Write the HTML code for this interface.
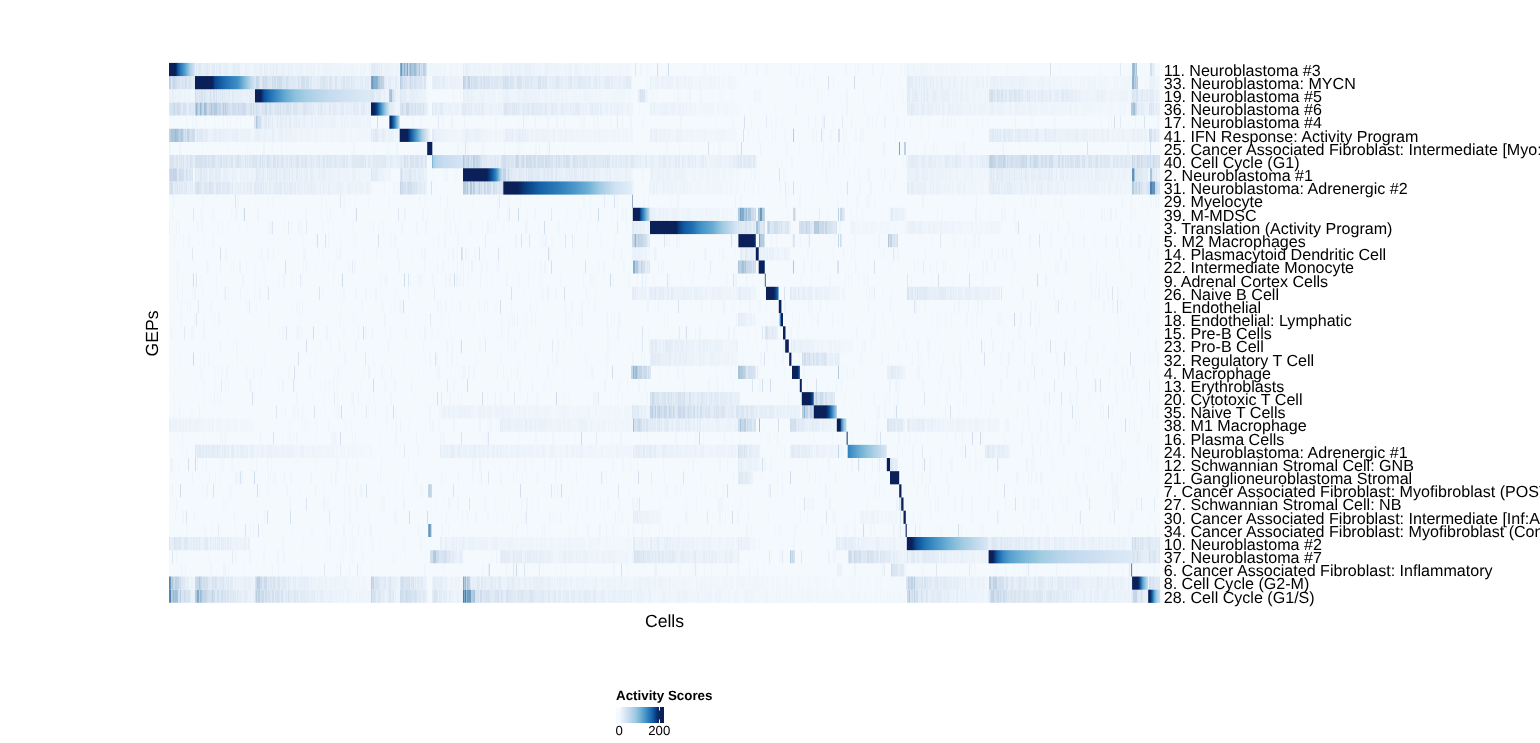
<!DOCTYPE html>
<html><head><meta charset="utf-8"><title>Heatmap</title><style>html,body{margin:0;padding:0;background:#fff;}body{width:1540px;height:743px;overflow:hidden;}svg{display:block;will-change:transform;text-rendering:geometricPrecision;}</style></head><body>
<svg width="1540" height="743" viewBox="0 0 1540 743">
<rect width="1540" height="743" fill="#fff"/>
<g><defs><linearGradient id="g0" x1="0" x2="1" y1="0" y2="0"><stop offset="0.0000" stop-color="#0b2059"/><stop offset="0.2692" stop-color="#0b2059"/><stop offset="0.3154" stop-color="#084a92"/><stop offset="0.4231" stop-color="#2070b4"/><stop offset="0.6154" stop-color="#56a0ce"/><stop offset="0.8077" stop-color="#aacfe5"/><stop offset="1.0000" stop-color="#d6e5f4"/></linearGradient><linearGradient id="g1" x1="0" x2="1" y1="0" y2="0"><stop offset="0.0000" stop-color="#0b2059"/><stop offset="0.2883" stop-color="#0b2059"/><stop offset="0.3417" stop-color="#084a92"/><stop offset="0.5167" stop-color="#2070b4"/><stop offset="0.7167" stop-color="#4191c5"/><stop offset="0.8250" stop-color="#7fb9da"/><stop offset="0.9167" stop-color="#b5d4e9"/><stop offset="1.0000" stop-color="#d6e5f4"/></linearGradient><linearGradient id="g2" x1="0" x2="1" y1="0" y2="0"><stop offset="0.0000" stop-color="#0b2059"/><stop offset="0.0517" stop-color="#0b2059"/><stop offset="0.0776" stop-color="#08509b"/><stop offset="0.1293" stop-color="#2070b4"/><stop offset="0.1983" stop-color="#4191c5"/><stop offset="0.2586" stop-color="#65aad4"/><stop offset="0.3448" stop-color="#8dc1dd"/><stop offset="0.4397" stop-color="#a6cee4"/><stop offset="0.5431" stop-color="#b8d5ea"/><stop offset="0.6466" stop-color="#c6dbef"/><stop offset="0.7759" stop-color="#cfe1f2"/><stop offset="0.9052" stop-color="#d8e7f5"/><stop offset="1.0000" stop-color="#dceaf6"/></linearGradient><linearGradient id="g3" x1="0" x2="1" y1="0" y2="0"><stop offset="0.0000" stop-color="#0b2059"/><stop offset="0.1944" stop-color="#0a245e"/><stop offset="0.3333" stop-color="#084489"/><stop offset="0.5000" stop-color="#2f7fbc"/><stop offset="0.6667" stop-color="#69add5"/><stop offset="0.8333" stop-color="#aacfe5"/><stop offset="1.0000" stop-color="#d3e4f3"/></linearGradient><linearGradient id="g4" x1="0" x2="1" y1="0" y2="0"><stop offset="0.0000" stop-color="#0a2761"/><stop offset="0.1553" stop-color="#082e69"/><stop offset="0.3495" stop-color="#0e59a2"/><stop offset="0.5437" stop-color="#3585bf"/><stop offset="0.7379" stop-color="#76b4d8"/><stop offset="1.0000" stop-color="#c6dbef"/></linearGradient><linearGradient id="g5" x1="0" x2="1" y1="0" y2="0"><stop offset="0.0000" stop-color="#0b2059"/><stop offset="0.2836" stop-color="#0b2059"/><stop offset="0.4109" stop-color="#0e59a2"/><stop offset="0.6291" stop-color="#56a0ce"/><stop offset="0.8109" stop-color="#aacfe5"/><stop offset="1.0000" stop-color="#dae8f6"/></linearGradient><linearGradient id="g7" x1="0" x2="1" y1="0" y2="0"><stop offset="0.0000" stop-color="#56a0ce"/><stop offset="0.0326" stop-color="#a3cce3"/><stop offset="0.1205" stop-color="#b8d5ea"/><stop offset="0.4137" stop-color="#c9ddf0"/><stop offset="0.7394" stop-color="#cfe1f2"/><stop offset="1.0000" stop-color="#d6e5f4"/></linearGradient><linearGradient id="g8" x1="0" x2="1" y1="0" y2="0"><stop offset="0.0000" stop-color="#0b2059"/><stop offset="0.6000" stop-color="#0b2059"/><stop offset="0.7250" stop-color="#0c56a0"/><stop offset="0.8250" stop-color="#3585bf"/><stop offset="0.9250" stop-color="#9fcbe1"/><stop offset="1.0000" stop-color="#d6e5f4"/></linearGradient><linearGradient id="g9" x1="0" x2="1" y1="0" y2="0"><stop offset="0.0000" stop-color="#0b2059"/><stop offset="0.1138" stop-color="#0b2059"/><stop offset="0.1680" stop-color="#083c7c"/><stop offset="0.2841" stop-color="#1562a9"/><stop offset="0.4698" stop-color="#3585bf"/><stop offset="0.6478" stop-color="#69add5"/><stop offset="0.7485" stop-color="#a3cce3"/><stop offset="0.8646" stop-color="#cfe1f2"/><stop offset="1.0000" stop-color="#e3eef9"/></linearGradient><linearGradient id="g11" x1="0" x2="1" y1="0" y2="0"><stop offset="0.0000" stop-color="#0b2059"/><stop offset="0.3905" stop-color="#0b2059"/><stop offset="0.4852" stop-color="#0e59a2"/><stop offset="0.6627" stop-color="#4191c5"/><stop offset="0.8402" stop-color="#8dc1dd"/><stop offset="1.0000" stop-color="#c6dbef"/></linearGradient><linearGradient id="g12" x1="0" x2="1" y1="0" y2="0"><stop offset="0.0000" stop-color="#0b2059"/><stop offset="0.2986" stop-color="#0b2059"/><stop offset="0.3281" stop-color="#083c7c"/><stop offset="0.3846" stop-color="#0e59a2"/><stop offset="0.4842" stop-color="#2070b4"/><stop offset="0.5724" stop-color="#4191c5"/><stop offset="0.7127" stop-color="#69add5"/><stop offset="0.8190" stop-color="#9fcbe1"/><stop offset="0.9276" stop-color="#c6dbef"/><stop offset="1.0000" stop-color="#dceaf6"/></linearGradient><linearGradient id="g13" x1="0" x2="1" y1="0" y2="0"><stop offset="0.0000" stop-color="#0b2059"/><stop offset="0.8678" stop-color="#0b2059"/><stop offset="1.0000" stop-color="#083c7c"/></linearGradient><linearGradient id="g15" x1="0" x2="1" y1="0" y2="0"><stop offset="0.0000" stop-color="#0b2059"/><stop offset="0.7869" stop-color="#0b2059"/><stop offset="1.0000" stop-color="#083c7c"/></linearGradient><linearGradient id="g17" x1="0" x2="1" y1="0" y2="0"><stop offset="0.0000" stop-color="#0b2059"/><stop offset="0.6111" stop-color="#0b2059"/><stop offset="0.7937" stop-color="#084489"/><stop offset="1.0000" stop-color="#2676b8"/></linearGradient><linearGradient id="g19" x1="0" x2="1" y1="0" y2="0"><stop offset="0.0000" stop-color="#69add5"/><stop offset="0.4286" stop-color="#1a67ae"/><stop offset="0.5714" stop-color="#0b2059"/><stop offset="1.0000" stop-color="#0b2059"/></linearGradient><linearGradient id="g23" x1="0" x2="1" y1="0" y2="0"><stop offset="0.0000" stop-color="#0b2059"/><stop offset="0.6750" stop-color="#0b2059"/><stop offset="0.8750" stop-color="#08509b"/><stop offset="1.0000" stop-color="#3585bf"/></linearGradient><linearGradient id="g25" x1="0" x2="1" y1="0" y2="0"><stop offset="0.0000" stop-color="#0b2059"/><stop offset="0.6833" stop-color="#0b2059"/><stop offset="0.8500" stop-color="#083c7c"/><stop offset="1.0000" stop-color="#1a67ae"/></linearGradient><linearGradient id="g26" x1="0" x2="1" y1="0" y2="0"><stop offset="0.0000" stop-color="#0b2059"/><stop offset="0.5259" stop-color="#0b2059"/><stop offset="0.6552" stop-color="#084a92"/><stop offset="0.7845" stop-color="#3585bf"/><stop offset="0.9138" stop-color="#7fb9da"/><stop offset="1.0000" stop-color="#bcd7ec"/></linearGradient><linearGradient id="g27" x1="0" x2="1" y1="0" y2="0"><stop offset="0.0000" stop-color="#0b2059"/><stop offset="0.3505" stop-color="#0b2059"/><stop offset="0.4845" stop-color="#3585bf"/><stop offset="0.7423" stop-color="#96c6df"/><stop offset="1.0000" stop-color="#c6dbef"/></linearGradient><linearGradient id="g29" x1="0" x2="1" y1="0" y2="0"><stop offset="0.0000" stop-color="#2f7fbc"/><stop offset="0.1100" stop-color="#4493c7"/><stop offset="0.3146" stop-color="#6dafd6"/><stop offset="0.5703" stop-color="#9bc8e0"/><stop offset="0.8133" stop-color="#c0d8ed"/><stop offset="1.0000" stop-color="#d8e7f5"/></linearGradient><linearGradient id="g31" x1="0" x2="1" y1="0" y2="0"><stop offset="0.0000" stop-color="#0b2059"/><stop offset="0.9239" stop-color="#0b2059"/><stop offset="1.0000" stop-color="#082e69"/></linearGradient><linearGradient id="g36" x1="0" x2="1" y1="0" y2="0"><stop offset="0.0000" stop-color="#0b2059"/><stop offset="0.0636" stop-color="#0b2059"/><stop offset="0.1125" stop-color="#084a92"/><stop offset="0.2225" stop-color="#2373b6"/><stop offset="0.3447" stop-color="#4191c5"/><stop offset="0.5281" stop-color="#76b4d8"/><stop offset="0.6748" stop-color="#9fcbe1"/><stop offset="0.8337" stop-color="#c0d8ed"/><stop offset="1.0000" stop-color="#dae8f6"/></linearGradient><linearGradient id="g37" x1="0" x2="1" y1="0" y2="0"><stop offset="0.0000" stop-color="#0b2059"/><stop offset="0.0307" stop-color="#0b2059"/><stop offset="0.0587" stop-color="#0e59a2"/><stop offset="0.1006" stop-color="#3585bf"/><stop offset="0.1494" stop-color="#56a0ce"/><stop offset="0.2542" stop-color="#7fb9da"/><stop offset="0.3589" stop-color="#9fcbe1"/><stop offset="0.4986" stop-color="#b8d5ea"/><stop offset="0.6383" stop-color="#c6dbef"/><stop offset="0.7779" stop-color="#cfe1f2"/><stop offset="1.0000" stop-color="#dceaf6"/></linearGradient><linearGradient id="g39" x1="0" x2="1" y1="0" y2="0"><stop offset="0.0000" stop-color="#0b2059"/><stop offset="0.3665" stop-color="#0b2059"/><stop offset="0.4783" stop-color="#084a92"/><stop offset="0.6708" stop-color="#5ea5d1"/><stop offset="0.8634" stop-color="#aacfe5"/><stop offset="1.0000" stop-color="#c6dbef"/></linearGradient><linearGradient id="g40" x1="0" x2="1" y1="0" y2="0"><stop offset="0.0000" stop-color="#0b2059"/><stop offset="0.1250" stop-color="#0b2059"/><stop offset="0.2333" stop-color="#083c7c"/><stop offset="0.3833" stop-color="#2373b6"/><stop offset="0.5417" stop-color="#69add5"/><stop offset="0.7333" stop-color="#aacfe5"/><stop offset="0.9500" stop-color="#cbdef1"/><stop offset="1.0000" stop-color="#cfe1f2"/></linearGradient></defs><rect x="169" y="62.9" width="991.2" height="539.97" fill="#f4f9fe"/>
<path fill="#eff6fb" d="M175 62.9h1v13.17h-1zM177 62.9h2v13.17h-2zM186 62.9h1v13.17h-1zM304 62.9h1v13.17h-1zM309 62.9h1v13.17h-1zM315 62.9h1v13.17h-1zM323 62.9h1v13.17h-1zM333 62.9h1v13.17h-1zM341 62.9h1v13.17h-1zM354 62.9h3v13.17h-3zM365 62.9h1v13.17h-1zM393 62.9h2v13.17h-2zM432 62.9h1v13.17h-1zM437 62.9h1v13.17h-1zM440 62.9h1v13.17h-1zM449 62.9h2v13.17h-2zM452 62.9h1v13.17h-1zM455 62.9h3v13.17h-3zM477 62.9h1v13.17h-1zM491 62.9h2v13.17h-2zM499 62.9h2v13.17h-2zM541 62.9h3v13.17h-3zM561 62.9h1v13.17h-1zM592 62.9h1v13.17h-1zM597 62.9h1v13.17h-1zM601 62.9h1v13.17h-1zM617 62.9h2v13.17h-2zM627 62.9h1v13.17h-1zM702 62.9h1v13.17h-1zM765 62.9h1v13.17h-1zM791 62.9h1v13.17h-1zM814 62.9h1v13.17h-1zM855 62.9h1v13.17h-1zM882 62.9h1v13.17h-1zM907 62.9h1v13.17h-1zM911 62.9h1v13.17h-1zM916 62.9h3v13.17h-3zM924 62.9h1v13.17h-1zM926 62.9h1v13.17h-1zM928 62.9h1v13.17h-1zM930 62.9h1v13.17h-1zM937 62.9h1v13.17h-1zM943 62.9h1v13.17h-1zM945 62.9h2v13.17h-2zM951 62.9h1v13.17h-1zM1006 62.9h1v13.17h-1zM1059 62.9h1v13.17h-1zM243 76.1h1v13.17h-1zM682 76.1h1v13.17h-1zM701 76.1h1v13.17h-1zM712 76.1h1v13.17h-1zM715 76.1h1v13.17h-1zM718 76.1h2v13.17h-2zM728 76.1h3v13.17h-3zM732 76.1h1v13.17h-1zM796 76.1h1v13.17h-1zM963 76.1h1v13.17h-1zM968 76.1h4v13.17h-4zM973 76.1h2v13.17h-2zM1032 76.1h2v13.17h-2zM1040 76.1h1v13.17h-1zM1053 76.1h1v13.17h-1zM1061 76.1h1v13.17h-1zM1064 76.1h1v13.17h-1zM1069 76.1h1v13.17h-1zM1083 76.1h1v13.17h-1zM1089 76.1h2v13.17h-2zM1113 76.1h1v13.17h-1zM1117 76.1h2v13.17h-2zM1122 76.1h1v13.17h-1zM1124 76.1h1v13.17h-1zM1126 76.1h6v13.17h-6zM1145 76.1h1v13.17h-1zM182 89.2h2v13.17h-2zM185 89.2h2v13.17h-2zM262 89.2h1v13.17h-1zM278 89.2h2v13.17h-2zM426 89.2h1v13.17h-1zM460 89.2h1v13.17h-1zM478 89.2h1v13.17h-1zM497 89.2h3v13.17h-3zM501 89.2h1v13.17h-1zM514 89.2h2v13.17h-2zM522 89.2h1v13.17h-1zM545 89.2h1v13.17h-1zM548 89.2h2v13.17h-2zM552 89.2h2v13.17h-2zM567 89.2h1v13.17h-1zM583 89.2h1v13.17h-1zM614 89.2h1v13.17h-1zM620 89.2h3v13.17h-3zM625 89.2h1v13.17h-1zM653 89.2h1v13.17h-1zM677 89.2h2v13.17h-2zM699 89.2h1v13.17h-1zM754 89.2h2v13.17h-2zM972 89.2h1v13.17h-1zM979 89.2h1v13.17h-1zM982 89.2h1v13.17h-1zM986 89.2h1v13.17h-1zM1100 89.2h1v13.17h-1zM1106 89.2h1v13.17h-1zM1108 89.2h3v13.17h-3zM1119 89.2h1v13.17h-1zM661 102.4h1v13.17h-1zM681 102.4h1v13.17h-1zM694 102.4h1v13.17h-1zM703 102.4h2v13.17h-2zM706 102.4h2v13.17h-2zM712 102.4h2v13.17h-2zM717 102.4h2v13.17h-2zM724 102.4h1v13.17h-1zM731 102.4h1v13.17h-1zM795 102.4h1v13.17h-1zM971 102.4h1v13.17h-1zM986 102.4h2v13.17h-2zM1007 102.4h2v13.17h-2zM1049 102.4h1v13.17h-1zM1055 102.4h1v13.17h-1zM1059 102.4h3v13.17h-3zM1063 102.4h1v13.17h-1zM1082 102.4h5v13.17h-5zM1088 102.4h3v13.17h-3zM1092 102.4h1v13.17h-1zM1119 102.4h2v13.17h-2zM1123 102.4h2v13.17h-2zM186 115.6h1v13.17h-1zM192 115.6h1v13.17h-1zM214 115.6h1v13.17h-1zM338 115.6h3v13.17h-3zM395 115.6h2v13.17h-2zM413 115.6h1v13.17h-1zM420 115.6h2v13.17h-2zM442 115.6h2v13.17h-2zM526 115.6h1v13.17h-1zM610 115.6h1v13.17h-1zM680 115.6h2v13.17h-2zM782 115.6h1v13.17h-1zM815 115.6h1v13.17h-1zM833 115.6h1v13.17h-1zM876 115.6h1v13.17h-1zM921 115.6h1v13.17h-1zM929 115.6h1v13.17h-1zM947 115.6h2v13.17h-2zM951 115.6h1v13.17h-1zM1101 115.6h1v13.17h-1zM1108 115.6h1v13.17h-1zM250 128.8h4v13.17h-4zM297 128.8h2v13.17h-2zM303 128.8h2v13.17h-2zM320 128.8h1v13.17h-1zM322 128.8h1v13.17h-1zM330 128.8h1v13.17h-1zM336 128.8h1v13.17h-1zM345 128.8h1v13.17h-1zM358 128.8h2v13.17h-2zM361 128.8h1v13.17h-1zM364 128.8h1v13.17h-1zM366 128.8h1v13.17h-1zM370 128.8h1v13.17h-1zM452 128.8h3v13.17h-3zM484 128.8h1v13.17h-1zM491 128.8h1v13.17h-1zM499 128.8h1v13.17h-1zM551 128.8h2v13.17h-2zM556 128.8h2v13.17h-2zM562 128.8h2v13.17h-2zM567 128.8h2v13.17h-2zM580 128.8h2v13.17h-2zM584 128.8h2v13.17h-2zM587 128.8h3v13.17h-3zM610 128.8h2v13.17h-2zM615 128.8h1v13.17h-1zM622 128.8h5v13.17h-5zM658 128.8h1v13.17h-1zM685 128.8h1v13.17h-1zM691 128.8h2v13.17h-2zM696 128.8h1v13.17h-1zM698 128.8h1v13.17h-1zM703 128.8h1v13.17h-1zM705 128.8h2v13.17h-2zM720 128.8h1v13.17h-1zM722 128.8h2v13.17h-2zM725 128.8h1v13.17h-1zM730 128.8h1v13.17h-1zM775 128.8h1v13.17h-1zM823 128.8h1v13.17h-1zM830 128.8h2v13.17h-2zM855 128.8h2v13.17h-2zM1105 128.8h1v13.17h-1zM1110 128.8h2v13.17h-2zM1114 128.8h2v13.17h-2zM1125 128.8h2v13.17h-2zM386 141.9h1v13.17h-1zM388 141.9h1v13.17h-1zM431 141.9h2v13.17h-2zM457 141.9h2v13.17h-2zM462 141.9h1v13.17h-1zM519 141.9h1v13.17h-1zM666 141.9h2v13.17h-2zM713 141.9h1v13.17h-1zM718 141.9h1v13.17h-1zM844 141.9h1v13.17h-1zM1144 141.9h2v13.17h-2zM781 155.1h1v13.17h-1zM791 155.1h2v13.17h-2zM833 155.1h1v13.17h-1zM854 155.1h1v13.17h-1zM249 168.3h1v13.17h-1zM253 168.3h1v13.17h-1zM356 168.3h3v13.17h-3zM364 168.3h1v13.17h-1zM384 168.3h1v13.17h-1zM388 168.3h2v13.17h-2zM446 168.3h2v13.17h-2zM641 168.3h1v13.17h-1zM671 168.3h2v13.17h-2zM686 168.3h1v13.17h-1zM691 168.3h3v13.17h-3zM702 168.3h2v13.17h-2zM706 168.3h1v13.17h-1zM709 168.3h1v13.17h-1zM713 168.3h1v13.17h-1zM724 168.3h2v13.17h-2zM730 168.3h2v13.17h-2zM881 168.3h1v13.17h-1zM960 168.3h3v13.17h-3zM964 168.3h1v13.17h-1zM966 168.3h1v13.17h-1zM975 168.3h1v13.17h-1zM980 168.3h1v13.17h-1zM358 181.4h1v13.17h-1zM365 181.4h1v13.17h-1zM384 181.4h1v13.17h-1zM393 181.4h1v13.17h-1zM435 181.4h1v13.17h-1zM536 181.4h1v13.17h-1zM607 181.4h2v13.17h-2zM673 181.4h2v13.17h-2zM681 181.4h1v13.17h-1zM686 181.4h1v13.17h-1zM688 181.4h2v13.17h-2zM708 181.4h2v13.17h-2zM713 181.4h3v13.17h-3zM720 181.4h1v13.17h-1zM727 181.4h1v13.17h-1zM731 181.4h1v13.17h-1zM744 181.4h1v13.17h-1zM800 181.4h1v13.17h-1zM859 181.4h1v13.17h-1zM871 181.4h1v13.17h-1zM934 181.4h1v13.17h-1zM955 181.4h2v13.17h-2zM969 181.4h1v13.17h-1zM1081 181.4h1v13.17h-1zM1087 181.4h1v13.17h-1zM1113 181.4h2v13.17h-2zM1122 181.4h1v13.17h-1zM1128 181.4h2v13.17h-2zM343 194.6h2v13.17h-2zM389 194.6h1v13.17h-1zM419 194.6h1v13.17h-1zM473 194.6h1v13.17h-1zM583 194.6h2v13.17h-2zM648 194.6h1v13.17h-1zM670 194.6h1v13.17h-1zM740 194.6h2v13.17h-2zM799 194.6h2v13.17h-2zM847 194.6h1v13.17h-1zM874 194.6h1v13.17h-1zM1151 194.6h1v13.17h-1zM257 207.8h2v13.17h-2zM355 207.8h1v13.17h-1zM422 207.8h1v13.17h-1zM498 207.8h1v13.17h-1zM526 207.8h1v13.17h-1zM638 207.8h1v13.17h-1zM668 207.8h4v13.17h-4zM679 207.8h1v13.17h-1zM696 207.8h3v13.17h-3zM703 207.8h1v13.17h-1zM708 207.8h2v13.17h-2zM711 207.8h1v13.17h-1zM717 207.8h3v13.17h-3zM723 207.8h2v13.17h-2zM726 207.8h2v13.17h-2zM736 207.8h2v13.17h-2zM850 207.8h1v13.17h-1zM862 207.8h1v13.17h-1zM937 207.8h1v13.17h-1zM1001 207.8h1v13.17h-1zM1014 207.8h1v13.17h-1zM1135 207.8h1v13.17h-1zM228 220.9h1v13.17h-1zM238 220.9h1v13.17h-1zM268 220.9h3v13.17h-3zM291 220.9h1v13.17h-1zM322 220.9h1v13.17h-1zM353 220.9h1v13.17h-1zM383 220.9h1v13.17h-1zM455 220.9h1v13.17h-1zM491 220.9h1v13.17h-1zM588 220.9h1v13.17h-1zM626 220.9h1v13.17h-1zM645 220.9h2v13.17h-2zM649 220.9h1v13.17h-1zM839 220.9h2v13.17h-2zM875 220.9h1v13.17h-1zM905 220.9h2v13.17h-2zM926 220.9h2v13.17h-2zM931 220.9h1v13.17h-1zM936 220.9h1v13.17h-1zM943 220.9h1v13.17h-1zM948 220.9h2v13.17h-2zM953 220.9h2v13.17h-2zM960 220.9h1v13.17h-1zM968 220.9h1v13.17h-1zM971 220.9h1v13.17h-1zM980 220.9h2v13.17h-2zM987 220.9h1v13.17h-1zM991 220.9h9v13.17h-9zM1068 220.9h2v13.17h-2zM1145 220.9h1v13.17h-1zM183 234.1h1v13.17h-1zM540 234.1h1v13.17h-1zM601 234.1h1v13.17h-1zM808 234.1h1v13.17h-1zM834 234.1h1v13.17h-1zM931 234.1h1v13.17h-1zM978 234.1h2v13.17h-2zM1065 234.1h1v13.17h-1zM1073 234.1h1v13.17h-1zM1083 234.1h2v13.17h-2zM1105 234.1h2v13.17h-2zM1151 234.1h1v13.17h-1zM225 247.3h2v13.17h-2zM303 247.3h1v13.17h-1zM364 247.3h1v13.17h-1zM452 247.3h1v13.17h-1zM474 247.3h2v13.17h-2zM549 247.3h2v13.17h-2zM573 247.3h1v13.17h-1zM644 247.3h1v13.17h-1zM649 247.3h1v13.17h-1zM722 247.3h2v13.17h-2zM779 247.3h2v13.17h-2zM833 247.3h1v13.17h-1zM851 247.3h1v13.17h-1zM894 247.3h1v13.17h-1zM991 247.3h2v13.17h-2zM1011 247.3h2v13.17h-2zM1040 247.3h1v13.17h-1zM1069 247.3h1v13.17h-1zM206 260.4h2v13.17h-2zM209 260.4h1v13.17h-1zM334 260.4h1v13.17h-1zM354 260.4h2v13.17h-2zM442 260.4h2v13.17h-2zM534 260.4h1v13.17h-1zM603 260.4h1v13.17h-1zM623 260.4h2v13.17h-2zM661 260.4h1v13.17h-1zM693 260.4h2v13.17h-2zM803 260.4h2v13.17h-2zM1055 260.4h2v13.17h-2zM1121 260.4h1v13.17h-1zM265 273.6h1v13.17h-1zM302 273.6h1v13.17h-1zM380 273.6h1v13.17h-1zM384 273.6h1v13.17h-1zM419 273.6h2v13.17h-2zM506 273.6h2v13.17h-2zM528 273.6h1v13.17h-1zM637 273.6h1v13.17h-1zM669 273.6h1v13.17h-1zM911 273.6h1v13.17h-1zM953 273.6h1v13.17h-1zM1089 273.6h1v13.17h-1zM1096 273.6h1v13.17h-1zM1099 273.6h1v13.17h-1zM1105 273.6h1v13.17h-1zM202 286.8h1v13.17h-1zM217 286.8h1v13.17h-1zM254 286.8h1v13.17h-1zM260 286.8h1v13.17h-1zM595 286.8h1v13.17h-1zM707 286.8h1v13.17h-1zM722 286.8h1v13.17h-1zM727 286.8h2v13.17h-2zM731 286.8h1v13.17h-1zM753 286.8h1v13.17h-1zM769 286.8h2v13.17h-2zM831 286.8h1v13.17h-1zM837 286.8h3v13.17h-3zM844 286.8h1v13.17h-1zM866 286.8h1v13.17h-1zM1049 286.8h1v13.17h-1zM1095 286.8h1v13.17h-1zM1102 286.8h1v13.17h-1zM181 300.0h1v13.17h-1zM187 300.0h1v13.17h-1zM211 300.0h1v13.17h-1zM381 300.0h1v13.17h-1zM390 300.0h1v13.17h-1zM394 300.0h1v13.17h-1zM469 300.0h1v13.17h-1zM487 300.0h1v13.17h-1zM581 300.0h2v13.17h-2zM588 300.0h1v13.17h-1zM740 300.0h1v13.17h-1zM749 300.0h2v13.17h-2zM958 300.0h2v13.17h-2zM977 300.0h2v13.17h-2zM1030 300.0h2v13.17h-2zM1066 300.0h1v13.17h-1zM1103 300.0h2v13.17h-2zM1112 300.0h2v13.17h-2zM339 313.1h1v13.17h-1zM614 313.1h1v13.17h-1zM619 313.1h2v13.17h-2zM752 313.1h2v13.17h-2zM799 313.1h1v13.17h-1zM803 313.1h1v13.17h-1zM832 313.1h2v13.17h-2zM838 313.1h1v13.17h-1zM893 313.1h1v13.17h-1zM932 313.1h1v13.17h-1zM966 313.1h2v13.17h-2zM971 313.1h1v13.17h-1zM1117 313.1h1v13.17h-1zM192 326.3h2v13.17h-2zM282 326.3h1v13.17h-1zM296 326.3h1v13.17h-1zM501 326.3h2v13.17h-2zM526 326.3h1v13.17h-1zM790 326.3h2v13.17h-2zM856 326.3h2v13.17h-2zM1004 326.3h1v13.17h-1zM1074 326.3h1v13.17h-1zM330 339.5h1v13.17h-1zM479 339.5h2v13.17h-2zM508 339.5h1v13.17h-1zM557 339.5h2v13.17h-2zM724 339.5h2v13.17h-2zM728 339.5h1v13.17h-1zM733 339.5h1v13.17h-1zM816 339.5h1v13.17h-1zM818 339.5h3v13.17h-3zM823 339.5h1v13.17h-1zM826 339.5h2v13.17h-2zM918 339.5h1v13.17h-1zM927 339.5h2v13.17h-2zM968 339.5h1v13.17h-1zM1012 339.5h2v13.17h-2zM1065 339.5h2v13.17h-2zM204 352.6h1v13.17h-1zM501 352.6h1v13.17h-1zM525 352.6h1v13.17h-1zM702 352.6h1v13.17h-1zM707 352.6h1v13.17h-1zM709 352.6h1v13.17h-1zM720 352.6h2v13.17h-2zM782 352.6h2v13.17h-2zM881 352.6h2v13.17h-2zM888 352.6h1v13.17h-1zM912 352.6h1v13.17h-1zM928 352.6h1v13.17h-1zM1031 352.6h1v13.17h-1zM1056 352.6h1v13.17h-1zM1144 352.6h1v13.17h-1zM1153 352.6h1v13.17h-1zM1157 352.6h1v13.17h-1zM200 365.8h1v13.17h-1zM221 365.8h1v13.17h-1zM261 365.8h1v13.17h-1zM363 365.8h1v13.17h-1zM463 365.8h3v13.17h-3zM473 365.8h2v13.17h-2zM547 365.8h2v13.17h-2zM591 365.8h2v13.17h-2zM659 365.8h1v13.17h-1zM716 365.8h1v13.17h-1zM730 365.8h1v13.17h-1zM784 365.8h1v13.17h-1zM794 365.8h2v13.17h-2zM904 365.8h2v13.17h-2zM919 365.8h1v13.17h-1zM1006 365.8h2v13.17h-2zM1030 365.8h1v13.17h-1zM1093 365.8h1v13.17h-1zM1121 365.8h2v13.17h-2zM1133 365.8h1v13.17h-1zM225 379.0h1v13.17h-1zM228 379.0h1v13.17h-1zM325 379.0h1v13.17h-1zM394 379.0h2v13.17h-2zM507 379.0h2v13.17h-2zM627 379.0h1v13.17h-1zM759 379.0h2v13.17h-2zM939 379.0h1v13.17h-1zM1018 379.0h3v13.17h-3zM1077 379.0h2v13.17h-2zM1096 379.0h1v13.17h-1zM1122 379.0h1v13.17h-1zM217 392.1h1v13.17h-1zM351 392.1h2v13.17h-2zM373 392.1h1v13.17h-1zM390 392.1h2v13.17h-2zM449 392.1h1v13.17h-1zM569 392.1h1v13.17h-1zM595 392.1h2v13.17h-2zM808 392.1h1v13.17h-1zM861 392.1h1v13.17h-1zM981 392.1h1v13.17h-1zM992 392.1h1v13.17h-1zM1069 392.1h2v13.17h-2zM174 405.3h1v13.17h-1zM375 405.3h1v13.17h-1zM462 405.3h1v13.17h-1zM467 405.3h1v13.17h-1zM475 405.3h3v13.17h-3zM486 405.3h1v13.17h-1zM491 405.3h1v13.17h-1zM533 405.3h1v13.17h-1zM540 405.3h1v13.17h-1zM542 405.3h3v13.17h-3zM551 405.3h1v13.17h-1zM560 405.3h1v13.17h-1zM568 405.3h1v13.17h-1zM573 405.3h1v13.17h-1zM580 405.3h2v13.17h-2zM584 405.3h1v13.17h-1zM587 405.3h1v13.17h-1zM590 405.3h1v13.17h-1zM595 405.3h2v13.17h-2zM604 405.3h1v13.17h-1zM606 405.3h1v13.17h-1zM608 405.3h3v13.17h-3zM614 405.3h2v13.17h-2zM618 405.3h1v13.17h-1zM620 405.3h1v13.17h-1zM624 405.3h7v13.17h-7zM877 405.3h2v13.17h-2zM884 405.3h2v13.17h-2zM1078 405.3h1v13.17h-1zM1112 405.3h1v13.17h-1zM1141 405.3h2v13.17h-2zM177 418.5h1v13.17h-1zM203 418.5h3v13.17h-3zM210 418.5h1v13.17h-1zM216 418.5h1v13.17h-1zM225 418.5h1v13.17h-1zM227 418.5h2v13.17h-2zM235 418.5h3v13.17h-3zM243 418.5h1v13.17h-1zM328 418.5h1v13.17h-1zM409 418.5h1v13.17h-1zM438 418.5h1v13.17h-1zM490 418.5h2v13.17h-2zM566 418.5h1v13.17h-1zM572 418.5h3v13.17h-3zM576 418.5h2v13.17h-2zM590 418.5h1v13.17h-1zM593 418.5h1v13.17h-1zM600 418.5h3v13.17h-3zM606 418.5h1v13.17h-1zM611 418.5h4v13.17h-4zM621 418.5h1v13.17h-1zM623 418.5h1v13.17h-1zM629 418.5h2v13.17h-2zM732 418.5h2v13.17h-2zM941 418.5h1v13.17h-1zM944 418.5h2v13.17h-2zM954 418.5h1v13.17h-1zM961 418.5h1v13.17h-1zM964 418.5h1v13.17h-1zM979 418.5h1v13.17h-1zM990 418.5h1v13.17h-1zM994 418.5h1v13.17h-1zM996 418.5h1v13.17h-1zM1005 418.5h3v13.17h-3zM1022 418.5h1v13.17h-1zM1047 418.5h1v13.17h-1zM1076 418.5h1v13.17h-1zM1106 418.5h1v13.17h-1zM296 431.7h2v13.17h-2zM331 431.7h2v13.17h-2zM379 431.7h1v13.17h-1zM395 431.7h2v13.17h-2zM443 431.7h2v13.17h-2zM483 431.7h1v13.17h-1zM574 431.7h1v13.17h-1zM612 431.7h1v13.17h-1zM647 431.7h1v13.17h-1zM675 431.7h2v13.17h-2zM740 431.7h1v13.17h-1zM852 431.7h1v13.17h-1zM946 431.7h1v13.17h-1zM982 431.7h1v13.17h-1zM1060 431.7h2v13.17h-2zM1068 431.7h2v13.17h-2zM1139 431.7h1v13.17h-1zM186 444.8h1v13.17h-1zM285 444.8h1v13.17h-1zM308 444.8h2v13.17h-2zM311 444.8h1v13.17h-1zM318 444.8h1v13.17h-1zM324 444.8h3v13.17h-3zM336 444.8h2v13.17h-2zM340 444.8h2v13.17h-2zM353 444.8h1v13.17h-1zM508 444.8h3v13.17h-3zM526 444.8h1v13.17h-1zM539 444.8h2v13.17h-2zM546 444.8h2v13.17h-2zM555 444.8h2v13.17h-2zM563 444.8h3v13.17h-3zM570 444.8h1v13.17h-1zM574 444.8h2v13.17h-2zM591 444.8h1v13.17h-1zM607 444.8h2v13.17h-2zM612 444.8h1v13.17h-1zM623 444.8h2v13.17h-2zM627 444.8h2v13.17h-2zM693 444.8h1v13.17h-1zM705 444.8h1v13.17h-1zM713 444.8h2v13.17h-2zM724 444.8h1v13.17h-1zM726 444.8h2v13.17h-2zM734 444.8h1v13.17h-1zM737 444.8h1v13.17h-1zM826 444.8h2v13.17h-2zM837 444.8h1v13.17h-1zM841 444.8h1v13.17h-1zM897 444.8h1v13.17h-1zM912 444.8h2v13.17h-2zM975 444.8h1v13.17h-1zM1063 444.8h1v13.17h-1zM1105 444.8h1v13.17h-1zM1147 444.8h2v13.17h-2zM267 458.0h1v13.17h-1zM381 458.0h1v13.17h-1zM525 458.0h1v13.17h-1zM531 458.0h1v13.17h-1zM555 458.0h2v13.17h-2zM612 458.0h2v13.17h-2zM622 458.0h2v13.17h-2zM663 458.0h1v13.17h-1zM692 458.0h2v13.17h-2zM719 458.0h2v13.17h-2zM727 458.0h1v13.17h-1zM758 458.0h1v13.17h-1zM764 458.0h2v13.17h-2zM828 458.0h1v13.17h-1zM912 458.0h2v13.17h-2zM922 458.0h1v13.17h-1zM941 458.0h1v13.17h-1zM950 458.0h1v13.17h-1zM1125 458.0h1v13.17h-1zM1137 458.0h1v13.17h-1zM1155 458.0h1v13.17h-1zM270 471.2h1v13.17h-1zM290 471.2h2v13.17h-2zM310 471.2h2v13.17h-2zM403 471.2h1v13.17h-1zM414 471.2h1v13.17h-1zM472 471.2h1v13.17h-1zM513 471.2h1v13.17h-1zM664 471.2h1v13.17h-1zM777 471.2h1v13.17h-1zM809 471.2h1v13.17h-1zM815 471.2h1v13.17h-1zM946 471.2h2v13.17h-2zM989 471.2h1v13.17h-1zM202 484.3h1v13.17h-1zM287 484.3h1v13.17h-1zM324 484.3h1v13.17h-1zM348 484.3h1v13.17h-1zM360 484.3h1v13.17h-1zM402 484.3h1v13.17h-1zM421 484.3h2v13.17h-2zM554 484.3h1v13.17h-1zM723 484.3h1v13.17h-1zM917 484.3h1v13.17h-1zM925 484.3h1v13.17h-1zM980 484.3h1v13.17h-1zM996 484.3h1v13.17h-1zM1042 484.3h1v13.17h-1zM1049 484.3h1v13.17h-1zM1157 484.3h1v13.17h-1zM383 497.5h2v13.17h-2zM538 497.5h1v13.17h-1zM600 497.5h1v13.17h-1zM607 497.5h1v13.17h-1zM794 497.5h1v13.17h-1zM807 497.5h2v13.17h-2zM954 497.5h2v13.17h-2zM971 497.5h2v13.17h-2zM1023 497.5h1v13.17h-1zM1038 497.5h1v13.17h-1zM1065 497.5h1v13.17h-1zM1137 497.5h1v13.17h-1zM175 510.7h1v13.17h-1zM182 510.7h2v13.17h-2zM257 510.7h1v13.17h-1zM524 510.7h2v13.17h-2zM549 510.7h2v13.17h-2zM577 510.7h1v13.17h-1zM649 510.7h2v13.17h-2zM657 510.7h2v13.17h-2zM660 510.7h1v13.17h-1zM725 510.7h1v13.17h-1zM768 510.7h1v13.17h-1zM864 510.7h1v13.17h-1zM881 510.7h1v13.17h-1zM885 510.7h2v13.17h-2zM888 510.7h2v13.17h-2zM895 510.7h2v13.17h-2zM970 510.7h1v13.17h-1zM1109 510.7h2v13.17h-2zM1130 510.7h2v13.17h-2zM212 523.9h1v13.17h-1zM235 523.9h1v13.17h-1zM569 523.9h1v13.17h-1zM746 523.9h2v13.17h-2zM794 523.9h1v13.17h-1zM828 523.9h1v13.17h-1zM854 523.9h1v13.17h-1zM920 523.9h1v13.17h-1zM940 523.9h1v13.17h-1zM980 523.9h1v13.17h-1zM1046 523.9h1v13.17h-1zM1089 523.9h1v13.17h-1zM1128 523.9h1v13.17h-1zM1148 523.9h1v13.17h-1zM282 537.0h2v13.17h-2zM302 537.0h1v13.17h-1zM326 537.0h1v13.17h-1zM475 537.0h1v13.17h-1zM498 537.0h1v13.17h-1zM502 537.0h2v13.17h-2zM506 537.0h1v13.17h-1zM513 537.0h4v13.17h-4zM520 537.0h1v13.17h-1zM526 537.0h4v13.17h-4zM552 537.0h1v13.17h-1zM558 537.0h1v13.17h-1zM561 537.0h2v13.17h-2zM565 537.0h2v13.17h-2zM569 537.0h1v13.17h-1zM572 537.0h1v13.17h-1zM575 537.0h1v13.17h-1zM577 537.0h1v13.17h-1zM579 537.0h2v13.17h-2zM584 537.0h1v13.17h-1zM597 537.0h1v13.17h-1zM607 537.0h1v13.17h-1zM620 537.0h1v13.17h-1zM627 537.0h2v13.17h-2zM644 537.0h1v13.17h-1zM648 537.0h1v13.17h-1zM689 537.0h1v13.17h-1zM698 537.0h3v13.17h-3zM705 537.0h1v13.17h-1zM711 537.0h1v13.17h-1zM713 537.0h2v13.17h-2zM721 537.0h1v13.17h-1zM729 537.0h2v13.17h-2zM753 537.0h2v13.17h-2zM793 537.0h2v13.17h-2zM884 537.0h2v13.17h-2zM887 537.0h2v13.17h-2zM940 537.0h1v13.17h-1zM1103 537.0h2v13.17h-2zM1128 537.0h3v13.17h-3zM176 550.2h1v13.17h-1zM209 550.2h1v13.17h-1zM235 550.2h2v13.17h-2zM491 550.2h1v13.17h-1zM589 550.2h2v13.17h-2zM616 550.2h1v13.17h-1zM619 550.2h2v13.17h-2zM835 550.2h1v13.17h-1zM975 550.2h1v13.17h-1zM1099 550.2h1v13.17h-1zM1104 550.2h1v13.17h-1zM228 563.4h1v13.17h-1zM424 563.4h2v13.17h-2zM443 563.4h1v13.17h-1zM561 563.4h1v13.17h-1zM679 563.4h2v13.17h-2zM704 563.4h1v13.17h-1zM726 563.4h2v13.17h-2zM922 563.4h1v13.17h-1zM996 563.4h1v13.17h-1zM1122 563.4h1v13.17h-1zM251 576.5h1v13.17h-1zM253 576.5h1v13.17h-1zM341 576.5h1v13.17h-1zM352 576.5h2v13.17h-2zM357 576.5h1v13.17h-1zM369 576.5h1v13.17h-1zM448 576.5h3v13.17h-3zM461 576.5h1v13.17h-1zM553 576.5h1v13.17h-1zM555 576.5h1v13.17h-1zM558 576.5h1v13.17h-1zM569 576.5h1v13.17h-1zM573 576.5h2v13.17h-2zM588 576.5h4v13.17h-4zM593 576.5h1v13.17h-1zM598 576.5h1v13.17h-1zM600 576.5h2v13.17h-2zM609 576.5h1v13.17h-1zM618 576.5h1v13.17h-1zM627 576.5h2v13.17h-2zM642 576.5h2v13.17h-2zM651 576.5h1v13.17h-1zM668 576.5h1v13.17h-1zM672 576.5h1v13.17h-1zM675 576.5h1v13.17h-1zM679 576.5h4v13.17h-4zM690 576.5h1v13.17h-1zM702 576.5h1v13.17h-1zM706 576.5h1v13.17h-1zM717 576.5h2v13.17h-2zM725 576.5h1v13.17h-1zM727 576.5h1v13.17h-1zM730 576.5h1v13.17h-1zM740 576.5h1v13.17h-1zM742 576.5h2v13.17h-2zM752 576.5h1v13.17h-1zM758 576.5h1v13.17h-1zM761 576.5h2v13.17h-2zM772 576.5h1v13.17h-1zM776 576.5h1v13.17h-1zM786 576.5h2v13.17h-2zM799 576.5h1v13.17h-1zM352 589.7h2v13.17h-2zM362 589.7h1v13.17h-1zM366 589.7h2v13.17h-2zM399 589.7h1v13.17h-1zM655 589.7h1v13.17h-1zM658 589.7h1v13.17h-1zM660 589.7h2v13.17h-2zM666 589.7h1v13.17h-1zM670 589.7h3v13.17h-3zM676 589.7h1v13.17h-1zM682 589.7h1v13.17h-1zM688 589.7h3v13.17h-3zM692 589.7h3v13.17h-3zM704 589.7h2v13.17h-2zM734 589.7h1v13.17h-1zM751 589.7h2v13.17h-2zM756 589.7h1v13.17h-1zM759 589.7h1v13.17h-1zM776 589.7h1v13.17h-1zM801 589.7h1v13.17h-1zM807 589.7h5v13.17h-5zM818 589.7h1v13.17h-1zM978 589.7h1v13.17h-1zM986 589.7h2v13.17h-2zM1112 589.7h1v13.17h-1zM1122 589.7h1v13.17h-1z"/>
<path fill="#f1f7fd" d="M181 62.9h2v13.17h-2zM342 62.9h1v13.17h-1zM358 62.9h2v13.17h-2zM362 62.9h1v13.17h-1zM366 62.9h3v13.17h-3zM442 62.9h1v13.17h-1zM446 62.9h2v13.17h-2zM459 62.9h2v13.17h-2zM462 62.9h1v13.17h-1zM501 62.9h1v13.17h-1zM572 62.9h2v13.17h-2zM583 62.9h1v13.17h-1zM590 62.9h1v13.17h-1zM594 62.9h1v13.17h-1zM600 62.9h1v13.17h-1zM602 62.9h2v13.17h-2zM609 62.9h2v13.17h-2zM612 62.9h1v13.17h-1zM614 62.9h1v13.17h-1zM616 62.9h1v13.17h-1zM622 62.9h1v13.17h-1zM624 62.9h1v13.17h-1zM629 62.9h1v13.17h-1zM658 62.9h1v13.17h-1zM740 62.9h2v13.17h-2zM789 62.9h1v13.17h-1zM919 62.9h1v13.17h-1zM929 62.9h1v13.17h-1zM933 62.9h2v13.17h-2zM938 62.9h1v13.17h-1zM947 62.9h4v13.17h-4zM953 62.9h1v13.17h-1zM960 62.9h3v13.17h-3zM972 62.9h1v13.17h-1zM975 62.9h1v13.17h-1zM980 62.9h2v13.17h-2zM986 62.9h3v13.17h-3zM1129 62.9h1v13.17h-1zM233 76.1h1v13.17h-1zM694 76.1h1v13.17h-1zM698 76.1h1v13.17h-1zM702 76.1h1v13.17h-1zM706 76.1h1v13.17h-1zM709 76.1h1v13.17h-1zM716 76.1h2v13.17h-2zM723 76.1h2v13.17h-2zM733 76.1h2v13.17h-2zM862 76.1h1v13.17h-1zM1068 76.1h1v13.17h-1zM1072 76.1h3v13.17h-3zM1078 76.1h2v13.17h-2zM1082 76.1h1v13.17h-1zM1103 76.1h1v13.17h-1zM1108 76.1h2v13.17h-2zM1159 76.1h1.2v13.17h-1.2zM191 89.2h1v13.17h-1zM257 89.2h1v13.17h-1zM272 89.2h1v13.17h-1zM496 89.2h1v13.17h-1zM569 89.2h1v13.17h-1zM577 89.2h1v13.17h-1zM579 89.2h1v13.17h-1zM581 89.2h2v13.17h-2zM593 89.2h1v13.17h-1zM595 89.2h1v13.17h-1zM598 89.2h1v13.17h-1zM602 89.2h1v13.17h-1zM613 89.2h1v13.17h-1zM619 89.2h1v13.17h-1zM626 89.2h1v13.17h-1zM648 89.2h1v13.17h-1zM651 89.2h1v13.17h-1zM679 89.2h2v13.17h-2zM687 89.2h1v13.17h-1zM719 89.2h2v13.17h-2zM731 89.2h1v13.17h-1zM793 89.2h1v13.17h-1zM818 89.2h1v13.17h-1zM821 89.2h1v13.17h-1zM828 89.2h1v13.17h-1zM840 89.2h1v13.17h-1zM697 102.4h2v13.17h-2zM702 102.4h1v13.17h-1zM714 102.4h1v13.17h-1zM721 102.4h2v13.17h-2zM725 102.4h1v13.17h-1zM728 102.4h2v13.17h-2zM733 102.4h2v13.17h-2zM736 102.4h1v13.17h-1zM738 102.4h2v13.17h-2zM775 102.4h1v13.17h-1zM841 102.4h2v13.17h-2zM878 102.4h2v13.17h-2zM1079 102.4h2v13.17h-2zM1091 102.4h1v13.17h-1zM1093 102.4h1v13.17h-1zM1095 102.4h2v13.17h-2zM1101 102.4h1v13.17h-1zM1103 102.4h2v13.17h-2zM1106 102.4h3v13.17h-3zM1112 102.4h1v13.17h-1zM1114 102.4h4v13.17h-4zM1121 102.4h1v13.17h-1zM1126 102.4h1v13.17h-1zM1128 102.4h3v13.17h-3zM204 115.6h2v13.17h-2zM482 115.6h1v13.17h-1zM580 115.6h2v13.17h-2zM642 115.6h1v13.17h-1zM716 115.6h1v13.17h-1zM775 115.6h2v13.17h-2zM870 115.6h1v13.17h-1zM967 115.6h1v13.17h-1zM987 115.6h2v13.17h-2zM1002 115.6h1v13.17h-1zM1031 115.6h2v13.17h-2zM348 128.8h2v13.17h-2zM352 128.8h3v13.17h-3zM367 128.8h2v13.17h-2zM399 128.8h1v13.17h-1zM416 128.8h1v13.17h-1zM459 128.8h1v13.17h-1zM492 128.8h1v13.17h-1zM502 128.8h1v13.17h-1zM609 128.8h1v13.17h-1zM621 128.8h1v13.17h-1zM628 128.8h2v13.17h-2zM712 128.8h1v13.17h-1zM714 128.8h1v13.17h-1zM726 128.8h2v13.17h-2zM731 128.8h2v13.17h-2zM798 128.8h1v13.17h-1zM811 128.8h1v13.17h-1zM228 141.9h1v13.17h-1zM247 141.9h1v13.17h-1zM373 141.9h2v13.17h-2zM691 141.9h1v13.17h-1zM770 141.9h1v13.17h-1zM787 141.9h1v13.17h-1zM848 141.9h2v13.17h-2zM936 141.9h2v13.17h-2zM958 141.9h3v13.17h-3zM1006 141.9h1v13.17h-1zM447 155.1h1v13.17h-1zM810 155.1h1v13.17h-1zM838 155.1h1v13.17h-1zM902 155.1h2v13.17h-2zM443 168.3h2v13.17h-2zM704 168.3h2v13.17h-2zM710 168.3h2v13.17h-2zM719 168.3h2v13.17h-2zM729 168.3h1v13.17h-1zM758 168.3h1v13.17h-1zM761 168.3h1v13.17h-1zM809 168.3h1v13.17h-1zM849 168.3h1v13.17h-1zM858 168.3h2v13.17h-2zM867 168.3h1v13.17h-1zM974 168.3h1v13.17h-1zM430 181.4h1v13.17h-1zM523 181.4h2v13.17h-2zM617 181.4h1v13.17h-1zM691 181.4h1v13.17h-1zM693 181.4h2v13.17h-2zM703 181.4h1v13.17h-1zM717 181.4h1v13.17h-1zM725 181.4h2v13.17h-2zM748 181.4h1v13.17h-1zM752 181.4h2v13.17h-2zM812 181.4h2v13.17h-2zM978 181.4h1v13.17h-1zM984 181.4h3v13.17h-3zM272 194.6h1v13.17h-1zM285 194.6h1v13.17h-1zM325 194.6h2v13.17h-2zM424 194.6h1v13.17h-1zM842 194.6h1v13.17h-1zM1023 194.6h2v13.17h-2zM237 207.8h1v13.17h-1zM326 207.8h2v13.17h-2zM343 207.8h2v13.17h-2zM449 207.8h1v13.17h-1zM534 207.8h1v13.17h-1zM567 207.8h1v13.17h-1zM618 207.8h1v13.17h-1zM693 207.8h1v13.17h-1zM704 207.8h1v13.17h-1zM725 207.8h1v13.17h-1zM728 207.8h2v13.17h-2zM787 207.8h2v13.17h-2zM866 207.8h1v13.17h-1zM888 207.8h1v13.17h-1zM941 207.8h1v13.17h-1zM989 207.8h2v13.17h-2zM1147 207.8h1v13.17h-1zM201 220.9h1v13.17h-1zM246 220.9h2v13.17h-2zM328 220.9h1v13.17h-1zM333 220.9h1v13.17h-1zM379 220.9h1v13.17h-1zM381 220.9h1v13.17h-1zM403 220.9h1v13.17h-1zM445 220.9h2v13.17h-2zM471 220.9h1v13.17h-1zM503 220.9h2v13.17h-2zM508 220.9h1v13.17h-1zM538 220.9h2v13.17h-2zM657 220.9h1v13.17h-1zM666 220.9h1v13.17h-1zM668 220.9h1v13.17h-1zM856 220.9h1v13.17h-1zM861 220.9h1v13.17h-1zM870 220.9h1v13.17h-1zM874 220.9h1v13.17h-1zM876 220.9h2v13.17h-2zM879 220.9h1v13.17h-1zM883 220.9h3v13.17h-3zM889 220.9h1v13.17h-1zM892 220.9h4v13.17h-4zM897 220.9h1v13.17h-1zM901 220.9h1v13.17h-1zM963 220.9h2v13.17h-2zM969 220.9h1v13.17h-1zM973 220.9h2v13.17h-2zM978 220.9h2v13.17h-2zM982 220.9h3v13.17h-3zM989 220.9h1v13.17h-1zM1000 220.9h2v13.17h-2zM1098 220.9h1v13.17h-1zM315 234.1h2v13.17h-2zM340 234.1h2v13.17h-2zM391 234.1h1v13.17h-1zM434 234.1h1v13.17h-1zM543 234.1h2v13.17h-2zM551 234.1h2v13.17h-2zM749 234.1h1v13.17h-1zM873 234.1h2v13.17h-2zM971 234.1h2v13.17h-2zM1019 234.1h1v13.17h-1zM1072 234.1h1v13.17h-1zM1122 234.1h2v13.17h-2zM322 247.3h2v13.17h-2zM457 247.3h1v13.17h-1zM647 247.3h2v13.17h-2zM653 247.3h1v13.17h-1zM735 247.3h1v13.17h-1zM808 247.3h1v13.17h-1zM880 247.3h1v13.17h-1zM883 247.3h2v13.17h-2zM973 247.3h1v13.17h-1zM984 247.3h1v13.17h-1zM1121 247.3h1v13.17h-1zM176 260.4h2v13.17h-2zM231 260.4h1v13.17h-1zM255 260.4h1v13.17h-1zM262 260.4h3v13.17h-3zM328 260.4h1v13.17h-1zM425 260.4h1v13.17h-1zM490 260.4h1v13.17h-1zM528 260.4h2v13.17h-2zM597 260.4h1v13.17h-1zM856 260.4h1v13.17h-1zM917 260.4h2v13.17h-2zM1005 260.4h1v13.17h-1zM1123 260.4h1v13.17h-1zM1148 260.4h1v13.17h-1zM192 273.6h1v13.17h-1zM258 273.6h1v13.17h-1zM296 273.6h1v13.17h-1zM382 273.6h1v13.17h-1zM421 273.6h2v13.17h-2zM430 273.6h1v13.17h-1zM519 273.6h1v13.17h-1zM560 273.6h2v13.17h-2zM591 273.6h1v13.17h-1zM595 273.6h1v13.17h-1zM612 273.6h2v13.17h-2zM724 273.6h1v13.17h-1zM826 273.6h1v13.17h-1zM866 273.6h1v13.17h-1zM971 273.6h1v13.17h-1zM975 273.6h1v13.17h-1zM981 273.6h1v13.17h-1zM1149 273.6h2v13.17h-2zM214 286.8h1v13.17h-1zM278 286.8h1v13.17h-1zM329 286.8h1v13.17h-1zM340 286.8h1v13.17h-1zM370 286.8h1v13.17h-1zM614 286.8h1v13.17h-1zM882 286.8h2v13.17h-2zM1042 286.8h1v13.17h-1zM1107 286.8h1v13.17h-1zM1128 286.8h1v13.17h-1zM173 300.0h1v13.17h-1zM210 300.0h1v13.17h-1zM292 300.0h1v13.17h-1zM314 300.0h1v13.17h-1zM396 300.0h1v13.17h-1zM495 300.0h2v13.17h-2zM536 300.0h1v13.17h-1zM689 300.0h1v13.17h-1zM721 300.0h1v13.17h-1zM731 300.0h1v13.17h-1zM733 300.0h2v13.17h-2zM758 300.0h1v13.17h-1zM766 300.0h1v13.17h-1zM826 300.0h2v13.17h-2zM1139 300.0h1v13.17h-1zM1146 300.0h1v13.17h-1zM203 313.1h2v13.17h-2zM273 313.1h1v13.17h-1zM340 313.1h1v13.17h-1zM352 313.1h1v13.17h-1zM408 313.1h1v13.17h-1zM441 313.1h2v13.17h-2zM473 313.1h2v13.17h-2zM511 313.1h1v13.17h-1zM524 313.1h1v13.17h-1zM526 313.1h2v13.17h-2zM568 313.1h2v13.17h-2zM576 313.1h1v13.17h-1zM758 313.1h1v13.17h-1zM779 313.1h1v13.17h-1zM792 313.1h1v13.17h-1zM825 313.1h1v13.17h-1zM917 313.1h1v13.17h-1zM940 313.1h1v13.17h-1zM1066 313.1h1v13.17h-1zM1133 313.1h2v13.17h-2zM178 326.3h1v13.17h-1zM194 326.3h1v13.17h-1zM228 326.3h1v13.17h-1zM279 326.3h1v13.17h-1zM343 326.3h2v13.17h-2zM420 326.3h1v13.17h-1zM520 326.3h1v13.17h-1zM806 326.3h1v13.17h-1zM817 326.3h1v13.17h-1zM830 326.3h1v13.17h-1zM903 326.3h2v13.17h-2zM320 339.5h2v13.17h-2zM559 339.5h1v13.17h-1zM580 339.5h1v13.17h-1zM749 339.5h1v13.17h-1zM842 339.5h1v13.17h-1zM845 339.5h2v13.17h-2zM848 339.5h2v13.17h-2zM1002 339.5h2v13.17h-2zM1020 339.5h1v13.17h-1zM1073 339.5h1v13.17h-1zM1103 339.5h2v13.17h-2zM1117 339.5h1v13.17h-1zM315 352.6h1v13.17h-1zM446 352.6h2v13.17h-2zM518 352.6h1v13.17h-1zM546 352.6h1v13.17h-1zM555 352.6h1v13.17h-1zM587 352.6h1v13.17h-1zM607 352.6h2v13.17h-2zM798 352.6h2v13.17h-2zM1086 352.6h2v13.17h-2zM1149 352.6h2v13.17h-2zM175 365.8h1v13.17h-1zM198 365.8h1v13.17h-1zM314 365.8h2v13.17h-2zM375 365.8h1v13.17h-1zM459 365.8h1v13.17h-1zM586 365.8h1v13.17h-1zM593 365.8h1v13.17h-1zM607 365.8h1v13.17h-1zM667 365.8h1v13.17h-1zM676 365.8h2v13.17h-2zM735 365.8h1v13.17h-1zM759 365.8h1v13.17h-1zM878 365.8h1v13.17h-1zM955 365.8h1v13.17h-1zM975 365.8h1v13.17h-1zM986 365.8h1v13.17h-1zM1066 365.8h1v13.17h-1zM1156 365.8h1v13.17h-1zM195 379.0h1v13.17h-1zM237 379.0h1v13.17h-1zM320 379.0h1v13.17h-1zM355 379.0h1v13.17h-1zM462 379.0h1v13.17h-1zM543 379.0h2v13.17h-2zM732 379.0h2v13.17h-2zM772 379.0h1v13.17h-1zM828 379.0h1v13.17h-1zM980 379.0h2v13.17h-2zM1001 379.0h2v13.17h-2zM1093 379.0h2v13.17h-2zM1158 379.0h2v13.17h-2zM312 392.1h1v13.17h-1zM382 392.1h1v13.17h-1zM425 392.1h1v13.17h-1zM433 392.1h1v13.17h-1zM458 392.1h1v13.17h-1zM538 392.1h1v13.17h-1zM561 392.1h1v13.17h-1zM629 392.1h1v13.17h-1zM784 392.1h1v13.17h-1zM843 392.1h1v13.17h-1zM873 392.1h1v13.17h-1zM884 392.1h1v13.17h-1zM937 392.1h2v13.17h-2zM957 392.1h1v13.17h-1zM1071 392.1h1v13.17h-1zM1136 392.1h1v13.17h-1zM269 405.3h1v13.17h-1zM295 405.3h1v13.17h-1zM336 405.3h1v13.17h-1zM338 405.3h1v13.17h-1zM365 405.3h1v13.17h-1zM368 405.3h1v13.17h-1zM552 405.3h3v13.17h-3zM574 405.3h1v13.17h-1zM583 405.3h1v13.17h-1zM585 405.3h1v13.17h-1zM593 405.3h2v13.17h-2zM603 405.3h1v13.17h-1zM605 405.3h1v13.17h-1zM631 405.3h1v13.17h-1zM851 405.3h1v13.17h-1zM980 405.3h1v13.17h-1zM1070 405.3h1v13.17h-1zM214 418.5h2v13.17h-2zM222 418.5h3v13.17h-3zM232 418.5h1v13.17h-1zM238 418.5h1v13.17h-1zM241 418.5h2v13.17h-2zM244 418.5h2v13.17h-2zM248 418.5h2v13.17h-2zM301 418.5h2v13.17h-2zM307 418.5h1v13.17h-1zM310 418.5h1v13.17h-1zM316 418.5h2v13.17h-2zM421 418.5h1v13.17h-1zM439 418.5h1v13.17h-1zM456 418.5h1v13.17h-1zM488 418.5h2v13.17h-2zM496 418.5h1v13.17h-1zM607 418.5h1v13.17h-1zM624 418.5h1v13.17h-1zM631 418.5h2v13.17h-2zM763 418.5h1v13.17h-1zM973 418.5h1v13.17h-1zM985 418.5h1v13.17h-1zM999 418.5h1v13.17h-1zM203 431.7h1v13.17h-1zM293 431.7h1v13.17h-1zM316 431.7h1v13.17h-1zM336 431.7h1v13.17h-1zM519 431.7h1v13.17h-1zM545 431.7h2v13.17h-2zM640 431.7h1v13.17h-1zM731 431.7h1v13.17h-1zM767 431.7h1v13.17h-1zM809 431.7h1v13.17h-1zM920 431.7h1v13.17h-1zM927 431.7h1v13.17h-1zM1093 431.7h2v13.17h-2zM1113 431.7h1v13.17h-1zM181 444.8h2v13.17h-2zM310 444.8h1v13.17h-1zM323 444.8h1v13.17h-1zM335 444.8h1v13.17h-1zM342 444.8h1v13.17h-1zM350 444.8h2v13.17h-2zM357 444.8h1v13.17h-1zM359 444.8h1v13.17h-1zM361 444.8h4v13.17h-4zM367 444.8h1v13.17h-1zM370 444.8h1v13.17h-1zM584 444.8h1v13.17h-1zM597 444.8h2v13.17h-2zM603 444.8h2v13.17h-2zM613 444.8h1v13.17h-1zM615 444.8h1v13.17h-1zM631 444.8h1v13.17h-1zM934 444.8h1v13.17h-1zM1014 444.8h1v13.17h-1zM1051 444.8h1v13.17h-1zM1064 444.8h1v13.17h-1zM1078 444.8h1v13.17h-1zM1086 444.8h1v13.17h-1zM1133 444.8h1v13.17h-1zM202 458.0h1v13.17h-1zM297 458.0h1v13.17h-1zM499 458.0h1v13.17h-1zM550 458.0h1v13.17h-1zM568 458.0h1v13.17h-1zM759 458.0h2v13.17h-2zM827 458.0h1v13.17h-1zM864 458.0h1v13.17h-1zM1035 458.0h1v13.17h-1zM1087 458.0h1v13.17h-1zM1118 458.0h1v13.17h-1zM1124 458.0h1v13.17h-1zM1151 458.0h2v13.17h-2zM201 471.2h1v13.17h-1zM265 471.2h1v13.17h-1zM350 471.2h1v13.17h-1zM416 471.2h1v13.17h-1zM478 471.2h1v13.17h-1zM573 471.2h1v13.17h-1zM634 471.2h2v13.17h-2zM878 471.2h2v13.17h-2zM1018 471.2h1v13.17h-1zM1089 471.2h2v13.17h-2zM1116 471.2h1v13.17h-1zM186 484.3h1v13.17h-1zM230 484.3h2v13.17h-2zM259 484.3h2v13.17h-2zM300 484.3h1v13.17h-1zM419 484.3h2v13.17h-2zM558 484.3h1v13.17h-1zM637 484.3h1v13.17h-1zM651 484.3h1v13.17h-1zM741 484.3h1v13.17h-1zM749 484.3h1v13.17h-1zM765 484.3h1v13.17h-1zM829 484.3h1v13.17h-1zM884 484.3h1v13.17h-1zM934 484.3h2v13.17h-2zM1015 484.3h1v13.17h-1zM1059 484.3h1v13.17h-1zM1079 484.3h2v13.17h-2zM225 497.5h2v13.17h-2zM443 497.5h1v13.17h-1zM451 497.5h1v13.17h-1zM494 497.5h2v13.17h-2zM532 497.5h1v13.17h-1zM603 497.5h1v13.17h-1zM655 497.5h1v13.17h-1zM659 497.5h2v13.17h-2zM685 497.5h2v13.17h-2zM728 497.5h1v13.17h-1zM746 497.5h2v13.17h-2zM821 497.5h1v13.17h-1zM828 497.5h1v13.17h-1zM925 497.5h1v13.17h-1zM1024 497.5h2v13.17h-2zM330 510.7h1v13.17h-1zM344 510.7h2v13.17h-2zM368 510.7h2v13.17h-2zM502 510.7h2v13.17h-2zM556 510.7h1v13.17h-1zM604 510.7h1v13.17h-1zM629 510.7h1v13.17h-1zM722 510.7h1v13.17h-1zM753 510.7h1v13.17h-1zM854 510.7h2v13.17h-2zM879 510.7h2v13.17h-2zM882 510.7h3v13.17h-3zM887 510.7h1v13.17h-1zM920 510.7h2v13.17h-2zM1054 510.7h2v13.17h-2zM1154 510.7h1v13.17h-1zM186 523.9h2v13.17h-2zM292 523.9h1v13.17h-1zM311 523.9h2v13.17h-2zM325 523.9h2v13.17h-2zM549 523.9h1v13.17h-1zM575 523.9h2v13.17h-2zM586 523.9h2v13.17h-2zM679 523.9h1v13.17h-1zM775 523.9h1v13.17h-1zM778 523.9h1v13.17h-1zM795 523.9h2v13.17h-2zM844 523.9h1v13.17h-1zM1004 523.9h1v13.17h-1zM1040 523.9h1v13.17h-1zM1118 523.9h2v13.17h-2zM265 537.0h1v13.17h-1zM317 537.0h1v13.17h-1zM341 537.0h2v13.17h-2zM350 537.0h1v13.17h-1zM425 537.0h1v13.17h-1zM539 537.0h1v13.17h-1zM549 537.0h1v13.17h-1zM555 537.0h1v13.17h-1zM563 537.0h1v13.17h-1zM567 537.0h1v13.17h-1zM600 537.0h2v13.17h-2zM608 537.0h1v13.17h-1zM611 537.0h2v13.17h-2zM619 537.0h1v13.17h-1zM626 537.0h1v13.17h-1zM631 537.0h1v13.17h-1zM735 537.0h1v13.17h-1zM751 537.0h1v13.17h-1zM758 537.0h2v13.17h-2zM973 537.0h1v13.17h-1zM182 550.2h1v13.17h-1zM342 550.2h1v13.17h-1zM351 550.2h3v13.17h-3zM392 550.2h2v13.17h-2zM395 550.2h1v13.17h-1zM629 550.2h3v13.17h-3zM750 550.2h1v13.17h-1zM771 550.2h1v13.17h-1zM182 563.4h1v13.17h-1zM210 563.4h1v13.17h-1zM290 563.4h1v13.17h-1zM336 563.4h2v13.17h-2zM359 563.4h2v13.17h-2zM483 563.4h1v13.17h-1zM543 563.4h1v13.17h-1zM689 563.4h1v13.17h-1zM692 563.4h2v13.17h-2zM736 563.4h1v13.17h-1zM842 563.4h1v13.17h-1zM881 563.4h1v13.17h-1zM993 563.4h1v13.17h-1zM1107 563.4h1v13.17h-1zM1117 563.4h1v13.17h-1zM1136 563.4h1v13.17h-1zM360 576.5h1v13.17h-1zM362 576.5h1v13.17h-1zM370 576.5h1v13.17h-1zM460 576.5h1v13.17h-1zM691 576.5h1v13.17h-1zM694 576.5h2v13.17h-2zM698 576.5h1v13.17h-1zM707 576.5h1v13.17h-1zM712 576.5h1v13.17h-1zM716 576.5h1v13.17h-1zM720 576.5h2v13.17h-2zM728 576.5h1v13.17h-1zM733 576.5h1v13.17h-1zM746 576.5h1v13.17h-1zM751 576.5h1v13.17h-1zM760 576.5h1v13.17h-1zM765 576.5h1v13.17h-1zM769 576.5h2v13.17h-2zM781 576.5h2v13.17h-2zM788 576.5h1v13.17h-1zM800 576.5h1v13.17h-1zM808 576.5h1v13.17h-1zM811 576.5h1v13.17h-1zM813 576.5h1v13.17h-1zM816 576.5h2v13.17h-2zM819 576.5h1v13.17h-1zM823 576.5h2v13.17h-2zM834 576.5h2v13.17h-2zM840 576.5h1v13.17h-1zM843 576.5h1v13.17h-1zM845 576.5h2v13.17h-2zM848 576.5h4v13.17h-4zM855 576.5h1v13.17h-1zM858 576.5h1v13.17h-1zM866 576.5h1v13.17h-1zM868 576.5h1v13.17h-1zM870 576.5h1v13.17h-1zM876 576.5h2v13.17h-2zM879 576.5h3v13.17h-3zM892 576.5h1v13.17h-1zM894 576.5h1v13.17h-1zM898 576.5h1v13.17h-1zM900 576.5h1v13.17h-1zM902 576.5h2v13.17h-2zM713 589.7h2v13.17h-2zM730 589.7h2v13.17h-2zM733 589.7h1v13.17h-1zM739 589.7h5v13.17h-5zM754 589.7h2v13.17h-2zM757 589.7h2v13.17h-2zM760 589.7h1v13.17h-1zM763 589.7h1v13.17h-1zM768 589.7h2v13.17h-2zM771 589.7h2v13.17h-2zM774 589.7h2v13.17h-2zM784 589.7h2v13.17h-2zM799 589.7h1v13.17h-1zM804 589.7h1v13.17h-1zM806 589.7h1v13.17h-1zM812 589.7h4v13.17h-4zM817 589.7h1v13.17h-1zM820 589.7h2v13.17h-2zM823 589.7h3v13.17h-3zM833 589.7h1v13.17h-1zM837 589.7h1v13.17h-1zM839 589.7h3v13.17h-3zM850 589.7h1v13.17h-1zM866 589.7h2v13.17h-2zM871 589.7h1v13.17h-1zM876 589.7h1v13.17h-1zM878 589.7h1v13.17h-1zM881 589.7h1v13.17h-1zM888 589.7h2v13.17h-2zM891 589.7h1v13.17h-1zM900 589.7h2v13.17h-2zM904 589.7h2v13.17h-2z"/>
<path fill="#ebf2fa" d="M194 62.9h2v13.17h-2zM215 62.9h1v13.17h-1zM278 62.9h1v13.17h-1zM280 62.9h1v13.17h-1zM296 62.9h2v13.17h-2zM307 62.9h1v13.17h-1zM310 62.9h2v13.17h-2zM389 62.9h2v13.17h-2zM392 62.9h1v13.17h-1zM430 62.9h1v13.17h-1zM464 62.9h2v13.17h-2zM469 62.9h2v13.17h-2zM476 62.9h1v13.17h-1zM479 62.9h1v13.17h-1zM486 62.9h1v13.17h-1zM506 62.9h1v13.17h-1zM533 62.9h1v13.17h-1zM554 62.9h1v13.17h-1zM394 76.1h1v13.17h-1zM441 76.1h1v13.17h-1zM445 76.1h2v13.17h-2zM450 76.1h1v13.17h-1zM457 76.1h3v13.17h-3zM591 76.1h2v13.17h-2zM598 76.1h1v13.17h-1zM601 76.1h2v13.17h-2zM617 76.1h1v13.17h-1zM622 76.1h1v13.17h-1zM655 76.1h3v13.17h-3zM661 76.1h1v13.17h-1zM668 76.1h4v13.17h-4zM677 76.1h2v13.17h-2zM914 76.1h1v13.17h-1zM917 76.1h1v13.17h-1zM922 76.1h1v13.17h-1zM939 76.1h2v13.17h-2zM992 76.1h1v13.17h-1zM1005 76.1h1v13.17h-1zM1008 76.1h1v13.17h-1zM1013 76.1h4v13.17h-4zM1022 76.1h2v13.17h-2zM1149 76.1h1v13.17h-1zM184 89.2h1v13.17h-1zM243 89.2h2v13.17h-2zM248 89.2h1v13.17h-1zM381 89.2h1v13.17h-1zM398 89.2h2v13.17h-2zM480 89.2h2v13.17h-2zM484 89.2h1v13.17h-1zM503 89.2h1v13.17h-1zM532 89.2h1v13.17h-1zM539 89.2h1v13.17h-1zM910 89.2h2v13.17h-2zM925 89.2h1v13.17h-1zM938 89.2h1v13.17h-1zM954 89.2h1v13.17h-1zM1036 89.2h2v13.17h-2zM1082 89.2h1v13.17h-1zM1118 89.2h1v13.17h-1zM1145 89.2h1v13.17h-1zM1157 89.2h2v13.17h-2zM352 102.4h1v13.17h-1zM359 102.4h1v13.17h-1zM444 102.4h2v13.17h-2zM448 102.4h1v13.17h-1zM451 102.4h2v13.17h-2zM491 102.4h2v13.17h-2zM550 102.4h1v13.17h-1zM558 102.4h2v13.17h-2zM571 102.4h1v13.17h-1zM584 102.4h1v13.17h-1zM607 102.4h1v13.17h-1zM662 102.4h1v13.17h-1zM671 102.4h4v13.17h-4zM916 102.4h1v13.17h-1zM935 102.4h1v13.17h-1zM944 102.4h1v13.17h-1zM947 102.4h1v13.17h-1zM1001 102.4h1v13.17h-1zM1017 102.4h1v13.17h-1zM1145 102.4h2v13.17h-2zM267 115.6h1v13.17h-1zM271 115.6h1v13.17h-1zM274 115.6h2v13.17h-2zM322 115.6h2v13.17h-2zM334 115.6h1v13.17h-1zM341 115.6h2v13.17h-2zM347 115.6h1v13.17h-1zM208 128.8h4v13.17h-4zM222 128.8h1v13.17h-1zM233 128.8h1v13.17h-1zM240 128.8h3v13.17h-3zM260 128.8h2v13.17h-2zM267 128.8h3v13.17h-3zM288 128.8h4v13.17h-4zM295 128.8h2v13.17h-2zM300 128.8h1v13.17h-1zM379 128.8h1v13.17h-1zM391 128.8h1v13.17h-1zM393 128.8h1v13.17h-1zM441 128.8h2v13.17h-2zM449 128.8h1v13.17h-1zM508 128.8h1v13.17h-1zM521 128.8h1v13.17h-1zM528 128.8h1v13.17h-1zM544 128.8h1v13.17h-1zM547 128.8h1v13.17h-1zM565 128.8h2v13.17h-2zM660 128.8h1v13.17h-1zM663 128.8h3v13.17h-3zM678 128.8h1v13.17h-1zM680 128.8h1v13.17h-1zM1034 128.8h1v13.17h-1zM1038 128.8h2v13.17h-2zM1060 128.8h3v13.17h-3zM1064 128.8h2v13.17h-2zM1069 128.8h1v13.17h-1zM1081 128.8h1v13.17h-1zM1095 128.8h2v13.17h-2zM1103 128.8h2v13.17h-2zM1106 128.8h1v13.17h-1zM1112 128.8h1v13.17h-1zM1116 128.8h1v13.17h-1zM1119 128.8h1v13.17h-1zM1121 128.8h2v13.17h-2zM1124 128.8h1v13.17h-1zM1131 128.8h1v13.17h-1zM648 155.1h1v13.17h-1zM657 155.1h1v13.17h-1zM667 155.1h1v13.17h-1zM680 155.1h1v13.17h-1zM715 155.1h1v13.17h-1zM724 155.1h1v13.17h-1zM936 155.1h2v13.17h-2zM942 155.1h2v13.17h-2zM961 155.1h2v13.17h-2zM965 155.1h1v13.17h-1zM967 155.1h2v13.17h-2zM244 168.3h1v13.17h-1zM281 168.3h1v13.17h-1zM298 168.3h1v13.17h-1zM300 168.3h1v13.17h-1zM313 168.3h2v13.17h-2zM331 168.3h2v13.17h-2zM335 168.3h1v13.17h-1zM337 168.3h2v13.17h-2zM352 168.3h1v13.17h-1zM558 168.3h1v13.17h-1zM581 168.3h1v13.17h-1zM591 168.3h1v13.17h-1zM597 168.3h1v13.17h-1zM605 168.3h1v13.17h-1zM612 168.3h1v13.17h-1zM614 168.3h2v13.17h-2zM657 168.3h1v13.17h-1zM669 168.3h2v13.17h-2zM674 168.3h2v13.17h-2zM914 168.3h1v13.17h-1zM919 168.3h1v13.17h-1zM926 168.3h1v13.17h-1zM931 168.3h1v13.17h-1zM936 168.3h1v13.17h-1zM941 168.3h1v13.17h-1zM946 168.3h1v13.17h-1zM949 168.3h1v13.17h-1zM1022 168.3h1v13.17h-1zM1054 168.3h2v13.17h-2zM1069 168.3h2v13.17h-2zM1072 168.3h1v13.17h-1zM1076 168.3h1v13.17h-1zM1080 168.3h2v13.17h-2zM1101 168.3h3v13.17h-3zM1106 168.3h1v13.17h-1zM1124 168.3h3v13.17h-3zM1157 168.3h2v13.17h-2zM189 181.4h1v13.17h-1zM233 181.4h2v13.17h-2zM246 181.4h1v13.17h-1zM268 181.4h1v13.17h-1zM296 181.4h1v13.17h-1zM302 181.4h2v13.17h-2zM359 181.4h2v13.17h-2zM362 181.4h1v13.17h-1zM369 181.4h1v13.17h-1zM680 181.4h1v13.17h-1zM915 181.4h1v13.17h-1zM952 181.4h1v13.17h-1zM1000 181.4h1v13.17h-1zM1049 181.4h4v13.17h-4zM1055 181.4h1v13.17h-1zM1061 181.4h1v13.17h-1zM1079 181.4h2v13.17h-2zM1088 181.4h2v13.17h-2zM1097 181.4h1v13.17h-1zM1102 181.4h1v13.17h-1zM1104 181.4h1v13.17h-1zM1109 181.4h2v13.17h-2zM659 207.8h2v13.17h-2zM675 207.8h2v13.17h-2zM890 207.8h1v13.17h-1zM894 207.8h1v13.17h-1zM899 207.8h1v13.17h-1zM901 207.8h1v13.17h-1zM789 220.9h2v13.17h-2zM934 220.9h1v13.17h-1zM632 247.3h2v13.17h-2zM639 247.3h2v13.17h-2zM642 247.3h1v13.17h-1zM754 247.3h1v13.17h-1zM761 247.3h2v13.17h-2zM777 247.3h2v13.17h-2zM658 286.8h1v13.17h-1zM673 286.8h2v13.17h-2zM677 286.8h1v13.17h-1zM680 286.8h2v13.17h-2zM702 286.8h1v13.17h-1zM718 286.8h1v13.17h-1zM721 286.8h1v13.17h-1zM796 286.8h2v13.17h-2zM806 286.8h2v13.17h-2zM827 286.8h2v13.17h-2zM949 286.8h1v13.17h-1zM954 286.8h1v13.17h-1zM972 286.8h2v13.17h-2zM980 286.8h1v13.17h-1zM983 286.8h2v13.17h-2zM987 286.8h1v13.17h-1zM992 286.8h1v13.17h-1zM742 313.1h1v13.17h-1zM658 339.5h1v13.17h-1zM697 339.5h1v13.17h-1zM712 339.5h1v13.17h-1zM721 339.5h2v13.17h-2zM795 339.5h2v13.17h-2zM808 339.5h2v13.17h-2zM812 339.5h1v13.17h-1zM681 352.6h2v13.17h-2zM701 352.6h1v13.17h-1zM713 352.6h2v13.17h-2zM718 352.6h1v13.17h-1zM833 352.6h2v13.17h-2zM896 365.8h1v13.17h-1zM899 365.8h1v13.17h-1zM901 365.8h2v13.17h-2zM446 405.3h1v13.17h-1zM452 405.3h1v13.17h-1zM458 405.3h1v13.17h-1zM468 405.3h1v13.17h-1zM482 405.3h1v13.17h-1zM487 405.3h2v13.17h-2zM495 405.3h2v13.17h-2zM758 405.3h1v13.17h-1zM774 405.3h2v13.17h-2zM781 405.3h2v13.17h-2zM789 405.3h2v13.17h-2zM792 405.3h2v13.17h-2zM175 418.5h2v13.17h-2zM180 418.5h2v13.17h-2zM185 418.5h2v13.17h-2zM190 418.5h1v13.17h-1zM506 418.5h2v13.17h-2zM527 418.5h1v13.17h-1zM529 418.5h1v13.17h-1zM539 418.5h1v13.17h-1zM547 418.5h2v13.17h-2zM551 418.5h1v13.17h-1zM558 418.5h2v13.17h-2zM563 418.5h3v13.17h-3zM569 418.5h1v13.17h-1zM579 418.5h1v13.17h-1zM583 418.5h1v13.17h-1zM673 418.5h3v13.17h-3zM683 418.5h1v13.17h-1zM726 418.5h3v13.17h-3zM825 418.5h2v13.17h-2zM830 418.5h1v13.17h-1zM903 418.5h2v13.17h-2zM911 418.5h1v13.17h-1zM935 418.5h1v13.17h-1zM943 418.5h1v13.17h-1zM952 418.5h1v13.17h-1zM956 418.5h2v13.17h-2zM238 444.8h1v13.17h-1zM244 444.8h1v13.17h-1zM257 444.8h1v13.17h-1zM262 444.8h1v13.17h-1zM288 444.8h2v13.17h-2zM292 444.8h1v13.17h-1zM445 444.8h1v13.17h-1zM448 444.8h2v13.17h-2zM460 444.8h1v13.17h-1zM484 444.8h1v13.17h-1zM519 444.8h1v13.17h-1zM522 444.8h1v13.17h-1zM634 444.8h1v13.17h-1zM656 444.8h2v13.17h-2zM684 444.8h2v13.17h-2zM719 444.8h1v13.17h-1zM790 444.8h1v13.17h-1zM822 444.8h2v13.17h-2zM829 444.8h1v13.17h-1zM835 444.8h1v13.17h-1zM995 444.8h1v13.17h-1zM742 458.0h1v13.17h-1zM751 458.0h1v13.17h-1zM754 458.0h2v13.17h-2zM897 458.0h1v13.17h-1zM634 510.7h1v13.17h-1zM636 510.7h1v13.17h-1zM638 510.7h3v13.17h-3zM643 510.7h2v13.17h-2zM647 510.7h2v13.17h-2zM863 510.7h1v13.17h-1zM873 510.7h1v13.17h-1zM208 537.0h2v13.17h-2zM212 537.0h1v13.17h-1zM220 537.0h1v13.17h-1zM224 537.0h1v13.17h-1zM237 537.0h1v13.17h-1zM243 537.0h1v13.17h-1zM468 537.0h1v13.17h-1zM470 537.0h2v13.17h-2zM479 537.0h1v13.17h-1zM481 537.0h1v13.17h-1zM486 537.0h2v13.17h-2zM492 537.0h1v13.17h-1zM636 537.0h1v13.17h-1zM638 537.0h2v13.17h-2zM642 537.0h2v13.17h-2zM645 537.0h2v13.17h-2zM668 537.0h1v13.17h-1zM675 537.0h1v13.17h-1zM679 537.0h1v13.17h-1zM682 537.0h1v13.17h-1zM739 537.0h2v13.17h-2zM746 537.0h2v13.17h-2zM861 537.0h4v13.17h-4zM894 537.0h2v13.17h-2zM1023 537.0h1v13.17h-1zM1028 537.0h1v13.17h-1zM1034 537.0h2v13.17h-2zM1048 537.0h1v13.17h-1zM1052 537.0h1v13.17h-1zM1065 537.0h1v13.17h-1zM1088 537.0h1v13.17h-1zM1090 537.0h1v13.17h-1zM1100 537.0h1v13.17h-1zM1106 537.0h2v13.17h-2zM1109 537.0h1v13.17h-1zM1111 537.0h1v13.17h-1zM1114 537.0h2v13.17h-2zM1122 537.0h1v13.17h-1zM1125 537.0h1v13.17h-1zM457 550.2h1v13.17h-1zM524 550.2h1v13.17h-1zM538 550.2h1v13.17h-1zM559 550.2h1v13.17h-1zM561 550.2h1v13.17h-1zM566 550.2h1v13.17h-1zM592 550.2h1v13.17h-1zM608 550.2h1v13.17h-1zM678 550.2h1v13.17h-1zM689 550.2h1v13.17h-1zM692 550.2h1v13.17h-1zM696 550.2h2v13.17h-2zM699 550.2h2v13.17h-2zM702 550.2h1v13.17h-1zM727 550.2h1v13.17h-1zM920 550.2h1v13.17h-1zM957 550.2h2v13.17h-2zM971 550.2h1v13.17h-1zM978 550.2h1v13.17h-1zM982 550.2h1v13.17h-1zM840 563.4h1v13.17h-1zM236 576.5h1v13.17h-1zM243 576.5h1v13.17h-1zM291 576.5h2v13.17h-2zM330 576.5h1v13.17h-1zM426 576.5h1v13.17h-1zM432 576.5h1v13.17h-1zM480 576.5h1v13.17h-1zM489 576.5h1v13.17h-1zM506 576.5h1v13.17h-1zM531 576.5h2v13.17h-2zM544 576.5h3v13.17h-3zM563 576.5h2v13.17h-2zM566 576.5h1v13.17h-1zM570 576.5h1v13.17h-1zM583 576.5h1v13.17h-1zM644 576.5h1v13.17h-1zM964 576.5h1v13.17h-1zM978 576.5h2v13.17h-2zM983 576.5h2v13.17h-2zM1047 576.5h1v13.17h-1zM1053 576.5h1v13.17h-1zM1064 576.5h1v13.17h-1zM1075 576.5h1v13.17h-1zM1084 576.5h2v13.17h-2zM1087 576.5h3v13.17h-3zM249 589.7h1v13.17h-1zM254 589.7h1v13.17h-1zM318 589.7h2v13.17h-2zM324 589.7h2v13.17h-2zM334 589.7h2v13.17h-2zM338 589.7h1v13.17h-1zM342 589.7h1v13.17h-1zM385 589.7h2v13.17h-2zM456 589.7h1v13.17h-1zM561 589.7h2v13.17h-2zM569 589.7h2v13.17h-2zM592 589.7h1v13.17h-1zM596 589.7h4v13.17h-4zM606 589.7h1v13.17h-1zM664 589.7h2v13.17h-2zM683 589.7h3v13.17h-3zM952 589.7h1v13.17h-1zM964 589.7h1v13.17h-1zM969 589.7h2v13.17h-2zM976 589.7h1v13.17h-1zM1081 589.7h1v13.17h-1zM1099 589.7h1v13.17h-1zM1101 589.7h2v13.17h-2zM1115 589.7h1v13.17h-1zM1117 589.7h1v13.17h-1zM1120 589.7h2v13.17h-2zM1129 589.7h1v13.17h-1z"/>
<path fill="#dae5f2" d="M196 62.9h1v13.17h-1zM426 62.9h1v13.17h-1zM171 76.1h1v13.17h-1zM190 76.1h1v13.17h-1zM255 76.1h1v13.17h-1zM288 76.1h1v13.17h-1zM299 76.1h1v13.17h-1zM321 76.1h1v13.17h-1zM324 76.1h2v13.17h-2zM511 76.1h3v13.17h-3zM199 89.2h1v13.17h-1zM1009 89.2h1v13.17h-1zM1014 89.2h2v13.17h-2zM1133 89.2h1v13.17h-1zM246 102.4h1v13.17h-1zM249 102.4h1v13.17h-1zM293 102.4h1v13.17h-1zM295 102.4h2v13.17h-2zM505 102.4h1v13.17h-1zM1149 102.4h1v13.17h-1zM1144 115.6h1v13.17h-1zM465 141.9h1v13.17h-1zM176 155.1h2v13.17h-2zM195 155.1h1v13.17h-1zM203 155.1h1v13.17h-1zM214 155.1h1v13.17h-1zM218 155.1h1v13.17h-1zM232 155.1h1v13.17h-1zM252 155.1h2v13.17h-2zM282 155.1h1v13.17h-1zM291 155.1h1v13.17h-1zM301 155.1h1v13.17h-1zM319 155.1h1v13.17h-1zM415 155.1h1v13.17h-1zM509 155.1h1v13.17h-1zM576 155.1h2v13.17h-2zM583 155.1h2v13.17h-2zM594 155.1h1v13.17h-1zM1014 155.1h1v13.17h-1zM1072 155.1h2v13.17h-2zM1076 155.1h1v13.17h-1zM1089 155.1h2v13.17h-2zM1117 155.1h1v13.17h-1zM1143 155.1h1v13.17h-1zM1149 155.1h1v13.17h-1zM1157 155.1h2v13.17h-2zM187 168.3h1v13.17h-1zM192 168.3h1v13.17h-1zM409 168.3h1v13.17h-1zM779 168.3h1v13.17h-1zM1136 168.3h1v13.17h-1zM195 181.4h2v13.17h-2zM199 181.4h2v13.17h-2zM412 181.4h2v13.17h-2zM847 181.4h1v13.17h-1zM1158 181.4h2v13.17h-2zM325 234.1h1v13.17h-1zM1039 234.1h1v13.17h-1zM585 260.4h1v13.17h-1zM917 286.8h1v13.17h-1zM1117 300.0h1v13.17h-1zM286 326.3h1v13.17h-1zM767 326.3h1v13.17h-1zM818 352.6h1v13.17h-1zM293 379.0h1v13.17h-1zM651 392.1h1v13.17h-1zM683 392.1h1v13.17h-1zM823 392.1h1v13.17h-1zM662 405.3h1v13.17h-1zM705 405.3h2v13.17h-2zM736 405.3h3v13.17h-3zM890 458.0h2v13.17h-2zM899 497.5h1v13.17h-1zM169 537.0h1v13.17h-1zM1140 537.0h1v13.17h-1zM635 550.2h1v13.17h-1zM638 550.2h1v13.17h-1zM643 550.2h1v13.17h-1zM848 550.2h1v13.17h-1zM869 550.2h1v13.17h-1zM880 550.2h1v13.17h-1zM892 563.4h2v13.17h-2zM896 563.4h1v13.17h-1zM390 576.5h1v13.17h-1zM400 576.5h1v13.17h-1zM404 576.5h2v13.17h-2zM181 589.7h2v13.17h-2zM187 589.7h1v13.17h-1zM223 589.7h2v13.17h-2zM375 589.7h1v13.17h-1zM390 589.7h1v13.17h-1zM510 589.7h1v13.17h-1zM1002 589.7h1v13.17h-1zM1008 589.7h1v13.17h-1zM1027 589.7h1v13.17h-1zM1039 589.7h1v13.17h-1z"/>
<path fill="#e6eef7" d="M197 62.9h1v13.17h-1zM201 62.9h3v13.17h-3zM246 62.9h1v13.17h-1zM379 62.9h1v13.17h-1zM511 62.9h1v13.17h-1zM312 76.1h2v13.17h-2zM333 76.1h2v13.17h-2zM337 76.1h2v13.17h-2zM345 76.1h1v13.17h-1zM356 76.1h1v13.17h-1zM366 76.1h1v13.17h-1zM385 76.1h1v13.17h-1zM437 76.1h2v13.17h-2zM524 76.1h1v13.17h-1zM529 76.1h1v13.17h-1zM560 76.1h2v13.17h-2zM566 76.1h1v13.17h-1zM576 76.1h1v13.17h-1zM623 76.1h3v13.17h-3zM921 76.1h1v13.17h-1zM933 76.1h1v13.17h-1zM941 76.1h2v13.17h-2zM172 89.2h2v13.17h-2zM225 89.2h1v13.17h-1zM228 89.2h1v13.17h-1zM239 89.2h2v13.17h-2zM249 89.2h1v13.17h-1zM467 89.2h1v13.17h-1zM923 89.2h1v13.17h-1zM932 89.2h3v13.17h-3zM1007 89.2h2v13.17h-2zM1031 89.2h2v13.17h-2zM1043 89.2h2v13.17h-2zM1055 89.2h2v13.17h-2zM1060 89.2h2v13.17h-2zM1070 89.2h1v13.17h-1zM1074 89.2h1v13.17h-1zM1149 89.2h1v13.17h-1zM187 102.4h1v13.17h-1zM319 102.4h1v13.17h-1zM322 102.4h2v13.17h-2zM331 102.4h2v13.17h-2zM336 102.4h2v13.17h-2zM348 102.4h1v13.17h-1zM350 102.4h2v13.17h-2zM369 102.4h1v13.17h-1zM393 102.4h1v13.17h-1zM433 102.4h1v13.17h-1zM466 102.4h1v13.17h-1zM503 102.4h1v13.17h-1zM520 102.4h1v13.17h-1zM525 102.4h1v13.17h-1zM542 102.4h3v13.17h-3zM549 102.4h1v13.17h-1zM553 102.4h1v13.17h-1zM561 102.4h1v13.17h-1zM572 102.4h1v13.17h-1zM595 102.4h1v13.17h-1zM914 102.4h1v13.17h-1zM923 102.4h2v13.17h-2zM927 102.4h2v13.17h-2zM936 102.4h1v13.17h-1zM939 102.4h1v13.17h-1zM1137 102.4h1v13.17h-1zM1142 102.4h2v13.17h-2zM1155 102.4h2v13.17h-2zM262 115.6h1v13.17h-1zM269 115.6h2v13.17h-2zM294 115.6h1v13.17h-1zM304 115.6h1v13.17h-1zM219 128.8h1v13.17h-1zM223 128.8h1v13.17h-1zM232 128.8h1v13.17h-1zM234 128.8h1v13.17h-1zM237 128.8h1v13.17h-1zM425 128.8h1v13.17h-1zM507 128.8h1v13.17h-1zM996 128.8h1v13.17h-1zM1017 128.8h1v13.17h-1zM1020 128.8h2v13.17h-2zM1024 128.8h2v13.17h-2zM1035 128.8h1v13.17h-1zM1048 128.8h1v13.17h-1zM1054 128.8h2v13.17h-2zM1075 128.8h1v13.17h-1zM184 155.1h1v13.17h-1zM243 155.1h1v13.17h-1zM261 155.1h1v13.17h-1zM288 155.1h1v13.17h-1zM308 155.1h1v13.17h-1zM314 155.1h2v13.17h-2zM320 155.1h2v13.17h-2zM345 155.1h1v13.17h-1zM371 155.1h2v13.17h-2zM386 155.1h2v13.17h-2zM397 155.1h1v13.17h-1zM499 155.1h2v13.17h-2zM614 155.1h1v13.17h-1zM622 155.1h1v13.17h-1zM624 155.1h1v13.17h-1zM636 155.1h2v13.17h-2zM653 155.1h1v13.17h-1zM668 155.1h2v13.17h-2zM683 155.1h1v13.17h-1zM730 155.1h1v13.17h-1zM736 155.1h1v13.17h-1zM739 155.1h1v13.17h-1zM931 155.1h2v13.17h-2zM938 155.1h1v13.17h-1zM969 155.1h3v13.17h-3zM983 155.1h1v13.17h-1zM1087 155.1h1v13.17h-1zM1092 155.1h1v13.17h-1zM205 168.3h1v13.17h-1zM277 168.3h1v13.17h-1zM282 168.3h2v13.17h-2zM285 168.3h3v13.17h-3zM323 168.3h1v13.17h-1zM377 168.3h2v13.17h-2zM516 168.3h1v13.17h-1zM549 168.3h1v13.17h-1zM561 168.3h1v13.17h-1zM565 168.3h3v13.17h-3zM570 168.3h1v13.17h-1zM578 168.3h1v13.17h-1zM585 168.3h3v13.17h-3zM609 168.3h2v13.17h-2zM924 168.3h1v13.17h-1zM1000 168.3h1v13.17h-1zM1006 168.3h1v13.17h-1zM1016 168.3h1v13.17h-1zM1033 168.3h1v13.17h-1zM1035 168.3h1v13.17h-1zM1060 168.3h1v13.17h-1zM1071 168.3h1v13.17h-1zM1073 168.3h1v13.17h-1zM1144 168.3h1v13.17h-1zM178 181.4h1v13.17h-1zM183 181.4h1v13.17h-1zM214 181.4h2v13.17h-2zM240 181.4h1v13.17h-1zM243 181.4h1v13.17h-1zM249 181.4h2v13.17h-2zM262 181.4h1v13.17h-1zM266 181.4h2v13.17h-2zM299 181.4h1v13.17h-1zM301 181.4h1v13.17h-1zM320 181.4h1v13.17h-1zM328 181.4h2v13.17h-2zM422 181.4h2v13.17h-2zM918 181.4h1v13.17h-1zM991 181.4h1v13.17h-1zM1001 181.4h2v13.17h-2zM1012 181.4h1v13.17h-1zM1015 181.4h1v13.17h-1zM1020 181.4h1v13.17h-1zM1027 181.4h2v13.17h-2zM636 220.9h2v13.17h-2zM639 220.9h2v13.17h-2zM740 247.3h1v13.17h-1zM750 247.3h1v13.17h-1zM758 247.3h1v13.17h-1zM434 286.8h1v13.17h-1zM651 286.8h1v13.17h-1zM660 286.8h2v13.17h-2zM793 286.8h2v13.17h-2zM803 286.8h2v13.17h-2zM810 286.8h2v13.17h-2zM916 286.8h1v13.17h-1zM934 286.8h2v13.17h-2zM953 286.8h1v13.17h-1zM969 286.8h1v13.17h-1zM975 286.8h2v13.17h-2zM744 313.1h1v13.17h-1zM663 339.5h1v13.17h-1zM668 339.5h1v13.17h-1zM675 339.5h1v13.17h-1zM678 339.5h1v13.17h-1zM682 339.5h1v13.17h-1zM686 339.5h1v13.17h-1zM793 339.5h1v13.17h-1zM679 352.6h2v13.17h-2zM683 352.6h1v13.17h-1zM829 352.6h1v13.17h-1zM831 352.6h2v13.17h-2zM694 392.1h1v13.17h-1zM734 392.1h2v13.17h-2zM1049 392.1h1v13.17h-1zM726 405.3h2v13.17h-2zM745 405.3h1v13.17h-1zM766 405.3h1v13.17h-1zM780 405.3h1v13.17h-1zM791 405.3h1v13.17h-1zM525 418.5h2v13.17h-2zM530 418.5h1v13.17h-1zM660 418.5h1v13.17h-1zM671 418.5h1v13.17h-1zM678 418.5h1v13.17h-1zM699 418.5h2v13.17h-2zM810 418.5h1v13.17h-1zM817 418.5h3v13.17h-3zM916 418.5h1v13.17h-1zM196 444.8h1v13.17h-1zM201 444.8h1v13.17h-1zM218 444.8h1v13.17h-1zM227 444.8h2v13.17h-2zM240 444.8h1v13.17h-1zM242 444.8h2v13.17h-2zM459 444.8h1v13.17h-1zM470 444.8h1v13.17h-1zM635 444.8h2v13.17h-2zM646 444.8h2v13.17h-2zM651 444.8h1v13.17h-1zM663 444.8h2v13.17h-2zM677 444.8h1v13.17h-1zM756 444.8h2v13.17h-2zM797 444.8h1v13.17h-1zM802 444.8h2v13.17h-2zM805 444.8h1v13.17h-1zM811 444.8h1v13.17h-1zM990 444.8h1v13.17h-1zM999 444.8h1v13.17h-1zM1003 444.8h1v13.17h-1zM481 471.2h1v13.17h-1zM651 471.2h1v13.17h-1zM743 471.2h2v13.17h-2zM748 471.2h1v13.17h-1zM635 510.7h1v13.17h-1zM172 537.0h2v13.17h-2zM181 537.0h3v13.17h-3zM222 537.0h2v13.17h-2zM230 537.0h1v13.17h-1zM664 537.0h1v13.17h-1zM666 537.0h2v13.17h-2zM669 537.0h1v13.17h-1zM837 537.0h1v13.17h-1zM848 537.0h1v13.17h-1zM850 537.0h2v13.17h-2zM998 537.0h2v13.17h-2zM1017 537.0h1v13.17h-1zM1045 537.0h1v13.17h-1zM1063 537.0h1v13.17h-1zM1074 537.0h1v13.17h-1zM1083 537.0h1v13.17h-1zM1157 537.0h1v13.17h-1zM459 550.2h1v13.17h-1zM506 550.2h1v13.17h-1zM528 550.2h1v13.17h-1zM536 550.2h2v13.17h-2zM539 550.2h3v13.17h-3zM543 550.2h1v13.17h-1zM565 550.2h1v13.17h-1zM660 550.2h2v13.17h-2zM680 550.2h2v13.17h-2zM703 550.2h1v13.17h-1zM706 550.2h1v13.17h-1zM711 550.2h2v13.17h-2zM725 550.2h1v13.17h-1zM896 550.2h2v13.17h-2zM915 550.2h1v13.17h-1zM921 550.2h2v13.17h-2zM931 550.2h1v13.17h-1zM937 550.2h2v13.17h-2zM1148 550.2h1v13.17h-1zM488 563.4h1v13.17h-1zM235 576.5h1v13.17h-1zM289 576.5h2v13.17h-2zM300 576.5h1v13.17h-1zM304 576.5h2v13.17h-2zM307 576.5h2v13.17h-2zM391 576.5h2v13.17h-2zM394 576.5h2v13.17h-2zM414 576.5h1v13.17h-1zM438 576.5h2v13.17h-2zM441 576.5h2v13.17h-2zM472 576.5h4v13.17h-4zM514 576.5h1v13.17h-1zM525 576.5h1v13.17h-1zM529 576.5h1v13.17h-1zM533 576.5h1v13.17h-1zM537 576.5h1v13.17h-1zM540 576.5h2v13.17h-2zM942 576.5h1v13.17h-1zM1009 576.5h1v13.17h-1zM1044 576.5h1v13.17h-1zM1079 576.5h2v13.17h-2zM1112 576.5h2v13.17h-2zM1120 576.5h1v13.17h-1zM239 589.7h1v13.17h-1zM247 589.7h1v13.17h-1zM306 589.7h1v13.17h-1zM310 589.7h1v13.17h-1zM313 589.7h1v13.17h-1zM317 589.7h1v13.17h-1zM382 589.7h1v13.17h-1zM391 589.7h1v13.17h-1zM445 589.7h1v13.17h-1zM537 589.7h1v13.17h-1zM546 589.7h1v13.17h-1zM577 589.7h2v13.17h-2zM589 589.7h1v13.17h-1zM602 589.7h3v13.17h-3zM935 589.7h1v13.17h-1zM948 589.7h2v13.17h-2zM1090 589.7h2v13.17h-2zM1143 589.7h6v13.17h-6z"/>
<path fill="#dee9f4" d="M198 62.9h1v13.17h-1zM200 62.9h1v13.17h-1zM207 62.9h1v13.17h-1zM212 62.9h1v13.17h-1zM374 62.9h1v13.17h-1zM635 62.9h1v13.17h-1zM180 76.1h1v13.17h-1zM191 76.1h1v13.17h-1zM193 76.1h2v13.17h-2zM260 76.1h2v13.17h-2zM289 76.1h4v13.17h-4zM294 76.1h1v13.17h-1zM295 76.1h1v13.17h-1zM305 76.1h1v13.17h-1zM331 76.1h1v13.17h-1zM341 76.1h1v13.17h-1zM408 76.1h1v13.17h-1zM413 76.1h1v13.17h-1zM500 76.1h1v13.17h-1zM502 76.1h1v13.17h-1zM570 76.1h2v13.17h-2zM579 76.1h1v13.17h-1zM580 76.1h1v13.17h-1zM198 89.2h1v13.17h-1zM205 89.2h2v13.17h-2zM220 89.2h1v13.17h-1zM224 89.2h1v13.17h-1zM229 89.2h1v13.17h-1zM232 89.2h1v13.17h-1zM400 89.2h2v13.17h-2zM1011 89.2h1v13.17h-1zM1142 89.2h1v13.17h-1zM182 102.4h1v13.17h-1zM186 102.4h1v13.17h-1zM191 102.4h1v13.17h-1zM247 102.4h2v13.17h-2zM271 102.4h1v13.17h-1zM284 102.4h2v13.17h-2zM289 102.4h1v13.17h-1zM297 102.4h1v13.17h-1zM318 102.4h1v13.17h-1zM389 102.4h1v13.17h-1zM413 102.4h1v13.17h-1zM421 102.4h2v13.17h-2zM432 102.4h1v13.17h-1zM512 102.4h1v13.17h-1zM513 102.4h1v13.17h-1zM514 102.4h1v13.17h-1zM533 102.4h1v13.17h-1zM537 102.4h1v13.17h-1zM539 102.4h1v13.17h-1zM1138 102.4h1v13.17h-1zM824 115.6h1v13.17h-1zM197 128.8h1v13.17h-1zM199 128.8h2v13.17h-2zM375 128.8h1v13.17h-1zM376 128.8h1v13.17h-1zM992 128.8h1v13.17h-1zM993 128.8h1v13.17h-1zM1004 128.8h1v13.17h-1zM1009 128.8h1v13.17h-1zM174 155.1h1v13.17h-1zM180 155.1h1v13.17h-1zM207 155.1h1v13.17h-1zM215 155.1h1v13.17h-1zM225 155.1h1v13.17h-1zM239 155.1h1v13.17h-1zM249 155.1h2v13.17h-2zM264 155.1h1v13.17h-1zM283 155.1h1v13.17h-1zM286 155.1h2v13.17h-2zM302 155.1h1v13.17h-1zM306 155.1h1v13.17h-1zM346 155.1h2v13.17h-2zM352 155.1h1v13.17h-1zM355 155.1h3v13.17h-3zM359 155.1h2v13.17h-2zM377 155.1h1v13.17h-1zM380 155.1h2v13.17h-2zM383 155.1h2v13.17h-2zM385 155.1h1v13.17h-1zM401 155.1h1v13.17h-1zM420 155.1h1v13.17h-1zM426 155.1h1v13.17h-1zM485 155.1h1v13.17h-1zM486 155.1h1v13.17h-1zM491 155.1h1v13.17h-1zM514 155.1h1v13.17h-1zM519 155.1h2v13.17h-2zM536 155.1h1v13.17h-1zM555 155.1h1v13.17h-1zM557 155.1h1v13.17h-1zM560 155.1h1v13.17h-1zM590 155.1h3v13.17h-3zM598 155.1h2v13.17h-2zM600 155.1h1v13.17h-1zM612 155.1h1v13.17h-1zM616 155.1h1v13.17h-1zM627 155.1h1v13.17h-1zM632 155.1h2v13.17h-2zM744 155.1h1v13.17h-1zM749 155.1h1v13.17h-1zM753 155.1h2v13.17h-2zM1027 155.1h2v13.17h-2zM1039 155.1h1v13.17h-1zM1053 155.1h2v13.17h-2zM1060 155.1h2v13.17h-2zM1069 155.1h1v13.17h-1zM1103 155.1h1v13.17h-1zM1107 155.1h2v13.17h-2zM1113 155.1h2v13.17h-2zM1121 155.1h2v13.17h-2zM198 168.3h1v13.17h-1zM204 168.3h1v13.17h-1zM256 168.3h1v13.17h-1zM263 168.3h1v13.17h-1zM276 168.3h1v13.17h-1zM402 168.3h1v13.17h-1zM414 168.3h1v13.17h-1zM519 168.3h1v13.17h-1zM531 168.3h1v13.17h-1zM538 168.3h1v13.17h-1zM547 168.3h1v13.17h-1zM548 168.3h1v13.17h-1zM551 168.3h2v13.17h-2zM991 168.3h1v13.17h-1zM997 168.3h1v13.17h-1zM1002 168.3h1v13.17h-1zM1014 168.3h1v13.17h-1zM1021 168.3h1v13.17h-1zM1138 168.3h2v13.17h-2zM1140 168.3h1v13.17h-1zM175 181.4h1v13.17h-1zM179 181.4h1v13.17h-1zM181 181.4h1v13.17h-1zM212 181.4h1v13.17h-1zM218 181.4h2v13.17h-2zM222 181.4h1v13.17h-1zM227 181.4h1v13.17h-1zM258 181.4h1v13.17h-1zM260 181.4h1v13.17h-1zM406 181.4h1v13.17h-1zM415 181.4h1v13.17h-1zM424 181.4h1v13.17h-1zM500 181.4h2v13.17h-2zM993 181.4h1v13.17h-1zM1142 181.4h2v13.17h-2zM193 207.8h1v13.17h-1zM398 207.8h1v13.17h-1zM739 220.9h1v13.17h-1zM749 220.9h2v13.17h-2zM753 220.9h2v13.17h-2zM761 220.9h2v13.17h-2zM786 220.9h1v13.17h-1zM811 220.9h1v13.17h-1zM833 220.9h1v13.17h-1zM529 234.1h1v13.17h-1zM647 234.1h1v13.17h-1zM841 234.1h1v13.17h-1zM647 260.4h1v13.17h-1zM915 286.8h1v13.17h-1zM921 286.8h1v13.17h-1zM1001 286.8h1v13.17h-1zM196 313.1h1v13.17h-1zM430 313.1h1v13.17h-1zM1030 313.1h1v13.17h-1zM810 352.6h2v13.17h-2zM826 352.6h1v13.17h-1zM655 392.1h1v13.17h-1zM669 392.1h1v13.17h-1zM670 392.1h1v13.17h-1zM673 392.1h1v13.17h-1zM706 392.1h1v13.17h-1zM830 392.1h1v13.17h-1zM924 392.1h1v13.17h-1zM638 405.3h1v13.17h-1zM675 405.3h2v13.17h-2zM702 405.3h2v13.17h-2zM720 405.3h2v13.17h-2zM818 405.3h1v13.17h-1zM654 418.5h1v13.17h-1zM659 418.5h1v13.17h-1zM661 418.5h1v13.17h-1zM752 418.5h1v13.17h-1zM796 418.5h1v13.17h-1zM195 444.8h1v13.17h-1zM206 444.8h1v13.17h-1zM746 444.8h1v13.17h-1zM987 444.8h2v13.17h-2zM488 471.2h1v13.17h-1zM601 471.2h1v13.17h-1zM739 471.2h2v13.17h-2zM770 484.3h1v13.17h-1zM900 497.5h1v13.17h-1zM1089 497.5h1v13.17h-1zM1141 497.5h1v13.17h-1zM526 510.7h1v13.17h-1zM175 537.0h1v13.17h-1zM178 537.0h2v13.17h-2zM184 537.0h1v13.17h-1zM185 537.0h3v13.17h-3zM199 537.0h1v13.17h-1zM996 537.0h1v13.17h-1zM1000 537.0h2v13.17h-2zM1004 537.0h1v13.17h-1zM1136 537.0h2v13.17h-2zM1150 537.0h1v13.17h-1zM447 550.2h2v13.17h-2zM647 550.2h1v13.17h-1zM649 550.2h1v13.17h-1zM655 550.2h1v13.17h-1zM662 550.2h1v13.17h-1zM801 550.2h1v13.17h-1zM852 550.2h2v13.17h-2zM861 550.2h1v13.17h-1zM862 550.2h1v13.17h-1zM866 550.2h1v13.17h-1zM875 550.2h2v13.17h-2zM881 550.2h4v13.17h-4zM1139 550.2h2v13.17h-2zM513 563.4h1v13.17h-1zM895 563.4h1v13.17h-1zM901 563.4h1v13.17h-1zM1129 563.4h1v13.17h-1zM183 576.5h2v13.17h-2zM208 576.5h2v13.17h-2zM228 576.5h1v13.17h-1zM267 576.5h1v13.17h-1zM272 576.5h1v13.17h-1zM276 576.5h2v13.17h-2zM283 576.5h2v13.17h-2zM288 576.5h1v13.17h-1zM384 576.5h2v13.17h-2zM389 576.5h1v13.17h-1zM415 576.5h1v13.17h-1zM418 576.5h1v13.17h-1zM477 576.5h2v13.17h-2zM481 576.5h1v13.17h-1zM918 576.5h1v13.17h-1zM920 576.5h1v13.17h-1zM935 576.5h2v13.17h-2zM938 576.5h1v13.17h-1zM1019 576.5h1v13.17h-1zM1052 576.5h1v13.17h-1zM1151 576.5h1v13.17h-1zM1154 576.5h2v13.17h-2zM1157 576.5h1v13.17h-1zM1159 576.5h1v13.17h-1zM215 589.7h2v13.17h-2zM219 589.7h2v13.17h-2zM231 589.7h1v13.17h-1zM232 589.7h4v13.17h-4zM270 589.7h2v13.17h-2zM289 589.7h1v13.17h-1zM297 589.7h1v13.17h-1zM301 589.7h1v13.17h-1zM377 589.7h2v13.17h-2zM380 589.7h1v13.17h-1zM413 589.7h1v13.17h-1zM418 589.7h2v13.17h-2zM423 589.7h2v13.17h-2zM433 589.7h1v13.17h-1zM437 589.7h1v13.17h-1zM482 589.7h1v13.17h-1zM491 589.7h1v13.17h-1zM494 589.7h1v13.17h-1zM509 589.7h1v13.17h-1zM511 589.7h2v13.17h-2zM520 589.7h1v13.17h-1zM529 589.7h1v13.17h-1zM542 589.7h2v13.17h-2zM927 589.7h1v13.17h-1zM1007 589.7h1v13.17h-1zM1009 589.7h2v13.17h-2zM1012 589.7h2v13.17h-2zM1016 589.7h1v13.17h-1zM1020 589.7h1v13.17h-1zM1028 589.7h1v13.17h-1zM1029 589.7h1v13.17h-1zM1042 589.7h1v13.17h-1zM1049 589.7h1v13.17h-1zM1054 589.7h1v13.17h-1zM1066 589.7h1v13.17h-1z"/>
<path fill="#dde8f3" d="M199 62.9h1v13.17h-1zM270 76.1h2v13.17h-2zM293 76.1h1v13.17h-1zM310 76.1h1v13.17h-1zM320 76.1h1v13.17h-1zM327 76.1h1v13.17h-1zM347 76.1h1v13.17h-1zM407 76.1h1v13.17h-1zM418 76.1h1v13.17h-1zM470 76.1h1v13.17h-1zM495 76.1h2v13.17h-2zM530 76.1h2v13.17h-2zM542 76.1h2v13.17h-2zM557 76.1h2v13.17h-2zM643 89.2h1v13.17h-1zM1016 89.2h1v13.17h-1zM1022 89.2h1v13.17h-1zM1027 89.2h1v13.17h-1zM1029 89.2h1v13.17h-1zM192 102.4h1v13.17h-1zM279 102.4h1v13.17h-1zM404 102.4h2v13.17h-2zM414 102.4h1v13.17h-1zM416 102.4h2v13.17h-2zM419 102.4h1v13.17h-1zM465 102.4h1v13.17h-1zM507 102.4h1v13.17h-1zM528 102.4h1v13.17h-1zM532 102.4h1v13.17h-1zM995 128.8h1v13.17h-1zM1155 128.8h1v13.17h-1zM192 155.1h1v13.17h-1zM210 155.1h2v13.17h-2zM223 155.1h2v13.17h-2zM235 155.1h2v13.17h-2zM240 155.1h1v13.17h-1zM259 155.1h1v13.17h-1zM269 155.1h2v13.17h-2zM311 155.1h1v13.17h-1zM326 155.1h1v13.17h-1zM329 155.1h2v13.17h-2zM353 155.1h1v13.17h-1zM361 155.1h3v13.17h-3zM369 155.1h1v13.17h-1zM378 155.1h1v13.17h-1zM497 155.1h1v13.17h-1zM513 155.1h1v13.17h-1zM524 155.1h2v13.17h-2zM553 155.1h2v13.17h-2zM589 155.1h1v13.17h-1zM593 155.1h1v13.17h-1zM595 155.1h2v13.17h-2zM740 155.1h1v13.17h-1zM1006 155.1h1v13.17h-1zM1040 155.1h1v13.17h-1zM1093 155.1h1v13.17h-1zM1100 155.1h1v13.17h-1zM1106 155.1h1v13.17h-1zM1125 155.1h2v13.17h-2zM1151 155.1h1v13.17h-1zM200 168.3h2v13.17h-2zM509 168.3h3v13.17h-3zM530 168.3h1v13.17h-1zM1156 168.3h1v13.17h-1zM169 181.4h1v13.17h-1zM204 181.4h1v13.17h-1zM213 181.4h1v13.17h-1zM228 181.4h1v13.17h-1zM571 181.4h1v13.17h-1zM1140 181.4h1v13.17h-1zM340 194.6h1v13.17h-1zM795 207.8h1v13.17h-1zM843 207.8h1v13.17h-1zM740 220.9h2v13.17h-2zM810 220.9h1v13.17h-1zM834 220.9h1v13.17h-1zM895 234.1h2v13.17h-2zM649 260.4h1v13.17h-1zM196 273.6h1v13.17h-1zM907 273.6h1v13.17h-1zM912 286.8h1v13.17h-1zM1058 300.0h1v13.17h-1zM765 326.3h1v13.17h-1zM814 352.6h1v13.17h-1zM647 365.8h1v13.17h-1zM661 392.1h1v13.17h-1zM675 392.1h3v13.17h-3zM693 392.1h1v13.17h-1zM711 392.1h1v13.17h-1zM829 392.1h1v13.17h-1zM276 405.3h1v13.17h-1zM632 405.3h1v13.17h-1zM724 405.3h1v13.17h-1zM741 405.3h1v13.17h-1zM751 405.3h2v13.17h-2zM753 418.5h1v13.17h-1zM802 418.5h1v13.17h-1zM890 418.5h2v13.17h-2zM742 444.8h1v13.17h-1zM742 471.2h1v13.17h-1zM618 484.3h1v13.17h-1zM1114 510.7h1v13.17h-1zM1002 537.0h1v13.17h-1zM1141 537.0h1v13.17h-1zM1143 537.0h1v13.17h-1zM172 550.2h1v13.17h-1zM658 550.2h2v13.17h-2zM889 550.2h1v13.17h-1zM1150 550.2h1v13.17h-1zM902 563.4h1v13.17h-1zM936 563.4h1v13.17h-1zM220 576.5h1v13.17h-1zM374 576.5h1v13.17h-1zM378 576.5h2v13.17h-2zM470 576.5h1v13.17h-1zM926 576.5h2v13.17h-2zM1011 576.5h2v13.17h-2zM1024 576.5h1v13.17h-1zM1034 576.5h1v13.17h-1zM237 589.7h1v13.17h-1zM439 589.7h1v13.17h-1zM489 589.7h2v13.17h-2zM502 589.7h1v13.17h-1zM555 589.7h1v13.17h-1zM1017 589.7h2v13.17h-2zM1025 589.7h2v13.17h-2zM1033 589.7h2v13.17h-2zM1048 589.7h1v13.17h-1zM1140 589.7h1v13.17h-1zM1142 589.7h1v13.17h-1z"/>
<path fill="#e7eff8" d="M204 62.9h1v13.17h-1zM224 62.9h1v13.17h-1zM236 62.9h2v13.17h-2zM254 62.9h1v13.17h-1zM257 62.9h1v13.17h-1zM259 62.9h2v13.17h-2zM270 62.9h1v13.17h-1zM275 62.9h1v13.17h-1zM288 62.9h1v13.17h-1zM292 62.9h1v13.17h-1zM378 62.9h1v13.17h-1zM385 62.9h1v13.17h-1zM467 62.9h1v13.17h-1zM510 62.9h1v13.17h-1zM519 62.9h1v13.17h-1zM1153 62.9h2v13.17h-2zM328 76.1h1v13.17h-1zM340 76.1h1v13.17h-1zM357 76.1h1v13.17h-1zM433 76.1h1v13.17h-1zM440 76.1h1v13.17h-1zM451 76.1h1v13.17h-1zM549 76.1h1v13.17h-1zM553 76.1h1v13.17h-1zM573 76.1h1v13.17h-1zM593 76.1h1v13.17h-1zM597 76.1h1v13.17h-1zM650 76.1h1v13.17h-1zM925 76.1h1v13.17h-1zM993 76.1h2v13.17h-2zM221 89.2h1v13.17h-1zM241 89.2h2v13.17h-2zM251 89.2h1v13.17h-1zM416 89.2h3v13.17h-3zM505 89.2h1v13.17h-1zM936 89.2h1v13.17h-1zM942 89.2h2v13.17h-2zM945 89.2h2v13.17h-2zM1025 89.2h2v13.17h-2zM1033 89.2h2v13.17h-2zM1040 89.2h1v13.17h-1zM1045 89.2h3v13.17h-3zM1079 89.2h1v13.17h-1zM1097 89.2h1v13.17h-1zM1139 89.2h2v13.17h-2zM1143 89.2h1v13.17h-1zM314 102.4h2v13.17h-2zM347 102.4h1v13.17h-1zM366 102.4h1v13.17h-1zM368 102.4h1v13.17h-1zM370 102.4h1v13.17h-1zM438 102.4h2v13.17h-2zM477 102.4h2v13.17h-2zM490 102.4h1v13.17h-1zM496 102.4h1v13.17h-1zM498 102.4h1v13.17h-1zM517 102.4h1v13.17h-1zM538 102.4h1v13.17h-1zM547 102.4h1v13.17h-1zM556 102.4h2v13.17h-2zM560 102.4h1v13.17h-1zM606 102.4h1v13.17h-1zM611 102.4h1v13.17h-1zM614 102.4h1v13.17h-1zM910 102.4h1v13.17h-1zM921 102.4h1v13.17h-1zM942 102.4h2v13.17h-2zM948 102.4h1v13.17h-1zM992 102.4h1v13.17h-1zM1139 102.4h2v13.17h-2zM1157 102.4h2v13.17h-2zM283 115.6h1v13.17h-1zM295 115.6h1v13.17h-1zM311 115.6h2v13.17h-2zM216 128.8h2v13.17h-2zM224 128.8h1v13.17h-1zM236 128.8h1v13.17h-1zM258 128.8h1v13.17h-1zM272 128.8h2v13.17h-2zM384 128.8h2v13.17h-2zM388 128.8h1v13.17h-1zM438 128.8h1v13.17h-1zM509 128.8h2v13.17h-2zM517 128.8h1v13.17h-1zM525 128.8h1v13.17h-1zM651 128.8h1v13.17h-1zM656 128.8h1v13.17h-1zM1016 128.8h1v13.17h-1zM1022 128.8h1v13.17h-1zM1029 128.8h2v13.17h-2zM1049 128.8h1v13.17h-1zM1057 128.8h1v13.17h-1zM1076 128.8h1v13.17h-1zM1083 128.8h1v13.17h-1zM1085 128.8h1v13.17h-1zM1093 128.8h2v13.17h-2zM1133 128.8h2v13.17h-2zM234 155.1h1v13.17h-1zM244 155.1h1v13.17h-1zM246 155.1h1v13.17h-1zM300 155.1h1v13.17h-1zM349 155.1h2v13.17h-2zM396 155.1h1v13.17h-1zM399 155.1h1v13.17h-1zM610 155.1h2v13.17h-2zM628 155.1h2v13.17h-2zM652 155.1h1v13.17h-1zM660 155.1h3v13.17h-3zM673 155.1h1v13.17h-1zM694 155.1h1v13.17h-1zM699 155.1h1v13.17h-1zM720 155.1h1v13.17h-1zM732 155.1h4v13.17h-4zM742 155.1h1v13.17h-1zM914 155.1h1v13.17h-1zM959 155.1h1v13.17h-1zM976 155.1h2v13.17h-2zM1110 155.1h3v13.17h-3zM1131 155.1h1v13.17h-1zM199 168.3h1v13.17h-1zM207 168.3h1v13.17h-1zM223 168.3h2v13.17h-2zM232 168.3h1v13.17h-1zM260 168.3h1v13.17h-1zM304 168.3h2v13.17h-2zM319 168.3h1v13.17h-1zM322 168.3h1v13.17h-1zM324 168.3h2v13.17h-2zM413 168.3h1v13.17h-1zM417 168.3h1v13.17h-1zM524 168.3h2v13.17h-2zM527 168.3h1v13.17h-1zM560 168.3h1v13.17h-1zM562 168.3h1v13.17h-1zM589 168.3h2v13.17h-2zM626 168.3h1v13.17h-1zM651 168.3h2v13.17h-2zM909 168.3h1v13.17h-1zM915 168.3h1v13.17h-1zM992 168.3h1v13.17h-1zM1003 168.3h1v13.17h-1zM1008 168.3h1v13.17h-1zM1023 168.3h2v13.17h-2zM1027 168.3h2v13.17h-2zM1037 168.3h2v13.17h-2zM1041 168.3h1v13.17h-1zM1044 168.3h1v13.17h-1zM1061 168.3h2v13.17h-2zM1067 168.3h2v13.17h-2zM1084 168.3h1v13.17h-1zM1088 168.3h1v13.17h-1zM1091 168.3h1v13.17h-1zM1095 168.3h2v13.17h-2zM1098 168.3h2v13.17h-2zM1155 168.3h1v13.17h-1zM191 181.4h1v13.17h-1zM221 181.4h1v13.17h-1zM237 181.4h2v13.17h-2zM244 181.4h2v13.17h-2zM272 181.4h2v13.17h-2zM304 181.4h2v13.17h-2zM310 181.4h1v13.17h-1zM313 181.4h1v13.17h-1zM315 181.4h1v13.17h-1zM426 181.4h1v13.17h-1zM921 181.4h1v13.17h-1zM923 181.4h1v13.17h-1zM925 181.4h1v13.17h-1zM933 181.4h1v13.17h-1zM1025 181.4h1v13.17h-1zM1033 181.4h1v13.17h-1zM1036 181.4h2v13.17h-2zM1047 181.4h2v13.17h-2zM1057 181.4h1v13.17h-1zM1064 181.4h2v13.17h-2zM650 207.8h2v13.17h-2zM895 207.8h2v13.17h-2zM909 220.9h1v13.17h-1zM911 220.9h2v13.17h-2zM753 247.3h1v13.17h-1zM652 286.8h1v13.17h-1zM662 286.8h1v13.17h-1zM687 286.8h1v13.17h-1zM696 286.8h1v13.17h-1zM799 286.8h1v13.17h-1zM802 286.8h1v13.17h-1zM808 286.8h2v13.17h-2zM816 286.8h1v13.17h-1zM913 286.8h2v13.17h-2zM931 286.8h3v13.17h-3zM946 286.8h1v13.17h-1zM948 286.8h1v13.17h-1zM951 286.8h1v13.17h-1zM958 286.8h2v13.17h-2zM961 286.8h1v13.17h-1zM965 286.8h2v13.17h-2zM968 286.8h1v13.17h-1zM998 286.8h1v13.17h-1zM746 313.1h1v13.17h-1zM659 339.5h2v13.17h-2zM672 339.5h1v13.17h-1zM676 339.5h1v13.17h-1zM681 339.5h1v13.17h-1zM699 339.5h1v13.17h-1zM801 339.5h1v13.17h-1zM656 352.6h1v13.17h-1zM660 352.6h2v13.17h-2zM668 352.6h2v13.17h-2zM675 352.6h2v13.17h-2zM836 352.6h2v13.17h-2zM887 365.8h4v13.17h-4zM900 365.8h1v13.17h-1zM695 392.1h2v13.17h-2zM699 392.1h1v13.17h-1zM728 392.1h2v13.17h-2zM737 392.1h2v13.17h-2zM833 392.1h1v13.17h-1zM443 405.3h1v13.17h-1zM644 405.3h2v13.17h-2zM649 405.3h1v13.17h-1zM757 405.3h1v13.17h-1zM759 405.3h1v13.17h-1zM777 405.3h2v13.17h-2zM788 405.3h1v13.17h-1zM795 405.3h1v13.17h-1zM169 418.5h1v13.17h-1zM508 418.5h2v13.17h-2zM535 418.5h1v13.17h-1zM545 418.5h1v13.17h-1zM694 418.5h1v13.17h-1zM716 418.5h1v13.17h-1zM806 418.5h2v13.17h-2zM809 418.5h1v13.17h-1zM811 418.5h1v13.17h-1zM822 418.5h2v13.17h-2zM896 418.5h1v13.17h-1zM204 444.8h2v13.17h-2zM211 444.8h1v13.17h-1zM215 444.8h2v13.17h-2zM241 444.8h1v13.17h-1zM247 444.8h1v13.17h-1zM251 444.8h1v13.17h-1zM253 444.8h1v13.17h-1zM444 444.8h1v13.17h-1zM450 444.8h2v13.17h-2zM473 444.8h2v13.17h-2zM487 444.8h2v13.17h-2zM493 444.8h1v13.17h-1zM497 444.8h1v13.17h-1zM640 444.8h1v13.17h-1zM662 444.8h1v13.17h-1zM669 444.8h1v13.17h-1zM752 444.8h2v13.17h-2zM796 444.8h1v13.17h-1zM807 444.8h2v13.17h-2zM991 444.8h1v13.17h-1zM994 444.8h1v13.17h-1zM997 444.8h1v13.17h-1zM1004 444.8h1v13.17h-1zM1006 444.8h1v13.17h-1zM748 458.0h1v13.17h-1zM749 471.2h2v13.17h-2zM170 537.0h2v13.17h-2zM188 537.0h1v13.17h-1zM213 537.0h1v13.17h-1zM440 537.0h2v13.17h-2zM445 537.0h2v13.17h-2zM453 537.0h1v13.17h-1zM641 537.0h1v13.17h-1zM838 537.0h1v13.17h-1zM855 537.0h1v13.17h-1zM989 537.0h1v13.17h-1zM1012 537.0h1v13.17h-1zM1029 537.0h1v13.17h-1zM1036 537.0h1v13.17h-1zM1058 537.0h1v13.17h-1zM1062 537.0h1v13.17h-1zM1091 537.0h1v13.17h-1zM1093 537.0h1v13.17h-1zM1153 537.0h1v13.17h-1zM454 550.2h2v13.17h-2zM461 550.2h2v13.17h-2zM500 550.2h1v13.17h-1zM530 550.2h2v13.17h-2zM547 550.2h1v13.17h-1zM563 550.2h1v13.17h-1zM657 550.2h1v13.17h-1zM684 550.2h1v13.17h-1zM688 550.2h1v13.17h-1zM715 550.2h2v13.17h-2zM729 550.2h2v13.17h-2zM879 550.2h1v13.17h-1zM944 550.2h1v13.17h-1zM961 550.2h3v13.17h-3zM966 550.2h1v13.17h-1zM1145 550.2h1v13.17h-1zM1147 550.2h1v13.17h-1zM1157 550.2h1v13.17h-1zM225 576.5h1v13.17h-1zM238 576.5h1v13.17h-1zM244 576.5h3v13.17h-3zM248 576.5h3v13.17h-3zM301 576.5h3v13.17h-3zM306 576.5h1v13.17h-1zM386 576.5h2v13.17h-2zM393 576.5h1v13.17h-1zM446 576.5h1v13.17h-1zM476 576.5h1v13.17h-1zM487 576.5h1v13.17h-1zM493 576.5h2v13.17h-2zM509 576.5h3v13.17h-3zM524 576.5h1v13.17h-1zM535 576.5h2v13.17h-2zM548 576.5h1v13.17h-1zM947 576.5h1v13.17h-1zM955 576.5h1v13.17h-1zM1014 576.5h2v13.17h-2zM1027 576.5h2v13.17h-2zM1045 576.5h1v13.17h-1zM1054 576.5h2v13.17h-2zM1083 576.5h1v13.17h-1zM1091 576.5h1v13.17h-1zM1122 576.5h1v13.17h-1zM1128 576.5h1v13.17h-1zM250 589.7h1v13.17h-1zM309 589.7h1v13.17h-1zM331 589.7h1v13.17h-1zM388 589.7h1v13.17h-1zM425 589.7h2v13.17h-2zM550 589.7h2v13.17h-2zM587 589.7h1v13.17h-1zM608 589.7h1v13.17h-1zM612 589.7h1v13.17h-1zM624 589.7h2v13.17h-2zM928 589.7h2v13.17h-2zM942 589.7h2v13.17h-2zM946 589.7h1v13.17h-1zM953 589.7h1v13.17h-1zM965 589.7h2v13.17h-2zM1060 589.7h1v13.17h-1zM1067 589.7h1v13.17h-1zM1083 589.7h1v13.17h-1zM1094 589.7h2v13.17h-2zM1097 589.7h2v13.17h-2zM1105 589.7h2v13.17h-2z"/>
<path fill="#e3ecf6" d="M205 62.9h2v13.17h-2zM216 62.9h1v13.17h-1zM373 62.9h1v13.17h-1zM381 62.9h1v13.17h-1zM1152 62.9h1v13.17h-1zM309 76.1h1v13.17h-1zM326 76.1h1v13.17h-1zM342 76.1h1v13.17h-1zM367 76.1h2v13.17h-2zM388 76.1h3v13.17h-3zM395 76.1h2v13.17h-2zM422 76.1h1v13.17h-1zM490 76.1h1v13.17h-1zM501 76.1h1v13.17h-1zM522 76.1h1v13.17h-1zM533 76.1h1v13.17h-1zM550 76.1h1v13.17h-1zM577 76.1h2v13.17h-2zM581 76.1h3v13.17h-3zM585 76.1h2v13.17h-2zM607 76.1h2v13.17h-2zM626 76.1h2v13.17h-2zM629 76.1h1v13.17h-1zM910 76.1h1v13.17h-1zM207 89.2h3v13.17h-3zM215 89.2h1v13.17h-1zM218 89.2h2v13.17h-2zM254 89.2h1v13.17h-1zM378 89.2h2v13.17h-2zM410 89.2h1v13.17h-1zM921 89.2h1v13.17h-1zM924 89.2h1v13.17h-1zM927 89.2h1v13.17h-1zM1000 89.2h1v13.17h-1zM1021 89.2h1v13.17h-1zM1035 89.2h1v13.17h-1zM1041 89.2h2v13.17h-2zM1067 89.2h2v13.17h-2zM1144 89.2h1v13.17h-1zM1146 89.2h2v13.17h-2zM1152 89.2h2v13.17h-2zM181 102.4h1v13.17h-1zM291 102.4h1v13.17h-1zM298 102.4h2v13.17h-2zM308 102.4h2v13.17h-2zM334 102.4h2v13.17h-2zM356 102.4h1v13.17h-1zM435 102.4h1v13.17h-1zM482 102.4h1v13.17h-1zM508 102.4h1v13.17h-1zM511 102.4h1v13.17h-1zM536 102.4h1v13.17h-1zM562 102.4h1v13.17h-1zM570 102.4h1v13.17h-1zM922 102.4h1v13.17h-1zM1150 102.4h1v13.17h-1zM264 115.6h1v13.17h-1zM277 115.6h1v13.17h-1zM289 115.6h2v13.17h-2zM766 115.6h1v13.17h-1zM1120 115.6h1v13.17h-1zM196 128.8h1v13.17h-1zM220 128.8h1v13.17h-1zM377 128.8h1v13.17h-1zM432 128.8h1v13.17h-1zM506 128.8h1v13.17h-1zM989 128.8h1v13.17h-1zM991 128.8h1v13.17h-1zM997 128.8h2v13.17h-2zM1008 128.8h1v13.17h-1zM1036 128.8h2v13.17h-2zM1045 128.8h2v13.17h-2zM549 141.9h1v13.17h-1zM169 155.1h1v13.17h-1zM222 155.1h1v13.17h-1zM227 155.1h1v13.17h-1zM251 155.1h1v13.17h-1zM258 155.1h1v13.17h-1zM263 155.1h1v13.17h-1zM304 155.1h1v13.17h-1zM332 155.1h2v13.17h-2zM339 155.1h2v13.17h-2zM368 155.1h1v13.17h-1zM406 155.1h1v13.17h-1zM414 155.1h1v13.17h-1zM487 155.1h4v13.17h-4zM562 155.1h1v13.17h-1zM581 155.1h1v13.17h-1zM597 155.1h1v13.17h-1zM618 155.1h1v13.17h-1zM620 155.1h1v13.17h-1zM646 155.1h1v13.17h-1zM659 155.1h1v13.17h-1zM665 155.1h1v13.17h-1zM675 155.1h2v13.17h-2zM678 155.1h1v13.17h-1zM682 155.1h1v13.17h-1zM692 155.1h1v13.17h-1zM747 155.1h1v13.17h-1zM923 155.1h2v13.17h-2zM945 155.1h1v13.17h-1zM955 155.1h1v13.17h-1zM986 155.1h2v13.17h-2zM1094 155.1h1v13.17h-1zM215 168.3h2v13.17h-2zM374 168.3h2v13.17h-2zM405 168.3h1v13.17h-1zM407 168.3h2v13.17h-2zM411 168.3h1v13.17h-1zM415 168.3h1v13.17h-1zM512 168.3h1v13.17h-1zM520 168.3h1v13.17h-1zM529 168.3h1v13.17h-1zM557 168.3h1v13.17h-1zM569 168.3h1v13.17h-1zM575 168.3h2v13.17h-2zM582 168.3h2v13.17h-2zM990 168.3h1v13.17h-1zM1145 168.3h2v13.17h-2zM176 181.4h1v13.17h-1zM182 181.4h1v13.17h-1zM190 181.4h1v13.17h-1zM208 181.4h1v13.17h-1zM247 181.4h1v13.17h-1zM251 181.4h1v13.17h-1zM269 181.4h1v13.17h-1zM279 181.4h1v13.17h-1zM287 181.4h1v13.17h-1zM294 181.4h1v13.17h-1zM417 181.4h1v13.17h-1zM907 181.4h2v13.17h-2zM911 181.4h1v13.17h-1zM1010 181.4h1v13.17h-1zM844 207.8h1v13.17h-1zM288 220.9h1v13.17h-1zM812 220.9h2v13.17h-2zM352 260.4h1v13.17h-1zM300 273.6h1v13.17h-1zM668 286.8h1v13.17h-1zM790 286.8h2v13.17h-2zM798 286.8h1v13.17h-1zM918 286.8h3v13.17h-3zM922 286.8h2v13.17h-2zM926 286.8h3v13.17h-3zM738 313.1h2v13.17h-2zM485 339.5h1v13.17h-1zM552 339.5h1v13.17h-1zM652 339.5h1v13.17h-1zM656 339.5h1v13.17h-1zM665 339.5h3v13.17h-3zM669 339.5h1v13.17h-1zM653 352.6h3v13.17h-3zM659 352.6h1v13.17h-1zM670 352.6h1v13.17h-1zM812 352.6h1v13.17h-1zM755 365.8h1v13.17h-1zM894 365.8h1v13.17h-1zM334 392.1h1v13.17h-1zM441 392.1h1v13.17h-1zM672 392.1h1v13.17h-1zM697 392.1h1v13.17h-1zM720 392.1h2v13.17h-2zM828 392.1h1v13.17h-1zM699 405.3h1v13.17h-1zM711 405.3h2v13.17h-2zM744 405.3h1v13.17h-1zM773 405.3h1v13.17h-1zM651 418.5h1v13.17h-1zM655 418.5h1v13.17h-1zM672 418.5h1v13.17h-1zM676 418.5h1v13.17h-1zM685 418.5h1v13.17h-1zM800 418.5h2v13.17h-2zM812 418.5h2v13.17h-2zM895 418.5h1v13.17h-1zM907 418.5h1v13.17h-1zM198 444.8h1v13.17h-1zM203 444.8h1v13.17h-1zM208 444.8h1v13.17h-1zM210 444.8h1v13.17h-1zM214 444.8h1v13.17h-1zM225 444.8h1v13.17h-1zM649 444.8h2v13.17h-2zM749 444.8h2v13.17h-2zM798 444.8h2v13.17h-2zM892 458.0h2v13.17h-2zM895 458.0h1v13.17h-1zM746 471.2h2v13.17h-2zM997 510.7h1v13.17h-1zM204 537.0h2v13.17h-2zM217 537.0h1v13.17h-1zM634 537.0h1v13.17h-1zM836 537.0h1v13.17h-1zM997 537.0h1v13.17h-1zM1005 537.0h2v13.17h-2zM1010 537.0h2v13.17h-2zM1015 537.0h2v13.17h-2zM1022 537.0h1v13.17h-1zM1025 537.0h2v13.17h-2zM1038 537.0h1v13.17h-1zM1151 537.0h1v13.17h-1zM1154 537.0h1v13.17h-1zM1159 537.0h1v13.17h-1zM452 550.2h1v13.17h-1zM504 550.2h2v13.17h-2zM521 550.2h1v13.17h-1zM527 550.2h1v13.17h-1zM651 550.2h1v13.17h-1zM694 550.2h2v13.17h-2zM893 550.2h1v13.17h-1zM912 550.2h1v13.17h-1zM917 550.2h2v13.17h-2zM927 550.2h2v13.17h-2zM941 550.2h1v13.17h-1zM1146 550.2h1v13.17h-1zM340 563.4h1v13.17h-1zM899 563.4h2v13.17h-2zM187 576.5h1v13.17h-1zM231 576.5h2v13.17h-2zM275 576.5h1v13.17h-1zM281 576.5h1v13.17h-1zM293 576.5h1v13.17h-1zM420 576.5h1v13.17h-1zM492 576.5h1v13.17h-1zM512 576.5h1v13.17h-1zM958 576.5h1v13.17h-1zM1021 576.5h1v13.17h-1zM1048 576.5h1v13.17h-1zM1073 576.5h1v13.17h-1zM1078 576.5h1v13.17h-1zM1158 576.5h1v13.17h-1zM226 589.7h1v13.17h-1zM244 589.7h2v13.17h-2zM280 589.7h1v13.17h-1zM302 589.7h1v13.17h-1zM421 589.7h1v13.17h-1zM492 589.7h1v13.17h-1zM528 589.7h1v13.17h-1zM535 589.7h2v13.17h-2zM541 589.7h1v13.17h-1zM558 589.7h3v13.17h-3zM567 589.7h2v13.17h-2zM573 589.7h1v13.17h-1zM584 589.7h3v13.17h-3zM588 589.7h1v13.17h-1zM931 589.7h2v13.17h-2zM934 589.7h1v13.17h-1zM947 589.7h1v13.17h-1zM1021 589.7h1v13.17h-1zM1030 589.7h1v13.17h-1zM1038 589.7h1v13.17h-1zM1044 589.7h1v13.17h-1zM1063 589.7h1v13.17h-1zM1131 589.7h2v13.17h-2z"/>
<path fill="#e5eef7" d="M208 62.9h1v13.17h-1zM234 62.9h2v13.17h-2zM238 62.9h2v13.17h-2zM266 62.9h1v13.17h-1zM273 62.9h1v13.17h-1zM276 62.9h1v13.17h-1zM375 62.9h3v13.17h-3zM463 62.9h1v13.17h-1zM466 62.9h1v13.17h-1zM315 76.1h2v13.17h-2zM358 76.1h1v13.17h-1zM360 76.1h1v13.17h-1zM423 76.1h1v13.17h-1zM432 76.1h1v13.17h-1zM439 76.1h1v13.17h-1zM442 76.1h1v13.17h-1zM444 76.1h1v13.17h-1zM493 76.1h1v13.17h-1zM515 76.1h1v13.17h-1zM574 76.1h2v13.17h-2zM911 76.1h3v13.17h-3zM915 76.1h1v13.17h-1zM923 76.1h1v13.17h-1zM926 76.1h1v13.17h-1zM930 76.1h1v13.17h-1zM212 89.2h1v13.17h-1zM223 89.2h1v13.17h-1zM236 89.2h2v13.17h-2zM384 89.2h1v13.17h-1zM402 89.2h1v13.17h-1zM411 89.2h4v13.17h-4zM463 89.2h1v13.17h-1zM638 89.2h2v13.17h-2zM918 89.2h1v13.17h-1zM926 89.2h1v13.17h-1zM935 89.2h1v13.17h-1zM1017 89.2h1v13.17h-1zM1028 89.2h1v13.17h-1zM1039 89.2h1v13.17h-1zM1071 89.2h2v13.17h-2zM1156 89.2h1v13.17h-1zM292 102.4h1v13.17h-1zM312 102.4h1v13.17h-1zM330 102.4h1v13.17h-1zM467 102.4h1v13.17h-1zM469 102.4h2v13.17h-2zM481 102.4h1v13.17h-1zM483 102.4h1v13.17h-1zM510 102.4h1v13.17h-1zM554 102.4h1v13.17h-1zM563 102.4h1v13.17h-1zM566 102.4h1v13.17h-1zM573 102.4h1v13.17h-1zM590 102.4h2v13.17h-2zM597 102.4h1v13.17h-1zM600 102.4h1v13.17h-1zM931 102.4h1v13.17h-1zM282 115.6h1v13.17h-1zM286 115.6h1v13.17h-1zM296 115.6h1v13.17h-1zM299 115.6h1v13.17h-1zM215 128.8h1v13.17h-1zM374 128.8h1v13.17h-1zM378 128.8h1v13.17h-1zM519 128.8h2v13.17h-2zM522 128.8h1v13.17h-1zM990 128.8h1v13.17h-1zM999 128.8h1v13.17h-1zM1007 128.8h1v13.17h-1zM1010 128.8h1v13.17h-1zM1015 128.8h1v13.17h-1zM1053 128.8h1v13.17h-1zM178 155.1h1v13.17h-1zM233 155.1h1v13.17h-1zM248 155.1h1v13.17h-1zM265 155.1h1v13.17h-1zM272 155.1h1v13.17h-1zM294 155.1h1v13.17h-1zM312 155.1h1v13.17h-1zM351 155.1h1v13.17h-1zM370 155.1h1v13.17h-1zM391 155.1h2v13.17h-2zM496 155.1h1v13.17h-1zM588 155.1h1v13.17h-1zM634 155.1h2v13.17h-2zM638 155.1h1v13.17h-1zM651 155.1h1v13.17h-1zM670 155.1h1v13.17h-1zM705 155.1h1v13.17h-1zM737 155.1h1v13.17h-1zM745 155.1h1v13.17h-1zM751 155.1h1v13.17h-1zM908 155.1h2v13.17h-2zM917 155.1h2v13.17h-2zM921 155.1h2v13.17h-2zM928 155.1h2v13.17h-2zM948 155.1h2v13.17h-2zM954 155.1h1v13.17h-1zM957 155.1h2v13.17h-2zM988 155.1h1v13.17h-1zM1085 155.1h1v13.17h-1zM1118 155.1h2v13.17h-2zM1130 155.1h1v13.17h-1zM202 168.3h2v13.17h-2zM211 168.3h3v13.17h-3zM217 168.3h2v13.17h-2zM225 168.3h1v13.17h-1zM267 168.3h1v13.17h-1zM275 168.3h1v13.17h-1zM279 168.3h2v13.17h-2zM299 168.3h1v13.17h-1zM301 168.3h1v13.17h-1zM306 168.3h2v13.17h-2zM310 168.3h1v13.17h-1zM312 168.3h1v13.17h-1zM403 168.3h2v13.17h-2zM412 168.3h1v13.17h-1zM517 168.3h2v13.17h-2zM522 168.3h1v13.17h-1zM533 168.3h1v13.17h-1zM545 168.3h2v13.17h-2zM559 168.3h1v13.17h-1zM588 168.3h1v13.17h-1zM598 168.3h1v13.17h-1zM916 168.3h1v13.17h-1zM1005 168.3h1v13.17h-1zM1007 168.3h1v13.17h-1zM1011 168.3h1v13.17h-1zM1031 168.3h2v13.17h-2zM1040 168.3h1v13.17h-1zM1052 168.3h1v13.17h-1zM1056 168.3h1v13.17h-1zM1063 168.3h1v13.17h-1zM173 181.4h1v13.17h-1zM230 181.4h1v13.17h-1zM292 181.4h1v13.17h-1zM298 181.4h1v13.17h-1zM307 181.4h1v13.17h-1zM323 181.4h1v13.17h-1zM912 181.4h2v13.17h-2zM989 181.4h2v13.17h-2zM994 181.4h1v13.17h-1zM1004 181.4h2v13.17h-2zM1011 181.4h1v13.17h-1zM1021 181.4h2v13.17h-2zM1041 181.4h1v13.17h-1zM604 194.6h1v13.17h-1zM819 207.8h1v13.17h-1zM634 220.9h1v13.17h-1zM485 234.1h1v13.17h-1zM648 234.1h1v13.17h-1zM752 247.3h1v13.17h-1zM648 260.4h1v13.17h-1zM923 260.4h1v13.17h-1zM637 286.8h1v13.17h-1zM685 286.8h1v13.17h-1zM738 286.8h3v13.17h-3zM874 286.8h1v13.17h-1zM909 286.8h1v13.17h-1zM930 286.8h1v13.17h-1zM955 286.8h1v13.17h-1zM743 313.1h1v13.17h-1zM770 326.3h2v13.17h-2zM653 339.5h1v13.17h-1zM670 339.5h2v13.17h-2zM794 339.5h1v13.17h-1zM658 352.6h1v13.17h-1zM685 352.6h1v13.17h-1zM835 352.6h1v13.17h-1zM893 365.8h1v13.17h-1zM691 392.1h2v13.17h-2zM705 392.1h1v13.17h-1zM707 392.1h1v13.17h-1zM724 392.1h1v13.17h-1zM727 392.1h1v13.17h-1zM729 405.3h2v13.17h-2zM748 405.3h2v13.17h-2zM761 405.3h3v13.17h-3zM771 405.3h1v13.17h-1zM500 418.5h1v13.17h-1zM653 418.5h1v13.17h-1zM677 418.5h1v13.17h-1zM682 418.5h1v13.17h-1zM688 418.5h1v13.17h-1zM805 418.5h1v13.17h-1zM892 418.5h1v13.17h-1zM922 418.5h2v13.17h-2zM231 444.8h1v13.17h-1zM237 444.8h1v13.17h-1zM440 444.8h1v13.17h-1zM458 444.8h1v13.17h-1zM475 444.8h1v13.17h-1zM637 444.8h3v13.17h-3zM747 444.8h1v13.17h-1zM751 444.8h1v13.17h-1zM794 444.8h2v13.17h-2zM801 444.8h1v13.17h-1zM806 444.8h1v13.17h-1zM809 444.8h1v13.17h-1zM1001 444.8h2v13.17h-2zM879 458.0h1v13.17h-1zM633 510.7h1v13.17h-1zM637 510.7h1v13.17h-1zM218 523.9h1v13.17h-1zM191 537.0h1v13.17h-1zM194 537.0h1v13.17h-1zM197 537.0h1v13.17h-1zM227 537.0h2v13.17h-2zM657 537.0h2v13.17h-2zM738 537.0h1v13.17h-1zM741 537.0h1v13.17h-1zM842 537.0h1v13.17h-1zM849 537.0h1v13.17h-1zM852 537.0h1v13.17h-1zM1013 537.0h1v13.17h-1zM1032 537.0h1v13.17h-1zM1049 537.0h1v13.17h-1zM1054 537.0h2v13.17h-2zM1060 537.0h1v13.17h-1zM1144 537.0h2v13.17h-2zM451 550.2h1v13.17h-1zM520 550.2h1v13.17h-1zM646 550.2h1v13.17h-1zM653 550.2h2v13.17h-2zM656 550.2h1v13.17h-1zM666 550.2h3v13.17h-3zM674 550.2h2v13.17h-2zM682 550.2h2v13.17h-2zM709 550.2h1v13.17h-1zM914 550.2h1v13.17h-1zM934 550.2h3v13.17h-3zM1141 550.2h1v13.17h-1zM1143 550.2h2v13.17h-2zM539 563.4h1v13.17h-1zM884 563.4h1v13.17h-1zM898 563.4h1v13.17h-1zM280 576.5h1v13.17h-1zM295 576.5h1v13.17h-1zM410 576.5h1v13.17h-1zM435 576.5h3v13.17h-3zM488 576.5h1v13.17h-1zM519 576.5h1v13.17h-1zM923 576.5h1v13.17h-1zM931 576.5h4v13.17h-4zM949 576.5h3v13.17h-3zM965 576.5h1v13.17h-1zM1016 576.5h2v13.17h-2zM1029 576.5h2v13.17h-2zM1067 576.5h4v13.17h-4zM1107 576.5h1v13.17h-1zM229 589.7h1v13.17h-1zM238 589.7h1v13.17h-1zM240 589.7h2v13.17h-2zM246 589.7h1v13.17h-1zM253 589.7h1v13.17h-1zM290 589.7h1v13.17h-1zM305 589.7h1v13.17h-1zM311 589.7h2v13.17h-2zM320 589.7h3v13.17h-3zM384 589.7h1v13.17h-1zM387 589.7h1v13.17h-1zM422 589.7h1v13.17h-1zM449 589.7h2v13.17h-2zM544 589.7h2v13.17h-2zM552 589.7h2v13.17h-2zM565 589.7h2v13.17h-2zM583 589.7h1v13.17h-1zM590 589.7h1v13.17h-1zM614 589.7h1v13.17h-1zM631 589.7h1v13.17h-1zM924 589.7h2v13.17h-2zM930 589.7h1v13.17h-1zM941 589.7h1v13.17h-1zM956 589.7h2v13.17h-2zM1055 589.7h1v13.17h-1zM1061 589.7h1v13.17h-1zM1073 589.7h1v13.17h-1z"/>
<path fill="#e1ecf6" d="M209 62.9h1v13.17h-1zM213 62.9h2v13.17h-2zM371 62.9h2v13.17h-2zM192 76.1h1v13.17h-1zM296 76.1h2v13.17h-2zM300 76.1h1v13.17h-1zM314 76.1h1v13.17h-1zM317 76.1h2v13.17h-2zM332 76.1h1v13.17h-1zM352 76.1h2v13.17h-2zM361 76.1h2v13.17h-2zM386 76.1h1v13.17h-1zM499 76.1h1v13.17h-1zM514 76.1h1v13.17h-1zM516 76.1h1v13.17h-1zM535 76.1h3v13.17h-3zM552 76.1h1v13.17h-1zM568 76.1h2v13.17h-2zM588 76.1h1v13.17h-1zM590 76.1h1v13.17h-1zM594 76.1h3v13.17h-3zM599 76.1h1v13.17h-1zM605 76.1h2v13.17h-2zM611 76.1h1v13.17h-1zM630 76.1h1v13.17h-1zM908 76.1h2v13.17h-2zM919 76.1h1v13.17h-1zM226 89.2h1v13.17h-1zM336 89.2h1v13.17h-1zM374 89.2h1v13.17h-1zM376 89.2h1v13.17h-1zM380 89.2h1v13.17h-1zM907 89.2h3v13.17h-3zM912 89.2h1v13.17h-1zM914 89.2h2v13.17h-2zM1020 89.2h1v13.17h-1zM1049 89.2h2v13.17h-2zM1151 89.2h1v13.17h-1zM252 102.4h1v13.17h-1zM301 102.4h2v13.17h-2zM313 102.4h1v13.17h-1zM341 102.4h2v13.17h-2zM357 102.4h1v13.17h-1zM362 102.4h1v13.17h-1zM424 102.4h2v13.17h-2zM442 102.4h1v13.17h-1zM464 102.4h1v13.17h-1zM468 102.4h1v13.17h-1zM471 102.4h1v13.17h-1zM522 102.4h1v13.17h-1zM534 102.4h2v13.17h-2zM540 102.4h2v13.17h-2zM907 102.4h1v13.17h-1zM909 102.4h1v13.17h-1zM912 102.4h2v13.17h-2zM917 102.4h1v13.17h-1zM280 115.6h1v13.17h-1zM617 115.6h1v13.17h-1zM198 128.8h1v13.17h-1zM203 128.8h1v13.17h-1zM371 128.8h1v13.17h-1zM1018 128.8h2v13.17h-2zM1026 128.8h2v13.17h-2zM185 155.1h2v13.17h-2zM216 155.1h2v13.17h-2zM219 155.1h1v13.17h-1zM230 155.1h1v13.17h-1zM241 155.1h2v13.17h-2zM257 155.1h1v13.17h-1zM279 155.1h1v13.17h-1zM292 155.1h1v13.17h-1zM299 155.1h1v13.17h-1zM309 155.1h2v13.17h-2zM316 155.1h1v13.17h-1zM322 155.1h1v13.17h-1zM336 155.1h1v13.17h-1zM498 155.1h1v13.17h-1zM570 155.1h2v13.17h-2zM615 155.1h1v13.17h-1zM630 155.1h1v13.17h-1zM645 155.1h1v13.17h-1zM663 155.1h2v13.17h-2zM746 155.1h1v13.17h-1zM910 155.1h2v13.17h-2zM946 155.1h1v13.17h-1zM1055 155.1h1v13.17h-1zM1086 155.1h1v13.17h-1zM1098 155.1h2v13.17h-2zM1115 155.1h2v13.17h-2zM1124 155.1h1v13.17h-1zM184 168.3h2v13.17h-2zM209 168.3h2v13.17h-2zM273 168.3h1v13.17h-1zM289 168.3h1v13.17h-1zM292 168.3h1v13.17h-1zM296 168.3h2v13.17h-2zM418 168.3h2v13.17h-2zM513 168.3h1v13.17h-1zM996 168.3h1v13.17h-1zM1019 168.3h1v13.17h-1zM1039 168.3h1v13.17h-1zM184 181.4h1v13.17h-1zM229 181.4h1v13.17h-1zM256 181.4h1v13.17h-1zM261 181.4h1v13.17h-1zM274 181.4h2v13.17h-2zM289 181.4h3v13.17h-3zM295 181.4h1v13.17h-1zM418 181.4h2v13.17h-2zM421 181.4h1v13.17h-1zM996 181.4h1v13.17h-1zM1145 181.4h1v13.17h-1zM499 194.6h1v13.17h-1zM551 207.8h1v13.17h-1zM306 220.9h1v13.17h-1zM572 234.1h1v13.17h-1zM649 234.1h1v13.17h-1zM710 260.4h1v13.17h-1zM635 286.8h1v13.17h-1zM659 286.8h1v13.17h-1zM663 286.8h1v13.17h-1zM942 286.8h2v13.17h-2zM741 313.1h1v13.17h-1zM184 326.3h1v13.17h-1zM768 326.3h2v13.17h-2zM775 326.3h1v13.17h-1zM651 339.5h1v13.17h-1zM365 352.6h1v13.17h-1zM652 352.6h1v13.17h-1zM815 352.6h1v13.17h-1zM819 352.6h1v13.17h-1zM838 352.6h1v13.17h-1zM757 365.8h1v13.17h-1zM221 379.0h1v13.17h-1zM447 379.0h1v13.17h-1zM686 392.1h1v13.17h-1zM700 392.1h1v13.17h-1zM710 392.1h1v13.17h-1zM718 392.1h1v13.17h-1zM725 392.1h1v13.17h-1zM824 392.1h1v13.17h-1zM634 405.3h4v13.17h-4zM692 405.3h1v13.17h-1zM710 405.3h1v13.17h-1zM713 405.3h1v13.17h-1zM725 405.3h1v13.17h-1zM728 405.3h1v13.17h-1zM753 405.3h1v13.17h-1zM645 418.5h1v13.17h-1zM648 418.5h2v13.17h-2zM664 418.5h2v13.17h-2zM679 418.5h1v13.17h-1zM799 418.5h1v13.17h-1zM889 418.5h1v13.17h-1zM899 418.5h1v13.17h-1zM902 418.5h1v13.17h-1zM212 444.8h2v13.17h-2zM219 444.8h1v13.17h-1zM222 444.8h1v13.17h-1zM224 444.8h1v13.17h-1zM989 444.8h1v13.17h-1zM992 444.8h1v13.17h-1zM998 444.8h1v13.17h-1zM738 458.0h1v13.17h-1zM741 471.2h1v13.17h-1zM329 510.7h1v13.17h-1zM707 510.7h1v13.17h-1zM900 523.9h1v13.17h-1zM210 537.0h1v13.17h-1zM633 537.0h1v13.17h-1zM844 537.0h2v13.17h-2zM1024 537.0h1v13.17h-1zM1030 537.0h1v13.17h-1zM1039 537.0h1v13.17h-1zM1155 537.0h1v13.17h-1zM232 550.2h1v13.17h-1zM514 550.2h1v13.17h-1zM517 550.2h1v13.17h-1zM887 550.2h1v13.17h-1zM911 550.2h1v13.17h-1zM926 550.2h1v13.17h-1zM929 550.2h2v13.17h-2zM932 550.2h2v13.17h-2zM1095 550.2h1v13.17h-1zM1142 550.2h1v13.17h-1zM1156 550.2h1v13.17h-1zM903 563.4h1v13.17h-1zM210 576.5h2v13.17h-2zM217 576.5h2v13.17h-2zM226 576.5h2v13.17h-2zM285 576.5h2v13.17h-2zM383 576.5h1v13.17h-1zM484 576.5h2v13.17h-2zM498 576.5h1v13.17h-1zM941 576.5h1v13.17h-1zM948 576.5h1v13.17h-1zM1010 576.5h1v13.17h-1zM1042 576.5h2v13.17h-2zM1057 576.5h1v13.17h-1zM1059 576.5h1v13.17h-1zM1065 576.5h2v13.17h-2zM274 589.7h1v13.17h-1zM296 589.7h1v13.17h-1zM300 589.7h1v13.17h-1zM376 589.7h1v13.17h-1zM432 589.7h1v13.17h-1zM440 589.7h2v13.17h-2zM503 589.7h1v13.17h-1zM516 589.7h2v13.17h-2zM524 589.7h1v13.17h-1zM538 589.7h3v13.17h-3zM563 589.7h1v13.17h-1zM574 589.7h1v13.17h-1zM593 589.7h1v13.17h-1zM918 589.7h3v13.17h-3zM944 589.7h1v13.17h-1zM1035 589.7h1v13.17h-1zM1070 589.7h2v13.17h-2z"/>
<path fill="#e9f1f9" d="M210 62.9h2v13.17h-2zM231 62.9h2v13.17h-2zM245 62.9h1v13.17h-1zM265 62.9h1v13.17h-1zM267 62.9h2v13.17h-2zM271 62.9h2v13.17h-2zM281 62.9h1v13.17h-1zM290 62.9h1v13.17h-1zM299 62.9h3v13.17h-3zM308 62.9h1v13.17h-1zM387 62.9h2v13.17h-2zM520 62.9h1v13.17h-1zM529 62.9h1v13.17h-1zM546 62.9h2v13.17h-2zM359 76.1h1v13.17h-1zM391 76.1h1v13.17h-1zM397 76.1h2v13.17h-2zM447 76.1h1v13.17h-1zM449 76.1h1v13.17h-1zM453 76.1h3v13.17h-3zM563 76.1h2v13.17h-2zM587 76.1h1v13.17h-1zM600 76.1h1v13.17h-1zM613 76.1h2v13.17h-2zM618 76.1h1v13.17h-1zM662 76.1h1v13.17h-1zM931 76.1h2v13.17h-2zM948 76.1h2v13.17h-2zM955 76.1h1v13.17h-1zM961 76.1h2v13.17h-2zM966 76.1h1v13.17h-1zM990 76.1h2v13.17h-2zM997 76.1h2v13.17h-2zM1002 76.1h2v13.17h-2zM1011 76.1h2v13.17h-2zM1019 76.1h2v13.17h-2zM1153 76.1h2v13.17h-2zM179 89.2h1v13.17h-1zM235 89.2h1v13.17h-1zM238 89.2h1v13.17h-1zM409 89.2h1v13.17h-1zM420 89.2h3v13.17h-3zM464 89.2h1v13.17h-1zM470 89.2h2v13.17h-2zM506 89.2h1v13.17h-1zM518 89.2h1v13.17h-1zM523 89.2h3v13.17h-3zM527 89.2h1v13.17h-1zM928 89.2h2v13.17h-2zM949 89.2h1v13.17h-1zM955 89.2h3v13.17h-3zM1053 89.2h2v13.17h-2zM1064 89.2h1v13.17h-1zM1077 89.2h2v13.17h-2zM1098 89.2h1v13.17h-1zM316 102.4h2v13.17h-2zM328 102.4h1v13.17h-1zM338 102.4h2v13.17h-2zM344 102.4h1v13.17h-1zM349 102.4h1v13.17h-1zM365 102.4h1v13.17h-1zM398 102.4h1v13.17h-1zM443 102.4h1v13.17h-1zM449 102.4h1v13.17h-1zM456 102.4h1v13.17h-1zM461 102.4h1v13.17h-1zM473 102.4h2v13.17h-2zM485 102.4h1v13.17h-1zM499 102.4h1v13.17h-1zM501 102.4h2v13.17h-2zM530 102.4h1v13.17h-1zM548 102.4h1v13.17h-1zM565 102.4h1v13.17h-1zM567 102.4h3v13.17h-3zM574 102.4h1v13.17h-1zM585 102.4h2v13.17h-2zM589 102.4h1v13.17h-1zM593 102.4h1v13.17h-1zM627 102.4h2v13.17h-2zM650 102.4h2v13.17h-2zM653 102.4h2v13.17h-2zM665 102.4h2v13.17h-2zM956 102.4h3v13.17h-3zM990 102.4h2v13.17h-2zM993 102.4h1v13.17h-1zM995 102.4h1v13.17h-1zM1000 102.4h1v13.17h-1zM1015 102.4h2v13.17h-2zM263 115.6h1v13.17h-1zM278 115.6h2v13.17h-2zM291 115.6h1v13.17h-1zM293 115.6h1v13.17h-1zM305 115.6h1v13.17h-1zM307 115.6h1v13.17h-1zM316 115.6h1v13.17h-1zM321 115.6h1v13.17h-1zM332 115.6h2v13.17h-2zM212 128.8h1v13.17h-1zM218 128.8h1v13.17h-1zM229 128.8h1v13.17h-1zM243 128.8h1v13.17h-1zM246 128.8h1v13.17h-1zM248 128.8h2v13.17h-2zM263 128.8h1v13.17h-1zM468 128.8h1v13.17h-1zM474 128.8h1v13.17h-1zM516 128.8h1v13.17h-1zM523 128.8h1v13.17h-1zM527 128.8h1v13.17h-1zM532 128.8h1v13.17h-1zM541 128.8h1v13.17h-1zM543 128.8h1v13.17h-1zM655 128.8h1v13.17h-1zM659 128.8h1v13.17h-1zM1001 128.8h2v13.17h-2zM1013 128.8h2v13.17h-2zM1044 128.8h1v13.17h-1zM1066 128.8h2v13.17h-2zM1072 128.8h2v13.17h-2zM1077 128.8h2v13.17h-2zM1086 128.8h2v13.17h-2zM366 155.1h1v13.17h-1zM393 155.1h1v13.17h-1zM642 155.1h2v13.17h-2zM650 155.1h1v13.17h-1zM671 155.1h2v13.17h-2zM674 155.1h1v13.17h-1zM714 155.1h1v13.17h-1zM718 155.1h1v13.17h-1zM729 155.1h1v13.17h-1zM755 155.1h2v13.17h-2zM919 155.1h1v13.17h-1zM925 155.1h3v13.17h-3zM953 155.1h1v13.17h-1zM963 155.1h2v13.17h-2zM974 155.1h1v13.17h-1zM981 155.1h1v13.17h-1zM985 155.1h1v13.17h-1zM196 168.3h2v13.17h-2zM214 168.3h1v13.17h-1zM240 168.3h1v13.17h-1zM247 168.3h1v13.17h-1zM251 168.3h1v13.17h-1zM254 168.3h2v13.17h-2zM266 168.3h1v13.17h-1zM270 168.3h1v13.17h-1zM278 168.3h1v13.17h-1zM290 168.3h1v13.17h-1zM293 168.3h1v13.17h-1zM317 168.3h2v13.17h-2zM320 168.3h2v13.17h-2zM327 168.3h3v13.17h-3zM339 168.3h1v13.17h-1zM425 168.3h2v13.17h-2zM553 168.3h2v13.17h-2zM573 168.3h1v13.17h-1zM592 168.3h1v13.17h-1zM599 168.3h1v13.17h-1zM616 168.3h1v13.17h-1zM619 168.3h1v13.17h-1zM630 168.3h1v13.17h-1zM661 168.3h3v13.17h-3zM667 168.3h1v13.17h-1zM907 168.3h2v13.17h-2zM913 168.3h1v13.17h-1zM925 168.3h1v13.17h-1zM932 168.3h2v13.17h-2zM940 168.3h1v13.17h-1zM1004 168.3h1v13.17h-1zM1010 168.3h1v13.17h-1zM1015 168.3h1v13.17h-1zM1036 168.3h1v13.17h-1zM1050 168.3h1v13.17h-1zM1065 168.3h2v13.17h-2zM1104 168.3h1v13.17h-1zM1107 168.3h1v13.17h-1zM1110 168.3h3v13.17h-3zM1122 168.3h2v13.17h-2zM1159 168.3h1v13.17h-1zM187 181.4h1v13.17h-1zM239 181.4h1v13.17h-1zM264 181.4h1v13.17h-1zM271 181.4h1v13.17h-1zM282 181.4h1v13.17h-1zM293 181.4h1v13.17h-1zM297 181.4h1v13.17h-1zM312 181.4h1v13.17h-1zM326 181.4h1v13.17h-1zM336 181.4h3v13.17h-3zM348 181.4h1v13.17h-1zM361 181.4h1v13.17h-1zM366 181.4h2v13.17h-2zM425 181.4h1v13.17h-1zM663 181.4h1v13.17h-1zM909 181.4h2v13.17h-2zM936 181.4h2v13.17h-2zM945 181.4h1v13.17h-1zM997 181.4h1v13.17h-1zM1006 181.4h1v13.17h-1zM1016 181.4h2v13.17h-2zM1038 181.4h1v13.17h-1zM1069 181.4h1v13.17h-1zM1095 181.4h1v13.17h-1zM663 207.8h1v13.17h-1zM897 207.8h2v13.17h-2zM900 207.8h1v13.17h-1zM638 220.9h1v13.17h-1zM642 220.9h3v13.17h-3zM752 220.9h1v13.17h-1zM918 220.9h4v13.17h-4zM636 247.3h1v13.17h-1zM742 247.3h2v13.17h-2zM748 247.3h2v13.17h-2zM763 247.3h2v13.17h-2zM644 286.8h2v13.17h-2zM653 286.8h1v13.17h-1zM678 286.8h1v13.17h-1zM688 286.8h1v13.17h-1zM690 286.8h2v13.17h-2zM695 286.8h1v13.17h-1zM697 286.8h2v13.17h-2zM705 286.8h1v13.17h-1zM717 286.8h1v13.17h-1zM719 286.8h2v13.17h-2zM742 286.8h1v13.17h-1zM744 286.8h1v13.17h-1zM817 286.8h2v13.17h-2zM820 286.8h2v13.17h-2zM824 286.8h1v13.17h-1zM929 286.8h1v13.17h-1zM947 286.8h1v13.17h-1zM952 286.8h1v13.17h-1zM986 286.8h1v13.17h-1zM994 286.8h2v13.17h-2zM999 286.8h1v13.17h-1zM649 339.5h2v13.17h-2zM683 339.5h1v13.17h-1zM687 339.5h2v13.17h-2zM709 339.5h2v13.17h-2zM714 339.5h1v13.17h-1zM718 339.5h1v13.17h-1zM799 339.5h1v13.17h-1zM802 339.5h2v13.17h-2zM805 339.5h3v13.17h-3zM673 352.6h2v13.17h-2zM710 352.6h2v13.17h-2zM827 352.6h2v13.17h-2zM460 405.3h2v13.17h-2zM463 405.3h2v13.17h-2zM640 405.3h1v13.17h-1zM755 405.3h1v13.17h-1zM776 405.3h1v13.17h-1zM786 405.3h2v13.17h-2zM796 405.3h1v13.17h-1zM170 418.5h1v13.17h-1zM183 418.5h1v13.17h-1zM503 418.5h3v13.17h-3zM513 418.5h5v13.17h-5zM538 418.5h1v13.17h-1zM540 418.5h1v13.17h-1zM542 418.5h1v13.17h-1zM656 418.5h1v13.17h-1zM663 418.5h1v13.17h-1zM680 418.5h2v13.17h-2zM692 418.5h2v13.17h-2zM717 418.5h3v13.17h-3zM729 418.5h1v13.17h-1zM734 418.5h1v13.17h-1zM808 418.5h1v13.17h-1zM814 418.5h1v13.17h-1zM824 418.5h1v13.17h-1zM910 418.5h1v13.17h-1zM915 418.5h1v13.17h-1zM223 444.8h1v13.17h-1zM246 444.8h1v13.17h-1zM250 444.8h1v13.17h-1zM267 444.8h5v13.17h-5zM275 444.8h1v13.17h-1zM465 444.8h2v13.17h-2zM482 444.8h2v13.17h-2zM492 444.8h1v13.17h-1zM496 444.8h1v13.17h-1zM503 444.8h1v13.17h-1zM506 444.8h1v13.17h-1zM511 444.8h1v13.17h-1zM516 444.8h1v13.17h-1zM518 444.8h1v13.17h-1zM531 444.8h1v13.17h-1zM666 444.8h2v13.17h-2zM680 444.8h1v13.17h-1zM687 444.8h1v13.17h-1zM694 444.8h2v13.17h-2zM702 444.8h2v13.17h-2zM710 444.8h1v13.17h-1zM748 444.8h1v13.17h-1zM754 444.8h2v13.17h-2zM759 444.8h1v13.17h-1zM1000 444.8h1v13.17h-1zM1007 444.8h1v13.17h-1zM739 458.0h2v13.17h-2zM746 458.0h1v13.17h-1zM750 458.0h1v13.17h-1zM894 458.0h1v13.17h-1zM195 537.0h1v13.17h-1zM198 537.0h1v13.17h-1zM211 537.0h1v13.17h-1zM214 537.0h1v13.17h-1zM218 537.0h1v13.17h-1zM235 537.0h1v13.17h-1zM459 537.0h1v13.17h-1zM464 537.0h1v13.17h-1zM472 537.0h1v13.17h-1zM474 537.0h1v13.17h-1zM654 537.0h1v13.17h-1zM659 537.0h1v13.17h-1zM665 537.0h1v13.17h-1zM672 537.0h1v13.17h-1zM676 537.0h1v13.17h-1zM683 537.0h1v13.17h-1zM688 537.0h1v13.17h-1zM875 537.0h1v13.17h-1zM1021 537.0h1v13.17h-1zM1043 537.0h1v13.17h-1zM1059 537.0h1v13.17h-1zM1064 537.0h1v13.17h-1zM1075 537.0h1v13.17h-1zM1077 537.0h2v13.17h-2zM1094 537.0h1v13.17h-1zM1096 537.0h1v13.17h-1zM1101 537.0h2v13.17h-2zM1105 537.0h1v13.17h-1zM1117 537.0h3v13.17h-3zM512 550.2h1v13.17h-1zM523 550.2h1v13.17h-1zM544 550.2h1v13.17h-1zM576 550.2h1v13.17h-1zM583 550.2h2v13.17h-2zM586 550.2h2v13.17h-2zM664 550.2h1v13.17h-1zM691 550.2h1v13.17h-1zM726 550.2h1v13.17h-1zM738 550.2h1v13.17h-1zM891 550.2h2v13.17h-2zM895 550.2h1v13.17h-1zM908 550.2h2v13.17h-2zM916 550.2h1v13.17h-1zM919 550.2h1v13.17h-1zM946 550.2h3v13.17h-3zM953 550.2h2v13.17h-2zM960 550.2h1v13.17h-1zM981 550.2h1v13.17h-1zM985 550.2h1v13.17h-1zM186 576.5h1v13.17h-1zM191 576.5h1v13.17h-1zM242 576.5h1v13.17h-1zM287 576.5h1v13.17h-1zM297 576.5h1v13.17h-1zM314 576.5h1v13.17h-1zM321 576.5h1v13.17h-1zM325 576.5h1v13.17h-1zM398 576.5h1v13.17h-1zM423 576.5h1v13.17h-1zM444 576.5h2v13.17h-2zM451 576.5h1v13.17h-1zM501 576.5h1v13.17h-1zM504 576.5h1v13.17h-1zM515 576.5h4v13.17h-4zM530 576.5h1v13.17h-1zM534 576.5h1v13.17h-1zM547 576.5h1v13.17h-1zM550 576.5h1v13.17h-1zM559 576.5h2v13.17h-2zM571 576.5h1v13.17h-1zM939 576.5h1v13.17h-1zM970 576.5h2v13.17h-2zM977 576.5h1v13.17h-1zM1031 576.5h2v13.17h-2zM1037 576.5h1v13.17h-1zM1049 576.5h1v13.17h-1zM1081 576.5h2v13.17h-2zM1086 576.5h1v13.17h-1zM1094 576.5h1v13.17h-1zM1096 576.5h1v13.17h-1zM1102 576.5h1v13.17h-1zM1105 576.5h1v13.17h-1zM1114 576.5h1v13.17h-1zM192 589.7h2v13.17h-2zM236 589.7h1v13.17h-1zM243 589.7h1v13.17h-1zM299 589.7h1v13.17h-1zM336 589.7h1v13.17h-1zM343 589.7h1v13.17h-1zM347 589.7h2v13.17h-2zM438 589.7h1v13.17h-1zM457 589.7h1v13.17h-1zM556 589.7h2v13.17h-2zM576 589.7h1v13.17h-1zM600 589.7h1v13.17h-1zM609 589.7h3v13.17h-3zM617 589.7h2v13.17h-2zM623 589.7h1v13.17h-1zM629 589.7h2v13.17h-2zM640 589.7h2v13.17h-2zM649 589.7h2v13.17h-2zM962 589.7h2v13.17h-2zM1045 589.7h1v13.17h-1zM1069 589.7h1v13.17h-1zM1074 589.7h2v13.17h-2zM1079 589.7h1v13.17h-1zM1082 589.7h1v13.17h-1zM1085 589.7h2v13.17h-2zM1096 589.7h1v13.17h-1zM1108 589.7h1v13.17h-1zM1118 589.7h2v13.17h-2zM1123 589.7h1v13.17h-1z"/>
<path fill="#e8f0f9" d="M217 62.9h2v13.17h-2zM222 62.9h2v13.17h-2zM227 62.9h2v13.17h-2zM277 62.9h1v13.17h-1zM282 62.9h3v13.17h-3zM473 62.9h1v13.17h-1zM512 62.9h1v13.17h-1zM516 62.9h2v13.17h-2zM524 62.9h5v13.17h-5zM530 62.9h1v13.17h-1zM355 76.1h1v13.17h-1zM363 76.1h2v13.17h-2zM369 76.1h1v13.17h-1zM392 76.1h2v13.17h-2zM547 76.1h2v13.17h-2zM551 76.1h1v13.17h-1zM567 76.1h1v13.17h-1zM572 76.1h1v13.17h-1zM603 76.1h2v13.17h-2zM615 76.1h2v13.17h-2zM620 76.1h2v13.17h-2zM918 76.1h1v13.17h-1zM927 76.1h1v13.17h-1zM936 76.1h2v13.17h-2zM950 76.1h1v13.17h-1zM954 76.1h1v13.17h-1zM996 76.1h1v13.17h-1zM1000 76.1h1v13.17h-1zM1151 76.1h1v13.17h-1zM175 89.2h1v13.17h-1zM230 89.2h2v13.17h-2zM245 89.2h3v13.17h-3zM375 89.2h1v13.17h-1zM397 89.2h1v13.17h-1zM406 89.2h1v13.17h-1zM408 89.2h1v13.17h-1zM415 89.2h1v13.17h-1zM468 89.2h1v13.17h-1zM507 89.2h2v13.17h-2zM913 89.2h1v13.17h-1zM917 89.2h1v13.17h-1zM940 89.2h1v13.17h-1zM944 89.2h1v13.17h-1zM947 89.2h2v13.17h-2zM952 89.2h1v13.17h-1zM960 89.2h2v13.17h-2zM1023 89.2h2v13.17h-2zM1030 89.2h1v13.17h-1zM1069 89.2h1v13.17h-1zM1075 89.2h2v13.17h-2zM1101 89.2h2v13.17h-2zM1148 89.2h1v13.17h-1zM326 102.4h2v13.17h-2zM345 102.4h1v13.17h-1zM426 102.4h2v13.17h-2zM434 102.4h1v13.17h-1zM437 102.4h1v13.17h-1zM472 102.4h1v13.17h-1zM476 102.4h1v13.17h-1zM480 102.4h1v13.17h-1zM521 102.4h1v13.17h-1zM564 102.4h1v13.17h-1zM583 102.4h1v13.17h-1zM594 102.4h1v13.17h-1zM596 102.4h1v13.17h-1zM598 102.4h1v13.17h-1zM601 102.4h1v13.17h-1zM617 102.4h2v13.17h-2zM660 102.4h1v13.17h-1zM908 102.4h1v13.17h-1zM915 102.4h1v13.17h-1zM929 102.4h2v13.17h-2zM949 102.4h2v13.17h-2zM953 102.4h1v13.17h-1zM1144 102.4h1v13.17h-1zM1154 102.4h1v13.17h-1zM1159 102.4h1v13.17h-1zM298 115.6h1v13.17h-1zM303 115.6h1v13.17h-1zM315 115.6h1v13.17h-1zM318 115.6h1v13.17h-1zM195 128.8h1v13.17h-1zM204 128.8h1v13.17h-1zM213 128.8h1v13.17h-1zM226 128.8h1v13.17h-1zM235 128.8h1v13.17h-1zM244 128.8h1v13.17h-1zM255 128.8h3v13.17h-3zM259 128.8h1v13.17h-1zM264 128.8h2v13.17h-2zM274 128.8h1v13.17h-1zM279 128.8h4v13.17h-4zM285 128.8h1v13.17h-1zM372 128.8h1v13.17h-1zM390 128.8h1v13.17h-1zM428 128.8h2v13.17h-2zM435 128.8h2v13.17h-2zM467 128.8h1v13.17h-1zM475 128.8h1v13.17h-1zM477 128.8h2v13.17h-2zM511 128.8h1v13.17h-1zM518 128.8h1v13.17h-1zM524 128.8h1v13.17h-1zM537 128.8h1v13.17h-1zM553 128.8h1v13.17h-1zM650 128.8h1v13.17h-1zM994 128.8h1v13.17h-1zM1006 128.8h1v13.17h-1zM1023 128.8h1v13.17h-1zM1031 128.8h1v13.17h-1zM1050 128.8h2v13.17h-2zM1068 128.8h1v13.17h-1zM1089 128.8h1v13.17h-1zM1101 128.8h2v13.17h-2zM1107 128.8h2v13.17h-2zM1137 128.8h2v13.17h-2zM1141 128.8h1v13.17h-1zM1157 128.8h1v13.17h-1zM325 155.1h1v13.17h-1zM348 155.1h1v13.17h-1zM367 155.1h1v13.17h-1zM388 155.1h2v13.17h-2zM394 155.1h1v13.17h-1zM617 155.1h1v13.17h-1zM639 155.1h1v13.17h-1zM666 155.1h1v13.17h-1zM677 155.1h1v13.17h-1zM684 155.1h1v13.17h-1zM687 155.1h1v13.17h-1zM690 155.1h2v13.17h-2zM717 155.1h1v13.17h-1zM719 155.1h1v13.17h-1zM752 155.1h1v13.17h-1zM933 155.1h2v13.17h-2zM939 155.1h3v13.17h-3zM944 155.1h1v13.17h-1zM950 155.1h2v13.17h-2zM226 168.3h3v13.17h-3zM233 168.3h1v13.17h-1zM235 168.3h1v13.17h-1zM262 168.3h1v13.17h-1zM264 168.3h2v13.17h-2zM268 168.3h1v13.17h-1zM272 168.3h1v13.17h-1zM274 168.3h1v13.17h-1zM288 168.3h1v13.17h-1zM294 168.3h1v13.17h-1zM315 168.3h1v13.17h-1zM354 168.3h1v13.17h-1zM380 168.3h1v13.17h-1zM416 168.3h1v13.17h-1zM422 168.3h1v13.17h-1zM540 168.3h2v13.17h-2zM568 168.3h1v13.17h-1zM577 168.3h1v13.17h-1zM595 168.3h2v13.17h-2zM606 168.3h2v13.17h-2zM625 168.3h1v13.17h-1zM658 168.3h2v13.17h-2zM911 168.3h1v13.17h-1zM917 168.3h2v13.17h-2zM921 168.3h3v13.17h-3zM927 168.3h1v13.17h-1zM929 168.3h1v13.17h-1zM938 168.3h1v13.17h-1zM994 168.3h2v13.17h-2zM1012 168.3h2v13.17h-2zM1017 168.3h2v13.17h-2zM1034 168.3h1v13.17h-1zM1042 168.3h2v13.17h-2zM1075 168.3h1v13.17h-1zM1078 168.3h1v13.17h-1zM231 181.4h1v13.17h-1zM235 181.4h2v13.17h-2zM248 181.4h1v13.17h-1zM259 181.4h1v13.17h-1zM283 181.4h1v13.17h-1zM286 181.4h1v13.17h-1zM288 181.4h1v13.17h-1zM308 181.4h2v13.17h-2zM314 181.4h1v13.17h-1zM339 181.4h2v13.17h-2zM342 181.4h1v13.17h-1zM349 181.4h2v13.17h-2zM653 181.4h2v13.17h-2zM656 181.4h1v13.17h-1zM914 181.4h1v13.17h-1zM916 181.4h2v13.17h-2zM919 181.4h2v13.17h-2zM924 181.4h1v13.17h-1zM930 181.4h1v13.17h-1zM1003 181.4h1v13.17h-1zM1013 181.4h2v13.17h-2zM1018 181.4h1v13.17h-1zM1031 181.4h2v13.17h-2zM1039 181.4h2v13.17h-2zM652 207.8h3v13.17h-3zM635 220.9h1v13.17h-1zM755 220.9h1v13.17h-1zM913 220.9h1v13.17h-1zM915 220.9h1v13.17h-1zM634 247.3h1v13.17h-1zM638 247.3h1v13.17h-1zM760 247.3h1v13.17h-1zM767 247.3h1v13.17h-1zM769 247.3h2v13.17h-2zM772 247.3h2v13.17h-2zM634 286.8h1v13.17h-1zM641 286.8h1v13.17h-1zM656 286.8h2v13.17h-2zM666 286.8h2v13.17h-2zM683 286.8h2v13.17h-2zM694 286.8h1v13.17h-1zM701 286.8h1v13.17h-1zM743 286.8h1v13.17h-1zM745 286.8h2v13.17h-2zM748 286.8h2v13.17h-2zM815 286.8h1v13.17h-1zM936 286.8h2v13.17h-2zM939 286.8h1v13.17h-1zM960 286.8h1v13.17h-1zM967 286.8h1v13.17h-1zM970 286.8h2v13.17h-2zM977 286.8h3v13.17h-3zM988 286.8h2v13.17h-2zM774 326.3h1v13.17h-1zM776 326.3h2v13.17h-2zM654 339.5h1v13.17h-1zM677 339.5h1v13.17h-1zM680 339.5h1v13.17h-1zM690 339.5h1v13.17h-1zM692 339.5h1v13.17h-1zM703 339.5h2v13.17h-2zM706 339.5h2v13.17h-2zM798 339.5h1v13.17h-1zM800 339.5h1v13.17h-1zM650 352.6h1v13.17h-1zM662 352.6h6v13.17h-6zM686 352.6h1v13.17h-1zM693 352.6h1v13.17h-1zM700 352.6h1v13.17h-1zM703 352.6h1v13.17h-1zM830 352.6h1v13.17h-1zM708 392.1h1v13.17h-1zM713 392.1h1v13.17h-1zM719 392.1h1v13.17h-1zM732 392.1h2v13.17h-2zM736 392.1h1v13.17h-1zM739 392.1h1v13.17h-1zM448 405.3h1v13.17h-1zM454 405.3h1v13.17h-1zM469 405.3h1v13.17h-1zM639 405.3h1v13.17h-1zM734 405.3h2v13.17h-2zM767 405.3h2v13.17h-2zM783 405.3h2v13.17h-2zM794 405.3h1v13.17h-1zM799 405.3h1v13.17h-1zM501 418.5h2v13.17h-2zM518 418.5h1v13.17h-1zM521 418.5h1v13.17h-1zM662 418.5h1v13.17h-1zM708 418.5h1v13.17h-1zM912 418.5h3v13.17h-3zM917 418.5h2v13.17h-2zM920 418.5h2v13.17h-2zM924 418.5h1v13.17h-1zM928 418.5h1v13.17h-1zM930 418.5h3v13.17h-3zM207 444.8h1v13.17h-1zM209 444.8h1v13.17h-1zM245 444.8h1v13.17h-1zM252 444.8h1v13.17h-1zM446 444.8h2v13.17h-2zM478 444.8h2v13.17h-2zM500 444.8h2v13.17h-2zM641 444.8h2v13.17h-2zM648 444.8h1v13.17h-1zM652 444.8h1v13.17h-1zM665 444.8h1v13.17h-1zM671 444.8h2v13.17h-2zM675 444.8h1v13.17h-1zM816 444.8h2v13.17h-2zM986 444.8h1v13.17h-1zM641 510.7h1v13.17h-1zM189 537.0h1v13.17h-1zM192 537.0h1v13.17h-1zM200 537.0h2v13.17h-2zM231 537.0h1v13.17h-1zM244 537.0h2v13.17h-2zM248 537.0h2v13.17h-2zM456 537.0h1v13.17h-1zM462 537.0h2v13.17h-2zM670 537.0h1v13.17h-1zM678 537.0h1v13.17h-1zM876 537.0h3v13.17h-3zM1003 537.0h1v13.17h-1zM1014 537.0h1v13.17h-1zM1033 537.0h1v13.17h-1zM1046 537.0h2v13.17h-2zM1056 537.0h1v13.17h-1zM1070 537.0h2v13.17h-2zM1082 537.0h1v13.17h-1zM1085 537.0h1v13.17h-1zM1098 537.0h2v13.17h-2zM1112 537.0h2v13.17h-2zM456 550.2h1v13.17h-1zM515 550.2h2v13.17h-2zM518 550.2h1v13.17h-1zM534 550.2h2v13.17h-2zM548 550.2h3v13.17h-3zM564 550.2h1v13.17h-1zM569 550.2h2v13.17h-2zM676 550.2h2v13.17h-2zM685 550.2h3v13.17h-3zM693 550.2h1v13.17h-1zM731 550.2h2v13.17h-2zM737 550.2h1v13.17h-1zM910 550.2h1v13.17h-1zM940 550.2h1v13.17h-1zM943 550.2h1v13.17h-1zM950 550.2h2v13.17h-2zM188 576.5h1v13.17h-1zM229 576.5h1v13.17h-1zM252 576.5h1v13.17h-1zM294 576.5h1v13.17h-1zM298 576.5h2v13.17h-2zM311 576.5h1v13.17h-1zM416 576.5h1v13.17h-1zM419 576.5h1v13.17h-1zM424 576.5h2v13.17h-2zM471 576.5h1v13.17h-1zM483 576.5h1v13.17h-1zM486 576.5h1v13.17h-1zM496 576.5h2v13.17h-2zM538 576.5h2v13.17h-2zM542 576.5h2v13.17h-2zM549 576.5h1v13.17h-1zM557 576.5h1v13.17h-1zM952 576.5h2v13.17h-2zM957 576.5h1v13.17h-1zM960 576.5h1v13.17h-1zM962 576.5h1v13.17h-1zM972 576.5h2v13.17h-2zM1022 576.5h1v13.17h-1zM1033 576.5h1v13.17h-1zM1036 576.5h1v13.17h-1zM1046 576.5h1v13.17h-1zM1071 576.5h1v13.17h-1zM1108 576.5h2v13.17h-2zM1117 576.5h1v13.17h-1zM1131 576.5h1v13.17h-1zM323 589.7h1v13.17h-1zM327 589.7h1v13.17h-1zM329 589.7h2v13.17h-2zM442 589.7h1v13.17h-1zM452 589.7h1v13.17h-1zM458 589.7h1v13.17h-1zM547 589.7h1v13.17h-1zM564 589.7h1v13.17h-1zM572 589.7h1v13.17h-1zM575 589.7h1v13.17h-1zM582 589.7h1v13.17h-1zM613 589.7h1v13.17h-1zM615 589.7h1v13.17h-1zM619 589.7h3v13.17h-3zM627 589.7h2v13.17h-2zM637 589.7h2v13.17h-2zM644 589.7h1v13.17h-1zM945 589.7h1v13.17h-1zM960 589.7h2v13.17h-2zM974 589.7h1v13.17h-1zM1043 589.7h1v13.17h-1zM1076 589.7h2v13.17h-2zM1103 589.7h2v13.17h-2zM1107 589.7h1v13.17h-1zM1113 589.7h2v13.17h-2z"/>
<path fill="#e0ebf5" d="M219 62.9h2v13.17h-2zM1120 62.9h1v13.17h-1zM187 76.1h1v13.17h-1zM354 76.1h1v13.17h-1zM434 76.1h1v13.17h-1zM479 76.1h1v13.17h-1zM482 76.1h1v13.17h-1zM509 76.1h1v13.17h-1zM544 76.1h1v13.17h-1zM559 76.1h1v13.17h-1zM609 76.1h1v13.17h-1zM907 76.1h1v13.17h-1zM250 89.2h1v13.17h-1zM252 89.2h1v13.17h-1zM405 89.2h1v13.17h-1zM916 89.2h1v13.17h-1zM993 89.2h1v13.17h-1zM996 89.2h1v13.17h-1zM1150 89.2h1v13.17h-1zM194 102.4h1v13.17h-1zM273 102.4h2v13.17h-2zM282 102.4h1v13.17h-1zM320 102.4h1v13.17h-1zM333 102.4h1v13.17h-1zM343 102.4h1v13.17h-1zM353 102.4h2v13.17h-2zM361 102.4h1v13.17h-1zM363 102.4h2v13.17h-2zM440 102.4h2v13.17h-2zM462 102.4h2v13.17h-2zM515 102.4h1v13.17h-1zM523 102.4h2v13.17h-2zM526 102.4h1v13.17h-1zM529 102.4h1v13.17h-1zM261 115.6h1v13.17h-1zM272 115.6h1v13.17h-1zM438 115.6h1v13.17h-1zM205 128.8h1v13.17h-1zM373 128.8h1v13.17h-1zM1158 128.8h1v13.17h-1zM175 155.1h1v13.17h-1zM189 155.1h1v13.17h-1zM266 155.1h1v13.17h-1zM271 155.1h1v13.17h-1zM289 155.1h2v13.17h-2zM317 155.1h2v13.17h-2zM328 155.1h1v13.17h-1zM334 155.1h1v13.17h-1zM341 155.1h2v13.17h-2zM375 155.1h1v13.17h-1zM382 155.1h1v13.17h-1zM403 155.1h1v13.17h-1zM408 155.1h1v13.17h-1zM494 155.1h1v13.17h-1zM572 155.1h1v13.17h-1zM601 155.1h1v13.17h-1zM606 155.1h1v13.17h-1zM621 155.1h1v13.17h-1zM748 155.1h1v13.17h-1zM913 155.1h1v13.17h-1zM930 155.1h1v13.17h-1zM956 155.1h1v13.17h-1zM1056 155.1h2v13.17h-2zM1066 155.1h1v13.17h-1zM191 168.3h1v13.17h-1zM206 168.3h1v13.17h-1zM269 168.3h1v13.17h-1zM376 168.3h1v13.17h-1zM406 168.3h1v13.17h-1zM515 168.3h1v13.17h-1zM521 168.3h1v13.17h-1zM523 168.3h1v13.17h-1zM534 168.3h4v13.17h-4zM539 168.3h1v13.17h-1zM556 168.3h1v13.17h-1zM574 168.3h1v13.17h-1zM1001 168.3h1v13.17h-1zM1009 168.3h1v13.17h-1zM1025 168.3h1v13.17h-1zM1153 168.3h2v13.17h-2zM232 181.4h1v13.17h-1zM284 181.4h2v13.17h-2zM497 181.4h2v13.17h-2zM785 181.4h1v13.17h-1zM998 181.4h2v13.17h-2zM1007 181.4h1v13.17h-1zM1144 181.4h1v13.17h-1zM891 207.8h2v13.17h-2zM751 220.9h1v13.17h-1zM835 220.9h1v13.17h-1zM745 247.3h1v13.17h-1zM893 247.3h1v13.17h-1zM650 286.8h1v13.17h-1zM655 286.8h1v13.17h-1zM911 286.8h1v13.17h-1zM940 286.8h1v13.17h-1zM950 286.8h1v13.17h-1zM198 300.0h1v13.17h-1zM1149 379.0h1v13.17h-1zM598 392.1h1v13.17h-1zM666 392.1h2v13.17h-2zM703 392.1h2v13.17h-2zM709 392.1h1v13.17h-1zM714 392.1h4v13.17h-4zM730 392.1h1v13.17h-1zM633 405.3h1v13.17h-1zM695 405.3h2v13.17h-2zM704 405.3h1v13.17h-1zM732 405.3h2v13.17h-2zM739 405.3h2v13.17h-2zM756 405.3h1v13.17h-1zM765 405.3h1v13.17h-1zM650 418.5h1v13.17h-1zM900 418.5h2v13.17h-2zM199 444.8h2v13.17h-2zM404 444.8h1v13.17h-1zM643 444.8h2v13.17h-2zM743 444.8h1v13.17h-1zM745 444.8h1v13.17h-1zM792 444.8h2v13.17h-2zM993 444.8h1v13.17h-1zM738 471.2h1v13.17h-1zM915 523.9h1v13.17h-1zM193 537.0h1v13.17h-1zM206 537.0h2v13.17h-2zM1146 537.0h2v13.17h-2zM1156 537.0h1v13.17h-1zM453 550.2h1v13.17h-1zM513 550.2h1v13.17h-1zM652 550.2h1v13.17h-1zM663 550.2h1v13.17h-1zM665 550.2h1v13.17h-1zM669 550.2h1v13.17h-1zM673 550.2h1v13.17h-1zM769 550.2h1v13.17h-1zM874 550.2h1v13.17h-1zM878 550.2h1v13.17h-1zM885 550.2h1v13.17h-1zM1158 550.2h2v13.17h-2zM695 563.4h1v13.17h-1zM1028 563.4h1v13.17h-1zM219 576.5h1v13.17h-1zM221 576.5h1v13.17h-1zM282 576.5h1v13.17h-1zM380 576.5h1v13.17h-1zM421 576.5h2v13.17h-2zM434 576.5h1v13.17h-1zM490 576.5h1v13.17h-1zM495 576.5h1v13.17h-1zM499 576.5h2v13.17h-2zM928 576.5h2v13.17h-2zM937 576.5h1v13.17h-1zM943 576.5h4v13.17h-4zM1013 576.5h1v13.17h-1zM1018 576.5h1v13.17h-1zM1025 576.5h2v13.17h-2zM1058 576.5h1v13.17h-1zM1060 576.5h2v13.17h-2zM298 589.7h1v13.17h-1zM307 589.7h1v13.17h-1zM383 589.7h1v13.17h-1zM417 589.7h1v13.17h-1zM479 589.7h1v13.17h-1zM499 589.7h1v13.17h-1zM513 589.7h1v13.17h-1zM519 589.7h1v13.17h-1zM533 589.7h2v13.17h-2zM554 589.7h1v13.17h-1zM580 589.7h1v13.17h-1zM937 589.7h2v13.17h-2zM940 589.7h1v13.17h-1zM1022 589.7h1v13.17h-1zM1031 589.7h1v13.17h-1zM1053 589.7h1v13.17h-1zM1058 589.7h2v13.17h-2zM1138 589.7h2v13.17h-2z"/>
<path fill="#ecf2fa" d="M221 62.9h1v13.17h-1zM247 62.9h3v13.17h-3zM255 62.9h2v13.17h-2zM279 62.9h1v13.17h-1zM289 62.9h1v13.17h-1zM291 62.9h1v13.17h-1zM313 62.9h2v13.17h-2zM319 62.9h1v13.17h-1zM322 62.9h1v13.17h-1zM324 62.9h6v13.17h-6zM331 62.9h1v13.17h-1zM380 62.9h1v13.17h-1zM384 62.9h1v13.17h-1zM386 62.9h1v13.17h-1zM396 62.9h1v13.17h-1zM468 62.9h1v13.17h-1zM483 62.9h2v13.17h-2zM488 62.9h3v13.17h-3zM502 62.9h4v13.17h-4zM507 62.9h2v13.17h-2zM514 62.9h2v13.17h-2zM522 62.9h1v13.17h-1zM534 62.9h1v13.17h-1zM558 62.9h1v13.17h-1zM566 62.9h1v13.17h-1zM570 62.9h2v13.17h-2zM574 62.9h4v13.17h-4zM580 62.9h1v13.17h-1zM908 62.9h1v13.17h-1zM387 76.1h1v13.17h-1zM452 76.1h1v13.17h-1zM610 76.1h1v13.17h-1zM658 76.1h1v13.17h-1zM663 76.1h1v13.17h-1zM666 76.1h2v13.17h-2zM672 76.1h1v13.17h-1zM684 76.1h2v13.17h-2zM688 76.1h1v13.17h-1zM920 76.1h1v13.17h-1zM928 76.1h2v13.17h-2zM953 76.1h1v13.17h-1zM967 76.1h1v13.17h-1zM976 76.1h2v13.17h-2zM979 76.1h1v13.17h-1zM983 76.1h1v13.17h-1zM986 76.1h2v13.17h-2zM1001 76.1h1v13.17h-1zM1006 76.1h2v13.17h-2zM1010 76.1h1v13.17h-1zM1018 76.1h1v13.17h-1zM1021 76.1h1v13.17h-1zM1025 76.1h1v13.17h-1zM1039 76.1h1v13.17h-1zM1041 76.1h2v13.17h-2zM1152 76.1h1v13.17h-1zM169 89.2h2v13.17h-2zM178 89.2h1v13.17h-1zM382 89.2h2v13.17h-2zM407 89.2h1v13.17h-1zM419 89.2h1v13.17h-1zM423 89.2h3v13.17h-3zM465 89.2h2v13.17h-2zM472 89.2h2v13.17h-2zM483 89.2h1v13.17h-1zM489 89.2h1v13.17h-1zM519 89.2h1v13.17h-1zM526 89.2h1v13.17h-1zM530 89.2h2v13.17h-2zM534 89.2h3v13.17h-3zM542 89.2h1v13.17h-1zM546 89.2h1v13.17h-1zM551 89.2h1v13.17h-1zM645 89.2h2v13.17h-2zM919 89.2h2v13.17h-2zM937 89.2h1v13.17h-1zM941 89.2h1v13.17h-1zM962 89.2h1v13.17h-1zM965 89.2h2v13.17h-2zM980 89.2h1v13.17h-1zM985 89.2h1v13.17h-1zM1048 89.2h1v13.17h-1zM1051 89.2h2v13.17h-2zM1073 89.2h1v13.17h-1zM1086 89.2h2v13.17h-2zM1099 89.2h1v13.17h-1zM1105 89.2h1v13.17h-1zM1111 89.2h1v13.17h-1zM1120 89.2h1v13.17h-1zM1122 89.2h1v13.17h-1zM1126 89.2h1v13.17h-1zM1154 89.2h1v13.17h-1zM360 102.4h1v13.17h-1zM367 102.4h1v13.17h-1zM394 102.4h2v13.17h-2zM446 102.4h2v13.17h-2zM450 102.4h1v13.17h-1zM454 102.4h2v13.17h-2zM457 102.4h2v13.17h-2zM484 102.4h1v13.17h-1zM488 102.4h1v13.17h-1zM500 102.4h1v13.17h-1zM580 102.4h3v13.17h-3zM602 102.4h1v13.17h-1zM616 102.4h1v13.17h-1zM621 102.4h2v13.17h-2zM663 102.4h2v13.17h-2zM678 102.4h1v13.17h-1zM680 102.4h1v13.17h-1zM686 102.4h1v13.17h-1zM918 102.4h3v13.17h-3zM926 102.4h1v13.17h-1zM932 102.4h2v13.17h-2zM937 102.4h2v13.17h-2zM952 102.4h1v13.17h-1zM959 102.4h2v13.17h-2zM962 102.4h1v13.17h-1zM969 102.4h2v13.17h-2zM985 102.4h1v13.17h-1zM997 102.4h3v13.17h-3zM1004 102.4h1v13.17h-1zM1009 102.4h2v13.17h-2zM1019 102.4h2v13.17h-2zM1022 102.4h1v13.17h-1zM1030 102.4h2v13.17h-2zM276 115.6h1v13.17h-1zM284 115.6h1v13.17h-1zM287 115.6h2v13.17h-2zM292 115.6h1v13.17h-1zM297 115.6h1v13.17h-1zM301 115.6h2v13.17h-2zM320 115.6h1v13.17h-1zM329 115.6h1v13.17h-1zM331 115.6h1v13.17h-1zM335 115.6h1v13.17h-1zM344 115.6h2v13.17h-2zM351 115.6h2v13.17h-2zM356 115.6h1v13.17h-1zM358 115.6h1v13.17h-1zM367 115.6h1v13.17h-1zM370 115.6h1v13.17h-1zM221 128.8h1v13.17h-1zM227 128.8h2v13.17h-2zM230 128.8h2v13.17h-2zM238 128.8h1v13.17h-1zM247 128.8h1v13.17h-1zM271 128.8h1v13.17h-1zM286 128.8h2v13.17h-2zM307 128.8h2v13.17h-2zM380 128.8h2v13.17h-2zM392 128.8h1v13.17h-1zM439 128.8h2v13.17h-2zM445 128.8h1v13.17h-1zM464 128.8h2v13.17h-2zM469 128.8h3v13.17h-3zM476 128.8h1v13.17h-1zM480 128.8h1v13.17h-1zM531 128.8h1v13.17h-1zM545 128.8h1v13.17h-1zM548 128.8h1v13.17h-1zM554 128.8h1v13.17h-1zM561 128.8h1v13.17h-1zM569 128.8h1v13.17h-1zM571 128.8h1v13.17h-1zM577 128.8h1v13.17h-1zM590 128.8h1v13.17h-1zM599 128.8h1v13.17h-1zM654 128.8h1v13.17h-1zM657 128.8h1v13.17h-1zM668 128.8h2v13.17h-2zM676 128.8h2v13.17h-2zM679 128.8h1v13.17h-1zM1028 128.8h1v13.17h-1zM1032 128.8h2v13.17h-2zM1041 128.8h2v13.17h-2zM1052 128.8h1v13.17h-1zM1058 128.8h2v13.17h-2zM1063 128.8h1v13.17h-1zM1070 128.8h2v13.17h-2zM1082 128.8h1v13.17h-1zM1084 128.8h1v13.17h-1zM1090 128.8h2v13.17h-2zM1113 128.8h1v13.17h-1zM1123 128.8h1v13.17h-1zM1132 128.8h1v13.17h-1zM1145 128.8h2v13.17h-2zM395 155.1h1v13.17h-1zM641 155.1h1v13.17h-1zM649 155.1h1v13.17h-1zM654 155.1h3v13.17h-3zM658 155.1h1v13.17h-1zM685 155.1h1v13.17h-1zM696 155.1h1v13.17h-1zM710 155.1h2v13.17h-2zM906 155.1h2v13.17h-2zM920 155.1h1v13.17h-1zM975 155.1h1v13.17h-1zM979 155.1h1v13.17h-1zM208 168.3h1v13.17h-1zM242 168.3h2v13.17h-2zM245 168.3h2v13.17h-2zM248 168.3h1v13.17h-1zM252 168.3h1v13.17h-1zM291 168.3h1v13.17h-1zM302 168.3h2v13.17h-2zM330 168.3h1v13.17h-1zM333 168.3h1v13.17h-1zM353 168.3h1v13.17h-1zM359 168.3h1v13.17h-1zM381 168.3h3v13.17h-3zM424 168.3h1v13.17h-1zM563 168.3h2v13.17h-2zM579 168.3h1v13.17h-1zM584 168.3h1v13.17h-1zM600 168.3h1v13.17h-1zM602 168.3h2v13.17h-2zM617 168.3h2v13.17h-2zM621 168.3h1v13.17h-1zM628 168.3h1v13.17h-1zM656 168.3h1v13.17h-1zM668 168.3h1v13.17h-1zM678 168.3h1v13.17h-1zM682 168.3h1v13.17h-1zM912 168.3h1v13.17h-1zM937 168.3h1v13.17h-1zM942 168.3h2v13.17h-2zM950 168.3h1v13.17h-1zM988 168.3h2v13.17h-2zM1020 168.3h1v13.17h-1zM1029 168.3h2v13.17h-2zM1045 168.3h1v13.17h-1zM1079 168.3h1v13.17h-1zM1086 168.3h2v13.17h-2zM1097 168.3h1v13.17h-1zM1118 168.3h2v13.17h-2zM1130 168.3h1v13.17h-1zM193 181.4h2v13.17h-2zM241 181.4h2v13.17h-2zM300 181.4h1v13.17h-1zM317 181.4h2v13.17h-2zM325 181.4h1v13.17h-1zM331 181.4h3v13.17h-3zM355 181.4h3v13.17h-3zM368 181.4h1v13.17h-1zM662 181.4h1v13.17h-1zM664 181.4h1v13.17h-1zM668 181.4h1v13.17h-1zM671 181.4h2v13.17h-2zM683 181.4h1v13.17h-1zM690 181.4h1v13.17h-1zM922 181.4h1v13.17h-1zM938 181.4h2v13.17h-2zM949 181.4h1v13.17h-1zM958 181.4h3v13.17h-3zM964 181.4h1v13.17h-1zM1024 181.4h1v13.17h-1zM1026 181.4h1v13.17h-1zM1042 181.4h2v13.17h-2zM1053 181.4h1v13.17h-1zM1056 181.4h1v13.17h-1zM1058 181.4h1v13.17h-1zM1072 181.4h1v13.17h-1zM1078 181.4h1v13.17h-1zM1093 181.4h2v13.17h-2zM1096 181.4h1v13.17h-1zM1098 181.4h1v13.17h-1zM1116 181.4h2v13.17h-2zM1120 181.4h1v13.17h-1zM655 207.8h1v13.17h-1zM658 207.8h1v13.17h-1zM666 207.8h2v13.17h-2zM672 207.8h3v13.17h-3zM687 207.8h2v13.17h-2zM893 207.8h1v13.17h-1zM902 207.8h2v13.17h-2zM905 207.8h1v13.17h-1zM641 220.9h1v13.17h-1zM648 220.9h1v13.17h-1zM852 220.9h2v13.17h-2zM910 220.9h1v13.17h-1zM914 220.9h1v13.17h-1zM928 220.9h1v13.17h-1zM933 220.9h1v13.17h-1zM937 220.9h1v13.17h-1zM941 220.9h1v13.17h-1zM944 220.9h1v13.17h-1zM645 247.3h1v13.17h-1zM744 247.3h1v13.17h-1zM755 247.3h2v13.17h-2zM759 247.3h1v13.17h-1zM766 247.3h1v13.17h-1zM784 247.3h2v13.17h-2zM642 286.8h1v13.17h-1zM664 286.8h2v13.17h-2zM675 286.8h2v13.17h-2zM682 286.8h1v13.17h-1zM689 286.8h1v13.17h-1zM699 286.8h2v13.17h-2zM706 286.8h1v13.17h-1zM712 286.8h4v13.17h-4zM723 286.8h1v13.17h-1zM726 286.8h1v13.17h-1zM741 286.8h1v13.17h-1zM750 286.8h1v13.17h-1zM792 286.8h1v13.17h-1zM800 286.8h2v13.17h-2zM805 286.8h1v13.17h-1zM825 286.8h2v13.17h-2zM985 286.8h1v13.17h-1zM993 286.8h1v13.17h-1zM996 286.8h1v13.17h-1zM740 313.1h1v13.17h-1zM749 313.1h3v13.17h-3zM754 313.1h1v13.17h-1zM657 339.5h1v13.17h-1zM662 339.5h1v13.17h-1zM673 339.5h2v13.17h-2zM679 339.5h1v13.17h-1zM684 339.5h1v13.17h-1zM700 339.5h1v13.17h-1zM715 339.5h3v13.17h-3zM736 339.5h2v13.17h-2zM830 339.5h2v13.17h-2zM677 352.6h2v13.17h-2zM684 352.6h1v13.17h-1zM687 352.6h2v13.17h-2zM690 352.6h2v13.17h-2zM704 352.6h1v13.17h-1zM712 352.6h1v13.17h-1zM727 352.6h2v13.17h-2zM839 352.6h1v13.17h-1zM459 405.3h1v13.17h-1zM465 405.3h2v13.17h-2zM479 405.3h2v13.17h-2zM483 405.3h2v13.17h-2zM489 405.3h2v13.17h-2zM497 405.3h1v13.17h-1zM502 405.3h2v13.17h-2zM519 405.3h1v13.17h-1zM764 405.3h1v13.17h-1zM779 405.3h1v13.17h-1zM797 405.3h2v13.17h-2zM198 418.5h1v13.17h-1zM510 418.5h2v13.17h-2zM519 418.5h2v13.17h-2zM531 418.5h1v13.17h-1zM541 418.5h1v13.17h-1zM543 418.5h2v13.17h-2zM550 418.5h1v13.17h-1zM555 418.5h1v13.17h-1zM560 418.5h1v13.17h-1zM567 418.5h2v13.17h-2zM580 418.5h2v13.17h-2zM584 418.5h3v13.17h-3zM591 418.5h1v13.17h-1zM669 418.5h2v13.17h-2zM684 418.5h1v13.17h-1zM687 418.5h1v13.17h-1zM690 418.5h2v13.17h-2zM703 418.5h1v13.17h-1zM735 418.5h3v13.17h-3zM827 418.5h2v13.17h-2zM927 418.5h1v13.17h-1zM939 418.5h1v13.17h-1zM958 418.5h2v13.17h-2zM962 418.5h2v13.17h-2zM220 444.8h2v13.17h-2zM226 444.8h1v13.17h-1zM234 444.8h1v13.17h-1zM261 444.8h1v13.17h-1zM263 444.8h1v13.17h-1zM282 444.8h2v13.17h-2zM286 444.8h2v13.17h-2zM290 444.8h2v13.17h-2zM301 444.8h2v13.17h-2zM454 444.8h2v13.17h-2zM461 444.8h4v13.17h-4zM471 444.8h2v13.17h-2zM481 444.8h1v13.17h-1zM529 444.8h1v13.17h-1zM537 444.8h1v13.17h-1zM543 444.8h2v13.17h-2zM550 444.8h3v13.17h-3zM566 444.8h2v13.17h-2zM572 444.8h2v13.17h-2zM579 444.8h1v13.17h-1zM653 444.8h1v13.17h-1zM673 444.8h1v13.17h-1zM678 444.8h1v13.17h-1zM688 444.8h1v13.17h-1zM690 444.8h1v13.17h-1zM696 444.8h1v13.17h-1zM701 444.8h1v13.17h-1zM716 444.8h2v13.17h-2zM722 444.8h2v13.17h-2zM728 444.8h1v13.17h-1zM731 444.8h3v13.17h-3zM758 444.8h1v13.17h-1zM800 444.8h1v13.17h-1zM818 444.8h2v13.17h-2zM831 444.8h2v13.17h-2zM996 444.8h1v13.17h-1zM743 458.0h1v13.17h-1zM749 458.0h1v13.17h-1zM756 458.0h1v13.17h-1zM751 471.2h2v13.17h-2zM646 510.7h1v13.17h-1zM202 537.0h2v13.17h-2zM240 537.0h1v13.17h-1zM451 537.0h2v13.17h-2zM473 537.0h1v13.17h-1zM484 537.0h2v13.17h-2zM493 537.0h5v13.17h-5zM509 537.0h1v13.17h-1zM647 537.0h1v13.17h-1zM655 537.0h2v13.17h-2zM673 537.0h1v13.17h-1zM686 537.0h1v13.17h-1zM692 537.0h2v13.17h-2zM696 537.0h1v13.17h-1zM703 537.0h2v13.17h-2zM708 537.0h1v13.17h-1zM710 537.0h1v13.17h-1zM743 537.0h3v13.17h-3zM748 537.0h2v13.17h-2zM840 537.0h2v13.17h-2zM843 537.0h1v13.17h-1zM847 537.0h1v13.17h-1zM866 537.0h2v13.17h-2zM879 537.0h1v13.17h-1zM882 537.0h1v13.17h-1zM889 537.0h2v13.17h-2zM893 537.0h1v13.17h-1zM904 537.0h1v13.17h-1zM1037 537.0h1v13.17h-1zM1040 537.0h1v13.17h-1zM1044 537.0h1v13.17h-1zM1061 537.0h1v13.17h-1zM1066 537.0h1v13.17h-1zM1069 537.0h1v13.17h-1zM1089 537.0h1v13.17h-1zM1092 537.0h1v13.17h-1zM1108 537.0h1v13.17h-1zM1123 537.0h2v13.17h-2zM1131 537.0h1v13.17h-1zM510 550.2h2v13.17h-2zM532 550.2h1v13.17h-1zM542 550.2h1v13.17h-1zM545 550.2h2v13.17h-2zM551 550.2h2v13.17h-2zM568 550.2h1v13.17h-1zM571 550.2h2v13.17h-2zM577 550.2h1v13.17h-1zM579 550.2h2v13.17h-2zM597 550.2h1v13.17h-1zM602 550.2h3v13.17h-3zM609 550.2h2v13.17h-2zM613 550.2h2v13.17h-2zM632 550.2h2v13.17h-2zM679 550.2h1v13.17h-1zM698 550.2h1v13.17h-1zM705 550.2h1v13.17h-1zM708 550.2h1v13.17h-1zM713 550.2h2v13.17h-2zM718 550.2h2v13.17h-2zM898 550.2h2v13.17h-2zM904 550.2h2v13.17h-2zM955 550.2h2v13.17h-2zM972 550.2h3v13.17h-3zM837 563.4h3v13.17h-3zM233 576.5h2v13.17h-2zM237 576.5h1v13.17h-1zM241 576.5h1v13.17h-1zM247 576.5h1v13.17h-1zM310 576.5h1v13.17h-1zM318 576.5h2v13.17h-2zM337 576.5h1v13.17h-1zM344 576.5h1v13.17h-1zM396 576.5h2v13.17h-2zM459 576.5h1v13.17h-1zM502 576.5h2v13.17h-2zM505 576.5h1v13.17h-1zM526 576.5h2v13.17h-2zM552 576.5h1v13.17h-1zM554 576.5h1v13.17h-1zM576 576.5h2v13.17h-2zM582 576.5h1v13.17h-1zM595 576.5h2v13.17h-2zM604 576.5h1v13.17h-1zM607 576.5h2v13.17h-2zM639 576.5h3v13.17h-3zM647 576.5h3v13.17h-3zM659 576.5h3v13.17h-3zM959 576.5h1v13.17h-1zM1056 576.5h1v13.17h-1zM1090 576.5h1v13.17h-1zM1092 576.5h2v13.17h-2zM1099 576.5h2v13.17h-2zM1104 576.5h1v13.17h-1zM1123 576.5h2v13.17h-2zM191 589.7h1v13.17h-1zM194 589.7h1v13.17h-1zM242 589.7h1v13.17h-1zM248 589.7h1v13.17h-1zM315 589.7h2v13.17h-2zM328 589.7h1v13.17h-1zM332 589.7h1v13.17h-1zM350 589.7h1v13.17h-1zM356 589.7h1v13.17h-1zM359 589.7h1v13.17h-1zM398 589.7h1v13.17h-1zM581 589.7h1v13.17h-1zM591 589.7h1v13.17h-1zM605 589.7h1v13.17h-1zM616 589.7h1v13.17h-1zM622 589.7h1v13.17h-1zM634 589.7h2v13.17h-2zM639 589.7h1v13.17h-1zM642 589.7h1v13.17h-1zM662 589.7h2v13.17h-2zM669 589.7h1v13.17h-1zM678 589.7h2v13.17h-2zM697 589.7h2v13.17h-2zM706 589.7h1v13.17h-1zM950 589.7h2v13.17h-2zM971 589.7h1v13.17h-1zM1072 589.7h1v13.17h-1zM1078 589.7h1v13.17h-1zM1080 589.7h1v13.17h-1zM1088 589.7h2v13.17h-2zM1124 589.7h5v13.17h-5z"/>
<path fill="#e4edf7" d="M225 62.9h2v13.17h-2zM233 62.9h1v13.17h-1zM261 62.9h1v13.17h-1zM264 62.9h1v13.17h-1zM319 76.1h1v13.17h-1zM339 76.1h1v13.17h-1zM350 76.1h1v13.17h-1zM370 76.1h1v13.17h-1zM435 76.1h2v13.17h-2zM443 76.1h1v13.17h-1zM534 76.1h1v13.17h-1zM541 76.1h1v13.17h-1zM554 76.1h2v13.17h-2zM562 76.1h1v13.17h-1zM565 76.1h1v13.17h-1zM584 76.1h1v13.17h-1zM589 76.1h1v13.17h-1zM612 76.1h1v13.17h-1zM619 76.1h1v13.17h-1zM628 76.1h1v13.17h-1zM916 76.1h1v13.17h-1zM924 76.1h1v13.17h-1zM217 89.2h1v13.17h-1zM227 89.2h1v13.17h-1zM233 89.2h2v13.17h-2zM253 89.2h1v13.17h-1zM377 89.2h1v13.17h-1zM394 89.2h2v13.17h-2zM403 89.2h2v13.17h-2zM995 89.2h1v13.17h-1zM1003 89.2h2v13.17h-2zM1013 89.2h1v13.17h-1zM1038 89.2h1v13.17h-1zM1057 89.2h2v13.17h-2zM1066 89.2h1v13.17h-1zM1138 89.2h1v13.17h-1zM188 102.4h1v13.17h-1zM300 102.4h1v13.17h-1zM324 102.4h2v13.17h-2zM340 102.4h1v13.17h-1zM346 102.4h1v13.17h-1zM355 102.4h1v13.17h-1zM358 102.4h1v13.17h-1zM391 102.4h2v13.17h-2zM436 102.4h1v13.17h-1zM479 102.4h1v13.17h-1zM519 102.4h1v13.17h-1zM527 102.4h1v13.17h-1zM555 102.4h1v13.17h-1zM575 102.4h5v13.17h-5zM592 102.4h1v13.17h-1zM1152 102.4h1v13.17h-1zM281 115.6h1v13.17h-1zM285 115.6h1v13.17h-1zM523 115.6h1v13.17h-1zM842 115.6h1v13.17h-1zM206 128.8h2v13.17h-2zM214 128.8h1v13.17h-1zM382 128.8h2v13.17h-2zM433 128.8h2v13.17h-2zM466 128.8h1v13.17h-1zM512 128.8h1v13.17h-1zM1003 128.8h1v13.17h-1zM1011 128.8h2v13.17h-2zM1152 128.8h2v13.17h-2zM1156 128.8h1v13.17h-1zM182 155.1h1v13.17h-1zM188 155.1h1v13.17h-1zM193 155.1h2v13.17h-2zM276 155.1h1v13.17h-1zM280 155.1h1v13.17h-1zM284 155.1h2v13.17h-2zM307 155.1h1v13.17h-1zM337 155.1h2v13.17h-2zM364 155.1h1v13.17h-1zM379 155.1h1v13.17h-1zM398 155.1h1v13.17h-1zM402 155.1h1v13.17h-1zM409 155.1h1v13.17h-1zM423 155.1h2v13.17h-2zM492 155.1h2v13.17h-2zM604 155.1h1v13.17h-1zM613 155.1h1v13.17h-1zM619 155.1h1v13.17h-1zM623 155.1h1v13.17h-1zM640 155.1h1v13.17h-1zM679 155.1h1v13.17h-1zM688 155.1h2v13.17h-2zM695 155.1h1v13.17h-1zM701 155.1h3v13.17h-3zM743 155.1h1v13.17h-1zM916 155.1h1v13.17h-1zM935 155.1h1v13.17h-1zM947 155.1h1v13.17h-1zM952 155.1h1v13.17h-1zM960 155.1h1v13.17h-1zM972 155.1h1v13.17h-1zM980 155.1h1v13.17h-1zM982 155.1h1v13.17h-1zM984 155.1h1v13.17h-1zM1064 155.1h1v13.17h-1zM1074 155.1h1v13.17h-1zM1080 155.1h2v13.17h-2zM1102 155.1h1v13.17h-1zM1123 155.1h1v13.17h-1zM1127 155.1h2v13.17h-2zM188 168.3h1v13.17h-1zM219 168.3h2v13.17h-2zM258 168.3h2v13.17h-2zM261 168.3h1v13.17h-1zM311 168.3h1v13.17h-1zM372 168.3h2v13.17h-2zM420 168.3h2v13.17h-2zM423 168.3h1v13.17h-1zM514 168.3h1v13.17h-1zM542 168.3h2v13.17h-2zM550 168.3h1v13.17h-1zM571 168.3h2v13.17h-2zM580 168.3h1v13.17h-1zM593 168.3h2v13.17h-2zM998 168.3h2v13.17h-2zM1026 168.3h1v13.17h-1zM1046 168.3h1v13.17h-1zM1048 168.3h2v13.17h-2zM1051 168.3h1v13.17h-1zM1143 168.3h1v13.17h-1zM1147 168.3h1v13.17h-1zM174 181.4h1v13.17h-1zM180 181.4h1v13.17h-1zM188 181.4h1v13.17h-1zM192 181.4h1v13.17h-1zM202 181.4h2v13.17h-2zM225 181.4h2v13.17h-2zM257 181.4h1v13.17h-1zM270 181.4h1v13.17h-1zM276 181.4h3v13.17h-3zM311 181.4h1v13.17h-1zM992 181.4h1v13.17h-1zM995 181.4h1v13.17h-1zM1008 181.4h2v13.17h-2zM783 220.9h2v13.17h-2zM746 247.3h2v13.17h-2zM751 247.3h1v13.17h-1zM645 260.4h2v13.17h-2zM642 273.6h1v13.17h-1zM225 286.8h1v13.17h-1zM632 286.8h2v13.17h-2zM654 286.8h1v13.17h-1zM671 286.8h2v13.17h-2zM795 286.8h1v13.17h-1zM910 286.8h1v13.17h-1zM938 286.8h1v13.17h-1zM941 286.8h1v13.17h-1zM944 286.8h2v13.17h-2zM249 300.0h1v13.17h-1zM679 326.3h1v13.17h-1zM791 339.5h1v13.17h-1zM657 352.6h1v13.17h-1zM895 365.8h1v13.17h-1zM897 365.8h2v13.17h-2zM1034 365.8h1v13.17h-1zM1076 365.8h1v13.17h-1zM674 392.1h1v13.17h-1zM685 392.1h1v13.17h-1zM687 392.1h2v13.17h-2zM712 392.1h1v13.17h-1zM722 392.1h2v13.17h-2zM726 392.1h1v13.17h-1zM731 392.1h1v13.17h-1zM366 405.3h1v13.17h-1zM641 405.3h1v13.17h-1zM754 405.3h1v13.17h-1zM760 405.3h1v13.17h-1zM769 405.3h2v13.17h-2zM772 405.3h1v13.17h-1zM686 418.5h1v13.17h-1zM689 418.5h1v13.17h-1zM697 418.5h1v13.17h-1zM797 418.5h1v13.17h-1zM803 418.5h2v13.17h-2zM815 418.5h2v13.17h-2zM908 418.5h2v13.17h-2zM919 418.5h1v13.17h-1zM596 431.7h1v13.17h-1zM197 444.8h1v13.17h-1zM202 444.8h1v13.17h-1zM232 444.8h2v13.17h-2zM452 444.8h2v13.17h-2zM633 444.8h1v13.17h-1zM654 444.8h2v13.17h-2zM791 444.8h1v13.17h-1zM804 444.8h1v13.17h-1zM985 444.8h1v13.17h-1zM741 458.0h1v13.17h-1zM896 458.0h1v13.17h-1zM1154 497.5h1v13.17h-1zM190 537.0h1v13.17h-1zM215 537.0h1v13.17h-1zM219 537.0h1v13.17h-1zM221 537.0h1v13.17h-1zM225 537.0h1v13.17h-1zM650 537.0h2v13.17h-2zM839 537.0h1v13.17h-1zM846 537.0h1v13.17h-1zM853 537.0h1v13.17h-1zM858 537.0h1v13.17h-1zM990 537.0h2v13.17h-2zM1008 537.0h2v13.17h-2zM1019 537.0h2v13.17h-2zM1027 537.0h1v13.17h-1zM1031 537.0h1v13.17h-1zM1139 537.0h1v13.17h-1zM1158 537.0h1v13.17h-1zM450 550.2h1v13.17h-1zM460 550.2h1v13.17h-1zM502 550.2h2v13.17h-2zM507 550.2h3v13.17h-3zM519 550.2h1v13.17h-1zM525 550.2h1v13.17h-1zM529 550.2h1v13.17h-1zM533 550.2h1v13.17h-1zM650 550.2h1v13.17h-1zM670 550.2h2v13.17h-2zM704 550.2h1v13.17h-1zM886 550.2h1v13.17h-1zM888 550.2h1v13.17h-1zM890 550.2h1v13.17h-1zM894 550.2h1v13.17h-1zM945 550.2h1v13.17h-1zM969 563.4h1v13.17h-1zM185 576.5h1v13.17h-1zM224 576.5h1v13.17h-1zM381 576.5h2v13.17h-2zM388 576.5h1v13.17h-1zM433 576.5h1v13.17h-1zM440 576.5h1v13.17h-1zM479 576.5h1v13.17h-1zM507 576.5h2v13.17h-2zM513 576.5h1v13.17h-1zM954 576.5h1v13.17h-1zM956 576.5h1v13.17h-1zM1008 576.5h1v13.17h-1zM1023 576.5h1v13.17h-1zM1035 576.5h1v13.17h-1zM1050 576.5h2v13.17h-2zM1062 576.5h2v13.17h-2zM1072 576.5h1v13.17h-1zM1074 576.5h1v13.17h-1zM1076 576.5h2v13.17h-2zM1097 576.5h2v13.17h-2zM1101 576.5h1v13.17h-1zM283 589.7h3v13.17h-3zM287 589.7h1v13.17h-1zM292 589.7h2v13.17h-2zM303 589.7h1v13.17h-1zM308 589.7h1v13.17h-1zM314 589.7h1v13.17h-1zM381 589.7h1v13.17h-1zM395 589.7h1v13.17h-1zM443 589.7h2v13.17h-2zM446 589.7h1v13.17h-1zM500 589.7h1v13.17h-1zM504 589.7h2v13.17h-2zM525 589.7h1v13.17h-1zM527 589.7h1v13.17h-1zM579 589.7h1v13.17h-1zM594 589.7h2v13.17h-2zM601 589.7h1v13.17h-1zM936 589.7h1v13.17h-1zM988 589.7h2v13.17h-2zM1032 589.7h1v13.17h-1zM1052 589.7h1v13.17h-1zM1062 589.7h1v13.17h-1zM1064 589.7h2v13.17h-2zM1084 589.7h1v13.17h-1z"/>
<path fill="#edf3fa" d="M229 62.9h2v13.17h-2zM241 62.9h1v13.17h-1zM243 62.9h1v13.17h-1zM262 62.9h2v13.17h-2zM274 62.9h1v13.17h-1zM286 62.9h2v13.17h-2zM295 62.9h1v13.17h-1zM298 62.9h1v13.17h-1zM302 62.9h2v13.17h-2zM305 62.9h2v13.17h-2zM312 62.9h1v13.17h-1zM317 62.9h1v13.17h-1zM338 62.9h3v13.17h-3zM352 62.9h1v13.17h-1zM382 62.9h1v13.17h-1zM391 62.9h1v13.17h-1zM397 62.9h2v13.17h-2zM475 62.9h1v13.17h-1zM478 62.9h1v13.17h-1zM495 62.9h1v13.17h-1zM513 62.9h1v13.17h-1zM518 62.9h1v13.17h-1zM521 62.9h1v13.17h-1zM531 62.9h2v13.17h-2zM539 62.9h1v13.17h-1zM544 62.9h2v13.17h-2zM568 62.9h2v13.17h-2zM578 62.9h1v13.17h-1zM586 62.9h1v13.17h-1zM595 62.9h2v13.17h-2zM599 62.9h1v13.17h-1zM913 62.9h1v13.17h-1zM920 62.9h1v13.17h-1zM456 76.1h1v13.17h-1zM631 76.1h1v13.17h-1zM651 76.1h1v13.17h-1zM665 76.1h1v13.17h-1zM676 76.1h1v13.17h-1zM690 76.1h2v13.17h-2zM810 76.1h1v13.17h-1zM833 76.1h1v13.17h-1zM934 76.1h1v13.17h-1zM944 76.1h3v13.17h-3zM957 76.1h1v13.17h-1zM975 76.1h1v13.17h-1zM982 76.1h1v13.17h-1zM995 76.1h1v13.17h-1zM1009 76.1h1v13.17h-1zM1026 76.1h2v13.17h-2zM1048 76.1h1v13.17h-1zM1050 76.1h1v13.17h-1zM1054 76.1h1v13.17h-1zM1063 76.1h1v13.17h-1zM1150 76.1h1v13.17h-1zM1156 76.1h1v13.17h-1zM181 89.2h1v13.17h-1zM190 89.2h1v13.17h-1zM387 89.2h2v13.17h-2zM479 89.2h1v13.17h-1zM482 89.2h1v13.17h-1zM492 89.2h2v13.17h-2zM504 89.2h1v13.17h-1zM516 89.2h1v13.17h-1zM520 89.2h2v13.17h-2zM528 89.2h2v13.17h-2zM537 89.2h2v13.17h-2zM544 89.2h1v13.17h-1zM550 89.2h1v13.17h-1zM555 89.2h3v13.17h-3zM561 89.2h2v13.17h-2zM689 89.2h2v13.17h-2zM846 89.2h1v13.17h-1zM902 89.2h1v13.17h-1zM922 89.2h1v13.17h-1zM930 89.2h1v13.17h-1zM967 89.2h2v13.17h-2zM973 89.2h2v13.17h-2zM1080 89.2h2v13.17h-2zM1092 89.2h1v13.17h-1zM1095 89.2h2v13.17h-2zM1103 89.2h2v13.17h-2zM1125 89.2h1v13.17h-1zM1131 89.2h1v13.17h-1zM1155 89.2h1v13.17h-1zM486 102.4h2v13.17h-2zM489 102.4h1v13.17h-1zM493 102.4h3v13.17h-3zM587 102.4h2v13.17h-2zM604 102.4h1v13.17h-1zM609 102.4h2v13.17h-2zM615 102.4h1v13.17h-1zM620 102.4h1v13.17h-1zM655 102.4h1v13.17h-1zM667 102.4h2v13.17h-2zM679 102.4h1v13.17h-1zM682 102.4h2v13.17h-2zM690 102.4h1v13.17h-1zM925 102.4h1v13.17h-1zM934 102.4h1v13.17h-1zM951 102.4h1v13.17h-1zM974 102.4h2v13.17h-2zM979 102.4h4v13.17h-4zM1002 102.4h2v13.17h-2zM1018 102.4h1v13.17h-1zM1023 102.4h2v13.17h-2zM1028 102.4h2v13.17h-2zM1045 102.4h2v13.17h-2zM1053 102.4h2v13.17h-2zM1058 102.4h1v13.17h-1zM1065 102.4h1v13.17h-1zM1069 102.4h2v13.17h-2zM1147 102.4h2v13.17h-2zM273 115.6h1v13.17h-1zM306 115.6h1v13.17h-1zM308 115.6h1v13.17h-1zM319 115.6h1v13.17h-1zM325 115.6h3v13.17h-3zM330 115.6h1v13.17h-1zM354 115.6h2v13.17h-2zM359 115.6h2v13.17h-2zM451 115.6h2v13.17h-2zM464 115.6h1v13.17h-1zM535 115.6h1v13.17h-1zM597 115.6h1v13.17h-1zM822 115.6h2v13.17h-2zM884 115.6h2v13.17h-2zM910 115.6h1v13.17h-1zM1015 115.6h1v13.17h-1zM225 128.8h1v13.17h-1zM266 128.8h1v13.17h-1zM277 128.8h2v13.17h-2zM283 128.8h1v13.17h-1zM292 128.8h3v13.17h-3zM305 128.8h1v13.17h-1zM309 128.8h1v13.17h-1zM316 128.8h2v13.17h-2zM389 128.8h1v13.17h-1zM443 128.8h2v13.17h-2zM462 128.8h2v13.17h-2zM472 128.8h2v13.17h-2zM479 128.8h1v13.17h-1zM481 128.8h3v13.17h-3zM486 128.8h1v13.17h-1zM490 128.8h1v13.17h-1zM503 128.8h3v13.17h-3zM514 128.8h2v13.17h-2zM526 128.8h1v13.17h-1zM530 128.8h1v13.17h-1zM533 128.8h4v13.17h-4zM538 128.8h2v13.17h-2zM542 128.8h1v13.17h-1zM546 128.8h1v13.17h-1zM550 128.8h1v13.17h-1zM558 128.8h1v13.17h-1zM560 128.8h1v13.17h-1zM572 128.8h1v13.17h-1zM595 128.8h1v13.17h-1zM614 128.8h1v13.17h-1zM661 128.8h1v13.17h-1zM681 128.8h2v13.17h-2zM686 128.8h1v13.17h-1zM690 128.8h1v13.17h-1zM758 128.8h1v13.17h-1zM813 128.8h1v13.17h-1zM863 128.8h1v13.17h-1zM1040 128.8h1v13.17h-1zM1043 128.8h1v13.17h-1zM1047 128.8h1v13.17h-1zM1074 128.8h1v13.17h-1zM1080 128.8h1v13.17h-1zM1097 128.8h3v13.17h-3zM1109 128.8h1v13.17h-1zM1127 128.8h1v13.17h-1zM1129 128.8h2v13.17h-2zM1135 128.8h2v13.17h-2zM1139 128.8h2v13.17h-2zM1143 128.8h2v13.17h-2zM539 141.9h1v13.17h-1zM760 141.9h1v13.17h-1zM883 141.9h2v13.17h-2zM956 141.9h1v13.17h-1zM963 141.9h2v13.17h-2zM644 155.1h1v13.17h-1zM647 155.1h1v13.17h-1zM686 155.1h1v13.17h-1zM697 155.1h2v13.17h-2zM700 155.1h1v13.17h-1zM704 155.1h1v13.17h-1zM706 155.1h1v13.17h-1zM712 155.1h2v13.17h-2zM716 155.1h1v13.17h-1zM721 155.1h3v13.17h-3zM725 155.1h2v13.17h-2zM966 155.1h1v13.17h-1zM973 155.1h1v13.17h-1zM978 155.1h1v13.17h-1zM230 168.3h2v13.17h-2zM234 168.3h1v13.17h-1zM236 168.3h1v13.17h-1zM241 168.3h1v13.17h-1zM295 168.3h1v13.17h-1zM308 168.3h2v13.17h-2zM343 168.3h1v13.17h-1zM345 168.3h4v13.17h-4zM355 168.3h1v13.17h-1zM379 168.3h1v13.17h-1zM385 168.3h1v13.17h-1zM608 168.3h1v13.17h-1zM613 168.3h1v13.17h-1zM622 168.3h1v13.17h-1zM627 168.3h1v13.17h-1zM629 168.3h1v13.17h-1zM654 168.3h2v13.17h-2zM666 168.3h1v13.17h-1zM676 168.3h2v13.17h-2zM679 168.3h3v13.17h-3zM683 168.3h1v13.17h-1zM694 168.3h1v13.17h-1zM910 168.3h1v13.17h-1zM930 168.3h1v13.17h-1zM944 168.3h2v13.17h-2zM957 168.3h1v13.17h-1zM965 168.3h1v13.17h-1zM971 168.3h1v13.17h-1zM1047 168.3h1v13.17h-1zM1077 168.3h1v13.17h-1zM1082 168.3h2v13.17h-2zM1090 168.3h1v13.17h-1zM1092 168.3h1v13.17h-1zM1100 168.3h1v13.17h-1zM1129 168.3h1v13.17h-1zM252 181.4h2v13.17h-2zM306 181.4h1v13.17h-1zM319 181.4h1v13.17h-1zM334 181.4h2v13.17h-2zM341 181.4h1v13.17h-1zM346 181.4h2v13.17h-2zM351 181.4h2v13.17h-2zM364 181.4h1v13.17h-1zM370 181.4h1v13.17h-1zM579 181.4h1v13.17h-1zM649 181.4h1v13.17h-1zM666 181.4h2v13.17h-2zM675 181.4h1v13.17h-1zM682 181.4h1v13.17h-1zM684 181.4h2v13.17h-2zM687 181.4h1v13.17h-1zM870 181.4h1v13.17h-1zM931 181.4h2v13.17h-2zM947 181.4h1v13.17h-1zM957 181.4h1v13.17h-1zM963 181.4h1v13.17h-1zM965 181.4h1v13.17h-1zM970 181.4h1v13.17h-1zM975 181.4h1v13.17h-1zM1019 181.4h1v13.17h-1zM1023 181.4h1v13.17h-1zM1044 181.4h1v13.17h-1zM1059 181.4h2v13.17h-2zM1073 181.4h1v13.17h-1zM1076 181.4h1v13.17h-1zM1084 181.4h3v13.17h-3zM1090 181.4h3v13.17h-3zM1108 181.4h1v13.17h-1zM173 194.6h1v13.17h-1zM447 194.6h1v13.17h-1zM643 194.6h1v13.17h-1zM677 194.6h1v13.17h-1zM735 194.6h1v13.17h-1zM786 194.6h1v13.17h-1zM1035 194.6h1v13.17h-1zM1122 194.6h1v13.17h-1zM1158 194.6h1v13.17h-1zM404 207.8h2v13.17h-2zM689 207.8h2v13.17h-2zM975 207.8h2v13.17h-2zM1110 207.8h2v13.17h-2zM169 220.9h1v13.17h-1zM218 220.9h1v13.17h-1zM271 220.9h1v13.17h-1zM450 220.9h1v13.17h-1zM487 220.9h2v13.17h-2zM525 220.9h1v13.17h-1zM647 220.9h1v13.17h-1zM715 220.9h1v13.17h-1zM907 220.9h2v13.17h-2zM922 220.9h1v13.17h-1zM925 220.9h1v13.17h-1zM929 220.9h2v13.17h-2zM939 220.9h2v13.17h-2zM952 220.9h1v13.17h-1zM445 234.1h1v13.17h-1zM515 234.1h2v13.17h-2zM545 234.1h1v13.17h-1zM587 234.1h1v13.17h-1zM666 234.1h1v13.17h-1zM792 234.1h1v13.17h-1zM953 234.1h1v13.17h-1zM1029 234.1h2v13.17h-2zM1116 234.1h2v13.17h-2zM339 247.3h1v13.17h-1zM453 247.3h1v13.17h-1zM635 247.3h1v13.17h-1zM641 247.3h1v13.17h-1zM646 247.3h1v13.17h-1zM654 247.3h2v13.17h-2zM765 247.3h1v13.17h-1zM771 247.3h1v13.17h-1zM786 247.3h1v13.17h-1zM1006 247.3h1v13.17h-1zM239 260.4h2v13.17h-2zM463 260.4h1v13.17h-1zM471 260.4h2v13.17h-2zM481 260.4h1v13.17h-1zM986 260.4h1v13.17h-1zM994 260.4h1v13.17h-1zM1058 260.4h1v13.17h-1zM1065 260.4h2v13.17h-2zM386 273.6h1v13.17h-1zM449 273.6h2v13.17h-2zM456 273.6h2v13.17h-2zM480 273.6h1v13.17h-1zM1045 273.6h2v13.17h-2zM1131 273.6h1v13.17h-1zM547 286.8h2v13.17h-2zM639 286.8h2v13.17h-2zM643 286.8h1v13.17h-1zM648 286.8h2v13.17h-2zM669 286.8h2v13.17h-2zM679 286.8h1v13.17h-1zM729 286.8h1v13.17h-1zM736 286.8h1v13.17h-1zM754 286.8h1v13.17h-1zM765 286.8h1v13.17h-1zM822 286.8h1v13.17h-1zM832 286.8h1v13.17h-1zM956 286.8h2v13.17h-2zM962 286.8h2v13.17h-2zM974 286.8h1v13.17h-1zM981 286.8h2v13.17h-2zM1098 286.8h2v13.17h-2zM1144 286.8h1v13.17h-1zM460 300.0h1v13.17h-1zM723 300.0h2v13.17h-2zM784 300.0h2v13.17h-2zM982 300.0h1v13.17h-1zM218 313.1h2v13.17h-2zM517 313.1h1v13.17h-1zM581 313.1h2v13.17h-2zM736 313.1h1v13.17h-1zM817 313.1h2v13.17h-2zM1020 313.1h2v13.17h-2zM171 326.3h1v13.17h-1zM372 326.3h1v13.17h-1zM390 326.3h1v13.17h-1zM699 326.3h2v13.17h-2zM728 326.3h2v13.17h-2zM734 326.3h1v13.17h-1zM991 326.3h1v13.17h-1zM220 339.5h1v13.17h-1zM339 339.5h1v13.17h-1zM452 339.5h1v13.17h-1zM661 339.5h1v13.17h-1zM664 339.5h1v13.17h-1zM693 339.5h1v13.17h-1zM701 339.5h2v13.17h-2zM705 339.5h1v13.17h-1zM719 339.5h2v13.17h-2zM732 339.5h1v13.17h-1zM734 339.5h1v13.17h-1zM783 339.5h2v13.17h-2zM810 339.5h2v13.17h-2zM813 339.5h1v13.17h-1zM817 339.5h1v13.17h-1zM821 339.5h2v13.17h-2zM835 339.5h1v13.17h-1zM839 339.5h1v13.17h-1zM1086 339.5h1v13.17h-1zM671 352.6h2v13.17h-2zM689 352.6h1v13.17h-1zM692 352.6h1v13.17h-1zM699 352.6h1v13.17h-1zM708 352.6h1v13.17h-1zM715 352.6h1v13.17h-1zM719 352.6h1v13.17h-1zM725 352.6h1v13.17h-1zM732 352.6h1v13.17h-1zM1008 352.6h2v13.17h-2zM1024 352.6h1v13.17h-1zM1085 352.6h1v13.17h-1zM1097 352.6h1v13.17h-1zM338 365.8h1v13.17h-1zM368 365.8h2v13.17h-2zM517 365.8h1v13.17h-1zM678 365.8h1v13.17h-1zM853 365.8h1v13.17h-1zM1132 365.8h1v13.17h-1zM249 379.0h1v13.17h-1zM841 379.0h1v13.17h-1zM889 379.0h2v13.17h-2zM897 379.0h1v13.17h-1zM899 379.0h1v13.17h-1zM949 379.0h1v13.17h-1zM1129 379.0h1v13.17h-1zM358 392.1h1v13.17h-1zM495 392.1h1v13.17h-1zM788 392.1h1v13.17h-1zM802 392.1h1v13.17h-1zM1149 392.1h1v13.17h-1zM293 405.3h1v13.17h-1zM302 405.3h1v13.17h-1zM444 405.3h2v13.17h-2zM449 405.3h2v13.17h-2zM453 405.3h1v13.17h-1zM457 405.3h1v13.17h-1zM471 405.3h2v13.17h-2zM481 405.3h1v13.17h-1zM492 405.3h1v13.17h-1zM500 405.3h2v13.17h-2zM506 405.3h1v13.17h-1zM508 405.3h2v13.17h-2zM515 405.3h1v13.17h-1zM523 405.3h3v13.17h-3zM536 405.3h2v13.17h-2zM548 405.3h1v13.17h-1zM642 405.3h2v13.17h-2zM646 405.3h1v13.17h-1zM879 405.3h1v13.17h-1zM171 418.5h4v13.17h-4zM178 418.5h2v13.17h-2zM188 418.5h2v13.17h-2zM191 418.5h1v13.17h-1zM194 418.5h4v13.17h-4zM209 418.5h1v13.17h-1zM212 418.5h2v13.17h-2zM400 418.5h1v13.17h-1zM512 418.5h1v13.17h-1zM522 418.5h2v13.17h-2zM532 418.5h3v13.17h-3zM537 418.5h1v13.17h-1zM546 418.5h1v13.17h-1zM582 418.5h1v13.17h-1zM599 418.5h1v13.17h-1zM603 418.5h2v13.17h-2zM608 418.5h1v13.17h-1zM705 418.5h3v13.17h-3zM711 418.5h2v13.17h-2zM723 418.5h1v13.17h-1zM730 418.5h2v13.17h-2zM829 418.5h1v13.17h-1zM833 418.5h1v13.17h-1zM864 418.5h1v13.17h-1zM926 418.5h1v13.17h-1zM933 418.5h2v13.17h-2zM942 418.5h1v13.17h-1zM947 418.5h1v13.17h-1zM950 418.5h2v13.17h-2zM960 418.5h1v13.17h-1zM965 418.5h1v13.17h-1zM970 418.5h1v13.17h-1zM974 418.5h5v13.17h-5zM989 418.5h1v13.17h-1zM1129 418.5h1v13.17h-1zM260 431.7h1v13.17h-1zM553 431.7h1v13.17h-1zM777 431.7h1v13.17h-1zM876 431.7h2v13.17h-2zM1137 431.7h1v13.17h-1zM229 444.8h2v13.17h-2zM239 444.8h1v13.17h-1zM266 444.8h1v13.17h-1zM272 444.8h2v13.17h-2zM276 444.8h3v13.17h-3zM303 444.8h1v13.17h-1zM312 444.8h2v13.17h-2zM441 444.8h3v13.17h-3zM456 444.8h2v13.17h-2zM468 444.8h2v13.17h-2zM480 444.8h1v13.17h-1zM485 444.8h1v13.17h-1zM498 444.8h2v13.17h-2zM512 444.8h2v13.17h-2zM515 444.8h1v13.17h-1zM517 444.8h1v13.17h-1zM525 444.8h1v13.17h-1zM542 444.8h1v13.17h-1zM554 444.8h1v13.17h-1zM576 444.8h2v13.17h-2zM580 444.8h2v13.17h-2zM590 444.8h1v13.17h-1zM601 444.8h2v13.17h-2zM616 444.8h2v13.17h-2zM645 444.8h1v13.17h-1zM658 444.8h4v13.17h-4zM676 444.8h1v13.17h-1zM679 444.8h1v13.17h-1zM681 444.8h2v13.17h-2zM692 444.8h1v13.17h-1zM700 444.8h1v13.17h-1zM720 444.8h1v13.17h-1zM725 444.8h1v13.17h-1zM730 444.8h1v13.17h-1zM735 444.8h1v13.17h-1zM824 444.8h2v13.17h-2zM836 444.8h1v13.17h-1zM1005 444.8h1v13.17h-1zM1008 444.8h2v13.17h-2zM1151 444.8h1v13.17h-1zM171 458.0h2v13.17h-2zM479 458.0h2v13.17h-2zM747 458.0h1v13.17h-1zM753 458.0h1v13.17h-1zM757 458.0h1v13.17h-1zM851 458.0h1v13.17h-1zM930 458.0h1v13.17h-1zM998 458.0h1v13.17h-1zM1026 458.0h2v13.17h-2zM235 471.2h1v13.17h-1zM239 471.2h1v13.17h-1zM275 471.2h1v13.17h-1zM284 471.2h1v13.17h-1zM331 471.2h1v13.17h-1zM522 471.2h1v13.17h-1zM835 471.2h1v13.17h-1zM913 471.2h1v13.17h-1zM1031 471.2h1v13.17h-1zM1036 471.2h1v13.17h-1zM1111 471.2h2v13.17h-2zM172 484.3h1v13.17h-1zM315 484.3h1v13.17h-1zM361 484.3h1v13.17h-1zM557 484.3h1v13.17h-1zM825 484.3h2v13.17h-2zM875 484.3h1v13.17h-1zM879 484.3h1v13.17h-1zM948 484.3h1v13.17h-1zM323 497.5h2v13.17h-2zM403 497.5h2v13.17h-2zM526 497.5h2v13.17h-2zM619 497.5h1v13.17h-1zM988 497.5h1v13.17h-1zM1052 497.5h1v13.17h-1zM1115 497.5h1v13.17h-1zM1117 497.5h2v13.17h-2zM446 510.7h1v13.17h-1zM615 510.7h1v13.17h-1zM860 510.7h3v13.17h-3zM867 510.7h1v13.17h-1zM872 510.7h1v13.17h-1zM913 510.7h1v13.17h-1zM358 523.9h1v13.17h-1zM418 523.9h1v13.17h-1zM599 523.9h1v13.17h-1zM642 523.9h1v13.17h-1zM836 523.9h1v13.17h-1zM846 523.9h1v13.17h-1zM893 523.9h2v13.17h-2zM898 523.9h1v13.17h-1zM961 523.9h1v13.17h-1zM1155 523.9h1v13.17h-1zM216 537.0h1v13.17h-1zM232 537.0h3v13.17h-3zM236 537.0h1v13.17h-1zM238 537.0h1v13.17h-1zM372 537.0h1v13.17h-1zM404 537.0h1v13.17h-1zM421 537.0h1v13.17h-1zM450 537.0h1v13.17h-1zM454 537.0h2v13.17h-2zM469 537.0h1v13.17h-1zM476 537.0h2v13.17h-2zM480 537.0h1v13.17h-1zM482 537.0h2v13.17h-2zM510 537.0h2v13.17h-2zM531 537.0h1v13.17h-1zM541 537.0h1v13.17h-1zM635 537.0h1v13.17h-1zM640 537.0h1v13.17h-1zM652 537.0h2v13.17h-2zM661 537.0h1v13.17h-1zM663 537.0h1v13.17h-1zM671 537.0h1v13.17h-1zM684 537.0h2v13.17h-2zM687 537.0h1v13.17h-1zM690 537.0h2v13.17h-2zM701 537.0h1v13.17h-1zM709 537.0h1v13.17h-1zM718 537.0h3v13.17h-3zM727 537.0h2v13.17h-2zM732 537.0h1v13.17h-1zM854 537.0h1v13.17h-1zM856 537.0h2v13.17h-2zM872 537.0h1v13.17h-1zM883 537.0h1v13.17h-1zM886 537.0h1v13.17h-1zM900 537.0h1v13.17h-1zM941 537.0h2v13.17h-2zM960 537.0h2v13.17h-2zM1041 537.0h2v13.17h-2zM1057 537.0h1v13.17h-1zM1068 537.0h1v13.17h-1zM1072 537.0h2v13.17h-2zM1076 537.0h1v13.17h-1zM1080 537.0h2v13.17h-2zM458 550.2h1v13.17h-1zM496 550.2h1v13.17h-1zM522 550.2h1v13.17h-1zM526 550.2h1v13.17h-1zM560 550.2h1v13.17h-1zM574 550.2h1v13.17h-1zM578 550.2h1v13.17h-1zM585 550.2h1v13.17h-1zM594 550.2h3v13.17h-3zM601 550.2h1v13.17h-1zM605 550.2h1v13.17h-1zM611 550.2h2v13.17h-2zM622 550.2h1v13.17h-1zM690 550.2h1v13.17h-1zM701 550.2h1v13.17h-1zM707 550.2h1v13.17h-1zM710 550.2h1v13.17h-1zM734 550.2h1v13.17h-1zM828 550.2h2v13.17h-2zM900 550.2h3v13.17h-3zM906 550.2h1v13.17h-1zM939 550.2h1v13.17h-1zM942 550.2h1v13.17h-1zM949 550.2h1v13.17h-1zM964 550.2h2v13.17h-2zM967 550.2h4v13.17h-4zM984 550.2h1v13.17h-1zM986 550.2h2v13.17h-2zM1068 550.2h1v13.17h-1zM225 563.4h1v13.17h-1zM301 563.4h1v13.17h-1zM349 563.4h1v13.17h-1zM655 563.4h2v13.17h-2zM841 563.4h1v13.17h-1zM1056 563.4h1v13.17h-1zM1154 563.4h1v13.17h-1zM192 576.5h2v13.17h-2zM239 576.5h2v13.17h-2zM254 576.5h1v13.17h-1zM296 576.5h1v13.17h-1zM309 576.5h1v13.17h-1zM312 576.5h1v13.17h-1zM315 576.5h1v13.17h-1zM317 576.5h1v13.17h-1zM326 576.5h1v13.17h-1zM331 576.5h1v13.17h-1zM334 576.5h2v13.17h-2zM443 576.5h1v13.17h-1zM454 576.5h3v13.17h-3zM520 576.5h4v13.17h-4zM528 576.5h1v13.17h-1zM565 576.5h1v13.17h-1zM579 576.5h1v13.17h-1zM586 576.5h2v13.17h-2zM592 576.5h1v13.17h-1zM602 576.5h1v13.17h-1zM610 576.5h1v13.17h-1zM620 576.5h3v13.17h-3zM624 576.5h1v13.17h-1zM653 576.5h3v13.17h-3zM662 576.5h1v13.17h-1zM665 576.5h1v13.17h-1zM669 576.5h2v13.17h-2zM673 576.5h1v13.17h-1zM683 576.5h1v13.17h-1zM705 576.5h1v13.17h-1zM980 576.5h3v13.17h-3zM1095 576.5h1v13.17h-1zM1103 576.5h1v13.17h-1zM1110 576.5h2v13.17h-2zM1115 576.5h2v13.17h-2zM1118 576.5h2v13.17h-2zM1121 576.5h1v13.17h-1zM339 589.7h2v13.17h-2zM360 589.7h1v13.17h-1zM369 589.7h1v13.17h-1zM394 589.7h1v13.17h-1zM447 589.7h2v13.17h-2zM453 589.7h1v13.17h-1zM607 589.7h1v13.17h-1zM626 589.7h1v13.17h-1zM648 589.7h1v13.17h-1zM677 589.7h1v13.17h-1zM681 589.7h1v13.17h-1zM687 589.7h1v13.17h-1zM710 589.7h2v13.17h-2zM715 589.7h1v13.17h-1zM718 589.7h4v13.17h-4zM746 589.7h2v13.17h-2zM954 589.7h1v13.17h-1zM958 589.7h1v13.17h-1zM967 589.7h2v13.17h-2zM972 589.7h2v13.17h-2zM975 589.7h1v13.17h-1zM983 589.7h1v13.17h-1zM1087 589.7h1v13.17h-1zM1093 589.7h1v13.17h-1zM1109 589.7h1v13.17h-1z"/>
<path fill="#edf4fb" d="M240 62.9h1v13.17h-1zM244 62.9h1v13.17h-1zM258 62.9h1v13.17h-1zM269 62.9h1v13.17h-1zM285 62.9h1v13.17h-1zM294 62.9h1v13.17h-1zM318 62.9h1v13.17h-1zM330 62.9h1v13.17h-1zM332 62.9h1v13.17h-1zM334 62.9h4v13.17h-4zM344 62.9h1v13.17h-1zM346 62.9h1v13.17h-1zM351 62.9h1v13.17h-1zM353 62.9h1v13.17h-1zM360 62.9h2v13.17h-2zM363 62.9h1v13.17h-1zM369 62.9h2v13.17h-2zM383 62.9h1v13.17h-1zM395 62.9h1v13.17h-1zM480 62.9h3v13.17h-3zM497 62.9h1v13.17h-1zM523 62.9h1v13.17h-1zM536 62.9h3v13.17h-3zM540 62.9h1v13.17h-1zM548 62.9h2v13.17h-2zM551 62.9h1v13.17h-1zM555 62.9h2v13.17h-2zM585 62.9h1v13.17h-1zM588 62.9h2v13.17h-2zM593 62.9h1v13.17h-1zM620 62.9h1v13.17h-1zM858 62.9h1v13.17h-1zM921 62.9h3v13.17h-3zM935 62.9h1v13.17h-1zM222 76.1h1v13.17h-1zM448 76.1h1v13.17h-1zM460 76.1h2v13.17h-2zM664 76.1h1v13.17h-1zM680 76.1h2v13.17h-2zM699 76.1h2v13.17h-2zM707 76.1h1v13.17h-1zM710 76.1h2v13.17h-2zM797 76.1h1v13.17h-1zM880 76.1h1v13.17h-1zM935 76.1h1v13.17h-1zM938 76.1h1v13.17h-1zM947 76.1h1v13.17h-1zM951 76.1h2v13.17h-2zM972 76.1h1v13.17h-1zM978 76.1h1v13.17h-1zM981 76.1h1v13.17h-1zM999 76.1h1v13.17h-1zM1004 76.1h1v13.17h-1zM1024 76.1h1v13.17h-1zM1028 76.1h4v13.17h-4zM1037 76.1h1v13.17h-1zM1043 76.1h3v13.17h-3zM1049 76.1h1v13.17h-1zM1057 76.1h1v13.17h-1zM1060 76.1h1v13.17h-1zM1065 76.1h3v13.17h-3zM1071 76.1h1v13.17h-1zM1076 76.1h1v13.17h-1zM1080 76.1h2v13.17h-2zM1084 76.1h1v13.17h-1zM1088 76.1h1v13.17h-1zM1095 76.1h1v13.17h-1zM1158 76.1h1v13.17h-1zM171 89.2h1v13.17h-1zM176 89.2h2v13.17h-2zM187 89.2h3v13.17h-3zM194 89.2h1v13.17h-1zM268 89.2h1v13.17h-1zM295 89.2h1v13.17h-1zM351 89.2h1v13.17h-1zM385 89.2h2v13.17h-2zM396 89.2h1v13.17h-1zM453 89.2h1v13.17h-1zM469 89.2h1v13.17h-1zM474 89.2h2v13.17h-2zM477 89.2h1v13.17h-1zM487 89.2h2v13.17h-2zM491 89.2h1v13.17h-1zM494 89.2h2v13.17h-2zM500 89.2h1v13.17h-1zM502 89.2h1v13.17h-1zM509 89.2h2v13.17h-2zM533 89.2h1v13.17h-1zM547 89.2h1v13.17h-1zM559 89.2h1v13.17h-1zM566 89.2h1v13.17h-1zM580 89.2h1v13.17h-1zM584 89.2h4v13.17h-4zM599 89.2h1v13.17h-1zM647 89.2h1v13.17h-1zM757 89.2h1v13.17h-1zM817 89.2h1v13.17h-1zM892 89.2h1v13.17h-1zM931 89.2h1v13.17h-1zM939 89.2h1v13.17h-1zM950 89.2h1v13.17h-1zM953 89.2h1v13.17h-1zM958 89.2h2v13.17h-2zM963 89.2h2v13.17h-2zM969 89.2h1v13.17h-1zM975 89.2h1v13.17h-1zM1059 89.2h1v13.17h-1zM1083 89.2h3v13.17h-3zM1088 89.2h2v13.17h-2zM1093 89.2h2v13.17h-2zM1112 89.2h1v13.17h-1zM1117 89.2h1v13.17h-1zM1121 89.2h1v13.17h-1zM1123 89.2h2v13.17h-2zM1127 89.2h1v13.17h-1zM399 102.4h1v13.17h-1zM599 102.4h1v13.17h-1zM603 102.4h1v13.17h-1zM605 102.4h1v13.17h-1zM612 102.4h2v13.17h-2zM619 102.4h1v13.17h-1zM623 102.4h2v13.17h-2zM629 102.4h4v13.17h-4zM657 102.4h2v13.17h-2zM669 102.4h2v13.17h-2zM675 102.4h1v13.17h-1zM689 102.4h1v13.17h-1zM691 102.4h2v13.17h-2zM695 102.4h1v13.17h-1zM847 102.4h1v13.17h-1zM893 102.4h1v13.17h-1zM940 102.4h2v13.17h-2zM954 102.4h2v13.17h-2zM963 102.4h1v13.17h-1zM965 102.4h4v13.17h-4zM973 102.4h1v13.17h-1zM978 102.4h1v13.17h-1zM983 102.4h2v13.17h-2zM988 102.4h2v13.17h-2zM996 102.4h1v13.17h-1zM1011 102.4h1v13.17h-1zM1033 102.4h1v13.17h-1zM1035 102.4h3v13.17h-3zM1040 102.4h4v13.17h-4zM1050 102.4h3v13.17h-3zM1071 102.4h1v13.17h-1zM1075 102.4h2v13.17h-2zM227 115.6h1v13.17h-1zM300 115.6h1v13.17h-1zM309 115.6h2v13.17h-2zM313 115.6h2v13.17h-2zM324 115.6h1v13.17h-1zM328 115.6h1v13.17h-1zM337 115.6h1v13.17h-1zM348 115.6h2v13.17h-2zM357 115.6h1v13.17h-1zM363 115.6h1v13.17h-1zM368 115.6h2v13.17h-2zM548 115.6h1v13.17h-1zM556 115.6h2v13.17h-2zM564 115.6h1v13.17h-1zM622 115.6h1v13.17h-1zM630 115.6h2v13.17h-2zM808 115.6h1v13.17h-1zM851 115.6h1v13.17h-1zM982 115.6h1v13.17h-1zM1054 115.6h1v13.17h-1zM1111 115.6h1v13.17h-1zM1135 115.6h1v13.17h-1zM1157 115.6h2v13.17h-2zM239 128.8h1v13.17h-1zM262 128.8h1v13.17h-1zM270 128.8h1v13.17h-1zM301 128.8h2v13.17h-2zM311 128.8h1v13.17h-1zM313 128.8h3v13.17h-3zM327 128.8h1v13.17h-1zM331 128.8h1v13.17h-1zM339 128.8h1v13.17h-1zM341 128.8h4v13.17h-4zM351 128.8h1v13.17h-1zM396 128.8h2v13.17h-2zM418 128.8h1v13.17h-1zM423 128.8h1v13.17h-1zM437 128.8h1v13.17h-1zM447 128.8h1v13.17h-1zM451 128.8h1v13.17h-1zM455 128.8h2v13.17h-2zM485 128.8h1v13.17h-1zM488 128.8h1v13.17h-1zM495 128.8h2v13.17h-2zM513 128.8h1v13.17h-1zM540 128.8h1v13.17h-1zM559 128.8h1v13.17h-1zM564 128.8h1v13.17h-1zM573 128.8h1v13.17h-1zM582 128.8h1v13.17h-1zM586 128.8h1v13.17h-1zM594 128.8h1v13.17h-1zM600 128.8h1v13.17h-1zM604 128.8h2v13.17h-2zM607 128.8h2v13.17h-2zM618 128.8h2v13.17h-2zM627 128.8h1v13.17h-1zM652 128.8h2v13.17h-2zM666 128.8h2v13.17h-2zM672 128.8h1v13.17h-1zM687 128.8h1v13.17h-1zM704 128.8h1v13.17h-1zM748 128.8h1v13.17h-1zM772 128.8h1v13.17h-1zM816 128.8h1v13.17h-1zM843 128.8h1v13.17h-1zM860 128.8h2v13.17h-2zM972 128.8h1v13.17h-1zM1056 128.8h1v13.17h-1zM1079 128.8h1v13.17h-1zM1117 128.8h2v13.17h-2zM1128 128.8h1v13.17h-1zM179 141.9h2v13.17h-2zM263 141.9h2v13.17h-2zM281 141.9h1v13.17h-1zM353 141.9h2v13.17h-2zM396 141.9h2v13.17h-2zM547 141.9h1v13.17h-1zM786 141.9h1v13.17h-1zM823 141.9h1v13.17h-1zM837 141.9h2v13.17h-2zM933 141.9h1v13.17h-1zM1002 141.9h2v13.17h-2zM1060 141.9h1v13.17h-1zM1127 141.9h2v13.17h-2zM681 155.1h1v13.17h-1zM693 155.1h1v13.17h-1zM707 155.1h3v13.17h-3zM727 155.1h2v13.17h-2zM731 155.1h1v13.17h-1zM822 155.1h1v13.17h-1zM829 155.1h1v13.17h-1zM221 168.3h2v13.17h-2zM229 168.3h1v13.17h-1zM250 168.3h1v13.17h-1zM316 168.3h1v13.17h-1zM326 168.3h1v13.17h-1zM336 168.3h1v13.17h-1zM340 168.3h3v13.17h-3zM344 168.3h1v13.17h-1zM349 168.3h2v13.17h-2zM361 168.3h1v13.17h-1zM365 168.3h1v13.17h-1zM368 168.3h2v13.17h-2zM468 168.3h2v13.17h-2zM601 168.3h1v13.17h-1zM604 168.3h1v13.17h-1zM611 168.3h1v13.17h-1zM623 168.3h1v13.17h-1zM643 168.3h1v13.17h-1zM664 168.3h2v13.17h-2zM684 168.3h1v13.17h-1zM695 168.3h1v13.17h-1zM700 168.3h2v13.17h-2zM707 168.3h2v13.17h-2zM739 168.3h1v13.17h-1zM826 168.3h1v13.17h-1zM868 168.3h2v13.17h-2zM894 168.3h1v13.17h-1zM920 168.3h1v13.17h-1zM934 168.3h2v13.17h-2zM947 168.3h1v13.17h-1zM951 168.3h1v13.17h-1zM955 168.3h2v13.17h-2zM967 168.3h2v13.17h-2zM972 168.3h1v13.17h-1zM1053 168.3h1v13.17h-1zM1057 168.3h3v13.17h-3zM1064 168.3h1v13.17h-1zM1074 168.3h1v13.17h-1zM1085 168.3h1v13.17h-1zM1089 168.3h1v13.17h-1zM1093 168.3h2v13.17h-2zM1105 168.3h1v13.17h-1zM1108 168.3h2v13.17h-2zM1113 168.3h2v13.17h-2zM1116 168.3h2v13.17h-2zM1121 168.3h1v13.17h-1zM1127 168.3h2v13.17h-2zM1131 168.3h1v13.17h-1zM316 181.4h1v13.17h-1zM321 181.4h2v13.17h-2zM324 181.4h1v13.17h-1zM330 181.4h1v13.17h-1zM353 181.4h2v13.17h-2zM398 181.4h1v13.17h-1zM517 181.4h1v13.17h-1zM650 181.4h2v13.17h-2zM657 181.4h1v13.17h-1zM659 181.4h1v13.17h-1zM669 181.4h2v13.17h-2zM700 181.4h1v13.17h-1zM707 181.4h1v13.17h-1zM716 181.4h1v13.17h-1zM758 181.4h1v13.17h-1zM780 181.4h1v13.17h-1zM788 181.4h1v13.17h-1zM890 181.4h1v13.17h-1zM927 181.4h3v13.17h-3zM935 181.4h1v13.17h-1zM940 181.4h3v13.17h-3zM944 181.4h1v13.17h-1zM948 181.4h1v13.17h-1zM968 181.4h1v13.17h-1zM971 181.4h3v13.17h-3zM1029 181.4h2v13.17h-2zM1034 181.4h2v13.17h-2zM1045 181.4h2v13.17h-2zM1062 181.4h2v13.17h-2zM1066 181.4h2v13.17h-2zM1070 181.4h2v13.17h-2zM1075 181.4h1v13.17h-1zM1077 181.4h1v13.17h-1zM1082 181.4h2v13.17h-2zM1101 181.4h1v13.17h-1zM1125 181.4h2v13.17h-2zM1130 181.4h2v13.17h-2zM321 194.6h1v13.17h-1zM497 194.6h1v13.17h-1zM508 194.6h1v13.17h-1zM617 194.6h1v13.17h-1zM856 194.6h1v13.17h-1zM858 194.6h1v13.17h-1zM867 194.6h1v13.17h-1zM869 194.6h1v13.17h-1zM922 194.6h2v13.17h-2zM976 194.6h1v13.17h-1zM1061 194.6h1v13.17h-1zM1131 194.6h1v13.17h-1zM202 207.8h1v13.17h-1zM212 207.8h1v13.17h-1zM235 207.8h2v13.17h-2zM243 207.8h1v13.17h-1zM330 207.8h1v13.17h-1zM445 207.8h1v13.17h-1zM453 207.8h1v13.17h-1zM590 207.8h1v13.17h-1zM649 207.8h1v13.17h-1zM656 207.8h2v13.17h-2zM661 207.8h2v13.17h-2zM664 207.8h2v13.17h-2zM677 207.8h2v13.17h-2zM683 207.8h1v13.17h-1zM686 207.8h1v13.17h-1zM691 207.8h2v13.17h-2zM700 207.8h2v13.17h-2zM705 207.8h2v13.17h-2zM710 207.8h1v13.17h-1zM1002 207.8h1v13.17h-1zM1101 207.8h2v13.17h-2zM176 220.9h1v13.17h-1zM298 220.9h2v13.17h-2zM301 220.9h1v13.17h-1zM425 220.9h2v13.17h-2zM677 220.9h1v13.17h-1zM729 220.9h1v13.17h-1zM732 220.9h2v13.17h-2zM866 220.9h1v13.17h-1zM916 220.9h2v13.17h-2zM932 220.9h1v13.17h-1zM935 220.9h1v13.17h-1zM945 220.9h3v13.17h-3zM950 220.9h1v13.17h-1zM958 220.9h1v13.17h-1zM961 220.9h1v13.17h-1zM972 220.9h1v13.17h-1zM1058 220.9h1v13.17h-1zM1120 220.9h1v13.17h-1zM189 234.1h1v13.17h-1zM213 234.1h1v13.17h-1zM328 234.1h1v13.17h-1zM394 234.1h2v13.17h-2zM438 234.1h1v13.17h-1zM542 234.1h1v13.17h-1zM574 234.1h1v13.17h-1zM669 234.1h1v13.17h-1zM676 234.1h2v13.17h-2zM679 234.1h1v13.17h-1zM771 234.1h1v13.17h-1zM776 234.1h1v13.17h-1zM878 234.1h2v13.17h-2zM965 234.1h1v13.17h-1zM974 234.1h2v13.17h-2zM1130 234.1h1v13.17h-1zM1138 234.1h3v13.17h-3zM273 247.3h1v13.17h-1zM305 247.3h1v13.17h-1zM424 247.3h2v13.17h-2zM448 247.3h1v13.17h-1zM465 247.3h2v13.17h-2zM621 247.3h1v13.17h-1zM637 247.3h1v13.17h-1zM704 247.3h3v13.17h-3zM757 247.3h1v13.17h-1zM787 247.3h2v13.17h-2zM843 247.3h1v13.17h-1zM968 247.3h1v13.17h-1zM998 247.3h1v13.17h-1zM1060 247.3h2v13.17h-2zM1119 247.3h1v13.17h-1zM1148 247.3h2v13.17h-2zM1157 247.3h1v13.17h-1zM220 260.4h1v13.17h-1zM306 260.4h1v13.17h-1zM424 260.4h1v13.17h-1zM437 260.4h1v13.17h-1zM457 260.4h1v13.17h-1zM461 260.4h1v13.17h-1zM498 260.4h1v13.17h-1zM544 260.4h2v13.17h-2zM658 260.4h1v13.17h-1zM689 260.4h1v13.17h-1zM811 260.4h1v13.17h-1zM855 260.4h1v13.17h-1zM914 260.4h1v13.17h-1zM930 260.4h1v13.17h-1zM936 260.4h1v13.17h-1zM943 260.4h1v13.17h-1zM945 260.4h1v13.17h-1zM983 260.4h1v13.17h-1zM987 260.4h1v13.17h-1zM1096 260.4h1v13.17h-1zM177 273.6h1v13.17h-1zM242 273.6h2v13.17h-2zM278 273.6h1v13.17h-1zM283 273.6h2v13.17h-2zM463 273.6h1v13.17h-1zM518 273.6h1v13.17h-1zM583 273.6h1v13.17h-1zM590 273.6h1v13.17h-1zM681 273.6h1v13.17h-1zM692 273.6h1v13.17h-1zM708 273.6h1v13.17h-1zM735 273.6h2v13.17h-2zM746 273.6h1v13.17h-1zM801 273.6h1v13.17h-1zM867 273.6h1v13.17h-1zM1160 273.6h0.2v13.17h-0.2zM177 286.8h1v13.17h-1zM194 286.8h2v13.17h-2zM224 286.8h1v13.17h-1zM228 286.8h1v13.17h-1zM240 286.8h1v13.17h-1zM259 286.8h1v13.17h-1zM375 286.8h2v13.17h-2zM408 286.8h1v13.17h-1zM586 286.8h1v13.17h-1zM636 286.8h1v13.17h-1zM638 286.8h1v13.17h-1zM646 286.8h1v13.17h-1zM708 286.8h4v13.17h-4zM725 286.8h1v13.17h-1zM730 286.8h1v13.17h-1zM733 286.8h1v13.17h-1zM747 286.8h1v13.17h-1zM751 286.8h2v13.17h-2zM812 286.8h2v13.17h-2zM819 286.8h1v13.17h-1zM829 286.8h2v13.17h-2zM833 286.8h4v13.17h-4zM869 286.8h1v13.17h-1zM964 286.8h1v13.17h-1zM997 286.8h1v13.17h-1zM1022 286.8h2v13.17h-2zM1092 286.8h1v13.17h-1zM1108 286.8h1v13.17h-1zM1117 286.8h2v13.17h-2zM190 300.0h1v13.17h-1zM302 300.0h1v13.17h-1zM383 300.0h1v13.17h-1zM437 300.0h2v13.17h-2zM484 300.0h1v13.17h-1zM530 300.0h1v13.17h-1zM647 300.0h2v13.17h-2zM658 300.0h1v13.17h-1zM701 300.0h1v13.17h-1zM811 300.0h1v13.17h-1zM820 300.0h1v13.17h-1zM868 300.0h1v13.17h-1zM890 300.0h1v13.17h-1zM915 300.0h2v13.17h-2zM954 300.0h1v13.17h-1zM968 300.0h1v13.17h-1zM1035 300.0h1v13.17h-1zM181 313.1h1v13.17h-1zM269 313.1h1v13.17h-1zM384 313.1h2v13.17h-2zM514 313.1h1v13.17h-1zM531 313.1h1v13.17h-1zM565 313.1h2v13.17h-2zM606 313.1h2v13.17h-2zM611 313.1h1v13.17h-1zM618 313.1h1v13.17h-1zM745 313.1h1v13.17h-1zM748 313.1h1v13.17h-1zM842 313.1h1v13.17h-1zM937 313.1h1v13.17h-1zM191 326.3h1v13.17h-1zM203 326.3h2v13.17h-2zM297 326.3h2v13.17h-2zM326 326.3h2v13.17h-2zM358 326.3h1v13.17h-1zM365 326.3h2v13.17h-2zM424 326.3h2v13.17h-2zM508 326.3h1v13.17h-1zM571 326.3h1v13.17h-1zM617 326.3h2v13.17h-2zM695 326.3h1v13.17h-1zM874 326.3h1v13.17h-1zM1036 326.3h1v13.17h-1zM1138 326.3h1v13.17h-1zM388 339.5h1v13.17h-1zM539 339.5h1v13.17h-1zM685 339.5h1v13.17h-1zM689 339.5h1v13.17h-1zM698 339.5h1v13.17h-1zM708 339.5h1v13.17h-1zM711 339.5h1v13.17h-1zM729 339.5h2v13.17h-2zM735 339.5h1v13.17h-1zM766 339.5h2v13.17h-2zM792 339.5h1v13.17h-1zM797 339.5h1v13.17h-1zM804 339.5h1v13.17h-1zM828 339.5h2v13.17h-2zM834 339.5h1v13.17h-1zM837 339.5h1v13.17h-1zM841 339.5h1v13.17h-1zM850 339.5h1v13.17h-1zM852 339.5h1v13.17h-1zM862 339.5h1v13.17h-1zM898 339.5h1v13.17h-1zM906 339.5h1v13.17h-1zM929 339.5h1v13.17h-1zM992 339.5h2v13.17h-2zM1046 339.5h1v13.17h-1zM1155 339.5h2v13.17h-2zM208 352.6h1v13.17h-1zM430 352.6h1v13.17h-1zM451 352.6h2v13.17h-2zM556 352.6h2v13.17h-2zM606 352.6h1v13.17h-1zM644 352.6h1v13.17h-1zM695 352.6h4v13.17h-4zM716 352.6h2v13.17h-2zM724 352.6h1v13.17h-1zM731 352.6h1v13.17h-1zM774 352.6h1v13.17h-1zM918 352.6h1v13.17h-1zM1001 352.6h1v13.17h-1zM1032 352.6h2v13.17h-2zM1070 352.6h1v13.17h-1zM226 365.8h2v13.17h-2zM309 365.8h2v13.17h-2zM381 365.8h2v13.17h-2zM391 365.8h1v13.17h-1zM437 365.8h1v13.17h-1zM439 365.8h1v13.17h-1zM468 365.8h2v13.17h-2zM497 365.8h1v13.17h-1zM503 365.8h1v13.17h-1zM847 365.8h1v13.17h-1zM960 365.8h2v13.17h-2zM1042 365.8h1v13.17h-1zM1058 365.8h1v13.17h-1zM1109 365.8h1v13.17h-1zM1134 365.8h1v13.17h-1zM250 379.0h2v13.17h-2zM282 379.0h2v13.17h-2zM329 379.0h1v13.17h-1zM333 379.0h1v13.17h-1zM411 379.0h1v13.17h-1zM532 379.0h1v13.17h-1zM604 379.0h2v13.17h-2zM618 379.0h1v13.17h-1zM638 379.0h2v13.17h-2zM684 379.0h1v13.17h-1zM717 379.0h1v13.17h-1zM807 379.0h1v13.17h-1zM836 379.0h1v13.17h-1zM895 379.0h2v13.17h-2zM1000 379.0h1v13.17h-1zM1115 379.0h1v13.17h-1zM214 392.1h1v13.17h-1zM337 392.1h1v13.17h-1zM353 392.1h1v13.17h-1zM369 392.1h1v13.17h-1zM527 392.1h1v13.17h-1zM593 392.1h2v13.17h-2zM597 392.1h1v13.17h-1zM889 392.1h1v13.17h-1zM963 392.1h1v13.17h-1zM966 392.1h1v13.17h-1zM993 392.1h1v13.17h-1zM1076 392.1h1v13.17h-1zM1089 392.1h1v13.17h-1zM179 405.3h1v13.17h-1zM199 405.3h1v13.17h-1zM339 405.3h1v13.17h-1zM354 405.3h1v13.17h-1zM429 405.3h2v13.17h-2zM456 405.3h1v13.17h-1zM470 405.3h1v13.17h-1zM478 405.3h1v13.17h-1zM485 405.3h1v13.17h-1zM498 405.3h2v13.17h-2zM504 405.3h2v13.17h-2zM507 405.3h1v13.17h-1zM510 405.3h1v13.17h-1zM512 405.3h1v13.17h-1zM517 405.3h2v13.17h-2zM529 405.3h1v13.17h-1zM534 405.3h2v13.17h-2zM538 405.3h2v13.17h-2zM545 405.3h1v13.17h-1zM561 405.3h5v13.17h-5zM572 405.3h1v13.17h-1zM588 405.3h2v13.17h-2zM647 405.3h2v13.17h-2zM785 405.3h1v13.17h-1zM815 405.3h2v13.17h-2zM894 405.3h1v13.17h-1zM945 405.3h1v13.17h-1zM990 405.3h1v13.17h-1zM1017 405.3h1v13.17h-1zM1100 405.3h1v13.17h-1zM1103 405.3h1v13.17h-1zM182 418.5h1v13.17h-1zM187 418.5h1v13.17h-1zM192 418.5h2v13.17h-2zM199 418.5h2v13.17h-2zM217 418.5h3v13.17h-3zM221 418.5h1v13.17h-1zM305 418.5h1v13.17h-1zM396 418.5h1v13.17h-1zM430 418.5h1v13.17h-1zM453 418.5h2v13.17h-2zM479 418.5h2v13.17h-2zM524 418.5h1v13.17h-1zM528 418.5h1v13.17h-1zM536 418.5h1v13.17h-1zM552 418.5h1v13.17h-1zM557 418.5h1v13.17h-1zM570 418.5h2v13.17h-2zM575 418.5h1v13.17h-1zM578 418.5h1v13.17h-1zM598 418.5h1v13.17h-1zM615 418.5h1v13.17h-1zM622 418.5h1v13.17h-1zM627 418.5h1v13.17h-1zM695 418.5h2v13.17h-2zM698 418.5h1v13.17h-1zM701 418.5h2v13.17h-2zM710 418.5h1v13.17h-1zM715 418.5h1v13.17h-1zM720 418.5h1v13.17h-1zM820 418.5h2v13.17h-2zM877 418.5h1v13.17h-1zM936 418.5h3v13.17h-3zM940 418.5h1v13.17h-1zM953 418.5h1v13.17h-1zM968 418.5h2v13.17h-2zM982 418.5h2v13.17h-2zM988 418.5h1v13.17h-1zM993 418.5h1v13.17h-1zM995 418.5h1v13.17h-1zM1008 418.5h1v13.17h-1zM1060 418.5h2v13.17h-2zM1079 418.5h1v13.17h-1zM1134 418.5h1v13.17h-1zM182 431.7h1v13.17h-1zM222 431.7h1v13.17h-1zM334 431.7h2v13.17h-2zM355 431.7h1v13.17h-1zM416 431.7h1v13.17h-1zM486 431.7h2v13.17h-2zM620 431.7h2v13.17h-2zM724 431.7h1v13.17h-1zM769 431.7h1v13.17h-1zM898 431.7h2v13.17h-2zM909 431.7h1v13.17h-1zM955 431.7h1v13.17h-1zM962 431.7h1v13.17h-1zM1021 431.7h2v13.17h-2zM235 444.8h2v13.17h-2zM248 444.8h1v13.17h-1zM258 444.8h3v13.17h-3zM265 444.8h1v13.17h-1zM279 444.8h3v13.17h-3zM284 444.8h1v13.17h-1zM293 444.8h1v13.17h-1zM295 444.8h2v13.17h-2zM300 444.8h1v13.17h-1zM316 444.8h1v13.17h-1zM331 444.8h3v13.17h-3zM418 444.8h1v13.17h-1zM467 444.8h1v13.17h-1zM476 444.8h2v13.17h-2zM489 444.8h3v13.17h-3zM494 444.8h2v13.17h-2zM504 444.8h2v13.17h-2zM507 444.8h1v13.17h-1zM520 444.8h2v13.17h-2zM523 444.8h2v13.17h-2zM527 444.8h2v13.17h-2zM530 444.8h1v13.17h-1zM533 444.8h1v13.17h-1zM538 444.8h1v13.17h-1zM553 444.8h1v13.17h-1zM560 444.8h1v13.17h-1zM571 444.8h1v13.17h-1zM582 444.8h2v13.17h-2zM588 444.8h1v13.17h-1zM595 444.8h1v13.17h-1zM609 444.8h1v13.17h-1zM614 444.8h1v13.17h-1zM621 444.8h1v13.17h-1zM630 444.8h1v13.17h-1zM668 444.8h1v13.17h-1zM670 444.8h1v13.17h-1zM674 444.8h1v13.17h-1zM686 444.8h1v13.17h-1zM691 444.8h1v13.17h-1zM699 444.8h1v13.17h-1zM706 444.8h1v13.17h-1zM711 444.8h2v13.17h-2zM721 444.8h1v13.17h-1zM810 444.8h1v13.17h-1zM814 444.8h2v13.17h-2zM821 444.8h1v13.17h-1zM874 444.8h1v13.17h-1zM941 444.8h1v13.17h-1zM1032 444.8h2v13.17h-2zM1040 444.8h1v13.17h-1zM197 458.0h1v13.17h-1zM256 458.0h1v13.17h-1zM336 458.0h1v13.17h-1zM338 458.0h1v13.17h-1zM346 458.0h1v13.17h-1zM357 458.0h1v13.17h-1zM517 458.0h1v13.17h-1zM630 458.0h1v13.17h-1zM744 458.0h2v13.17h-2zM752 458.0h1v13.17h-1zM807 458.0h1v13.17h-1zM859 458.0h1v13.17h-1zM872 458.0h1v13.17h-1zM981 458.0h1v13.17h-1zM1098 458.0h1v13.17h-1zM192 471.2h1v13.17h-1zM209 471.2h1v13.17h-1zM236 471.2h2v13.17h-2zM268 471.2h1v13.17h-1zM273 471.2h1v13.17h-1zM335 471.2h1v13.17h-1zM346 471.2h1v13.17h-1zM380 471.2h1v13.17h-1zM458 471.2h1v13.17h-1zM555 471.2h1v13.17h-1zM576 471.2h1v13.17h-1zM602 471.2h1v13.17h-1zM606 471.2h1v13.17h-1zM733 471.2h1v13.17h-1zM864 471.2h1v13.17h-1zM1016 471.2h2v13.17h-2zM1028 471.2h1v13.17h-1zM1040 471.2h2v13.17h-2zM1083 471.2h1v13.17h-1zM1117 471.2h1v13.17h-1zM206 484.3h2v13.17h-2zM344 484.3h1v13.17h-1zM349 484.3h1v13.17h-1zM355 484.3h1v13.17h-1zM665 484.3h1v13.17h-1zM705 484.3h1v13.17h-1zM768 484.3h2v13.17h-2zM782 484.3h1v13.17h-1zM928 484.3h1v13.17h-1zM1086 484.3h2v13.17h-2zM1105 484.3h1v13.17h-1zM1116 484.3h2v13.17h-2zM176 497.5h1v13.17h-1zM222 497.5h1v13.17h-1zM356 497.5h2v13.17h-2zM381 497.5h1v13.17h-1zM448 497.5h2v13.17h-2zM457 497.5h1v13.17h-1zM521 497.5h1v13.17h-1zM568 497.5h1v13.17h-1zM586 497.5h2v13.17h-2zM632 497.5h2v13.17h-2zM636 497.5h1v13.17h-1zM696 497.5h1v13.17h-1zM718 497.5h2v13.17h-2zM740 497.5h1v13.17h-1zM810 497.5h1v13.17h-1zM812 497.5h2v13.17h-2zM830 497.5h1v13.17h-1zM867 497.5h1v13.17h-1zM896 497.5h2v13.17h-2zM930 497.5h1v13.17h-1zM935 497.5h1v13.17h-1zM961 497.5h2v13.17h-2zM1034 497.5h1v13.17h-1zM1062 497.5h1v13.17h-1zM194 510.7h1v13.17h-1zM234 510.7h1v13.17h-1zM264 510.7h1v13.17h-1zM350 510.7h1v13.17h-1zM394 510.7h1v13.17h-1zM462 510.7h1v13.17h-1zM467 510.7h1v13.17h-1zM560 510.7h1v13.17h-1zM622 510.7h1v13.17h-1zM645 510.7h1v13.17h-1zM651 510.7h3v13.17h-3zM656 510.7h1v13.17h-1zM685 510.7h2v13.17h-2zM719 510.7h2v13.17h-2zM737 510.7h2v13.17h-2zM748 510.7h1v13.17h-1zM871 510.7h1v13.17h-1zM874 510.7h1v13.17h-1zM877 510.7h2v13.17h-2zM998 510.7h1v13.17h-1zM1030 510.7h1v13.17h-1zM1075 510.7h1v13.17h-1zM1079 510.7h1v13.17h-1zM250 523.9h1v13.17h-1zM253 523.9h1v13.17h-1zM343 523.9h2v13.17h-2zM370 523.9h2v13.17h-2zM442 523.9h1v13.17h-1zM516 523.9h1v13.17h-1zM542 523.9h1v13.17h-1zM544 523.9h1v13.17h-1zM588 523.9h1v13.17h-1zM606 523.9h1v13.17h-1zM628 523.9h1v13.17h-1zM678 523.9h1v13.17h-1zM919 523.9h1v13.17h-1zM1023 523.9h1v13.17h-1zM1072 523.9h1v13.17h-1zM1082 523.9h2v13.17h-2zM226 537.0h1v13.17h-1zM229 537.0h1v13.17h-1zM239 537.0h1v13.17h-1zM241 537.0h1v13.17h-1zM246 537.0h1v13.17h-1zM345 537.0h1v13.17h-1zM355 537.0h1v13.17h-1zM447 537.0h2v13.17h-2zM457 537.0h1v13.17h-1zM460 537.0h2v13.17h-2zM465 537.0h1v13.17h-1zM501 537.0h1v13.17h-1zM504 537.0h2v13.17h-2zM507 537.0h2v13.17h-2zM512 537.0h1v13.17h-1zM517 537.0h1v13.17h-1zM521 537.0h2v13.17h-2zM532 537.0h1v13.17h-1zM536 537.0h2v13.17h-2zM540 537.0h1v13.17h-1zM542 537.0h1v13.17h-1zM544 537.0h2v13.17h-2zM550 537.0h2v13.17h-2zM556 537.0h1v13.17h-1zM568 537.0h1v13.17h-1zM570 537.0h1v13.17h-1zM637 537.0h1v13.17h-1zM660 537.0h1v13.17h-1zM662 537.0h1v13.17h-1zM677 537.0h1v13.17h-1zM680 537.0h2v13.17h-2zM695 537.0h1v13.17h-1zM706 537.0h2v13.17h-2zM731 537.0h1v13.17h-1zM736 537.0h2v13.17h-2zM742 537.0h1v13.17h-1zM859 537.0h2v13.17h-2zM865 537.0h1v13.17h-1zM869 537.0h3v13.17h-3zM873 537.0h1v13.17h-1zM880 537.0h2v13.17h-2zM891 537.0h2v13.17h-2zM903 537.0h1v13.17h-1zM966 537.0h1v13.17h-1zM1050 537.0h2v13.17h-2zM1053 537.0h1v13.17h-1zM1067 537.0h1v13.17h-1zM1084 537.0h1v13.17h-1zM1095 537.0h1v13.17h-1zM1120 537.0h2v13.17h-2zM249 550.2h2v13.17h-2zM277 550.2h2v13.17h-2zM283 550.2h2v13.17h-2zM553 550.2h1v13.17h-1zM567 550.2h1v13.17h-1zM573 550.2h1v13.17h-1zM581 550.2h2v13.17h-2zM588 550.2h1v13.17h-1zM591 550.2h1v13.17h-1zM598 550.2h2v13.17h-2zM606 550.2h2v13.17h-2zM615 550.2h1v13.17h-1zM625 550.2h3v13.17h-3zM720 550.2h5v13.17h-5zM952 550.2h1v13.17h-1zM959 550.2h1v13.17h-1zM983 550.2h1v13.17h-1zM1115 550.2h4v13.17h-4zM185 563.4h1v13.17h-1zM211 563.4h1v13.17h-1zM223 563.4h2v13.17h-2zM506 563.4h1v13.17h-1zM565 563.4h1v13.17h-1zM585 563.4h1v13.17h-1zM654 563.4h1v13.17h-1zM738 563.4h1v13.17h-1zM749 563.4h1v13.17h-1zM757 563.4h1v13.17h-1zM854 563.4h2v13.17h-2zM904 563.4h2v13.17h-2zM1109 563.4h1v13.17h-1zM313 576.5h1v13.17h-1zM320 576.5h1v13.17h-1zM322 576.5h3v13.17h-3zM333 576.5h1v13.17h-1zM339 576.5h2v13.17h-2zM346 576.5h2v13.17h-2zM354 576.5h1v13.17h-1zM359 576.5h1v13.17h-1zM363 576.5h1v13.17h-1zM447 576.5h1v13.17h-1zM452 576.5h1v13.17h-1zM457 576.5h2v13.17h-2zM551 576.5h1v13.17h-1zM562 576.5h1v13.17h-1zM567 576.5h2v13.17h-2zM572 576.5h1v13.17h-1zM578 576.5h1v13.17h-1zM580 576.5h2v13.17h-2zM584 576.5h2v13.17h-2zM594 576.5h1v13.17h-1zM612 576.5h4v13.17h-4zM626 576.5h1v13.17h-1zM633 576.5h6v13.17h-6zM645 576.5h2v13.17h-2zM650 576.5h1v13.17h-1zM657 576.5h2v13.17h-2zM663 576.5h1v13.17h-1zM696 576.5h2v13.17h-2zM700 576.5h2v13.17h-2zM713 576.5h1v13.17h-1zM731 576.5h2v13.17h-2zM961 576.5h1v13.17h-1zM963 576.5h1v13.17h-1zM966 576.5h4v13.17h-4zM974 576.5h2v13.17h-2zM986 576.5h1v13.17h-1zM1106 576.5h1v13.17h-1zM1125 576.5h1v13.17h-1zM1129 576.5h2v13.17h-2zM251 589.7h2v13.17h-2zM326 589.7h1v13.17h-1zM363 589.7h2v13.17h-2zM368 589.7h1v13.17h-1zM451 589.7h1v13.17h-1zM454 589.7h2v13.17h-2zM461 589.7h2v13.17h-2zM636 589.7h1v13.17h-1zM659 589.7h1v13.17h-1zM667 589.7h1v13.17h-1zM673 589.7h1v13.17h-1zM675 589.7h1v13.17h-1zM680 589.7h1v13.17h-1zM686 589.7h1v13.17h-1zM700 589.7h1v13.17h-1zM708 589.7h2v13.17h-2zM716 589.7h2v13.17h-2zM725 589.7h1v13.17h-1zM728 589.7h2v13.17h-2zM736 589.7h1v13.17h-1zM744 589.7h2v13.17h-2zM750 589.7h1v13.17h-1zM753 589.7h1v13.17h-1zM767 589.7h1v13.17h-1zM955 589.7h1v13.17h-1zM959 589.7h1v13.17h-1zM979 589.7h1v13.17h-1zM981 589.7h2v13.17h-2zM1092 589.7h1v13.17h-1zM1100 589.7h1v13.17h-1zM1110 589.7h2v13.17h-2zM1116 589.7h1v13.17h-1z"/>
<path fill="#eef5fb" d="M242 62.9h1v13.17h-1zM250 62.9h4v13.17h-4zM293 62.9h1v13.17h-1zM321 62.9h1v13.17h-1zM343 62.9h1v13.17h-1zM345 62.9h1v13.17h-1zM347 62.9h4v13.17h-4zM357 62.9h1v13.17h-1zM364 62.9h1v13.17h-1zM399 62.9h1v13.17h-1zM427 62.9h1v13.17h-1zM431 62.9h1v13.17h-1zM436 62.9h1v13.17h-1zM443 62.9h3v13.17h-3zM451 62.9h1v13.17h-1zM471 62.9h2v13.17h-2zM474 62.9h1v13.17h-1zM485 62.9h1v13.17h-1zM487 62.9h1v13.17h-1zM496 62.9h1v13.17h-1zM509 62.9h1v13.17h-1zM535 62.9h1v13.17h-1zM550 62.9h1v13.17h-1zM552 62.9h2v13.17h-2zM557 62.9h1v13.17h-1zM559 62.9h2v13.17h-2zM563 62.9h3v13.17h-3zM587 62.9h1v13.17h-1zM591 62.9h1v13.17h-1zM598 62.9h1v13.17h-1zM604 62.9h1v13.17h-1zM606 62.9h1v13.17h-1zM611 62.9h1v13.17h-1zM621 62.9h1v13.17h-1zM625 62.9h2v13.17h-2zM628 62.9h1v13.17h-1zM640 62.9h2v13.17h-2zM705 62.9h1v13.17h-1zM710 62.9h1v13.17h-1zM714 62.9h1v13.17h-1zM745 62.9h2v13.17h-2zM756 62.9h2v13.17h-2zM767 62.9h1v13.17h-1zM845 62.9h2v13.17h-2zM872 62.9h2v13.17h-2zM901 62.9h1v13.17h-1zM904 62.9h1v13.17h-1zM906 62.9h1v13.17h-1zM914 62.9h1v13.17h-1zM927 62.9h1v13.17h-1zM931 62.9h1v13.17h-1zM936 62.9h1v13.17h-1zM939 62.9h1v13.17h-1zM941 62.9h1v13.17h-1zM1100 62.9h1v13.17h-1zM399 76.1h1v13.17h-1zM426 76.1h2v13.17h-2zM462 76.1h1v13.17h-1zM646 76.1h1v13.17h-1zM652 76.1h3v13.17h-3zM659 76.1h2v13.17h-2zM673 76.1h1v13.17h-1zM675 76.1h1v13.17h-1zM679 76.1h1v13.17h-1zM695 76.1h2v13.17h-2zM703 76.1h1v13.17h-1zM713 76.1h2v13.17h-2zM722 76.1h1v13.17h-1zM814 76.1h1v13.17h-1zM899 76.1h1v13.17h-1zM943 76.1h1v13.17h-1zM956 76.1h1v13.17h-1zM958 76.1h3v13.17h-3zM964 76.1h2v13.17h-2zM1017 76.1h1v13.17h-1zM1034 76.1h3v13.17h-3zM1047 76.1h1v13.17h-1zM1070 76.1h1v13.17h-1zM1087 76.1h1v13.17h-1zM1092 76.1h3v13.17h-3zM1104 76.1h2v13.17h-2zM1115 76.1h1v13.17h-1zM174 89.2h1v13.17h-1zM180 89.2h1v13.17h-1zM266 89.2h1v13.17h-1zM283 89.2h2v13.17h-2zM476 89.2h1v13.17h-1zM486 89.2h1v13.17h-1zM511 89.2h3v13.17h-3zM517 89.2h1v13.17h-1zM554 89.2h1v13.17h-1zM564 89.2h2v13.17h-2zM568 89.2h1v13.17h-1zM572 89.2h5v13.17h-5zM588 89.2h5v13.17h-5zM596 89.2h1v13.17h-1zM600 89.2h2v13.17h-2zM605 89.2h1v13.17h-1zM607 89.2h1v13.17h-1zM612 89.2h1v13.17h-1zM615 89.2h3v13.17h-3zM674 89.2h1v13.17h-1zM701 89.2h1v13.17h-1zM847 89.2h1v13.17h-1zM863 89.2h1v13.17h-1zM886 89.2h1v13.17h-1zM951 89.2h1v13.17h-1zM978 89.2h1v13.17h-1zM987 89.2h2v13.17h-2zM1090 89.2h2v13.17h-2zM1107 89.2h1v13.17h-1zM1113 89.2h4v13.17h-4zM1130 89.2h1v13.17h-1zM1159 89.2h1v13.17h-1zM396 102.4h2v13.17h-2zM453 102.4h1v13.17h-1zM459 102.4h2v13.17h-2zM497 102.4h1v13.17h-1zM608 102.4h1v13.17h-1zM625 102.4h2v13.17h-2zM652 102.4h1v13.17h-1zM656 102.4h1v13.17h-1zM659 102.4h1v13.17h-1zM676 102.4h2v13.17h-2zM684 102.4h2v13.17h-2zM688 102.4h1v13.17h-1zM700 102.4h2v13.17h-2zM710 102.4h1v13.17h-1zM727 102.4h1v13.17h-1zM846 102.4h1v13.17h-1zM865 102.4h1v13.17h-1zM945 102.4h2v13.17h-2zM961 102.4h1v13.17h-1zM964 102.4h1v13.17h-1zM972 102.4h1v13.17h-1zM976 102.4h1v13.17h-1zM994 102.4h1v13.17h-1zM1005 102.4h2v13.17h-2zM1012 102.4h3v13.17h-3zM1021 102.4h1v13.17h-1zM1025 102.4h2v13.17h-2zM1032 102.4h1v13.17h-1zM1034 102.4h1v13.17h-1zM1044 102.4h1v13.17h-1zM1047 102.4h2v13.17h-2zM1056 102.4h2v13.17h-2zM1062 102.4h1v13.17h-1zM1077 102.4h1v13.17h-1zM1094 102.4h1v13.17h-1zM1109 102.4h1v13.17h-1zM1111 102.4h1v13.17h-1zM195 115.6h2v13.17h-2zM223 115.6h1v13.17h-1zM230 115.6h1v13.17h-1zM236 115.6h1v13.17h-1zM317 115.6h1v13.17h-1zM336 115.6h1v13.17h-1zM343 115.6h1v13.17h-1zM346 115.6h1v13.17h-1zM350 115.6h1v13.17h-1zM353 115.6h1v13.17h-1zM364 115.6h1v13.17h-1zM495 115.6h2v13.17h-2zM583 115.6h2v13.17h-2zM751 115.6h1v13.17h-1zM872 115.6h1v13.17h-1zM954 115.6h1v13.17h-1zM245 128.8h1v13.17h-1zM254 128.8h1v13.17h-1zM275 128.8h2v13.17h-2zM284 128.8h1v13.17h-1zM299 128.8h1v13.17h-1zM306 128.8h1v13.17h-1zM326 128.8h1v13.17h-1zM329 128.8h1v13.17h-1zM333 128.8h1v13.17h-1zM337 128.8h1v13.17h-1zM340 128.8h1v13.17h-1zM350 128.8h1v13.17h-1zM355 128.8h1v13.17h-1zM360 128.8h1v13.17h-1zM362 128.8h2v13.17h-2zM365 128.8h1v13.17h-1zM369 128.8h1v13.17h-1zM386 128.8h2v13.17h-2zM398 128.8h1v13.17h-1zM446 128.8h1v13.17h-1zM448 128.8h1v13.17h-1zM450 128.8h1v13.17h-1zM457 128.8h2v13.17h-2zM460 128.8h2v13.17h-2zM487 128.8h1v13.17h-1zM500 128.8h2v13.17h-2zM529 128.8h1v13.17h-1zM549 128.8h1v13.17h-1zM555 128.8h1v13.17h-1zM570 128.8h1v13.17h-1zM574 128.8h3v13.17h-3zM578 128.8h2v13.17h-2zM583 128.8h1v13.17h-1zM596 128.8h3v13.17h-3zM602 128.8h2v13.17h-2zM612 128.8h2v13.17h-2zM620 128.8h1v13.17h-1zM630 128.8h3v13.17h-3zM662 128.8h1v13.17h-1zM670 128.8h2v13.17h-2zM675 128.8h1v13.17h-1zM683 128.8h2v13.17h-2zM688 128.8h2v13.17h-2zM693 128.8h2v13.17h-2zM699 128.8h2v13.17h-2zM713 128.8h1v13.17h-1zM715 128.8h5v13.17h-5zM721 128.8h1v13.17h-1zM724 128.8h1v13.17h-1zM729 128.8h1v13.17h-1zM895 128.8h1v13.17h-1zM1088 128.8h1v13.17h-1zM1092 128.8h1v13.17h-1zM1100 128.8h1v13.17h-1zM1120 128.8h1v13.17h-1zM1142 128.8h1v13.17h-1zM1159 128.8h1.2v13.17h-1.2zM169 141.9h2v13.17h-2zM272 141.9h1v13.17h-1zM467 141.9h1v13.17h-1zM517 141.9h1v13.17h-1zM564 141.9h1v13.17h-1zM736 141.9h2v13.17h-2zM860 141.9h1v13.17h-1zM924 141.9h2v13.17h-2zM1160 141.9h0.2v13.17h-0.2zM237 168.3h3v13.17h-3zM334 168.3h1v13.17h-1zM351 168.3h1v13.17h-1zM360 168.3h1v13.17h-1zM362 168.3h2v13.17h-2zM366 168.3h2v13.17h-2zM370 168.3h1v13.17h-1zM386 168.3h2v13.17h-2zM390 168.3h1v13.17h-1zM445 168.3h1v13.17h-1zM620 168.3h1v13.17h-1zM624 168.3h1v13.17h-1zM631 168.3h2v13.17h-2zM650 168.3h1v13.17h-1zM653 168.3h1v13.17h-1zM660 168.3h1v13.17h-1zM673 168.3h1v13.17h-1zM685 168.3h1v13.17h-1zM698 168.3h2v13.17h-2zM712 168.3h1v13.17h-1zM714 168.3h1v13.17h-1zM717 168.3h2v13.17h-2zM723 168.3h1v13.17h-1zM751 168.3h1v13.17h-1zM754 168.3h2v13.17h-2zM854 168.3h1v13.17h-1zM884 168.3h2v13.17h-2zM928 168.3h1v13.17h-1zM939 168.3h1v13.17h-1zM948 168.3h1v13.17h-1zM952 168.3h3v13.17h-3zM958 168.3h1v13.17h-1zM970 168.3h1v13.17h-1zM973 168.3h1v13.17h-1zM976 168.3h1v13.17h-1zM979 168.3h1v13.17h-1zM981 168.3h1v13.17h-1zM984 168.3h2v13.17h-2zM1115 168.3h1v13.17h-1zM1120 168.3h1v13.17h-1zM1148 168.3h2v13.17h-2zM327 181.4h1v13.17h-1zM343 181.4h3v13.17h-3zM363 181.4h1v13.17h-1zM553 181.4h2v13.17h-2zM620 181.4h1v13.17h-1zM632 181.4h2v13.17h-2zM652 181.4h1v13.17h-1zM655 181.4h1v13.17h-1zM658 181.4h1v13.17h-1zM660 181.4h2v13.17h-2zM665 181.4h1v13.17h-1zM676 181.4h4v13.17h-4zM692 181.4h1v13.17h-1zM695 181.4h5v13.17h-5zM705 181.4h2v13.17h-2zM710 181.4h1v13.17h-1zM718 181.4h2v13.17h-2zM721 181.4h2v13.17h-2zM846 181.4h1v13.17h-1zM882 181.4h1v13.17h-1zM926 181.4h1v13.17h-1zM943 181.4h1v13.17h-1zM946 181.4h1v13.17h-1zM950 181.4h2v13.17h-2zM962 181.4h1v13.17h-1zM979 181.4h5v13.17h-5zM988 181.4h1v13.17h-1zM1054 181.4h1v13.17h-1zM1068 181.4h1v13.17h-1zM1074 181.4h1v13.17h-1zM1099 181.4h2v13.17h-2zM1107 181.4h1v13.17h-1zM1115 181.4h1v13.17h-1zM1118 181.4h1v13.17h-1zM1121 181.4h1v13.17h-1zM1123 181.4h2v13.17h-2zM368 194.6h1v13.17h-1zM440 194.6h1v13.17h-1zM520 194.6h1v13.17h-1zM632 194.6h1v13.17h-1zM785 194.6h1v13.17h-1zM837 194.6h1v13.17h-1zM1031 194.6h1v13.17h-1zM1155 194.6h2v13.17h-2zM172 207.8h1v13.17h-1zM200 207.8h1v13.17h-1zM231 207.8h1v13.17h-1zM321 207.8h1v13.17h-1zM423 207.8h1v13.17h-1zM497 207.8h1v13.17h-1zM535 207.8h1v13.17h-1zM579 207.8h1v13.17h-1zM581 207.8h1v13.17h-1zM617 207.8h1v13.17h-1zM621 207.8h3v13.17h-3zM625 207.8h2v13.17h-2zM681 207.8h2v13.17h-2zM684 207.8h2v13.17h-2zM694 207.8h2v13.17h-2zM702 207.8h1v13.17h-1zM707 207.8h1v13.17h-1zM712 207.8h1v13.17h-1zM716 207.8h1v13.17h-1zM942 207.8h1v13.17h-1zM980 207.8h1v13.17h-1zM1004 207.8h2v13.17h-2zM1104 207.8h1v13.17h-1zM1130 207.8h2v13.17h-2zM179 220.9h1v13.17h-1zM202 220.9h1v13.17h-1zM283 220.9h1v13.17h-1zM373 220.9h1v13.17h-1zM401 220.9h2v13.17h-2zM416 220.9h2v13.17h-2zM576 220.9h1v13.17h-1zM597 220.9h1v13.17h-1zM682 220.9h1v13.17h-1zM695 220.9h1v13.17h-1zM730 220.9h2v13.17h-2zM850 220.9h2v13.17h-2zM854 220.9h2v13.17h-2zM857 220.9h1v13.17h-1zM863 220.9h1v13.17h-1zM871 220.9h3v13.17h-3zM923 220.9h2v13.17h-2zM942 220.9h1v13.17h-1zM959 220.9h1v13.17h-1zM988 220.9h1v13.17h-1zM990 220.9h1v13.17h-1zM1015 220.9h2v13.17h-2zM1044 220.9h1v13.17h-1zM302 234.1h1v13.17h-1zM390 234.1h1v13.17h-1zM444 234.1h1v13.17h-1zM457 234.1h2v13.17h-2zM546 234.1h1v13.17h-1zM745 234.1h1v13.17h-1zM800 234.1h1v13.17h-1zM1050 234.1h2v13.17h-2zM261 247.3h2v13.17h-2zM267 247.3h2v13.17h-2zM304 247.3h1v13.17h-1zM318 247.3h1v13.17h-1zM376 247.3h1v13.17h-1zM397 247.3h2v13.17h-2zM468 247.3h1v13.17h-1zM484 247.3h1v13.17h-1zM613 247.3h1v13.17h-1zM643 247.3h1v13.17h-1zM656 247.3h1v13.17h-1zM768 247.3h1v13.17h-1zM774 247.3h3v13.17h-3zM781 247.3h2v13.17h-2zM789 247.3h1v13.17h-1zM854 247.3h1v13.17h-1zM868 247.3h1v13.17h-1zM897 247.3h2v13.17h-2zM925 247.3h1v13.17h-1zM1089 247.3h1v13.17h-1zM178 260.4h1v13.17h-1zM246 260.4h1v13.17h-1zM303 260.4h1v13.17h-1zM398 260.4h2v13.17h-2zM468 260.4h1v13.17h-1zM540 260.4h2v13.17h-2zM604 260.4h1v13.17h-1zM663 260.4h1v13.17h-1zM216 273.6h1v13.17h-1zM291 273.6h1v13.17h-1zM333 273.6h1v13.17h-1zM432 273.6h2v13.17h-2zM445 273.6h2v13.17h-2zM468 273.6h1v13.17h-1zM539 273.6h1v13.17h-1zM593 273.6h1v13.17h-1zM645 273.6h2v13.17h-2zM727 273.6h1v13.17h-1zM829 273.6h2v13.17h-2zM845 273.6h1v13.17h-1zM848 273.6h1v13.17h-1zM851 273.6h1v13.17h-1zM864 273.6h1v13.17h-1zM932 273.6h1v13.17h-1zM1011 273.6h1v13.17h-1zM1091 273.6h1v13.17h-1zM1106 273.6h1v13.17h-1zM322 286.8h1v13.17h-1zM343 286.8h2v13.17h-2zM365 286.8h2v13.17h-2zM541 286.8h1v13.17h-1zM543 286.8h1v13.17h-1zM686 286.8h1v13.17h-1zM692 286.8h2v13.17h-2zM703 286.8h2v13.17h-2zM734 286.8h2v13.17h-2zM737 286.8h1v13.17h-1zM814 286.8h1v13.17h-1zM823 286.8h1v13.17h-1zM842 286.8h2v13.17h-2zM891 286.8h1v13.17h-1zM990 286.8h2v13.17h-2zM1090 286.8h1v13.17h-1zM246 300.0h1v13.17h-1zM299 300.0h1v13.17h-1zM399 300.0h3v13.17h-3zM445 300.0h2v13.17h-2zM479 300.0h1v13.17h-1zM511 300.0h1v13.17h-1zM571 300.0h2v13.17h-2zM711 300.0h1v13.17h-1zM808 300.0h2v13.17h-2zM925 300.0h1v13.17h-1zM981 300.0h1v13.17h-1zM1074 300.0h2v13.17h-2zM1120 300.0h2v13.17h-2zM214 313.1h1v13.17h-1zM299 313.1h1v13.17h-1zM502 313.1h1v13.17h-1zM512 313.1h1v13.17h-1zM535 313.1h1v13.17h-1zM579 313.1h1v13.17h-1zM664 313.1h1v13.17h-1zM747 313.1h1v13.17h-1zM771 313.1h1v13.17h-1zM874 313.1h1v13.17h-1zM882 313.1h1v13.17h-1zM946 313.1h1v13.17h-1zM951 313.1h1v13.17h-1zM976 313.1h1v13.17h-1zM997 313.1h4v13.17h-4zM1038 313.1h2v13.17h-2zM1128 313.1h1v13.17h-1zM1146 313.1h1v13.17h-1zM1148 313.1h2v13.17h-2zM484 326.3h1v13.17h-1zM557 326.3h1v13.17h-1zM607 326.3h2v13.17h-2zM685 326.3h1v13.17h-1zM717 326.3h1v13.17h-1zM755 326.3h1v13.17h-1zM764 326.3h1v13.17h-1zM972 326.3h1v13.17h-1zM1089 326.3h2v13.17h-2zM1119 326.3h1v13.17h-1zM355 339.5h2v13.17h-2zM423 339.5h1v13.17h-1zM446 339.5h2v13.17h-2zM460 339.5h1v13.17h-1zM514 339.5h2v13.17h-2zM563 339.5h1v13.17h-1zM636 339.5h1v13.17h-1zM691 339.5h1v13.17h-1zM694 339.5h3v13.17h-3zM713 339.5h1v13.17h-1zM726 339.5h2v13.17h-2zM731 339.5h1v13.17h-1zM742 339.5h1v13.17h-1zM789 339.5h1v13.17h-1zM814 339.5h2v13.17h-2zM825 339.5h1v13.17h-1zM865 339.5h1v13.17h-1zM871 339.5h1v13.17h-1zM917 339.5h1v13.17h-1zM1024 339.5h1v13.17h-1zM1055 339.5h1v13.17h-1zM180 352.6h1v13.17h-1zM200 352.6h1v13.17h-1zM237 352.6h1v13.17h-1zM344 352.6h2v13.17h-2zM436 352.6h2v13.17h-2zM476 352.6h1v13.17h-1zM552 352.6h1v13.17h-1zM632 352.6h2v13.17h-2zM641 352.6h1v13.17h-1zM694 352.6h1v13.17h-1zM705 352.6h2v13.17h-2zM722 352.6h2v13.17h-2zM733 352.6h1v13.17h-1zM735 352.6h1v13.17h-1zM760 352.6h2v13.17h-2zM860 352.6h1v13.17h-1zM921 352.6h1v13.17h-1zM943 352.6h1v13.17h-1zM953 352.6h1v13.17h-1zM959 352.6h2v13.17h-2zM1057 352.6h1v13.17h-1zM1116 352.6h1v13.17h-1zM1158 352.6h1v13.17h-1zM202 365.8h1v13.17h-1zM214 365.8h1v13.17h-1zM334 365.8h1v13.17h-1zM462 365.8h1v13.17h-1zM511 365.8h1v13.17h-1zM564 365.8h1v13.17h-1zM797 365.8h1v13.17h-1zM803 365.8h1v13.17h-1zM903 365.8h1v13.17h-1zM917 365.8h2v13.17h-2zM1127 365.8h1v13.17h-1zM203 379.0h1v13.17h-1zM214 379.0h1v13.17h-1zM278 379.0h1v13.17h-1zM337 379.0h1v13.17h-1zM361 379.0h1v13.17h-1zM645 379.0h1v13.17h-1zM708 379.0h2v13.17h-2zM722 379.0h1v13.17h-1zM922 379.0h2v13.17h-2zM1027 379.0h2v13.17h-2zM1136 379.0h1v13.17h-1zM173 392.1h1v13.17h-1zM220 392.1h1v13.17h-1zM296 392.1h2v13.17h-2zM323 392.1h1v13.17h-1zM461 392.1h1v13.17h-1zM500 392.1h2v13.17h-2zM622 392.1h1v13.17h-1zM641 392.1h1v13.17h-1zM646 392.1h2v13.17h-2zM845 392.1h1v13.17h-1zM874 392.1h1v13.17h-1zM897 392.1h2v13.17h-2zM1044 392.1h2v13.17h-2zM1116 392.1h2v13.17h-2zM190 405.3h1v13.17h-1zM285 405.3h1v13.17h-1zM297 405.3h1v13.17h-1zM386 405.3h2v13.17h-2zM396 405.3h1v13.17h-1zM441 405.3h2v13.17h-2zM447 405.3h1v13.17h-1zM451 405.3h1v13.17h-1zM455 405.3h1v13.17h-1zM473 405.3h2v13.17h-2zM494 405.3h1v13.17h-1zM511 405.3h1v13.17h-1zM516 405.3h1v13.17h-1zM520 405.3h3v13.17h-3zM528 405.3h1v13.17h-1zM531 405.3h2v13.17h-2zM546 405.3h2v13.17h-2zM558 405.3h2v13.17h-2zM566 405.3h2v13.17h-2zM576 405.3h3v13.17h-3zM592 405.3h1v13.17h-1zM912 405.3h1v13.17h-1zM958 405.3h1v13.17h-1zM1075 405.3h1v13.17h-1zM1152 405.3h2v13.17h-2zM1156 405.3h2v13.17h-2zM184 418.5h1v13.17h-1zM201 418.5h2v13.17h-2zM229 418.5h1v13.17h-1zM233 418.5h2v13.17h-2zM240 418.5h1v13.17h-1zM345 418.5h1v13.17h-1zM432 418.5h2v13.17h-2zM549 418.5h1v13.17h-1zM553 418.5h2v13.17h-2zM556 418.5h1v13.17h-1zM561 418.5h2v13.17h-2zM587 418.5h1v13.17h-1zM589 418.5h1v13.17h-1zM592 418.5h1v13.17h-1zM594 418.5h2v13.17h-2zM597 418.5h1v13.17h-1zM616 418.5h2v13.17h-2zM620 418.5h1v13.17h-1zM625 418.5h2v13.17h-2zM704 418.5h1v13.17h-1zM709 418.5h1v13.17h-1zM713 418.5h2v13.17h-2zM721 418.5h2v13.17h-2zM724 418.5h2v13.17h-2zM831 418.5h2v13.17h-2zM834 418.5h2v13.17h-2zM841 418.5h1v13.17h-1zM925 418.5h1v13.17h-1zM929 418.5h1v13.17h-1zM946 418.5h1v13.17h-1zM948 418.5h2v13.17h-2zM955 418.5h1v13.17h-1zM972 418.5h1v13.17h-1zM981 418.5h1v13.17h-1zM984 418.5h1v13.17h-1zM987 418.5h1v13.17h-1zM997 418.5h2v13.17h-2zM1029 418.5h1v13.17h-1zM1040 418.5h2v13.17h-2zM1075 418.5h1v13.17h-1zM220 431.7h1v13.17h-1zM333 431.7h1v13.17h-1zM352 431.7h1v13.17h-1zM832 431.7h1v13.17h-1zM915 431.7h1v13.17h-1zM1046 431.7h1v13.17h-1zM1108 431.7h1v13.17h-1zM1114 431.7h1v13.17h-1zM249 444.8h1v13.17h-1zM254 444.8h3v13.17h-3zM264 444.8h1v13.17h-1zM274 444.8h1v13.17h-1zM299 444.8h1v13.17h-1zM306 444.8h2v13.17h-2zM315 444.8h1v13.17h-1zM319 444.8h4v13.17h-4zM327 444.8h3v13.17h-3zM344 444.8h1v13.17h-1zM352 444.8h1v13.17h-1zM354 444.8h2v13.17h-2zM486 444.8h1v13.17h-1zM502 444.8h1v13.17h-1zM514 444.8h1v13.17h-1zM532 444.8h1v13.17h-1zM534 444.8h3v13.17h-3zM541 444.8h1v13.17h-1zM549 444.8h1v13.17h-1zM557 444.8h2v13.17h-2zM561 444.8h2v13.17h-2zM568 444.8h1v13.17h-1zM592 444.8h2v13.17h-2zM605 444.8h2v13.17h-2zM610 444.8h2v13.17h-2zM618 444.8h1v13.17h-1zM683 444.8h1v13.17h-1zM689 444.8h1v13.17h-1zM697 444.8h2v13.17h-2zM704 444.8h1v13.17h-1zM707 444.8h3v13.17h-3zM718 444.8h1v13.17h-1zM784 444.8h1v13.17h-1zM812 444.8h2v13.17h-2zM820 444.8h1v13.17h-1zM828 444.8h1v13.17h-1zM830 444.8h1v13.17h-1zM833 444.8h2v13.17h-2zM902 444.8h1v13.17h-1zM962 444.8h1v13.17h-1zM1085 444.8h1v13.17h-1zM1089 444.8h1v13.17h-1zM1110 444.8h1v13.17h-1zM1115 444.8h1v13.17h-1zM1120 444.8h1v13.17h-1zM178 458.0h1v13.17h-1zM206 458.0h1v13.17h-1zM315 458.0h1v13.17h-1zM408 458.0h1v13.17h-1zM472 458.0h2v13.17h-2zM508 458.0h1v13.17h-1zM544 458.0h1v13.17h-1zM560 458.0h2v13.17h-2zM581 458.0h1v13.17h-1zM637 458.0h1v13.17h-1zM688 458.0h1v13.17h-1zM829 458.0h1v13.17h-1zM847 458.0h1v13.17h-1zM852 458.0h1v13.17h-1zM877 458.0h1v13.17h-1zM951 458.0h2v13.17h-2zM969 458.0h1v13.17h-1zM975 458.0h2v13.17h-2zM989 458.0h1v13.17h-1zM1031 458.0h2v13.17h-2zM1103 458.0h1v13.17h-1zM1121 458.0h2v13.17h-2zM1157 458.0h1v13.17h-1zM215 471.2h1v13.17h-1zM241 471.2h2v13.17h-2zM336 471.2h1v13.17h-1zM500 471.2h2v13.17h-2zM526 471.2h1v13.17h-1zM701 471.2h1v13.17h-1zM820 471.2h1v13.17h-1zM929 471.2h2v13.17h-2zM1075 471.2h2v13.17h-2zM1120 471.2h1v13.17h-1zM1138 471.2h1v13.17h-1zM396 484.3h1v13.17h-1zM629 484.3h1v13.17h-1zM667 484.3h1v13.17h-1zM674 484.3h1v13.17h-1zM676 484.3h1v13.17h-1zM715 484.3h1v13.17h-1zM962 484.3h1v13.17h-1zM1112 484.3h4v13.17h-4zM289 497.5h2v13.17h-2zM350 497.5h1v13.17h-1zM435 497.5h1v13.17h-1zM485 497.5h1v13.17h-1zM509 497.5h1v13.17h-1zM579 497.5h1v13.17h-1zM594 497.5h1v13.17h-1zM608 497.5h1v13.17h-1zM637 497.5h1v13.17h-1zM720 497.5h3v13.17h-3zM829 497.5h1v13.17h-1zM937 497.5h1v13.17h-1zM1005 497.5h1v13.17h-1zM1031 497.5h2v13.17h-2zM1067 497.5h1v13.17h-1zM1112 497.5h2v13.17h-2zM1136 497.5h1v13.17h-1zM395 510.7h2v13.17h-2zM475 510.7h2v13.17h-2zM497 510.7h1v13.17h-1zM521 510.7h1v13.17h-1zM553 510.7h1v13.17h-1zM642 510.7h1v13.17h-1zM654 510.7h2v13.17h-2zM687 510.7h1v13.17h-1zM800 510.7h1v13.17h-1zM834 510.7h2v13.17h-2zM865 510.7h2v13.17h-2zM869 510.7h2v13.17h-2zM892 510.7h2v13.17h-2zM930 510.7h1v13.17h-1zM972 510.7h1v13.17h-1zM1041 510.7h1v13.17h-1zM365 523.9h1v13.17h-1zM369 523.9h1v13.17h-1zM448 523.9h1v13.17h-1zM512 523.9h1v13.17h-1zM527 523.9h1v13.17h-1zM600 523.9h1v13.17h-1zM649 523.9h1v13.17h-1zM659 523.9h1v13.17h-1zM667 523.9h1v13.17h-1zM674 523.9h1v13.17h-1zM711 523.9h1v13.17h-1zM751 523.9h1v13.17h-1zM821 523.9h2v13.17h-2zM870 523.9h1v13.17h-1zM874 523.9h1v13.17h-1zM1033 523.9h1v13.17h-1zM242 537.0h1v13.17h-1zM247 537.0h1v13.17h-1zM329 537.0h2v13.17h-2zM402 537.0h1v13.17h-1zM419 537.0h1v13.17h-1zM442 537.0h3v13.17h-3zM449 537.0h1v13.17h-1zM458 537.0h1v13.17h-1zM466 537.0h2v13.17h-2zM478 537.0h1v13.17h-1zM489 537.0h2v13.17h-2zM499 537.0h2v13.17h-2zM523 537.0h2v13.17h-2zM553 537.0h1v13.17h-1zM559 537.0h2v13.17h-2zM564 537.0h1v13.17h-1zM574 537.0h1v13.17h-1zM581 537.0h1v13.17h-1zM583 537.0h1v13.17h-1zM585 537.0h1v13.17h-1zM589 537.0h4v13.17h-4zM596 537.0h1v13.17h-1zM598 537.0h2v13.17h-2zM614 537.0h1v13.17h-1zM674 537.0h1v13.17h-1zM694 537.0h1v13.17h-1zM697 537.0h1v13.17h-1zM702 537.0h1v13.17h-1zM712 537.0h1v13.17h-1zM715 537.0h1v13.17h-1zM724 537.0h3v13.17h-3zM733 537.0h1v13.17h-1zM755 537.0h1v13.17h-1zM868 537.0h1v13.17h-1zM874 537.0h1v13.17h-1zM896 537.0h2v13.17h-2zM901 537.0h2v13.17h-2zM920 537.0h1v13.17h-1zM1079 537.0h1v13.17h-1zM1086 537.0h2v13.17h-2zM1097 537.0h1v13.17h-1zM1110 537.0h1v13.17h-1zM1116 537.0h1v13.17h-1zM1126 537.0h2v13.17h-2zM263 550.2h2v13.17h-2zM554 550.2h5v13.17h-5zM562 550.2h1v13.17h-1zM575 550.2h1v13.17h-1zM593 550.2h1v13.17h-1zM617 550.2h2v13.17h-2zM624 550.2h1v13.17h-1zM717 550.2h1v13.17h-1zM728 550.2h1v13.17h-1zM733 550.2h1v13.17h-1zM735 550.2h2v13.17h-2zM739 550.2h1v13.17h-1zM779 550.2h2v13.17h-2zM833 550.2h2v13.17h-2zM903 550.2h1v13.17h-1zM976 550.2h2v13.17h-2zM979 550.2h2v13.17h-2zM1000 550.2h1v13.17h-1zM1014 550.2h2v13.17h-2zM1021 550.2h1v13.17h-1zM1121 550.2h2v13.17h-2zM181 563.4h1v13.17h-1zM243 563.4h1v13.17h-1zM272 563.4h1v13.17h-1zM278 563.4h1v13.17h-1zM371 563.4h1v13.17h-1zM482 563.4h1v13.17h-1zM555 563.4h1v13.17h-1zM613 563.4h2v13.17h-2zM627 563.4h1v13.17h-1zM697 563.4h1v13.17h-1zM882 563.4h2v13.17h-2zM971 563.4h1v13.17h-1zM1026 563.4h1v13.17h-1zM1035 563.4h1v13.17h-1zM189 576.5h2v13.17h-2zM316 576.5h1v13.17h-1zM327 576.5h3v13.17h-3zM336 576.5h1v13.17h-1zM342 576.5h2v13.17h-2zM345 576.5h1v13.17h-1zM358 576.5h1v13.17h-1zM361 576.5h1v13.17h-1zM364 576.5h2v13.17h-2zM399 576.5h1v13.17h-1zM556 576.5h1v13.17h-1zM561 576.5h1v13.17h-1zM575 576.5h1v13.17h-1zM611 576.5h1v13.17h-1zM617 576.5h1v13.17h-1zM623 576.5h1v13.17h-1zM625 576.5h1v13.17h-1zM630 576.5h1v13.17h-1zM664 576.5h1v13.17h-1zM666 576.5h1v13.17h-1zM674 576.5h1v13.17h-1zM676 576.5h3v13.17h-3zM684 576.5h5v13.17h-5zM703 576.5h2v13.17h-2zM708 576.5h4v13.17h-4zM715 576.5h1v13.17h-1zM722 576.5h1v13.17h-1zM724 576.5h1v13.17h-1zM729 576.5h1v13.17h-1zM736 576.5h2v13.17h-2zM741 576.5h1v13.17h-1zM748 576.5h1v13.17h-1zM750 576.5h1v13.17h-1zM754 576.5h3v13.17h-3zM976 576.5h1v13.17h-1zM985 576.5h1v13.17h-1zM1126 576.5h2v13.17h-2zM1146 576.5h2v13.17h-2zM333 589.7h1v13.17h-1zM337 589.7h1v13.17h-1zM341 589.7h1v13.17h-1zM344 589.7h3v13.17h-3zM349 589.7h1v13.17h-1zM351 589.7h1v13.17h-1zM357 589.7h1v13.17h-1zM361 589.7h1v13.17h-1zM365 589.7h1v13.17h-1zM396 589.7h2v13.17h-2zM427 589.7h1v13.17h-1zM459 589.7h2v13.17h-2zM632 589.7h2v13.17h-2zM643 589.7h1v13.17h-1zM645 589.7h3v13.17h-3zM651 589.7h4v13.17h-4zM656 589.7h2v13.17h-2zM674 589.7h1v13.17h-1zM691 589.7h1v13.17h-1zM695 589.7h2v13.17h-2zM701 589.7h3v13.17h-3zM735 589.7h1v13.17h-1zM738 589.7h1v13.17h-1zM749 589.7h1v13.17h-1zM765 589.7h2v13.17h-2zM779 589.7h2v13.17h-2zM786 589.7h2v13.17h-2zM795 589.7h1v13.17h-1zM816 589.7h1v13.17h-1zM977 589.7h1v13.17h-1zM980 589.7h1v13.17h-1zM984 589.7h1v13.17h-1zM1130 589.7h1v13.17h-1zM1160 589.7h0.2v13.17h-0.2z"/>
<path fill="#f0f7fc" d="M316 62.9h1v13.17h-1zM320 62.9h1v13.17h-1zM428 62.9h2v13.17h-2zM433 62.9h3v13.17h-3zM438 62.9h2v13.17h-2zM441 62.9h1v13.17h-1zM458 62.9h1v13.17h-1zM461 62.9h1v13.17h-1zM493 62.9h2v13.17h-2zM498 62.9h1v13.17h-1zM562 62.9h1v13.17h-1zM567 62.9h1v13.17h-1zM579 62.9h1v13.17h-1zM581 62.9h2v13.17h-2zM584 62.9h1v13.17h-1zM605 62.9h1v13.17h-1zM607 62.9h2v13.17h-2zM613 62.9h1v13.17h-1zM615 62.9h1v13.17h-1zM619 62.9h1v13.17h-1zM623 62.9h1v13.17h-1zM646 62.9h2v13.17h-2zM704 62.9h1v13.17h-1zM799 62.9h1v13.17h-1zM909 62.9h2v13.17h-2zM912 62.9h1v13.17h-1zM915 62.9h1v13.17h-1zM925 62.9h1v13.17h-1zM940 62.9h1v13.17h-1zM942 62.9h1v13.17h-1zM952 62.9h1v13.17h-1zM954 62.9h3v13.17h-3zM958 62.9h2v13.17h-2zM964 62.9h2v13.17h-2zM967 62.9h2v13.17h-2zM971 62.9h1v13.17h-1zM674 76.1h1v13.17h-1zM683 76.1h1v13.17h-1zM686 76.1h2v13.17h-2zM689 76.1h1v13.17h-1zM692 76.1h2v13.17h-2zM697 76.1h1v13.17h-1zM704 76.1h2v13.17h-2zM708 76.1h1v13.17h-1zM731 76.1h1v13.17h-1zM735 76.1h1v13.17h-1zM803 76.1h1v13.17h-1zM980 76.1h1v13.17h-1zM984 76.1h2v13.17h-2zM988 76.1h2v13.17h-2zM1038 76.1h1v13.17h-1zM1046 76.1h1v13.17h-1zM1051 76.1h2v13.17h-2zM1055 76.1h2v13.17h-2zM1058 76.1h2v13.17h-2zM1062 76.1h1v13.17h-1zM1075 76.1h1v13.17h-1zM1077 76.1h1v13.17h-1zM1085 76.1h2v13.17h-2zM1091 76.1h1v13.17h-1zM1097 76.1h1v13.17h-1zM1099 76.1h4v13.17h-4zM1106 76.1h2v13.17h-2zM1110 76.1h1v13.17h-1zM1114 76.1h1v13.17h-1zM1116 76.1h1v13.17h-1zM1120 76.1h1v13.17h-1zM1123 76.1h1v13.17h-1zM1125 76.1h1v13.17h-1zM1155 76.1h1v13.17h-1zM1157 76.1h1v13.17h-1zM192 89.2h2v13.17h-2zM356 89.2h2v13.17h-2zM485 89.2h1v13.17h-1zM490 89.2h1v13.17h-1zM540 89.2h2v13.17h-2zM543 89.2h1v13.17h-1zM558 89.2h1v13.17h-1zM560 89.2h1v13.17h-1zM563 89.2h1v13.17h-1zM570 89.2h2v13.17h-2zM578 89.2h1v13.17h-1zM594 89.2h1v13.17h-1zM597 89.2h1v13.17h-1zM604 89.2h1v13.17h-1zM608 89.2h1v13.17h-1zM610 89.2h2v13.17h-2zM618 89.2h1v13.17h-1zM623 89.2h2v13.17h-2zM628 89.2h3v13.17h-3zM656 89.2h1v13.17h-1zM700 89.2h1v13.17h-1zM722 89.2h1v13.17h-1zM759 89.2h2v13.17h-2zM970 89.2h2v13.17h-2zM976 89.2h2v13.17h-2zM981 89.2h1v13.17h-1zM983 89.2h2v13.17h-2zM1128 89.2h2v13.17h-2zM373 102.4h1v13.17h-1zM428 102.4h1v13.17h-1zM639 102.4h1v13.17h-1zM687 102.4h1v13.17h-1zM693 102.4h1v13.17h-1zM696 102.4h1v13.17h-1zM699 102.4h1v13.17h-1zM705 102.4h1v13.17h-1zM708 102.4h2v13.17h-2zM711 102.4h1v13.17h-1zM719 102.4h1v13.17h-1zM726 102.4h1v13.17h-1zM735 102.4h1v13.17h-1zM796 102.4h1v13.17h-1zM977 102.4h1v13.17h-1zM1027 102.4h1v13.17h-1zM1038 102.4h2v13.17h-2zM1064 102.4h1v13.17h-1zM1066 102.4h3v13.17h-3zM1072 102.4h3v13.17h-3zM1078 102.4h1v13.17h-1zM1081 102.4h1v13.17h-1zM1087 102.4h1v13.17h-1zM1097 102.4h4v13.17h-4zM1102 102.4h1v13.17h-1zM1110 102.4h1v13.17h-1zM1113 102.4h1v13.17h-1zM1122 102.4h1v13.17h-1zM1125 102.4h1v13.17h-1zM240 115.6h1v13.17h-1zM361 115.6h2v13.17h-2zM365 115.6h2v13.17h-2zM412 115.6h1v13.17h-1zM518 115.6h1v13.17h-1zM534 115.6h1v13.17h-1zM546 115.6h2v13.17h-2zM593 115.6h2v13.17h-2zM643 115.6h1v13.17h-1zM732 115.6h2v13.17h-2zM771 115.6h1v13.17h-1zM867 115.6h2v13.17h-2zM896 115.6h2v13.17h-2zM904 115.6h1v13.17h-1zM942 115.6h2v13.17h-2zM1055 115.6h1v13.17h-1zM310 128.8h1v13.17h-1zM312 128.8h1v13.17h-1zM318 128.8h2v13.17h-2zM321 128.8h1v13.17h-1zM323 128.8h3v13.17h-3zM328 128.8h1v13.17h-1zM332 128.8h1v13.17h-1zM334 128.8h2v13.17h-2zM338 128.8h1v13.17h-1zM346 128.8h2v13.17h-2zM356 128.8h2v13.17h-2zM394 128.8h2v13.17h-2zM408 128.8h2v13.17h-2zM419 128.8h1v13.17h-1zM489 128.8h1v13.17h-1zM493 128.8h2v13.17h-2zM497 128.8h2v13.17h-2zM591 128.8h3v13.17h-3zM601 128.8h1v13.17h-1zM606 128.8h1v13.17h-1zM616 128.8h2v13.17h-2zM673 128.8h2v13.17h-2zM695 128.8h1v13.17h-1zM697 128.8h1v13.17h-1zM701 128.8h2v13.17h-2zM707 128.8h5v13.17h-5zM728 128.8h1v13.17h-1zM733 128.8h3v13.17h-3zM784 128.8h2v13.17h-2zM833 128.8h1v13.17h-1zM845 128.8h2v13.17h-2zM921 128.8h1v13.17h-1zM928 128.8h1v13.17h-1zM1147 128.8h2v13.17h-2zM202 141.9h1v13.17h-1zM390 141.9h1v13.17h-1zM468 141.9h1v13.17h-1zM481 141.9h4v13.17h-4zM504 141.9h1v13.17h-1zM535 141.9h2v13.17h-2zM679 141.9h1v13.17h-1zM719 141.9h2v13.17h-2zM799 141.9h1v13.17h-1zM843 141.9h1v13.17h-1zM916 141.9h1v13.17h-1zM1019 141.9h1v13.17h-1zM842 155.1h1v13.17h-1zM433 168.3h1v13.17h-1zM455 168.3h3v13.17h-3zM491 168.3h2v13.17h-2zM496 168.3h1v13.17h-1zM499 168.3h2v13.17h-2zM687 168.3h4v13.17h-4zM696 168.3h2v13.17h-2zM715 168.3h2v13.17h-2zM722 168.3h1v13.17h-1zM727 168.3h2v13.17h-2zM733 168.3h1v13.17h-1zM736 168.3h2v13.17h-2zM783 168.3h2v13.17h-2zM822 168.3h1v13.17h-1zM959 168.3h1v13.17h-1zM963 168.3h1v13.17h-1zM969 168.3h1v13.17h-1zM977 168.3h2v13.17h-2zM982 168.3h2v13.17h-2zM986 168.3h2v13.17h-2zM372 181.4h1v13.17h-1zM394 181.4h2v13.17h-2zM532 181.4h1v13.17h-1zM548 181.4h1v13.17h-1zM701 181.4h2v13.17h-2zM704 181.4h1v13.17h-1zM711 181.4h2v13.17h-2zM730 181.4h1v13.17h-1zM732 181.4h1v13.17h-1zM736 181.4h2v13.17h-2zM826 181.4h1v13.17h-1zM840 181.4h1v13.17h-1zM860 181.4h1v13.17h-1zM953 181.4h2v13.17h-2zM961 181.4h1v13.17h-1zM966 181.4h2v13.17h-2zM974 181.4h1v13.17h-1zM976 181.4h2v13.17h-2zM987 181.4h1v13.17h-1zM1103 181.4h1v13.17h-1zM1105 181.4h2v13.17h-2zM1111 181.4h2v13.17h-2zM1119 181.4h1v13.17h-1zM1127 181.4h1v13.17h-1zM202 194.6h2v13.17h-2zM237 194.6h2v13.17h-2zM254 194.6h1v13.17h-1zM267 194.6h1v13.17h-1zM349 194.6h1v13.17h-1zM354 194.6h1v13.17h-1zM589 194.6h2v13.17h-2zM678 194.6h2v13.17h-2zM866 194.6h1v13.17h-1zM1003 194.6h1v13.17h-1zM1055 194.6h1v13.17h-1zM1142 194.6h1v13.17h-1zM214 207.8h1v13.17h-1zM285 207.8h1v13.17h-1zM305 207.8h2v13.17h-2zM427 207.8h1v13.17h-1zM460 207.8h1v13.17h-1zM507 207.8h2v13.17h-2zM612 207.8h1v13.17h-1zM680 207.8h1v13.17h-1zM699 207.8h1v13.17h-1zM713 207.8h3v13.17h-3zM721 207.8h2v13.17h-2zM731 207.8h2v13.17h-2zM805 207.8h1v13.17h-1zM827 207.8h1v13.17h-1zM856 207.8h1v13.17h-1zM904 207.8h1v13.17h-1zM1015 207.8h1v13.17h-1zM1063 207.8h1v13.17h-1zM1080 207.8h1v13.17h-1zM1083 207.8h1v13.17h-1zM1107 207.8h1v13.17h-1zM1115 207.8h2v13.17h-2zM1133 207.8h1v13.17h-1zM197 220.9h2v13.17h-2zM222 220.9h1v13.17h-1zM457 220.9h1v13.17h-1zM469 220.9h2v13.17h-2zM482 220.9h1v13.17h-1zM495 220.9h1v13.17h-1zM526 220.9h2v13.17h-2zM558 220.9h2v13.17h-2zM858 220.9h3v13.17h-3zM862 220.9h1v13.17h-1zM864 220.9h2v13.17h-2zM867 220.9h3v13.17h-3zM880 220.9h2v13.17h-2zM886 220.9h3v13.17h-3zM938 220.9h1v13.17h-1zM951 220.9h1v13.17h-1zM955 220.9h3v13.17h-3zM962 220.9h1v13.17h-1zM965 220.9h3v13.17h-3zM970 220.9h1v13.17h-1zM975 220.9h3v13.17h-3zM985 220.9h2v13.17h-2zM1047 220.9h1v13.17h-1zM1051 220.9h1v13.17h-1zM173 234.1h2v13.17h-2zM188 234.1h1v13.17h-1zM204 234.1h1v13.17h-1zM353 234.1h1v13.17h-1zM355 234.1h2v13.17h-2zM615 234.1h1v13.17h-1zM740 234.1h1v13.17h-1zM854 234.1h2v13.17h-2zM955 234.1h1v13.17h-1zM1094 234.1h1v13.17h-1zM259 247.3h1v13.17h-1zM336 247.3h2v13.17h-2zM340 247.3h2v13.17h-2zM381 247.3h1v13.17h-1zM412 247.3h1v13.17h-1zM421 247.3h2v13.17h-2zM456 247.3h1v13.17h-1zM509 247.3h1v13.17h-1zM614 247.3h1v13.17h-1zM719 247.3h1v13.17h-1zM783 247.3h1v13.17h-1zM807 247.3h1v13.17h-1zM812 247.3h1v13.17h-1zM1002 247.3h2v13.17h-2zM1030 247.3h1v13.17h-1zM233 260.4h1v13.17h-1zM315 260.4h1v13.17h-1zM348 260.4h2v13.17h-2zM430 260.4h1v13.17h-1zM453 260.4h1v13.17h-1zM486 260.4h2v13.17h-2zM496 260.4h1v13.17h-1zM516 260.4h1v13.17h-1zM599 260.4h1v13.17h-1zM737 260.4h1v13.17h-1zM764 260.4h1v13.17h-1zM818 260.4h2v13.17h-2zM889 260.4h1v13.17h-1zM967 260.4h1v13.17h-1zM982 260.4h1v13.17h-1zM995 260.4h1v13.17h-1zM1014 260.4h2v13.17h-2zM201 273.6h1v13.17h-1zM255 273.6h1v13.17h-1zM341 273.6h1v13.17h-1zM410 273.6h1v13.17h-1zM418 273.6h1v13.17h-1zM459 273.6h3v13.17h-3zM492 273.6h1v13.17h-1zM542 273.6h1v13.17h-1zM628 273.6h2v13.17h-2zM653 273.6h1v13.17h-1zM752 273.6h1v13.17h-1zM811 273.6h1v13.17h-1zM838 273.6h1v13.17h-1zM858 273.6h1v13.17h-1zM983 273.6h1v13.17h-1zM182 286.8h1v13.17h-1zM192 286.8h1v13.17h-1zM267 286.8h1v13.17h-1zM355 286.8h2v13.17h-2zM395 286.8h1v13.17h-1zM555 286.8h2v13.17h-2zM647 286.8h1v13.17h-1zM716 286.8h1v13.17h-1zM724 286.8h1v13.17h-1zM732 286.8h1v13.17h-1zM755 286.8h2v13.17h-2zM871 286.8h2v13.17h-2zM1053 286.8h2v13.17h-2zM1062 286.8h1v13.17h-1zM256 300.0h1v13.17h-1zM296 300.0h2v13.17h-2zM341 300.0h1v13.17h-1zM362 300.0h1v13.17h-1zM440 300.0h2v13.17h-2zM452 300.0h1v13.17h-1zM564 300.0h2v13.17h-2zM594 300.0h2v13.17h-2zM759 300.0h2v13.17h-2zM919 300.0h1v13.17h-1zM1055 300.0h2v13.17h-2zM1089 300.0h1v13.17h-1zM194 313.1h2v13.17h-2zM355 313.1h1v13.17h-1zM425 313.1h1v13.17h-1zM448 313.1h1v13.17h-1zM500 313.1h1v13.17h-1zM508 313.1h2v13.17h-2zM667 313.1h1v13.17h-1zM755 313.1h1v13.17h-1zM773 313.1h2v13.17h-2zM812 313.1h1v13.17h-1zM1002 313.1h1v13.17h-1zM1035 313.1h1v13.17h-1zM283 326.3h1v13.17h-1zM300 326.3h2v13.17h-2zM405 326.3h2v13.17h-2zM431 326.3h2v13.17h-2zM437 326.3h1v13.17h-1zM450 326.3h1v13.17h-1zM497 326.3h1v13.17h-1zM566 326.3h1v13.17h-1zM648 326.3h1v13.17h-1zM678 326.3h1v13.17h-1zM733 326.3h1v13.17h-1zM747 326.3h1v13.17h-1zM797 326.3h1v13.17h-1zM871 326.3h2v13.17h-2zM885 326.3h1v13.17h-1zM937 326.3h1v13.17h-1zM1018 326.3h3v13.17h-3zM1061 326.3h1v13.17h-1zM1088 326.3h1v13.17h-1zM233 339.5h1v13.17h-1zM236 339.5h2v13.17h-2zM253 339.5h1v13.17h-1zM511 339.5h1v13.17h-1zM607 339.5h2v13.17h-2zM610 339.5h1v13.17h-1zM630 339.5h1v13.17h-1zM723 339.5h1v13.17h-1zM757 339.5h1v13.17h-1zM824 339.5h1v13.17h-1zM832 339.5h2v13.17h-2zM836 339.5h1v13.17h-1zM838 339.5h1v13.17h-1zM840 339.5h1v13.17h-1zM843 339.5h2v13.17h-2zM847 339.5h1v13.17h-1zM864 339.5h1v13.17h-1zM939 339.5h1v13.17h-1zM960 339.5h1v13.17h-1zM982 339.5h1v13.17h-1zM984 339.5h1v13.17h-1zM1148 339.5h1v13.17h-1zM203 352.6h1v13.17h-1zM264 352.6h1v13.17h-1zM373 352.6h1v13.17h-1zM404 352.6h1v13.17h-1zM425 352.6h1v13.17h-1zM429 352.6h1v13.17h-1zM456 352.6h1v13.17h-1zM536 352.6h1v13.17h-1zM585 352.6h1v13.17h-1zM726 352.6h1v13.17h-1zM729 352.6h2v13.17h-2zM734 352.6h1v13.17h-1zM736 352.6h2v13.17h-2zM743 352.6h1v13.17h-1zM790 352.6h1v13.17h-1zM862 352.6h1v13.17h-1zM1036 352.6h1v13.17h-1zM1114 352.6h1v13.17h-1zM246 365.8h2v13.17h-2zM253 365.8h2v13.17h-2zM288 365.8h2v13.17h-2zM418 365.8h1v13.17h-1zM438 365.8h1v13.17h-1zM450 365.8h1v13.17h-1zM553 365.8h1v13.17h-1zM682 365.8h2v13.17h-2zM804 365.8h1v13.17h-1zM842 365.8h1v13.17h-1zM940 365.8h2v13.17h-2zM1063 365.8h1v13.17h-1zM260 379.0h1v13.17h-1zM294 379.0h1v13.17h-1zM384 379.0h2v13.17h-2zM453 379.0h2v13.17h-2zM519 379.0h2v13.17h-2zM550 379.0h1v13.17h-1zM620 379.0h1v13.17h-1zM959 379.0h2v13.17h-2zM1035 379.0h1v13.17h-1zM1108 379.0h1v13.17h-1zM1124 379.0h2v13.17h-2zM204 392.1h1v13.17h-1zM254 392.1h1v13.17h-1zM414 392.1h1v13.17h-1zM450 392.1h1v13.17h-1zM487 392.1h1v13.17h-1zM536 392.1h2v13.17h-2zM564 392.1h1v13.17h-1zM610 392.1h1v13.17h-1zM617 392.1h1v13.17h-1zM885 392.1h1v13.17h-1zM887 392.1h1v13.17h-1zM946 392.1h2v13.17h-2zM1009 392.1h1v13.17h-1zM1101 392.1h1v13.17h-1zM1132 392.1h1v13.17h-1zM298 405.3h1v13.17h-1zM325 405.3h1v13.17h-1zM337 405.3h1v13.17h-1zM439 405.3h2v13.17h-2zM493 405.3h1v13.17h-1zM513 405.3h2v13.17h-2zM526 405.3h2v13.17h-2zM530 405.3h1v13.17h-1zM541 405.3h1v13.17h-1zM549 405.3h2v13.17h-2zM555 405.3h3v13.17h-3zM569 405.3h1v13.17h-1zM575 405.3h1v13.17h-1zM579 405.3h1v13.17h-1zM582 405.3h1v13.17h-1zM586 405.3h1v13.17h-1zM597 405.3h1v13.17h-1zM599 405.3h4v13.17h-4zM607 405.3h1v13.17h-1zM611 405.3h1v13.17h-1zM613 405.3h1v13.17h-1zM616 405.3h2v13.17h-2zM621 405.3h1v13.17h-1zM876 405.3h1v13.17h-1zM1027 405.3h2v13.17h-2zM1038 405.3h1v13.17h-1zM1048 405.3h1v13.17h-1zM1060 405.3h2v13.17h-2zM206 418.5h3v13.17h-3zM211 418.5h1v13.17h-1zM220 418.5h1v13.17h-1zM226 418.5h1v13.17h-1zM230 418.5h2v13.17h-2zM246 418.5h2v13.17h-2zM250 418.5h2v13.17h-2zM254 418.5h1v13.17h-1zM289 418.5h1v13.17h-1zM351 418.5h1v13.17h-1zM386 418.5h1v13.17h-1zM498 418.5h1v13.17h-1zM588 418.5h1v13.17h-1zM596 418.5h1v13.17h-1zM605 418.5h1v13.17h-1zM609 418.5h2v13.17h-2zM618 418.5h2v13.17h-2zM628 418.5h1v13.17h-1zM966 418.5h2v13.17h-2zM971 418.5h1v13.17h-1zM980 418.5h1v13.17h-1zM986 418.5h1v13.17h-1zM991 418.5h2v13.17h-2zM1055 418.5h1v13.17h-1zM1121 418.5h1v13.17h-1zM1141 418.5h1v13.17h-1zM224 431.7h3v13.17h-3zM282 431.7h1v13.17h-1zM289 431.7h2v13.17h-2zM440 431.7h2v13.17h-2zM535 431.7h2v13.17h-2zM552 431.7h1v13.17h-1zM687 431.7h1v13.17h-1zM695 431.7h2v13.17h-2zM703 431.7h1v13.17h-1zM761 431.7h1v13.17h-1zM813 431.7h1v13.17h-1zM905 431.7h1v13.17h-1zM1004 431.7h1v13.17h-1zM1031 431.7h2v13.17h-2zM1037 431.7h1v13.17h-1zM1048 431.7h1v13.17h-1zM294 444.8h1v13.17h-1zM297 444.8h2v13.17h-2zM304 444.8h2v13.17h-2zM314 444.8h1v13.17h-1zM317 444.8h1v13.17h-1zM330 444.8h1v13.17h-1zM334 444.8h1v13.17h-1zM343 444.8h1v13.17h-1zM347 444.8h3v13.17h-3zM358 444.8h1v13.17h-1zM360 444.8h1v13.17h-1zM369 444.8h1v13.17h-1zM371 444.8h1v13.17h-1zM394 444.8h1v13.17h-1zM545 444.8h1v13.17h-1zM548 444.8h1v13.17h-1zM559 444.8h1v13.17h-1zM569 444.8h1v13.17h-1zM578 444.8h1v13.17h-1zM585 444.8h3v13.17h-3zM589 444.8h1v13.17h-1zM594 444.8h1v13.17h-1zM596 444.8h1v13.17h-1zM599 444.8h2v13.17h-2zM619 444.8h2v13.17h-2zM622 444.8h1v13.17h-1zM625 444.8h2v13.17h-2zM629 444.8h1v13.17h-1zM715 444.8h1v13.17h-1zM729 444.8h1v13.17h-1zM736 444.8h1v13.17h-1zM781 444.8h1v13.17h-1zM839 444.8h2v13.17h-2zM842 444.8h2v13.17h-2zM858 444.8h1v13.17h-1zM960 444.8h1v13.17h-1zM1058 444.8h1v13.17h-1zM170 458.0h1v13.17h-1zM220 458.0h1v13.17h-1zM222 458.0h2v13.17h-2zM231 458.0h2v13.17h-2zM251 458.0h1v13.17h-1zM271 458.0h1v13.17h-1zM475 458.0h1v13.17h-1zM770 458.0h2v13.17h-2zM1033 458.0h1v13.17h-1zM1051 458.0h1v13.17h-1zM1054 458.0h1v13.17h-1zM220 471.2h1v13.17h-1zM377 471.2h1v13.17h-1zM441 471.2h2v13.17h-2zM516 471.2h1v13.17h-1zM536 471.2h2v13.17h-2zM588 471.2h1v13.17h-1zM610 471.2h1v13.17h-1zM761 471.2h1v13.17h-1zM782 471.2h1v13.17h-1zM921 471.2h2v13.17h-2zM996 471.2h1v13.17h-1zM1042 471.2h1v13.17h-1zM1067 471.2h1v13.17h-1zM229 484.3h1v13.17h-1zM266 484.3h2v13.17h-2zM269 484.3h1v13.17h-1zM286 484.3h1v13.17h-1zM387 484.3h1v13.17h-1zM571 484.3h1v13.17h-1zM680 484.3h1v13.17h-1zM1078 484.3h1v13.17h-1zM327 497.5h2v13.17h-2zM344 497.5h1v13.17h-1zM458 497.5h1v13.17h-1zM484 497.5h1v13.17h-1zM634 497.5h1v13.17h-1zM938 497.5h1v13.17h-1zM1037 497.5h1v13.17h-1zM348 510.7h2v13.17h-2zM487 510.7h2v13.17h-2zM506 510.7h1v13.17h-1zM618 510.7h1v13.17h-1zM659 510.7h1v13.17h-1zM807 510.7h1v13.17h-1zM832 510.7h2v13.17h-2zM868 510.7h1v13.17h-1zM875 510.7h2v13.17h-2zM890 510.7h2v13.17h-2zM947 510.7h1v13.17h-1zM1132 510.7h2v13.17h-2zM1150 510.7h1v13.17h-1zM204 523.9h2v13.17h-2zM262 523.9h1v13.17h-1zM330 523.9h1v13.17h-1zM352 523.9h1v13.17h-1zM612 523.9h2v13.17h-2zM632 523.9h2v13.17h-2zM662 523.9h1v13.17h-1zM779 523.9h2v13.17h-2zM855 523.9h1v13.17h-1zM871 523.9h1v13.17h-1zM942 523.9h1v13.17h-1zM982 523.9h2v13.17h-2zM1047 523.9h2v13.17h-2zM1099 523.9h1v13.17h-1zM352 537.0h2v13.17h-2zM361 537.0h1v13.17h-1zM380 537.0h1v13.17h-1zM488 537.0h1v13.17h-1zM491 537.0h1v13.17h-1zM518 537.0h2v13.17h-2zM525 537.0h1v13.17h-1zM530 537.0h1v13.17h-1zM533 537.0h3v13.17h-3zM538 537.0h1v13.17h-1zM543 537.0h1v13.17h-1zM546 537.0h3v13.17h-3zM554 537.0h1v13.17h-1zM557 537.0h1v13.17h-1zM571 537.0h1v13.17h-1zM573 537.0h1v13.17h-1zM576 537.0h1v13.17h-1zM578 537.0h1v13.17h-1zM582 537.0h1v13.17h-1zM588 537.0h1v13.17h-1zM593 537.0h3v13.17h-3zM602 537.0h1v13.17h-1zM604 537.0h3v13.17h-3zM609 537.0h2v13.17h-2zM613 537.0h1v13.17h-1zM617 537.0h1v13.17h-1zM623 537.0h3v13.17h-3zM629 537.0h2v13.17h-2zM649 537.0h1v13.17h-1zM716 537.0h2v13.17h-2zM722 537.0h2v13.17h-2zM734 537.0h1v13.17h-1zM750 537.0h1v13.17h-1zM752 537.0h1v13.17h-1zM898 537.0h2v13.17h-2zM987 537.0h1v13.17h-1zM340 550.2h1v13.17h-1zM343 550.2h1v13.17h-1zM362 550.2h2v13.17h-2zM405 550.2h1v13.17h-1zM600 550.2h1v13.17h-1zM621 550.2h1v13.17h-1zM623 550.2h1v13.17h-1zM628 550.2h1v13.17h-1zM1007 550.2h2v13.17h-2zM1091 550.2h1v13.17h-1zM1111 550.2h2v13.17h-2zM527 563.4h1v13.17h-1zM711 563.4h1v13.17h-1zM764 563.4h1v13.17h-1zM954 563.4h1v13.17h-1zM974 563.4h2v13.17h-2zM1005 563.4h2v13.17h-2zM1014 563.4h1v13.17h-1zM1018 563.4h1v13.17h-1zM1067 563.4h1v13.17h-1zM1089 563.4h2v13.17h-2zM1094 563.4h1v13.17h-1zM194 576.5h1v13.17h-1zM332 576.5h1v13.17h-1zM338 576.5h1v13.17h-1zM348 576.5h4v13.17h-4zM355 576.5h2v13.17h-2zM366 576.5h1v13.17h-1zM453 576.5h1v13.17h-1zM462 576.5h1v13.17h-1zM597 576.5h1v13.17h-1zM599 576.5h1v13.17h-1zM603 576.5h1v13.17h-1zM605 576.5h2v13.17h-2zM616 576.5h1v13.17h-1zM619 576.5h1v13.17h-1zM629 576.5h1v13.17h-1zM631 576.5h2v13.17h-2zM652 576.5h1v13.17h-1zM656 576.5h1v13.17h-1zM667 576.5h1v13.17h-1zM671 576.5h1v13.17h-1zM689 576.5h1v13.17h-1zM692 576.5h2v13.17h-2zM699 576.5h1v13.17h-1zM714 576.5h1v13.17h-1zM719 576.5h1v13.17h-1zM723 576.5h1v13.17h-1zM726 576.5h1v13.17h-1zM738 576.5h2v13.17h-2zM744 576.5h2v13.17h-2zM749 576.5h1v13.17h-1zM757 576.5h1v13.17h-1zM759 576.5h1v13.17h-1zM763 576.5h2v13.17h-2zM766 576.5h3v13.17h-3zM773 576.5h1v13.17h-1zM778 576.5h2v13.17h-2zM784 576.5h1v13.17h-1zM791 576.5h1v13.17h-1zM793 576.5h1v13.17h-1zM798 576.5h1v13.17h-1zM802 576.5h2v13.17h-2zM809 576.5h1v13.17h-1zM814 576.5h1v13.17h-1zM818 576.5h1v13.17h-1zM832 576.5h1v13.17h-1zM861 576.5h1v13.17h-1zM987 576.5h2v13.17h-2zM1142 576.5h2v13.17h-2zM354 589.7h2v13.17h-2zM358 589.7h1v13.17h-1zM370 589.7h1v13.17h-1zM668 589.7h1v13.17h-1zM699 589.7h1v13.17h-1zM707 589.7h1v13.17h-1zM712 589.7h1v13.17h-1zM722 589.7h3v13.17h-3zM726 589.7h2v13.17h-2zM732 589.7h1v13.17h-1zM737 589.7h1v13.17h-1zM748 589.7h1v13.17h-1zM761 589.7h2v13.17h-2zM764 589.7h1v13.17h-1zM770 589.7h1v13.17h-1zM773 589.7h1v13.17h-1zM777 589.7h2v13.17h-2zM782 589.7h2v13.17h-2zM790 589.7h3v13.17h-3zM798 589.7h1v13.17h-1zM802 589.7h2v13.17h-2zM805 589.7h1v13.17h-1zM822 589.7h1v13.17h-1zM826 589.7h2v13.17h-2zM829 589.7h2v13.17h-2zM834 589.7h3v13.17h-3zM838 589.7h1v13.17h-1zM842 589.7h2v13.17h-2zM845 589.7h1v13.17h-1zM851 589.7h4v13.17h-4zM857 589.7h3v13.17h-3zM864 589.7h2v13.17h-2zM874 589.7h2v13.17h-2zM880 589.7h1v13.17h-1zM883 589.7h1v13.17h-1zM887 589.7h1v13.17h-1zM890 589.7h1v13.17h-1zM893 589.7h2v13.17h-2zM898 589.7h2v13.17h-2zM985 589.7h1v13.17h-1z"/>
<path fill="#86afce" d="M400 62.9h1v13.17h-1z"/>
<path fill="#6798c0" d="M401 62.9h1v13.17h-1zM372 76.1h1v13.17h-1z"/>
<path fill="#a9c6db" d="M402 62.9h1v13.17h-1zM173 128.8h2v13.17h-2zM745 260.4h1v13.17h-1zM467 576.5h1v13.17h-1zM201 589.7h1v13.17h-1z"/>
<path fill="#b0cade" d="M403 62.9h1v13.17h-1zM1132 181.4h2v13.17h-2zM171 589.7h2v13.17h-2z"/>
<path fill="#8eb4d1" d="M404 62.9h1v13.17h-1zM377 76.1h1v13.17h-1zM1132 76.1h2v13.17h-2zM466 589.7h1v13.17h-1z"/>
<path fill="#afc9dd" d="M405 62.9h1v13.17h-1zM181 128.8h2v13.17h-2zM463 155.1h1v13.17h-1zM467 181.4h1v13.17h-1zM470 181.4h2v13.17h-2zM818 220.9h1v13.17h-1zM761 234.1h1v13.17h-1zM637 260.4h1v13.17h-1zM634 365.8h1v13.17h-1zM740 365.8h1v13.17h-1zM434 550.2h2v13.17h-2zM171 576.5h2v13.17h-2zM196 589.7h1v13.17h-1zM473 589.7h1v13.17h-1z"/>
<path fill="#b3cbdf" d="M406 62.9h1v13.17h-1zM416 62.9h1v13.17h-1zM1131 102.4h2v13.17h-2zM637 365.8h1v13.17h-1zM742 365.8h1v13.17h-1z"/>
<path fill="#7ea9cb" d="M407 62.9h1v13.17h-1z"/>
<path fill="#c9d8ea" d="M408 62.9h1v13.17h-1zM421 62.9h1v13.17h-1zM173 76.1h1v13.17h-1zM263 76.1h1v13.17h-1zM402 76.1h1v13.17h-1zM464 76.1h2v13.17h-2zM226 102.4h2v13.17h-2zM244 102.4h1v13.17h-1zM466 155.1h1v13.17h-1zM471 155.1h1v13.17h-1zM523 155.1h1v13.17h-1zM172 168.3h1v13.17h-1zM1155 181.4h2v13.17h-2zM840 207.8h2v13.17h-2zM645 365.8h1v13.17h-1zM661 405.3h1v13.17h-1zM639 418.5h1v13.17h-1zM854 550.2h1v13.17h-1zM201 576.5h1v13.17h-1z"/>
<path fill="#aac7db" d="M409 62.9h1v13.17h-1zM419 62.9h1v13.17h-1zM378 76.1h2v13.17h-2zM211 102.4h1v13.17h-1zM171 128.8h1v13.17h-1zM744 207.8h2v13.17h-2zM636 260.4h1v13.17h-1z"/>
<path fill="#90b5d2" d="M410 62.9h1v13.17h-1zM633 365.8h1v13.17h-1z"/>
<path fill="#a7c4da" d="M411 62.9h1v13.17h-1zM172 128.8h1v13.17h-1zM738 365.8h2v13.17h-2zM177 589.7h1v13.17h-1z"/>
<path fill="#acc7dc" d="M412 62.9h2v13.17h-2zM256 115.6h1v13.17h-1zM749 207.8h2v13.17h-2zM741 365.8h1v13.17h-1zM199 576.5h1v13.17h-1z"/>
<path fill="#9dbed6" d="M414 62.9h2v13.17h-2z"/>
<path fill="#c6d7e9" d="M417 62.9h1v13.17h-1zM425 62.9h1v13.17h-1zM256 76.1h1v13.17h-1zM401 76.1h1v13.17h-1zM202 102.4h2v13.17h-2zM217 102.4h2v13.17h-2zM1001 155.1h1v13.17h-1zM826 220.9h1v13.17h-1zM631 365.8h2v13.17h-2zM664 405.3h1v13.17h-1zM673 405.3h1v13.17h-1zM742 418.5h2v13.17h-2zM792 550.2h1v13.17h-1zM849 550.2h1v13.17h-1zM997 589.7h2v13.17h-2z"/>
<path fill="#c5d6e8" d="M418 62.9h1v13.17h-1zM1135 62.9h1v13.17h-1zM220 102.4h1v13.17h-1zM464 155.1h1v13.17h-1zM989 155.1h1v13.17h-1zM1132 155.1h1v13.17h-1zM170 168.3h1v13.17h-1zM174 168.3h1v13.17h-1zM176 168.3h1v13.17h-1zM466 181.4h1v13.17h-1zM838 234.1h1v13.17h-1zM430 484.3h1v13.17h-1zM914 589.7h1v13.17h-1zM1133 589.7h2v13.17h-2z"/>
<path fill="#d5e2f0" d="M420 62.9h1v13.17h-1zM422 62.9h1v13.17h-1zM267 76.1h1v13.17h-1zM308 76.1h1v13.17h-1zM406 76.1h1v13.17h-1zM411 76.1h2v13.17h-2zM201 89.2h2v13.17h-2zM204 89.2h1v13.17h-1zM989 89.2h1v13.17h-1zM171 102.4h1v13.17h-1zM175 102.4h1v13.17h-1zM183 102.4h2v13.17h-2zM250 102.4h1v13.17h-1zM283 102.4h1v13.17h-1zM290 102.4h1v13.17h-1zM184 128.8h1v13.17h-1zM1150 141.9h1v13.17h-1zM197 155.1h3v13.17h-3zM260 155.1h1v13.17h-1zM262 155.1h1v13.17h-1zM407 155.1h1v13.17h-1zM472 155.1h1v13.17h-1zM540 155.1h1v13.17h-1zM568 155.1h2v13.17h-2zM580 155.1h1v13.17h-1zM996 155.1h1v13.17h-1zM1010 155.1h1v13.17h-1zM1019 155.1h1v13.17h-1zM1071 155.1h1v13.17h-1zM1154 155.1h2v13.17h-2zM170 181.4h1v13.17h-1zM414 181.4h1v13.17h-1zM477 181.4h1v13.17h-1zM496 181.4h1v13.17h-1zM763 220.9h1v13.17h-1zM836 220.9h1v13.17h-1zM378 234.1h1v13.17h-1zM894 234.1h1v13.17h-1zM754 260.4h1v13.17h-1zM874 260.4h1v13.17h-1zM969 273.6h1v13.17h-1zM564 286.8h1v13.17h-1zM784 286.8h1v13.17h-1zM766 326.3h1v13.17h-1zM294 365.8h1v13.17h-1zM752 365.8h2v13.17h-2zM816 379.0h1v13.17h-1zM671 392.1h1v13.17h-1zM678 392.1h1v13.17h-1zM817 392.1h1v13.17h-1zM709 405.3h1v13.17h-1zM714 405.3h1v13.17h-1zM808 405.3h2v13.17h-2zM1072 405.3h1v13.17h-1zM792 418.5h1v13.17h-1zM257 484.3h1v13.17h-1zM366 484.3h1v13.17h-1zM258 523.9h1v13.17h-1zM870 550.2h1v13.17h-1zM877 550.2h1v13.17h-1zM215 576.5h1v13.17h-1zM273 576.5h1v13.17h-1zM922 576.5h1v13.17h-1zM997 576.5h2v13.17h-2zM1006 576.5h1v13.17h-1zM281 589.7h1v13.17h-1zM403 589.7h2v13.17h-2zM415 589.7h1v13.17h-1z"/>
<path fill="#bad0e2" d="M423 62.9h2v13.17h-2zM473 155.1h2v13.17h-2zM638 234.1h1v13.17h-1zM739 260.4h2v13.17h-2zM744 418.5h2v13.17h-2zM257 576.5h3v13.17h-3zM371 576.5h1v13.17h-1zM989 576.5h2v13.17h-2z"/>
<path fill="#f2f8fd" d="M448 62.9h1v13.17h-1zM453 62.9h2v13.17h-2zM630 62.9h2v13.17h-2zM648 62.9h2v13.17h-2zM718 62.9h1v13.17h-1zM794 62.9h1v13.17h-1zM835 62.9h1v13.17h-1zM932 62.9h1v13.17h-1zM944 62.9h1v13.17h-1zM957 62.9h1v13.17h-1zM963 62.9h1v13.17h-1zM966 62.9h1v13.17h-1zM969 62.9h2v13.17h-2zM973 62.9h2v13.17h-2zM976 62.9h4v13.17h-4zM982 62.9h2v13.17h-2zM1023 62.9h2v13.17h-2zM1095 62.9h1v13.17h-1zM720 76.1h2v13.17h-2zM725 76.1h3v13.17h-3zM736 76.1h2v13.17h-2zM801 76.1h2v13.17h-2zM1096 76.1h1v13.17h-1zM1098 76.1h1v13.17h-1zM1111 76.1h2v13.17h-2zM1119 76.1h1v13.17h-1zM1121 76.1h1v13.17h-1zM255 89.2h1v13.17h-1zM428 89.2h2v13.17h-2zM603 89.2h1v13.17h-1zM606 89.2h1v13.17h-1zM609 89.2h1v13.17h-1zM627 89.2h1v13.17h-1zM631 89.2h1v13.17h-1zM684 89.2h1v13.17h-1zM872 89.2h1v13.17h-1zM715 102.4h2v13.17h-2zM720 102.4h1v13.17h-1zM723 102.4h1v13.17h-1zM730 102.4h1v13.17h-1zM732 102.4h1v13.17h-1zM737 102.4h1v13.17h-1zM750 102.4h2v13.17h-2zM816 102.4h1v13.17h-1zM830 102.4h1v13.17h-1zM1105 102.4h1v13.17h-1zM1118 102.4h1v13.17h-1zM1127 102.4h1v13.17h-1zM449 115.6h1v13.17h-1zM746 115.6h1v13.17h-1zM826 115.6h1v13.17h-1zM972 115.6h1v13.17h-1zM978 115.6h1v13.17h-1zM1000 115.6h1v13.17h-1zM1006 115.6h1v13.17h-1zM1051 115.6h1v13.17h-1zM736 128.8h2v13.17h-2zM460 141.9h1v13.17h-1zM520 141.9h2v13.17h-2zM731 141.9h1v13.17h-1zM802 141.9h1v13.17h-1zM865 141.9h1v13.17h-1zM882 141.9h1v13.17h-1zM1004 141.9h1v13.17h-1zM777 155.1h1v13.17h-1zM864 155.1h1v13.17h-1zM435 168.3h1v13.17h-1zM471 168.3h1v13.17h-1zM483 168.3h2v13.17h-2zM721 168.3h1v13.17h-1zM726 168.3h1v13.17h-1zM732 168.3h1v13.17h-1zM734 168.3h2v13.17h-2zM832 168.3h1v13.17h-1zM543 181.4h1v13.17h-1zM723 181.4h2v13.17h-2zM728 181.4h2v13.17h-2zM733 181.4h3v13.17h-3zM763 181.4h2v13.17h-2zM829 181.4h1v13.17h-1zM207 194.6h1v13.17h-1zM215 194.6h2v13.17h-2zM247 194.6h2v13.17h-2zM811 194.6h1v13.17h-1zM849 194.6h1v13.17h-1zM1029 194.6h1v13.17h-1zM1114 194.6h1v13.17h-1zM1125 194.6h1v13.17h-1zM1147 194.6h1v13.17h-1zM232 207.8h2v13.17h-2zM270 207.8h1v13.17h-1zM447 207.8h1v13.17h-1zM479 207.8h2v13.17h-2zM547 207.8h2v13.17h-2zM565 207.8h2v13.17h-2zM720 207.8h1v13.17h-1zM730 207.8h1v13.17h-1zM733 207.8h3v13.17h-3zM1032 207.8h2v13.17h-2zM313 220.9h1v13.17h-1zM369 220.9h2v13.17h-2zM604 220.9h1v13.17h-1zM878 220.9h1v13.17h-1zM882 220.9h1v13.17h-1zM890 220.9h2v13.17h-2zM896 220.9h1v13.17h-1zM899 220.9h1v13.17h-1zM902 220.9h3v13.17h-3zM345 234.1h2v13.17h-2zM439 234.1h1v13.17h-1zM463 234.1h1v13.17h-1zM560 234.1h1v13.17h-1zM600 234.1h1v13.17h-1zM805 234.1h1v13.17h-1zM850 234.1h1v13.17h-1zM864 234.1h1v13.17h-1zM921 234.1h1v13.17h-1zM1012 234.1h1v13.17h-1zM1103 234.1h2v13.17h-2zM432 247.3h1v13.17h-1zM917 247.3h2v13.17h-2zM195 260.4h1v13.17h-1zM527 260.4h1v13.17h-1zM892 260.4h1v13.17h-1zM1070 260.4h1v13.17h-1zM387 273.6h1v13.17h-1zM550 273.6h1v13.17h-1zM747 273.6h1v13.17h-1zM862 273.6h2v13.17h-2zM1077 273.6h1v13.17h-1zM380 286.8h2v13.17h-2zM397 286.8h2v13.17h-2zM500 286.8h1v13.17h-1zM523 286.8h2v13.17h-2zM1153 286.8h2v13.17h-2zM293 300.0h1v13.17h-1zM361 300.0h1v13.17h-1zM605 300.0h1v13.17h-1zM645 300.0h1v13.17h-1zM1085 300.0h1v13.17h-1zM1124 300.0h2v13.17h-2zM354 313.1h1v13.17h-1zM547 313.1h1v13.17h-1zM718 313.1h2v13.17h-2zM804 313.1h1v13.17h-1zM988 313.1h1v13.17h-1zM1044 313.1h1v13.17h-1zM1062 313.1h1v13.17h-1zM329 326.3h2v13.17h-2zM549 326.3h2v13.17h-2zM655 326.3h1v13.17h-1zM687 326.3h1v13.17h-1zM783 326.3h1v13.17h-1zM798 326.3h1v13.17h-1zM827 326.3h2v13.17h-2zM914 326.3h2v13.17h-2zM1028 326.3h1v13.17h-1zM242 339.5h2v13.17h-2zM430 339.5h1v13.17h-1zM1037 339.5h1v13.17h-1zM1114 339.5h1v13.17h-1zM1142 339.5h1v13.17h-1zM498 352.6h1v13.17h-1zM581 352.6h2v13.17h-2zM910 352.6h1v13.17h-1zM217 365.8h2v13.17h-2zM223 365.8h1v13.17h-1zM258 365.8h1v13.17h-1zM336 365.8h1v13.17h-1zM341 365.8h1v13.17h-1zM628 365.8h1v13.17h-1zM685 365.8h1v13.17h-1zM948 365.8h2v13.17h-2zM305 379.0h1v13.17h-1zM323 379.0h1v13.17h-1zM580 379.0h2v13.17h-2zM632 379.0h1v13.17h-1zM975 379.0h1v13.17h-1zM1008 379.0h1v13.17h-1zM210 392.1h2v13.17h-2zM281 405.3h2v13.17h-2zM334 405.3h2v13.17h-2zM378 405.3h2v13.17h-2zM570 405.3h2v13.17h-2zM591 405.3h1v13.17h-1zM598 405.3h1v13.17h-1zM612 405.3h1v13.17h-1zM619 405.3h1v13.17h-1zM622 405.3h2v13.17h-2zM920 405.3h1v13.17h-1zM1034 405.3h1v13.17h-1zM239 418.5h1v13.17h-1zM252 418.5h2v13.17h-2zM1037 418.5h1v13.17h-1zM1089 418.5h1v13.17h-1zM314 431.7h1v13.17h-1zM425 431.7h1v13.17h-1zM579 431.7h1v13.17h-1zM659 431.7h1v13.17h-1zM698 431.7h1v13.17h-1zM338 444.8h2v13.17h-2zM345 444.8h2v13.17h-2zM356 444.8h1v13.17h-1zM365 444.8h2v13.17h-2zM368 444.8h1v13.17h-1zM385 444.8h1v13.17h-1zM867 444.8h1v13.17h-1zM1088 444.8h1v13.17h-1zM481 458.0h1v13.17h-1zM914 458.0h1v13.17h-1zM978 458.0h1v13.17h-1zM1066 458.0h1v13.17h-1zM1093 458.0h1v13.17h-1zM351 471.2h1v13.17h-1zM444 471.2h2v13.17h-2zM755 471.2h1v13.17h-1zM1022 471.2h1v13.17h-1zM1114 471.2h1v13.17h-1zM466 484.3h2v13.17h-2zM503 484.3h1v13.17h-1zM505 484.3h1v13.17h-1zM666 484.3h1v13.17h-1zM696 484.3h1v13.17h-1zM854 484.3h1v13.17h-1zM899 484.3h2v13.17h-2zM263 497.5h1v13.17h-1zM342 497.5h1v13.17h-1zM431 497.5h2v13.17h-2zM679 497.5h1v13.17h-1zM716 497.5h2v13.17h-2zM809 497.5h1v13.17h-1zM265 510.7h1v13.17h-1zM430 510.7h1v13.17h-1zM566 510.7h1v13.17h-1zM582 510.7h1v13.17h-1zM799 510.7h1v13.17h-1zM843 510.7h1v13.17h-1zM894 510.7h1v13.17h-1zM897 510.7h3v13.17h-3zM977 510.7h1v13.17h-1zM1042 510.7h1v13.17h-1zM1083 510.7h1v13.17h-1zM461 523.9h2v13.17h-2zM475 523.9h1v13.17h-1zM528 523.9h1v13.17h-1zM616 523.9h2v13.17h-2zM713 523.9h1v13.17h-1zM887 523.9h2v13.17h-2zM1130 523.9h1v13.17h-1zM586 537.0h2v13.17h-2zM603 537.0h1v13.17h-1zM615 537.0h2v13.17h-2zM618 537.0h1v13.17h-1zM621 537.0h2v13.17h-2zM766 537.0h1v13.17h-1zM820 537.0h1v13.17h-1zM907 537.0h2v13.17h-2zM231 550.2h1v13.17h-1zM1063 550.2h1v13.17h-1zM1071 550.2h1v13.17h-1zM277 563.4h1v13.17h-1zM308 563.4h2v13.17h-2zM466 563.4h1v13.17h-1zM694 563.4h1v13.17h-1zM734 563.4h1v13.17h-1zM889 563.4h1v13.17h-1zM923 563.4h1v13.17h-1zM925 563.4h1v13.17h-1zM1108 563.4h1v13.17h-1zM367 576.5h2v13.17h-2zM734 576.5h2v13.17h-2zM747 576.5h1v13.17h-1zM753 576.5h1v13.17h-1zM771 576.5h1v13.17h-1zM774 576.5h2v13.17h-2zM777 576.5h1v13.17h-1zM780 576.5h1v13.17h-1zM783 576.5h1v13.17h-1zM785 576.5h1v13.17h-1zM789 576.5h2v13.17h-2zM792 576.5h1v13.17h-1zM794 576.5h4v13.17h-4zM805 576.5h3v13.17h-3zM810 576.5h1v13.17h-1zM815 576.5h1v13.17h-1zM820 576.5h3v13.17h-3zM825 576.5h1v13.17h-1zM827 576.5h2v13.17h-2zM833 576.5h1v13.17h-1zM836 576.5h2v13.17h-2zM841 576.5h2v13.17h-2zM852 576.5h3v13.17h-3zM857 576.5h1v13.17h-1zM859 576.5h2v13.17h-2zM862 576.5h4v13.17h-4zM867 576.5h1v13.17h-1zM869 576.5h1v13.17h-1zM874 576.5h2v13.17h-2zM882 576.5h1v13.17h-1zM887 576.5h5v13.17h-5zM893 576.5h1v13.17h-1zM897 576.5h1v13.17h-1zM901 576.5h1v13.17h-1zM781 589.7h1v13.17h-1zM788 589.7h2v13.17h-2zM793 589.7h2v13.17h-2zM796 589.7h2v13.17h-2zM800 589.7h1v13.17h-1zM819 589.7h1v13.17h-1zM828 589.7h1v13.17h-1zM831 589.7h2v13.17h-2zM846 589.7h4v13.17h-4zM855 589.7h2v13.17h-2zM860 589.7h4v13.17h-4zM868 589.7h3v13.17h-3zM877 589.7h1v13.17h-1zM882 589.7h1v13.17h-1zM884 589.7h3v13.17h-3zM892 589.7h1v13.17h-1zM896 589.7h2v13.17h-2zM902 589.7h2v13.17h-2z"/>
<path fill="#d3e1ef" d="M657 62.9h1v13.17h-1zM185 76.1h2v13.17h-2zM286 76.1h2v13.17h-2zM304 76.1h1v13.17h-1zM415 76.1h1v13.17h-1zM475 76.1h2v13.17h-2zM994 89.2h1v13.17h-1zM997 89.2h1v13.17h-1zM179 102.4h2v13.17h-2zM221 102.4h1v13.17h-1zM239 102.4h1v13.17h-1zM280 102.4h1v13.17h-1zM412 102.4h1v13.17h-1zM1114 115.6h1v13.17h-1zM190 128.8h2v13.17h-2zM404 155.1h2v13.17h-2zM465 155.1h1v13.17h-1zM469 155.1h2v13.17h-2zM542 155.1h2v13.17h-2zM1012 155.1h2v13.17h-2zM1015 155.1h1v13.17h-1zM1077 155.1h1v13.17h-1zM1147 155.1h2v13.17h-2zM182 168.3h2v13.17h-2zM186 168.3h1v13.17h-1zM404 181.4h2v13.17h-2zM468 181.4h2v13.17h-2zM502 181.4h1v13.17h-1zM1148 181.4h2v13.17h-2zM799 220.9h2v13.17h-2zM805 220.9h1v13.17h-1zM193 273.6h1v13.17h-1zM403 300.0h1v13.17h-1zM500 300.0h1v13.17h-1zM313 326.3h1v13.17h-1zM461 339.5h1v13.17h-1zM813 352.6h1v13.17h-1zM684 392.1h1v13.17h-1zM393 405.3h1v13.17h-1zM660 405.3h1v13.17h-1zM701 405.3h1v13.17h-1zM778 418.5h1v13.17h-1zM965 444.8h1v13.17h-1zM762 458.0h1v13.17h-1zM267 510.7h1v13.17h-1zM732 510.7h1v13.17h-1zM430 550.2h1v13.17h-1zM445 550.2h1v13.17h-1zM793 550.2h2v13.17h-2zM855 550.2h2v13.17h-2zM204 576.5h2v13.17h-2zM207 576.5h1v13.17h-1zM274 576.5h1v13.17h-1zM403 576.5h1v13.17h-1zM913 576.5h1v13.17h-1zM991 576.5h2v13.17h-2zM1153 576.5h1v13.17h-1zM178 589.7h2v13.17h-2zM185 589.7h1v13.17h-1zM208 589.7h2v13.17h-2zM225 589.7h1v13.17h-1zM1001 589.7h1v13.17h-1z"/>
<path fill="#cfdeed" d="M668 62.9h1v13.17h-1zM274 76.1h1v13.17h-1zM280 76.1h2v13.17h-2zM471 76.1h1v13.17h-1zM358 89.2h1v13.17h-1zM991 89.2h2v13.17h-2zM235 102.4h1v13.17h-1zM243 102.4h1v13.17h-1zM741 141.9h1v13.17h-1zM503 155.1h1v13.17h-1zM531 155.1h1v13.17h-1zM534 155.1h1v13.17h-1zM1002 155.1h1v13.17h-1zM1020 155.1h2v13.17h-2zM1024 155.1h2v13.17h-2zM1033 155.1h1v13.17h-1zM1046 155.1h1v13.17h-1zM1051 155.1h2v13.17h-2zM1150 155.1h1v13.17h-1zM497 168.3h1v13.17h-1zM1141 181.4h1v13.17h-1zM738 220.9h1v13.17h-1zM775 220.9h1v13.17h-1zM801 220.9h1v13.17h-1zM889 234.1h1v13.17h-1zM755 260.4h1v13.17h-1zM454 273.6h1v13.17h-1zM363 326.3h1v13.17h-1zM802 352.6h1v13.17h-1zM643 365.8h1v13.17h-1zM648 365.8h1v13.17h-1zM694 405.3h1v13.17h-1zM738 418.5h2v13.17h-2zM924 458.0h1v13.17h-1zM254 471.2h1v13.17h-1zM180 484.3h1v13.17h-1zM431 550.2h2v13.17h-2zM444 550.2h1v13.17h-1zM1149 550.2h1v13.17h-1zM174 576.5h1v13.17h-1zM466 576.5h1v13.17h-1zM213 589.7h2v13.17h-2zM269 589.7h1v13.17h-1zM273 589.7h1v13.17h-1zM401 589.7h2v13.17h-2zM912 589.7h1v13.17h-1zM916 589.7h2v13.17h-2zM1006 589.7h1v13.17h-1z"/>
<path fill="#d4e1ef" d="M1050 62.9h1v13.17h-1zM306 76.1h2v13.17h-2zM414 76.1h1v13.17h-1zM481 76.1h1v13.17h-1zM503 76.1h1v13.17h-1zM506 76.1h2v13.17h-2zM510 76.1h1v13.17h-1zM392 89.2h2v13.17h-2zM236 102.4h1v13.17h-1zM288 102.4h1v13.17h-1zM200 155.1h2v13.17h-2zM205 155.1h1v13.17h-1zM212 155.1h2v13.17h-2zM410 155.1h1v13.17h-1zM481 155.1h1v13.17h-1zM508 155.1h1v13.17h-1zM515 155.1h1v13.17h-1zM537 155.1h2v13.17h-2zM558 155.1h2v13.17h-2zM573 155.1h2v13.17h-2zM1018 155.1h1v13.17h-1zM1038 155.1h1v13.17h-1zM1044 155.1h2v13.17h-2zM1065 155.1h1v13.17h-1zM1075 155.1h1v13.17h-1zM1084 155.1h1v13.17h-1zM197 181.4h2v13.17h-2zM407 181.4h1v13.17h-1zM793 181.4h1v13.17h-1zM639 207.8h1v13.17h-1zM754 207.8h1v13.17h-1zM828 220.9h2v13.17h-2zM646 234.1h1v13.17h-1zM551 260.4h1v13.17h-1zM639 260.4h1v13.17h-1zM1050 339.5h1v13.17h-1zM642 365.8h1v13.17h-1zM754 365.8h1v13.17h-1zM252 392.1h1v13.17h-1zM437 392.1h1v13.17h-1zM650 392.1h1v13.17h-1zM825 392.1h2v13.17h-2zM674 405.3h1v13.17h-1zM748 418.5h2v13.17h-2zM340 431.7h1v13.17h-1zM188 458.0h1v13.17h-1zM858 458.0h1v13.17h-1zM727 484.3h1v13.17h-1zM1004 484.3h1v13.17h-1zM290 510.7h1v13.17h-1zM446 550.2h1v13.17h-1zM212 576.5h1v13.17h-1zM377 576.5h1v13.17h-1zM1001 576.5h1v13.17h-1zM1003 576.5h1v13.17h-1zM260 589.7h1v13.17h-1zM277 589.7h2v13.17h-2zM282 589.7h1v13.17h-1zM373 589.7h2v13.17h-2zM478 589.7h1v13.17h-1zM498 589.7h1v13.17h-1zM501 589.7h1v13.17h-1zM921 589.7h1v13.17h-1zM999 589.7h1v13.17h-1z"/>
<path fill="#9fbfd7" d="M1132 62.9h1v13.17h-1zM391 89.2h1v13.17h-1zM175 589.7h2v13.17h-2z"/>
<path fill="#91b6d2" d="M1133 62.9h1v13.17h-1zM196 102.4h1v13.17h-1zM635 234.1h1v13.17h-1z"/>
<path fill="#a1c0d7" d="M1134 62.9h1v13.17h-1zM204 102.4h2v13.17h-2zM1133 102.4h2v13.17h-2zM759 418.5h1v13.17h-1z"/>
<path fill="#adc8dd" d="M1136 62.9h1v13.17h-1zM1135 76.1h1v13.17h-1zM389 89.2h2v13.17h-2zM201 102.4h1v13.17h-1zM748 207.8h1v13.17h-1zM760 234.1h1v13.17h-1zM738 260.4h1v13.17h-1zM793 260.4h1v13.17h-1z"/>
<path fill="#d1dfee" d="M1150 62.9h2v13.17h-2zM172 76.1h1v13.17h-1zM264 76.1h1v13.17h-1zM301 76.1h3v13.17h-3zM404 76.1h1v13.17h-1zM484 76.1h1v13.17h-1zM240 102.4h1v13.17h-1zM256 102.4h1v13.17h-1zM259 115.6h2v13.17h-2zM377 115.6h1v13.17h-1zM821 128.8h1v13.17h-1zM1150 128.8h2v13.17h-2zM475 155.1h1v13.17h-1zM505 155.1h1v13.17h-1zM541 155.1h1v13.17h-1zM548 155.1h2v13.17h-2zM997 155.1h1v13.17h-1zM181 168.3h1v13.17h-1zM401 181.4h1v13.17h-1zM409 181.4h1v13.17h-1zM476 181.4h1v13.17h-1zM489 181.4h1v13.17h-1zM356 207.8h1v13.17h-1zM544 220.9h1v13.17h-1zM776 220.9h1v13.17h-1zM803 220.9h1v13.17h-1zM808 220.9h1v13.17h-1zM317 234.1h1v13.17h-1zM1130 352.6h1v13.17h-1zM612 365.8h1v13.17h-1zM748 365.8h4v13.17h-4zM373 379.0h1v13.17h-1zM762 379.0h1v13.17h-1zM668 392.1h1v13.17h-1zM681 405.3h2v13.17h-2zM697 405.3h1v13.17h-1zM896 405.3h1v13.17h-1zM635 418.5h1v13.17h-1zM750 418.5h2v13.17h-2zM793 418.5h3v13.17h-3zM638 471.2h1v13.17h-1zM409 510.7h1v13.17h-1zM863 523.9h1v13.17h-1zM867 550.2h2v13.17h-2zM206 576.5h1v13.17h-1zM1002 576.5h1v13.17h-1zM1149 576.5h2v13.17h-2zM272 589.7h1v13.17h-1zM409 589.7h2v13.17h-2zM414 589.7h1v13.17h-1zM990 589.7h1v13.17h-1z"/>
<path fill="#b8cfe2" d="M169 76.1h1v13.17h-1zM400 76.1h1v13.17h-1zM1134 76.1h1v13.17h-1zM1137 76.1h1v13.17h-1zM225 102.4h1v13.17h-1zM180 128.8h1v13.17h-1zM762 234.1h1v13.17h-1zM635 260.4h1v13.17h-1zM744 260.4h1v13.17h-1zM180 589.7h1v13.17h-1z"/>
<path fill="#c4d5e7" d="M170 76.1h1v13.17h-1zM174 76.1h1v13.17h-1zM219 102.4h1v13.17h-1zM516 155.1h1v13.17h-1zM171 168.3h1v13.17h-1zM1136 181.4h1v13.17h-1zM759 220.9h1v13.17h-1zM825 220.9h1v13.17h-1zM641 234.1h2v13.17h-2zM669 405.3h1v13.17h-1zM805 405.3h1v13.17h-1zM838 444.8h1v13.17h-1zM177 576.5h2v13.17h-2zM203 589.7h4v13.17h-4zM371 589.7h1v13.17h-1zM1135 589.7h2v13.17h-2z"/>
<path fill="#d0deee" d="M175 76.1h2v13.17h-2zM278 76.1h1v13.17h-1zM854 76.1h1v13.17h-1zM195 89.2h1v13.17h-1zM232 102.4h1v13.17h-1zM234 102.4h1v13.17h-1zM245 102.4h1v13.17h-1zM270 102.4h1v13.17h-1zM1149 128.8h1v13.17h-1zM504 155.1h1v13.17h-1zM533 155.1h1v13.17h-1zM535 155.1h1v13.17h-1zM539 155.1h1v13.17h-1zM556 155.1h1v13.17h-1zM1016 155.1h1v13.17h-1zM1041 155.1h2v13.17h-2zM1050 155.1h1v13.17h-1zM1058 155.1h2v13.17h-2zM1138 155.1h2v13.17h-2zM180 168.3h1v13.17h-1zM401 168.3h1v13.17h-1zM493 181.4h2v13.17h-2zM564 181.4h1v13.17h-1zM1138 181.4h1v13.17h-1zM897 234.1h1v13.17h-1zM548 247.3h1v13.17h-1zM342 273.6h1v13.17h-1zM770 379.0h1v13.17h-1zM653 392.1h2v13.17h-2zM670 405.3h2v13.17h-2zM637 418.5h1v13.17h-1zM640 418.5h1v13.17h-1zM791 418.5h1v13.17h-1zM972 431.7h1v13.17h-1zM1132 537.0h1v13.17h-1zM851 550.2h1v13.17h-1zM859 550.2h2v13.17h-2zM489 563.4h1v13.17h-1zM179 576.5h1v13.17h-1zM401 576.5h2v13.17h-2zM999 576.5h2v13.17h-2zM207 589.7h1v13.17h-1zM211 589.7h1v13.17h-1zM217 589.7h1v13.17h-1zM222 589.7h1v13.17h-1zM255 589.7h1v13.17h-1zM266 589.7h1v13.17h-1zM407 589.7h1v13.17h-1zM488 589.7h1v13.17h-1z"/>
<path fill="#d8e3f1" d="M177 76.1h1v13.17h-1zM189 76.1h1v13.17h-1zM262 76.1h1v13.17h-1zM269 76.1h1v13.17h-1zM298 76.1h1v13.17h-1zM323 76.1h1v13.17h-1zM472 76.1h2v13.17h-2zM492 76.1h1v13.17h-1zM508 76.1h1v13.17h-1zM519 76.1h2v13.17h-2zM525 76.1h1v13.17h-1zM538 76.1h3v13.17h-3zM828 76.1h1v13.17h-1zM216 89.2h1v13.17h-1zM640 89.2h1v13.17h-1zM1001 89.2h2v13.17h-2zM1136 89.2h2v13.17h-2zM176 102.4h1v13.17h-1zM185 102.4h1v13.17h-1zM269 102.4h1v13.17h-1zM286 102.4h2v13.17h-2zM418 102.4h1v13.17h-1zM423 102.4h1v13.17h-1zM170 155.1h2v13.17h-2zM181 155.1h1v13.17h-1zM183 155.1h1v13.17h-1zM187 155.1h1v13.17h-1zM202 155.1h1v13.17h-1zM204 155.1h1v13.17h-1zM220 155.1h1v13.17h-1zM226 155.1h1v13.17h-1zM238 155.1h1v13.17h-1zM245 155.1h1v13.17h-1zM267 155.1h2v13.17h-2zM277 155.1h1v13.17h-1zM297 155.1h1v13.17h-1zM305 155.1h1v13.17h-1zM416 155.1h2v13.17h-2zM506 155.1h1v13.17h-1zM547 155.1h1v13.17h-1zM563 155.1h2v13.17h-2zM607 155.1h1v13.17h-1zM1017 155.1h1v13.17h-1zM1067 155.1h2v13.17h-2zM1070 155.1h1v13.17h-1zM1078 155.1h2v13.17h-2zM1091 155.1h1v13.17h-1zM1133 155.1h1v13.17h-1zM1142 155.1h1v13.17h-1zM1144 155.1h1v13.17h-1zM209 181.4h2v13.17h-2zM416 181.4h1v13.17h-1zM431 181.4h1v13.17h-1zM475 181.4h1v13.17h-1zM480 181.4h1v13.17h-1zM599 181.4h1v13.17h-1zM1137 181.4h1v13.17h-1zM614 194.6h1v13.17h-1zM842 207.8h1v13.17h-1zM764 220.9h1v13.17h-1zM779 220.9h1v13.17h-1zM830 220.9h2v13.17h-2zM479 247.3h1v13.17h-1zM837 260.4h2v13.17h-2zM733 273.6h1v13.17h-1zM938 273.6h1v13.17h-1zM511 286.8h1v13.17h-1zM298 352.6h1v13.17h-1zM807 352.6h1v13.17h-1zM816 352.6h2v13.17h-2zM822 352.6h1v13.17h-1zM679 392.1h1v13.17h-1zM689 392.1h2v13.17h-2zM668 405.3h1v13.17h-1zM689 405.3h1v13.17h-1zM691 405.3h1v13.17h-1zM716 405.3h1v13.17h-1zM950 405.3h1v13.17h-1zM744 444.8h1v13.17h-1zM901 484.3h1v13.17h-1zM174 537.0h1v13.17h-1zM1138 537.0h1v13.17h-1zM634 550.2h1v13.17h-1zM1154 550.2h1v13.17h-1zM621 563.4h1v13.17h-1zM268 576.5h1v13.17h-1zM278 576.5h1v13.17h-1zM375 576.5h2v13.17h-2zM408 576.5h1v13.17h-1zM413 576.5h1v13.17h-1zM925 576.5h1v13.17h-1zM188 589.7h1v13.17h-1zM267 589.7h2v13.17h-2zM275 589.7h2v13.17h-2zM475 589.7h1v13.17h-1zM485 589.7h3v13.17h-3zM506 589.7h1v13.17h-1zM518 589.7h1v13.17h-1zM915 589.7h1v13.17h-1zM926 589.7h1v13.17h-1zM1005 589.7h1v13.17h-1zM1019 589.7h1v13.17h-1z"/>
<path fill="#d7e3f0" d="M178 76.1h2v13.17h-2zM182 76.1h1v13.17h-1zM273 76.1h1v13.17h-1zM405 76.1h1v13.17h-1zM409 76.1h1v13.17h-1zM487 76.1h2v13.17h-2zM504 76.1h1v13.17h-1zM517 76.1h2v13.17h-2zM213 89.2h2v13.17h-2zM990 89.2h1v13.17h-1zM170 102.4h1v13.17h-1zM237 102.4h1v13.17h-1zM262 102.4h1v13.17h-1zM278 102.4h1v13.17h-1zM400 102.4h2v13.17h-2zM403 102.4h1v13.17h-1zM420 102.4h1v13.17h-1zM744 115.6h1v13.17h-1zM743 128.8h1v13.17h-1zM838 128.8h2v13.17h-2zM708 141.9h1v13.17h-1zM1087 141.9h1v13.17h-1zM206 155.1h1v13.17h-1zM237 155.1h1v13.17h-1zM273 155.1h2v13.17h-2zM413 155.1h1v13.17h-1zM480 155.1h1v13.17h-1zM501 155.1h2v13.17h-2zM512 155.1h1v13.17h-1zM551 155.1h2v13.17h-2zM1008 155.1h2v13.17h-2zM1096 155.1h2v13.17h-2zM1156 155.1h1v13.17h-1zM403 181.4h1v13.17h-1zM1157 181.4h1v13.17h-1zM804 220.9h1v13.17h-1zM731 234.1h1v13.17h-1zM220 247.3h1v13.17h-1zM285 260.4h1v13.17h-1zM640 260.4h1v13.17h-1zM752 260.4h1v13.17h-1zM686 326.3h1v13.17h-1zM306 339.5h1v13.17h-1zM764 352.6h1v13.17h-1zM984 352.6h1v13.17h-1zM1100 379.0h1v13.17h-1zM657 392.1h2v13.17h-2zM665 392.1h1v13.17h-1zM680 392.1h1v13.17h-1zM814 392.1h1v13.17h-1zM687 405.3h1v13.17h-1zM690 405.3h1v13.17h-1zM634 418.5h1v13.17h-1zM641 418.5h1v13.17h-1zM646 418.5h2v13.17h-2zM887 418.5h2v13.17h-2zM880 431.7h1v13.17h-1zM804 497.5h1v13.17h-1zM442 550.2h2v13.17h-2zM857 550.2h2v13.17h-2zM871 550.2h2v13.17h-2zM894 563.4h1v13.17h-1zM255 576.5h1v13.17h-1zM279 576.5h1v13.17h-1zM406 576.5h2v13.17h-2zM917 576.5h1v13.17h-1zM924 576.5h1v13.17h-1zM183 589.7h1v13.17h-1zM210 589.7h1v13.17h-1zM227 589.7h1v13.17h-1zM288 589.7h1v13.17h-1zM379 589.7h1v13.17h-1zM411 589.7h2v13.17h-2zM416 589.7h1v13.17h-1zM507 589.7h2v13.17h-2zM910 589.7h2v13.17h-2zM913 589.7h1v13.17h-1zM1014 589.7h2v13.17h-2zM1024 589.7h1v13.17h-1z"/>
<path fill="#dbe6f2" d="M181 76.1h1v13.17h-1zM183 76.1h2v13.17h-2zM268 76.1h1v13.17h-1zM351 76.1h1v13.17h-1zM417 76.1h1v13.17h-1zM419 76.1h1v13.17h-1zM485 76.1h2v13.17h-2zM494 76.1h1v13.17h-1zM497 76.1h1v13.17h-1zM521 76.1h1v13.17h-1zM545 76.1h2v13.17h-2zM556 76.1h1v13.17h-1zM196 89.2h2v13.17h-2zM371 89.2h2v13.17h-2zM999 89.2h1v13.17h-1zM1132 89.2h1v13.17h-1zM169 102.4h1v13.17h-1zM189 102.4h2v13.17h-2zM255 102.4h1v13.17h-1zM263 102.4h2v13.17h-2zM276 102.4h2v13.17h-2zM294 102.4h1v13.17h-1zM307 102.4h1v13.17h-1zM321 102.4h1v13.17h-1zM409 102.4h3v13.17h-3zM1151 102.4h1v13.17h-1zM390 115.6h1v13.17h-1zM426 128.8h2v13.17h-2zM254 155.1h2v13.17h-2zM278 155.1h1v13.17h-1zM296 155.1h1v13.17h-1zM335 155.1h1v13.17h-1zM507 155.1h1v13.17h-1zM561 155.1h1v13.17h-1zM565 155.1h1v13.17h-1zM585 155.1h3v13.17h-3zM603 155.1h1v13.17h-1zM1043 155.1h1v13.17h-1zM1088 155.1h1v13.17h-1zM1136 155.1h1v13.17h-1zM1145 155.1h2v13.17h-2zM1152 155.1h1v13.17h-1zM190 168.3h1v13.17h-1zM195 168.3h1v13.17h-1zM371 168.3h1v13.17h-1zM410 168.3h1v13.17h-1zM1152 168.3h1v13.17h-1zM205 181.4h2v13.17h-2zM211 181.4h1v13.17h-1zM217 181.4h1v13.17h-1zM495 181.4h1v13.17h-1zM235 194.6h1v13.17h-1zM772 220.9h1v13.17h-1zM787 220.9h2v13.17h-2zM832 220.9h1v13.17h-1zM809 234.1h1v13.17h-1zM892 234.1h2v13.17h-2zM462 247.3h1v13.17h-1zM319 286.8h1v13.17h-1zM1112 286.8h1v13.17h-1zM914 300.0h1v13.17h-1zM808 352.6h1v13.17h-1zM662 392.1h2v13.17h-2zM681 392.1h2v13.17h-2zM831 392.1h2v13.17h-2zM314 405.3h1v13.17h-1zM656 405.3h1v13.17h-1zM685 405.3h1v13.17h-1zM746 405.3h2v13.17h-2zM746 418.5h1v13.17h-1zM798 418.5h1v13.17h-1zM273 431.7h1v13.17h-1zM488 431.7h1v13.17h-1zM453 484.3h1v13.17h-1zM245 523.9h1v13.17h-1zM180 537.0h1v13.17h-1zM994 537.0h1v13.17h-1zM1148 537.0h2v13.17h-2zM440 550.2h2v13.17h-2zM636 550.2h1v13.17h-1zM639 550.2h1v13.17h-1zM641 550.2h1v13.17h-1zM907 550.2h1v13.17h-1zM1134 550.2h1v13.17h-1zM1138 550.2h1v13.17h-1zM1155 550.2h1v13.17h-1zM524 563.4h1v13.17h-1zM182 576.5h1v13.17h-1zM222 576.5h2v13.17h-2zM411 576.5h2v13.17h-2zM915 576.5h2v13.17h-2zM1152 576.5h1v13.17h-1zM186 589.7h1v13.17h-1zM230 589.7h1v13.17h-1zM264 589.7h1v13.17h-1zM279 589.7h1v13.17h-1zM476 589.7h2v13.17h-2zM483 589.7h2v13.17h-2zM521 589.7h1v13.17h-1zM531 589.7h1v13.17h-1zM1036 589.7h2v13.17h-2zM1051 589.7h1v13.17h-1z"/>
<path fill="#dce7f3" d="M188 76.1h1v13.17h-1zM283 76.1h1v13.17h-1zM311 76.1h1v13.17h-1zM322 76.1h1v13.17h-1zM346 76.1h1v13.17h-1zM384 76.1h1v13.17h-1zM527 76.1h2v13.17h-2zM200 89.2h1v13.17h-1zM373 89.2h1v13.17h-1zM998 89.2h1v13.17h-1zM1005 89.2h1v13.17h-1zM1010 89.2h1v13.17h-1zM1018 89.2h2v13.17h-2zM193 102.4h1v13.17h-1zM303 102.4h1v13.17h-1zM329 102.4h1v13.17h-1zM504 102.4h1v13.17h-1zM506 102.4h1v13.17h-1zM509 102.4h1v13.17h-1zM516 102.4h1v13.17h-1zM1153 102.4h1v13.17h-1zM254 115.6h2v13.17h-2zM1154 128.8h1v13.17h-1zM179 155.1h1v13.17h-1zM247 155.1h1v13.17h-1zM298 155.1h1v13.17h-1zM323 155.1h2v13.17h-2zM327 155.1h1v13.17h-1zM343 155.1h2v13.17h-2zM365 155.1h1v13.17h-1zM484 155.1h1v13.17h-1zM495 155.1h1v13.17h-1zM510 155.1h1v13.17h-1zM532 155.1h1v13.17h-1zM550 155.1h1v13.17h-1zM582 155.1h1v13.17h-1zM608 155.1h2v13.17h-2zM631 155.1h1v13.17h-1zM738 155.1h1v13.17h-1zM1029 155.1h1v13.17h-1zM1047 155.1h2v13.17h-2zM1095 155.1h1v13.17h-1zM1104 155.1h2v13.17h-2zM1109 155.1h1v13.17h-1zM1135 155.1h1v13.17h-1zM1140 155.1h1v13.17h-1zM177 168.3h2v13.17h-2zM189 168.3h1v13.17h-1zM400 168.3h1v13.17h-1zM506 168.3h2v13.17h-2zM526 168.3h1v13.17h-1zM528 168.3h1v13.17h-1zM532 168.3h1v13.17h-1zM544 168.3h1v13.17h-1zM993 168.3h1v13.17h-1zM216 181.4h1v13.17h-1zM220 181.4h1v13.17h-1zM482 181.4h2v13.17h-2zM1146 181.4h2v13.17h-2zM648 207.8h1v13.17h-1zM272 220.9h1v13.17h-1zM760 220.9h1v13.17h-1zM770 220.9h2v13.17h-2zM773 220.9h1v13.17h-1zM778 220.9h1v13.17h-1zM785 220.9h1v13.17h-1zM565 234.1h1v13.17h-1zM664 234.1h1v13.17h-1zM793 234.1h2v13.17h-2zM408 273.6h1v13.17h-1zM268 286.8h1v13.17h-1zM642 326.3h1v13.17h-1zM762 326.3h1v13.17h-1zM803 352.6h1v13.17h-1zM649 365.8h2v13.17h-2zM746 365.8h2v13.17h-2zM752 379.0h1v13.17h-1zM1095 379.0h1v13.17h-1zM698 392.1h1v13.17h-1zM701 392.1h2v13.17h-2zM834 392.1h1v13.17h-1zM667 405.3h1v13.17h-1zM672 405.3h1v13.17h-1zM686 405.3h1v13.17h-1zM707 405.3h2v13.17h-2zM743 405.3h1v13.17h-1zM643 418.5h2v13.17h-2zM893 418.5h2v13.17h-2zM739 444.8h3v13.17h-3zM683 471.2h1v13.17h-1zM551 484.3h1v13.17h-1zM306 497.5h1v13.17h-1zM469 497.5h1v13.17h-1zM639 497.5h1v13.17h-1zM186 510.7h1v13.17h-1zM826 510.7h1v13.17h-1zM900 510.7h1v13.17h-1zM1080 510.7h1v13.17h-1zM992 537.0h2v13.17h-2zM1133 537.0h2v13.17h-2zM1142 537.0h1v13.17h-1zM439 550.2h1v13.17h-1zM863 550.2h3v13.17h-3zM913 550.2h1v13.17h-1zM1136 550.2h1v13.17h-1zM1152 550.2h2v13.17h-2zM897 563.4h1v13.17h-1zM181 576.5h1v13.17h-1zM213 576.5h2v13.17h-2zM919 576.5h1v13.17h-1zM921 576.5h1v13.17h-1zM930 576.5h1v13.17h-1zM1020 576.5h1v13.17h-1zM286 589.7h1v13.17h-1zM294 589.7h2v13.17h-2zM522 589.7h2v13.17h-2zM548 589.7h1v13.17h-1zM1023 589.7h1v13.17h-1zM1040 589.7h2v13.17h-2zM1050 589.7h1v13.17h-1z"/>
<path fill="#c8d8e9" d="M257 76.1h1v13.17h-1zM382 76.1h1v13.17h-1zM406 102.4h1v13.17h-1zM257 115.6h1v13.17h-1zM994 155.1h2v13.17h-2zM508 168.3h1v13.17h-1zM822 220.9h2v13.17h-2zM636 234.1h2v13.17h-2zM746 260.4h4v13.17h-4zM753 260.4h1v13.17h-1zM745 365.8h1v13.17h-1zM652 392.1h1v13.17h-1zM651 405.3h1v13.17h-1zM658 405.3h1v13.17h-1zM741 418.5h1v13.17h-1zM428 484.3h1v13.17h-1zM431 523.9h1v13.17h-1zM198 576.5h1v13.17h-1zM406 589.7h1v13.17h-1z"/>
<path fill="#cbd9eb" d="M258 76.1h1v13.17h-1zM207 102.4h2v13.17h-2zM224 102.4h1v13.17h-1zM407 102.4h2v13.17h-2zM479 155.1h1v13.17h-1zM517 155.1h2v13.17h-2zM998 155.1h2v13.17h-2zM1022 155.1h2v13.17h-2zM1035 155.1h1v13.17h-1zM1153 155.1h1v13.17h-1zM402 181.4h1v13.17h-1zM1135 181.4h1v13.17h-1zM752 207.8h2v13.17h-2zM819 220.9h3v13.17h-3zM638 260.4h1v13.17h-1zM657 405.3h1v13.17h-1zM665 405.3h1v13.17h-1zM678 405.3h1v13.17h-1zM747 418.5h1v13.17h-1zM431 484.3h1v13.17h-1zM195 576.5h2v13.17h-2zM264 576.5h1v13.17h-1zM372 576.5h1v13.17h-1zM257 589.7h1v13.17h-1zM262 589.7h2v13.17h-2zM907 589.7h2v13.17h-2zM1000 589.7h1v13.17h-1z"/>
<path fill="#d9e4f2" d="M259 76.1h1v13.17h-1zM282 76.1h1v13.17h-1zM284 76.1h1v13.17h-1zM329 76.1h2v13.17h-2zM335 76.1h2v13.17h-2zM343 76.1h2v13.17h-2zM403 76.1h1v13.17h-1zM416 76.1h1v13.17h-1zM420 76.1h2v13.17h-2zM424 76.1h2v13.17h-2zM466 76.1h1v13.17h-1zM477 76.1h2v13.17h-2zM480 76.1h1v13.17h-1zM483 76.1h1v13.17h-1zM489 76.1h1v13.17h-1zM222 89.2h1v13.17h-1zM641 89.2h2v13.17h-2zM644 89.2h1v13.17h-1zM172 102.4h1v13.17h-1zM230 102.4h2v13.17h-2zM257 102.4h2v13.17h-2zM275 102.4h1v13.17h-1zM304 102.4h2v13.17h-2zM186 128.8h1v13.17h-1zM172 155.1h2v13.17h-2zM190 155.1h2v13.17h-2zM208 155.1h2v13.17h-2zM221 155.1h1v13.17h-1zM231 155.1h1v13.17h-1zM256 155.1h1v13.17h-1zM275 155.1h1v13.17h-1zM281 155.1h1v13.17h-1zM411 155.1h2v13.17h-2zM418 155.1h1v13.17h-1zM421 155.1h2v13.17h-2zM425 155.1h1v13.17h-1zM511 155.1h1v13.17h-1zM575 155.1h1v13.17h-1zM605 155.1h1v13.17h-1zM1031 155.1h2v13.17h-2zM1063 155.1h1v13.17h-1zM1082 155.1h2v13.17h-2zM1101 155.1h1v13.17h-1zM1159 155.1h1v13.17h-1zM1135 168.3h1v13.17h-1zM1137 168.3h1v13.17h-1zM177 181.4h1v13.17h-1zM486 181.4h1v13.17h-1zM499 181.4h1v13.17h-1zM745 220.9h2v13.17h-2zM781 220.9h1v13.17h-1zM824 220.9h1v13.17h-1zM1018 220.9h1v13.17h-1zM521 234.1h1v13.17h-1zM498 247.3h1v13.17h-1zM667 273.6h1v13.17h-1zM907 286.8h2v13.17h-2zM678 300.0h1v13.17h-1zM981 339.5h1v13.17h-1zM435 352.6h1v13.17h-1zM824 352.6h2v13.17h-2zM656 392.1h1v13.17h-1zM664 392.1h1v13.17h-1zM818 392.1h2v13.17h-2zM1061 392.1h1v13.17h-1zM677 405.3h1v13.17h-1zM717 405.3h2v13.17h-2zM722 405.3h2v13.17h-2zM742 405.3h1v13.17h-1zM636 418.5h1v13.17h-1zM755 418.5h1v13.17h-1zM461 431.7h1v13.17h-1zM997 458.0h1v13.17h-1zM240 471.2h1v13.17h-1zM213 484.3h1v13.17h-1zM1015 497.5h1v13.17h-1zM449 550.2h1v13.17h-1zM637 550.2h1v13.17h-1zM873 550.2h1v13.17h-1zM1132 550.2h2v13.17h-2zM202 576.5h1v13.17h-1zM216 576.5h1v13.17h-1zM262 576.5h2v13.17h-2zM270 576.5h2v13.17h-2zM906 576.5h2v13.17h-2zM1007 576.5h1v13.17h-1zM189 589.7h1v13.17h-1zM228 589.7h1v13.17h-1zM372 589.7h1v13.17h-1zM389 589.7h1v13.17h-1zM434 589.7h3v13.17h-3zM495 589.7h3v13.17h-3zM530 589.7h1v13.17h-1zM532 589.7h1v13.17h-1zM1137 589.7h1v13.17h-1z"/>
<path fill="#ceddec" d="M265 76.1h2v13.17h-2zM272 76.1h1v13.17h-1zM269 89.2h1v13.17h-1zM265 102.4h1v13.17h-1zM258 115.6h1v13.17h-1zM194 128.8h1v13.17h-1zM432 155.1h1v13.17h-1zM478 155.1h1v13.17h-1zM526 155.1h2v13.17h-2zM529 155.1h2v13.17h-2zM545 155.1h2v13.17h-2zM1007 155.1h1v13.17h-1zM1011 155.1h1v13.17h-1zM1049 155.1h1v13.17h-1zM478 181.4h1v13.17h-1zM518 207.8h1v13.17h-1zM598 207.8h1v13.17h-1zM767 220.9h1v13.17h-1zM774 220.9h1v13.17h-1zM644 234.1h2v13.17h-2zM840 234.1h1v13.17h-1zM642 260.4h1v13.17h-1zM404 273.6h1v13.17h-1zM610 273.6h1v13.17h-1zM804 352.6h2v13.17h-2zM809 352.6h1v13.17h-1zM1064 352.6h1v13.17h-1zM556 392.1h1v13.17h-1zM1108 405.3h1v13.17h-1zM790 418.5h1v13.17h-1zM581 431.7h1v13.17h-1zM699 431.7h1v13.17h-1zM980 431.7h1v13.17h-1zM195 458.0h1v13.17h-1zM561 484.3h1v13.17h-1zM1135 537.0h1v13.17h-1zM850 550.2h1v13.17h-1zM516 563.4h1v13.17h-1zM180 576.5h1v13.17h-1zM218 589.7h1v13.17h-1zM261 589.7h1v13.17h-1zM265 589.7h1v13.17h-1z"/>
<path fill="#ccdbeb" d="M275 76.1h1v13.17h-1zM173 102.4h2v13.17h-2zM238 102.4h1v13.17h-1zM253 102.4h1v13.17h-1zM183 128.8h1v13.17h-1zM1000 155.1h1v13.17h-1zM1005 155.1h1v13.17h-1zM1137 155.1h1v13.17h-1zM755 207.8h1v13.17h-1zM769 220.9h1v13.17h-1zM809 220.9h1v13.17h-1zM638 365.8h1v13.17h-1zM644 365.8h1v13.17h-1zM813 405.3h1v13.17h-1zM638 418.5h1v13.17h-1zM891 563.4h1v13.17h-1zM265 576.5h2v13.17h-2zM1003 589.7h2v13.17h-2z"/>
<path fill="#dfeaf5" d="M276 76.1h1v13.17h-1zM285 76.1h1v13.17h-1zM348 76.1h2v13.17h-2zM365 76.1h1v13.17h-1zM491 76.1h1v13.17h-1zM498 76.1h1v13.17h-1zM523 76.1h1v13.17h-1zM526 76.1h1v13.17h-1zM532 76.1h1v13.17h-1zM203 89.2h1v13.17h-1zM211 89.2h1v13.17h-1zM1006 89.2h1v13.17h-1zM1012 89.2h1v13.17h-1zM1062 89.2h2v13.17h-2zM1065 89.2h1v13.17h-1zM1134 89.2h2v13.17h-2zM1141 89.2h1v13.17h-1zM254 102.4h1v13.17h-1zM259 102.4h3v13.17h-3zM267 102.4h2v13.17h-2zM272 102.4h1v13.17h-1zM281 102.4h1v13.17h-1zM306 102.4h1v13.17h-1zM310 102.4h2v13.17h-2zM390 102.4h1v13.17h-1zM475 102.4h1v13.17h-1zM518 102.4h1v13.17h-1zM531 102.4h1v13.17h-1zM545 102.4h2v13.17h-2zM551 102.4h2v13.17h-2zM911 102.4h1v13.17h-1zM1141 102.4h1v13.17h-1zM265 115.6h2v13.17h-2zM268 115.6h1v13.17h-1zM201 128.8h2v13.17h-2zM1000 128.8h1v13.17h-1zM1005 128.8h1v13.17h-1zM228 155.1h2v13.17h-2zM293 155.1h1v13.17h-1zM295 155.1h1v13.17h-1zM303 155.1h1v13.17h-1zM313 155.1h1v13.17h-1zM331 155.1h1v13.17h-1zM354 155.1h1v13.17h-1zM358 155.1h1v13.17h-1zM373 155.1h2v13.17h-2zM376 155.1h1v13.17h-1zM390 155.1h1v13.17h-1zM400 155.1h1v13.17h-1zM419 155.1h1v13.17h-1zM482 155.1h2v13.17h-2zM544 155.1h1v13.17h-1zM578 155.1h2v13.17h-2zM602 155.1h1v13.17h-1zM625 155.1h2v13.17h-2zM741 155.1h1v13.17h-1zM750 155.1h1v13.17h-1zM912 155.1h1v13.17h-1zM915 155.1h1v13.17h-1zM1120 155.1h1v13.17h-1zM1129 155.1h1v13.17h-1zM257 168.3h1v13.17h-1zM271 168.3h1v13.17h-1zM284 168.3h1v13.17h-1zM555 168.3h1v13.17h-1zM1141 168.3h2v13.17h-2zM185 181.4h2v13.17h-2zM201 181.4h1v13.17h-1zM207 181.4h1v13.17h-1zM223 181.4h2v13.17h-2zM254 181.4h2v13.17h-2zM263 181.4h1v13.17h-1zM265 181.4h1v13.17h-1zM280 181.4h2v13.17h-2zM420 181.4h1v13.17h-1zM491 181.4h2v13.17h-2zM509 207.8h1v13.17h-1zM617 220.9h1v13.17h-1zM632 220.9h2v13.17h-2zM742 220.9h3v13.17h-3zM747 220.9h2v13.17h-2zM780 220.9h1v13.17h-1zM782 220.9h1v13.17h-1zM940 234.1h1v13.17h-1zM192 247.3h1v13.17h-1zM741 247.3h1v13.17h-1zM924 286.8h2v13.17h-2zM772 326.3h2v13.17h-2zM642 339.5h1v13.17h-1zM655 339.5h1v13.17h-1zM651 352.6h1v13.17h-1zM806 352.6h1v13.17h-1zM820 352.6h2v13.17h-2zM823 352.6h1v13.17h-1zM891 365.8h2v13.17h-2zM1054 379.0h1v13.17h-1zM514 392.1h1v13.17h-1zM659 392.1h2v13.17h-2zM827 392.1h1v13.17h-1zM698 405.3h1v13.17h-1zM715 405.3h1v13.17h-1zM719 405.3h1v13.17h-1zM731 405.3h1v13.17h-1zM750 405.3h1v13.17h-1zM642 418.5h1v13.17h-1zM652 418.5h1v13.17h-1zM657 418.5h2v13.17h-2zM666 418.5h3v13.17h-3zM897 418.5h2v13.17h-2zM217 444.8h1v13.17h-1zM859 444.8h1v13.17h-1zM922 444.8h1v13.17h-1zM745 471.2h1v13.17h-1zM176 537.0h2v13.17h-2zM196 537.0h1v13.17h-1zM995 537.0h1v13.17h-1zM1007 537.0h1v13.17h-1zM1018 537.0h1v13.17h-1zM1152 537.0h1v13.17h-1zM501 550.2h1v13.17h-1zM640 550.2h1v13.17h-1zM642 550.2h1v13.17h-1zM644 550.2h2v13.17h-2zM648 550.2h1v13.17h-1zM672 550.2h1v13.17h-1zM782 550.2h1v13.17h-1zM923 550.2h3v13.17h-3zM1135 550.2h1v13.17h-1zM1151 550.2h1v13.17h-1zM324 563.4h1v13.17h-1zM357 563.4h1v13.17h-1zM230 576.5h1v13.17h-1zM269 576.5h1v13.17h-1zM417 576.5h1v13.17h-1zM482 576.5h1v13.17h-1zM491 576.5h1v13.17h-1zM940 576.5h1v13.17h-1zM1004 576.5h2v13.17h-2zM1038 576.5h4v13.17h-4zM1156 576.5h1v13.17h-1zM190 589.7h1v13.17h-1zM291 589.7h1v13.17h-1zM304 589.7h1v13.17h-1zM392 589.7h2v13.17h-2zM420 589.7h1v13.17h-1zM493 589.7h1v13.17h-1zM514 589.7h2v13.17h-2zM526 589.7h1v13.17h-1zM549 589.7h1v13.17h-1zM571 589.7h1v13.17h-1zM922 589.7h2v13.17h-2zM933 589.7h1v13.17h-1zM939 589.7h1v13.17h-1zM1046 589.7h2v13.17h-2zM1056 589.7h2v13.17h-2zM1068 589.7h1v13.17h-1z"/>
<path fill="#cddcec" d="M277 76.1h1v13.17h-1zM279 76.1h1v13.17h-1zM410 76.1h1v13.17h-1zM177 102.4h2v13.17h-2zM222 102.4h1v13.17h-1zM233 102.4h1v13.17h-1zM242 102.4h1v13.17h-1zM251 102.4h1v13.17h-1zM266 102.4h1v13.17h-1zM402 102.4h1v13.17h-1zM1136 102.4h1v13.17h-1zM189 128.8h1v13.17h-1zM192 128.8h2v13.17h-2zM1141 155.1h1v13.17h-1zM179 168.3h1v13.17h-1zM408 181.4h1v13.17h-1zM481 181.4h1v13.17h-1zM244 207.8h1v13.17h-1zM751 207.8h1v13.17h-1zM802 220.9h1v13.17h-1zM643 234.1h1v13.17h-1zM1014 313.1h1v13.17h-1zM193 352.6h1v13.17h-1zM821 392.1h2v13.17h-2zM688 405.3h1v13.17h-1zM812 405.3h1v13.17h-1zM790 471.2h1v13.17h-1zM436 550.2h3v13.17h-3zM203 576.5h1v13.17h-1zM260 576.5h2v13.17h-2zM184 589.7h1v13.17h-1zM400 589.7h1v13.17h-1zM480 589.7h2v13.17h-2z"/>
<path fill="#7aa6c9" d="M371 76.1h1v13.17h-1zM899 141.9h1v13.17h-1z"/>
<path fill="#81abcc" d="M373 76.1h1v13.17h-1zM742 207.8h1v13.17h-1zM430 523.9h1v13.17h-1z"/>
<path fill="#87afcf" d="M374 76.1h2v13.17h-2zM633 260.4h2v13.17h-2z"/>
<path fill="#84aece" d="M376 76.1h1v13.17h-1zM741 207.8h1v13.17h-1zM428 523.9h1v13.17h-1z"/>
<path fill="#c1d4e6" d="M380 76.1h1v13.17h-1zM198 102.4h1v13.17h-1zM1135 102.4h1v13.17h-1zM169 128.8h1v13.17h-1zM992 155.1h2v13.17h-2zM175 168.3h1v13.17h-1zM400 181.4h1v13.17h-1zM758 220.9h1v13.17h-1zM806 220.9h1v13.17h-1zM641 260.4h1v13.17h-1zM806 405.3h2v13.17h-2zM811 405.3h1v13.17h-1zM197 576.5h1v13.17h-1zM200 576.5h1v13.17h-1zM373 576.5h1v13.17h-1zM212 589.7h1v13.17h-1z"/>
<path fill="#b1cadf" d="M381 76.1h1v13.17h-1zM197 102.4h1v13.17h-1zM206 102.4h1v13.17h-1zM214 102.4h3v13.17h-3zM178 128.8h1v13.17h-1zM738 207.8h2v13.17h-2zM814 220.9h1v13.17h-1zM763 234.1h1v13.17h-1zM888 234.1h1v13.17h-1zM741 260.4h1v13.17h-1zM838 365.8h1v13.17h-1zM472 589.7h1v13.17h-1zM909 589.7h1v13.17h-1z"/>
<path fill="#bdd1e4" d="M383 76.1h1v13.17h-1zM463 76.1h1v13.17h-1zM904 141.9h2v13.17h-2zM474 181.4h1v13.17h-1zM639 365.8h1v13.17h-1zM816 392.1h1v13.17h-1zM993 589.7h1v13.17h-1z"/>
<path fill="#d2e0ee" d="M467 76.1h1v13.17h-1zM474 76.1h1v13.17h-1zM505 76.1h1v13.17h-1zM210 89.2h1v13.17h-1zM228 102.4h2v13.17h-2zM241 102.4h1v13.17h-1zM415 102.4h1v13.17h-1zM196 155.1h1v13.17h-1zM521 155.1h2v13.17h-2zM528 155.1h1v13.17h-1zM566 155.1h2v13.17h-2zM1037 155.1h1v13.17h-1zM1062 155.1h1v13.17h-1zM1134 155.1h1v13.17h-1zM169 168.3h1v13.17h-1zM171 181.4h2v13.17h-2zM410 181.4h2v13.17h-2zM472 181.4h1v13.17h-1zM485 181.4h1v13.17h-1zM490 181.4h1v13.17h-1zM1134 181.4h1v13.17h-1zM777 220.9h1v13.17h-1zM807 220.9h1v13.17h-1zM827 220.9h1v13.17h-1zM764 234.1h1v13.17h-1zM461 247.3h1v13.17h-1zM643 260.4h2v13.17h-2zM1037 273.6h1v13.17h-1zM467 379.0h1v13.17h-1zM482 392.1h1v13.17h-1zM341 405.3h1v13.17h-1zM653 405.3h2v13.17h-2zM663 405.3h1v13.17h-1zM693 405.3h1v13.17h-1zM700 405.3h1v13.17h-1zM754 418.5h1v13.17h-1zM1125 418.5h1v13.17h-1zM738 444.8h1v13.17h-1zM520 484.3h1v13.17h-1zM427 510.7h1v13.17h-1zM958 523.9h1v13.17h-1zM791 550.2h1v13.17h-1zM1137 550.2h1v13.17h-1zM409 576.5h1v13.17h-1zM221 589.7h1v13.17h-1zM405 589.7h1v13.17h-1zM408 589.7h1v13.17h-1zM994 589.7h3v13.17h-3zM1011 589.7h1v13.17h-1zM1141 589.7h1v13.17h-1z"/>
<path fill="#bfd3e5" d="M468 76.1h2v13.17h-2zM209 102.4h2v13.17h-2zM212 102.4h2v13.17h-2zM187 128.8h2v13.17h-2zM173 168.3h1v13.17h-1zM1139 181.4h1v13.17h-1zM747 207.8h1v13.17h-1zM891 234.1h1v13.17h-1zM995 576.5h2v13.17h-2zM258 589.7h1v13.17h-1z"/>
<path fill="#c2d5e7" d="M1136 76.1h1v13.17h-1zM199 102.4h1v13.17h-1zM476 155.1h2v13.17h-2zM1003 155.1h2v13.17h-2zM503 168.3h3v13.17h-3zM484 181.4h1v13.17h-1zM764 207.8h1v13.17h-1zM639 234.1h2v13.17h-2zM890 234.1h1v13.17h-1zM640 365.8h2v13.17h-2zM650 405.3h1v13.17h-1zM173 576.5h1v13.17h-1zM994 576.5h1v13.17h-1zM991 589.7h2v13.17h-2z"/>
<path fill="#b7cee1" d="M195 102.4h1v13.17h-1zM170 128.8h1v13.17h-1zM473 181.4h1v13.17h-1zM634 234.1h1v13.17h-1zM652 405.3h1v13.17h-1zM802 405.3h2v13.17h-2zM914 576.5h1v13.17h-1z"/>
<path fill="#95b8d4" d="M200 102.4h1v13.17h-1zM465 576.5h1v13.17h-1z"/>
<path fill="#b6cde0" d="M223 102.4h1v13.17h-1zM793 128.8h1v13.17h-1zM464 181.4h2v13.17h-2zM762 207.8h2v13.17h-2zM815 220.9h3v13.17h-3zM433 550.2h1v13.17h-1zM195 589.7h1v13.17h-1zM471 589.7h1v13.17h-1z"/>
<path fill="#98bbd5" d="M175 128.8h1v13.17h-1zM746 207.8h1v13.17h-1z"/>
<path fill="#a4c2d8" d="M176 128.8h2v13.17h-2zM743 260.4h1v13.17h-1zM740 418.5h1v13.17h-1zM474 589.7h1v13.17h-1z"/>
<path fill="#bed2e4" d="M179 128.8h1v13.17h-1zM468 155.1h1v13.17h-1zM479 181.4h1v13.17h-1zM838 207.8h1v13.17h-1zM659 405.3h1v13.17h-1zM908 576.5h1v13.17h-1zM911 576.5h2v13.17h-2zM993 576.5h1v13.17h-1z"/>
<path fill="#cbdaeb" d="M185 128.8h1v13.17h-1zM467 155.1h1v13.17h-1zM1026 155.1h1v13.17h-1zM1030 155.1h1v13.17h-1zM1034 155.1h1v13.17h-1zM1036 155.1h1v13.17h-1zM487 181.4h2v13.17h-2zM793 207.8h2v13.17h-2zM632 234.1h2v13.17h-2zM750 260.4h2v13.17h-2zM646 365.8h1v13.17h-1zM815 392.1h1v13.17h-1zM820 392.1h1v13.17h-1zM666 405.3h1v13.17h-1zM679 405.3h2v13.17h-2zM683 405.3h2v13.17h-2zM256 576.5h1v13.17h-1zM909 576.5h2v13.17h-2z"/>
<path fill="#bbd1e3" d="M990 155.1h2v13.17h-2zM768 220.9h1v13.17h-1zM743 365.8h2v13.17h-2zM655 405.3h1v13.17h-1zM810 405.3h1v13.17h-1zM429 484.3h1v13.17h-1zM175 576.5h2v13.17h-2zM468 576.5h2v13.17h-2zM199 589.7h1v13.17h-1zM202 589.7h1v13.17h-1zM256 589.7h1v13.17h-1zM259 589.7h1v13.17h-1z"/>
<path fill="#6192bc" d="M1132 168.3h2v13.17h-2z"/>
<path fill="#a6c3d9" d="M1134 168.3h1v13.17h-1zM1150 168.3h2v13.17h-2zM758 207.8h2v13.17h-2zM174 589.7h1v13.17h-1z"/>
<path fill="#b4cce0" d="M463 181.4h1v13.17h-1zM790 550.2h1v13.17h-1zM464 576.5h1v13.17h-1z"/>
<path fill="#4d7fb1" d="M1150 181.4h2v13.17h-2z"/>
<path fill="#6293bd" d="M1152 181.4h2v13.17h-2z"/>
<path fill="#5e90bb" d="M1154 181.4h1v13.17h-1z"/>
<path fill="#73a1c5" d="M740 207.8h1v13.17h-1z"/>
<path fill="#83adcd" d="M743 207.8h1v13.17h-1z"/>
<path fill="#6999c0" d="M760 207.8h2v13.17h-2z"/>
<path fill="#a2c1d8" d="M756 220.9h2v13.17h-2zM742 260.4h1v13.17h-1zM635 365.8h1v13.17h-1zM633 418.5h1v13.17h-1z"/>
<path fill="#6e9dc3" d="M759 234.1h1v13.17h-1zM467 589.7h2v13.17h-2z"/>
<path fill="#97bad4" d="M636 365.8h1v13.17h-1zM173 589.7h1v13.17h-1z"/>
<path fill="#93b7d3" d="M804 405.3h1v13.17h-1z"/>
<path fill="#5f91bc" d="M429 523.9h1v13.17h-1z"/>
<path fill="#5384b4" d="M169 576.5h1v13.17h-1z"/>
<path fill="#6a9ac1" d="M170 576.5h1v13.17h-1z"/>
<path fill="#80aacc" d="M463 576.5h1v13.17h-1zM197 589.7h2v13.17h-2z"/>
<path fill="#f5fafe" d="M905 576.5h1v13.17h-1z"/>
<path fill="#5486b5" d="M169 589.7h2v13.17h-2z"/>
<path fill="#9abbd5" d="M200 589.7h1v13.17h-1z"/>
<path fill="#497baf" d="M463 589.7h1v13.17h-1z"/>
<path fill="#79a5c8" d="M464 589.7h1v13.17h-1z"/>
<path fill="#4e80b1" d="M465 589.7h1v13.17h-1z"/>
<path fill="#6d9cc2" d="M469 589.7h2v13.17h-2z"/>
<rect x="169.0" y="62.90" width="26.0" height="13.17" fill="url(#g0)"/>
<rect x="195.0" y="76.07" width="60.0" height="13.17" fill="url(#g1)"/>
<rect x="255.0" y="89.24" width="116.0" height="13.17" fill="url(#g2)"/>
<rect x="371.0" y="102.41" width="18.0" height="13.17" fill="url(#g3)"/>
<rect x="389.4" y="115.58" width="10.3" height="13.17" fill="url(#g4)"/>
<rect x="399.7" y="128.75" width="27.5" height="13.17" fill="url(#g5)"/>
<rect x="427.2" y="141.92" width="5.1" height="13.17" fill="#0b2059"/>
<rect x="432.3" y="155.09" width="30.7" height="13.17" fill="url(#g7)"/>
<rect x="463.0" y="168.26" width="40.0" height="13.17" fill="url(#g8)"/>
<rect x="503.3" y="181.43" width="129.2" height="13.17" fill="url(#g9)"/>
<rect x="632.0" y="194.60" width="0.9" height="13.17" fill="#8ea6c8"/>
<rect x="632.8" y="207.77" width="16.9" height="13.17" fill="url(#g11)"/>
<rect x="650.0" y="220.94" width="88.4" height="13.17" fill="url(#g12)"/>
<rect x="738.4" y="234.11" width="17.4" height="13.17" fill="url(#g13)"/>
<rect x="755.8" y="247.28" width="2.9" height="13.17" fill="#0b2059"/>
<rect x="758.7" y="260.45" width="6.1" height="13.17" fill="url(#g15)"/>
<rect x="764.8" y="273.62" width="1.0" height="13.17" fill="#4a5f8f"/>
<rect x="766.0" y="286.79" width="12.6" height="13.17" fill="url(#g17)"/>
<rect x="778.8" y="299.96" width="2.6" height="13.17" fill="#0b2059"/>
<rect x="779.5" y="313.13" width="3.5" height="13.17" fill="url(#g19)"/>
<rect x="783.0" y="326.30" width="2.5" height="13.17" fill="#0b2059"/>
<rect x="785.2" y="339.47" width="3.6" height="13.17" fill="#0b2059"/>
<rect x="789.2" y="352.64" width="2.2" height="13.17" fill="#0b2059"/>
<rect x="792.0" y="365.81" width="8.0" height="13.17" fill="url(#g23)"/>
<rect x="799.8" y="378.98" width="2.0" height="13.17" fill="#0b2059"/>
<rect x="801.8" y="392.15" width="12.0" height="13.17" fill="url(#g25)"/>
<rect x="813.8" y="405.32" width="23.2" height="13.17" fill="url(#g26)"/>
<rect x="836.8" y="418.49" width="9.7" height="13.17" fill="url(#g27)"/>
<rect x="846.6" y="431.66" width="1.1" height="13.17" fill="#2a3f78"/>
<rect x="847.7" y="444.83" width="39.1" height="13.17" fill="url(#g29)"/>
<rect x="886.8" y="458.00" width="3.2" height="13.17" fill="#0b2059"/>
<rect x="890.0" y="471.17" width="9.2" height="13.17" fill="url(#g31)"/>
<rect x="899.2" y="484.34" width="2.2" height="13.17" fill="#0b2059"/>
<rect x="901.2" y="497.51" width="2.3" height="13.17" fill="#0b2059"/>
<rect x="903.5" y="510.68" width="2.3" height="13.17" fill="#0b2059"/>
<rect x="905.6" y="523.85" width="1.2" height="13.17" fill="#1a2f68"/>
<rect x="906.8" y="537.02" width="81.8" height="13.17" fill="url(#g36)"/>
<rect x="988.6" y="550.19" width="143.2" height="13.17" fill="url(#g37)"/>
<rect x="1131.1" y="563.36" width="1.0" height="13.17" fill="#5a78ad"/>
<rect x="1132.1" y="576.53" width="16.1" height="13.17" fill="url(#g39)"/>
<rect x="1148.2" y="589.70" width="12.0" height="13.17" fill="url(#g40)"/></g>
<g font-family="Liberation Sans, Arial, sans-serif" font-size="16.08" fill="#000"><text x="1163.7" y="75.78">11. Neuroblastoma #3</text>
<text x="1163.7" y="88.95">33. Neuroblastoma: MYCN</text>
<text x="1163.7" y="102.12">19. Neuroblastoma #5</text>
<text x="1163.7" y="115.30">36. Neuroblastoma #6</text>
<text x="1163.7" y="128.47">17. Neuroblastoma #4</text>
<text x="1163.7" y="141.64">41. IFN Response: Activity Program</text>
<text x="1163.7" y="154.81">25. Cancer Associated Fibroblast: Intermediate [Myo:Inf]</text>
<text x="1163.7" y="167.98">40. Cell Cycle (G1)</text>
<text x="1163.7" y="181.15">2. Neuroblastoma #1</text>
<text x="1163.7" y="194.31">31. Neuroblastoma: Adrenergic #2</text>
<text x="1163.7" y="207.49">29. Myelocyte</text>
<text x="1163.7" y="220.66">39. M-MDSC</text>
<text x="1163.7" y="233.83">3. Translation (Activity Program)</text>
<text x="1163.7" y="247.00">5. M2 Macrophages</text>
<text x="1163.7" y="260.17">14. Plasmacytoid Dendritic Cell</text>
<text x="1163.7" y="273.33">22. Intermediate Monocyte</text>
<text x="1163.7" y="286.50">9. Adrenal Cortex Cells</text>
<text x="1163.7" y="299.68">26. Naive B Cell</text>
<text x="1163.7" y="312.85">1. Endothelial</text>
<text x="1163.7" y="326.01">18. Endothelial: Lymphatic</text>
<text x="1163.7" y="339.19">15. Pre-B Cells</text>
<text x="1163.7" y="352.35">23. Pro-B Cell</text>
<text x="1163.7" y="365.52">32. Regulatory T Cell</text>
<text x="1163.7" y="378.69">4. Macrophage</text>
<text x="1163.7" y="391.87">13. Erythroblasts</text>
<text x="1163.7" y="405.03">20. Cytotoxic T Cell</text>
<text x="1163.7" y="418.20">35. Naive T Cells</text>
<text x="1163.7" y="431.38">38. M1 Macrophage</text>
<text x="1163.7" y="444.54">16. Plasma Cells</text>
<text x="1163.7" y="457.71">24. Neuroblastoma: Adrenergic #1</text>
<text x="1163.7" y="470.88">12. Schwannian Stromal Cell: GNB</text>
<text x="1163.7" y="484.06">21. Ganglioneuroblastoma Stromal</text>
<text x="1163.7" y="497.22">7. Cancer Associated Fibroblast: Myofibroblast (POSTN+)</text>
<text x="1163.7" y="510.39">27. Schwannian Stromal Cell: NB</text>
<text x="1163.7" y="523.56">30. Cancer Associated Fibroblast: Intermediate [Inf:Adipo]</text>
<text x="1163.7" y="536.74">34. Cancer Associated Fibroblast: Myofibroblast (Contractile)</text>
<text x="1163.7" y="549.90">10. Neuroblastoma #2</text>
<text x="1163.7" y="563.07">37. Neuroblastoma #7</text>
<text x="1163.7" y="576.25">6. Cancer Associated Fibroblast: Inflammatory</text>
<text x="1163.7" y="589.41">8. Cell Cycle (G2-M)</text>
<text x="1163.7" y="602.58">28. Cell Cycle (G1/S)</text></g>
<text x="664.5" y="627" text-anchor="middle" font-family="Liberation Sans, Arial, sans-serif" font-size="17.6">Cells</text>
<text transform="translate(157.6 333.5) rotate(-90)" text-anchor="middle" font-family="Liberation Sans, Arial, sans-serif" font-size="17.6">GEPs</text>
<defs><linearGradient id="lg" x1="0" x2="1" y1="0" y2="0"><stop offset="0.000" stop-color="#f7fbff"/><stop offset="0.080" stop-color="#f2f8fe"/><stop offset="0.200" stop-color="#d6e5f4"/><stop offset="0.300" stop-color="#bcd7ec"/><stop offset="0.400" stop-color="#9fcbe1"/><stop offset="0.500" stop-color="#76b4d8"/><stop offset="0.600" stop-color="#4b98ca"/><stop offset="0.700" stop-color="#2676b8"/><stop offset="0.780" stop-color="#0e59a2"/><stop offset="0.850" stop-color="#08336f"/><stop offset="0.900" stop-color="#0a245e"/><stop offset="0.930" stop-color="#0b2059"/><stop offset="1.000" stop-color="#0b2059"/></linearGradient></defs><rect x="616" y="707" width="48" height="16" fill="url(#lg)"/><rect x="618.6" y="707" width="1" height="3.5" fill="#fff"/><rect x="618.6" y="719.5" width="1" height="3.5" fill="#fff"/><rect x="659.0" y="707" width="1" height="3.5" fill="#fff"/><rect x="659.0" y="719.5" width="1" height="3.5" fill="#fff"/><text x="616" y="700.2" font-family="Liberation Sans, Arial, sans-serif" font-weight="bold" font-size="13.35">Activity Scores</text><text x="619.1" y="735.4" text-anchor="middle" font-family="Liberation Sans, Arial, sans-serif" font-size="13.2">0</text><text x="659.3" y="735.4" text-anchor="middle" font-family="Liberation Sans, Arial, sans-serif" font-size="13.2">200</text>
</svg>
</body></html>
